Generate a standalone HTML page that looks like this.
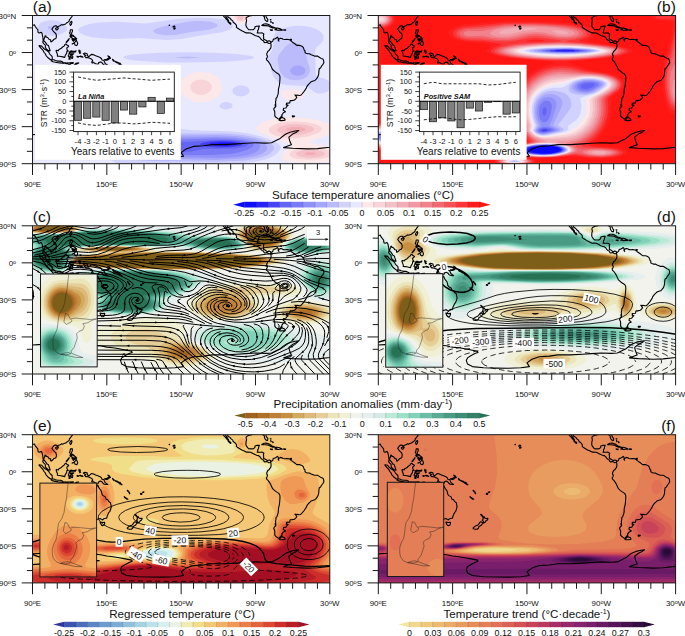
<!DOCTYPE html>
<html><head><meta charset="utf-8"><style>
html,body{margin:0;padding:0;background:#fff;width:685px;height:636px;overflow:hidden;position:relative}
text{font-family:"Liberation Sans",sans-serif}
</style></head><body>
<svg width="685" height="636" viewBox="0 0 685 636" style="position:absolute;left:0;top:0" font-family='"Liberation Sans", sans-serif'>
<rect width="685" height="636" fill="#fff"/>
<clipPath id="clipa"><rect x="32.50" y="15.50" width="297.30" height="148.20"/></clipPath>
<g clip-path="url(#clipa)">
<rect x="32.50" y="15.50" width="297.30" height="148.20" fill="#e8e8ff"/>
<path d="M143.4 167.4L160.1 167.2L186.1 164.6L231.9 164L254.2 162L265.4 159.6L272.8 156.6L276.5 153.8L278.9 151.3L280.5 148.9L280.8 146.4L278.6 143.9L271.4 140.2L259.2 135.9L248 133.2L229.5 131.2L192.3 130.3L182.5 129.1L166.3 126.2L153.9 125.3L135.3 126.1L126.6 127.4L118 129.6L110.5 132.3L105.6 134.9L101.7 137.8L98.6 141.5L97.2 145.2L97.2 147.6L97.9 150.1L101.7 155.1L106.8 158.6L114.3 162L122.9 164.6L134.1 166.6L143.4 167.4ZM223.8 109.4L227 109.5L230.7 108.3L232.2 106.9L232.5 105.7L232.1 104.4L230.7 103L227 102L224.5 102.1L221.5 103.2L220 104.4L219.5 105.7L219.7 106.9L220.8 108.1L223.8 109.4ZM236.7 95.8L240.6 96.5L245.6 95.5L248.8 93.3L249.4 92.1L249.4 89.6L247.4 87.1L244.3 85.7L239.4 85.3L235.7 86.4L233.2 88.4L232.3 90.8L233.2 93.4L236.7 95.8ZM317.1 93.3L322.4 93.6L326.9 92.1L329.9 89.6L331.2 85.9L330.7 83.4L328.6 80.8L324.8 78.8L317.4 76.9L315.8 74.8L315 51.3L316.4 47.6L321.7 42.7L323.3 40.2L323.7 36.5L322.6 34L320.3 31.6L316.2 29.1L310 27L303.8 26L296.4 25.8L290.2 26.5L284 28.1L279.1 30.3L275.9 32.8L274.2 35.3L273.5 37.7L273.4 43.9L272.5 48.8L271.5 51.3L267.2 57.5L269.7 63.7L271.5 72.3L273.7 77.2L277.8 82L281.5 84L286.4 85L305.5 85.9L308.7 87.5L313.7 91.8L317.1 93.3ZM165.7 62.4L188.6 62.6L225.7 61.7L245.6 60L251.9 58.7L254.2 57.5L252.5 56.3L248 55.4L233.2 53.7L213.4 52.7L187.3 52.2L161.3 52.7L141.5 53.7L129.1 55.1L124.5 56.3L123 57.5L125.4 59L134.1 60.5L165.7 62.4ZM151.7 39L167.5 40.1L181.2 39.1L197.3 36.1L222 32.3L230.7 29.2L232.3 27.8L232.8 26.6L231.7 24.1L229.5 21.9L227.2 20.4L224.5 19.6L212.1 18L196 17.7L177.4 19.1L145.2 23.4L116.7 21.8L99.4 22.4L90.7 23.7L84.7 25.4L79.7 27.8L78.5 29.1L78.1 30.3L79.8 32.8L84.5 35.2L90.7 36.9L98.2 38.1L114.3 38.9L139 37.9L151.7 39ZM46 35.3L52.3 36L59.8 34.7L65.8 31.6L66.9 30.3L67.2 27.8L64.3 24.1L58.5 21.1L51.1 20L44.9 20.9L41.2 22.6L39.4 24.1L37.8 27.8L38.4 30.3L39.9 32.2L42.4 33.9L46 35.3Z" fill="#d2d2ff" fill-rule="evenodd"/><path d="M154.3 161.2L218.3 161.8L244.3 160.4L258 158.2L266.6 155.5L269.7 153.8L272.5 151.3L273.9 148.9L274 147.6L272.8 145.2L271.5 143.9L264.5 140.2L254.2 137L243.1 134.9L225.7 133.6L181.2 133.4L153.9 131.8L140.3 132.4L127.9 134.9L122.9 136.7L118.7 139L115.8 141.5L114.1 143.9L113.7 147.6L114.8 150.1L118.7 153.8L123.3 156.3L130.4 158.7L137.8 160.2L154.3 161.2ZM290.1 79.7L297.6 80.2L303.8 78.8L307.6 76L309.2 73.5L309.9 71.1L309.6 67.4L307.5 61.2L306.1 55L303.8 49.2L300.1 44.5L297.6 43.2L295.1 42.6L290.2 43.3L285.4 46.4L278.8 55L277.4 58.7L279.1 68.6L281 73.5L284.4 77.2L290.1 79.7ZM173.4 57.5L187.3 58.4L200.7 57.5L187.3 56.5L173.4 57.5ZM164.3 35.3L175 35.1L191.1 32.1L208.4 29.7L215.2 27.8L217.1 26.6L217.7 25.4L217 24.1L214.9 22.9L210.5 21.7L202.2 20.9L193.5 21.1L184.9 22.2L162.7 26.6L156.4 28.5L153.5 30.3L153.3 31.6L154.6 32.8L157.6 34L164.3 35.3ZM48.3 29.1L49.8 29.8L52.3 29.9L54.5 29.1L55.1 27.8L53.6 26.3L49.8 26L48.4 26.6L47.7 27.8L48.3 29.1Z" fill="#bbbbfc" fill-rule="evenodd"/><path d="M174.3 158.8L215.8 159.9L241.8 158.6L254.2 156.5L261.7 154L265.7 151.3L266.6 150.1L267.3 147.6L266.3 145.2L263.4 142.7L258 140.3L253 138.8L238.1 136.3L219.6 135.3L156.4 135.7L145.2 136.3L137.8 137.5L131.6 139.5L126.6 142.5L124.9 145.2L124.8 147.6L125.4 148.9L127.7 151.3L131.6 153.5L136.6 155.2L150.2 157.5L174.3 158.8ZM293 74.8L297.6 75.9L302.5 74.7L305.1 72.3L305.4 69.8L304.9 68.6L302.5 66.4L300.1 65.6L296.4 65.6L293.9 66.3L290.8 68.6L290 71.1L291.3 73.5L293 74.8Z" fill="#a5a5fa" fill-rule="evenodd"/><path d="M190.7 157.5L220.8 157.9L241.7 156.3L248.2 155.1L255.3 152.6L258.6 150.1L260.2 146.4L259.1 143.9L257.5 142.7L248 139.6L233.2 137.6L214.6 137L168.8 137.9L151.4 139L140.2 141.5L135.9 143.9L134.6 146.4L135.5 148.9L137.8 150.7L142 152.6L147.7 154.1L163.8 156.1L190.7 157.5Z" fill="#9191fa" fill-rule="evenodd"/><path d="M180.2 155.1L212.1 155.1L231.5 153.8L238.4 152.6L246.8 149.9L251.8 147.4L253.7 145.2L253.3 143.9L251.7 142.7L243.1 140.3L230.7 138.9L215.8 138.6L173.7 139.8L161.3 140.6L149.8 142.7L146.5 144.2L144.4 146.4L144.5 147.6L145.5 148.9L147.3 150.1L153.9 152.3L163.8 153.9L180.2 155.1Z" fill="#7a7af6" fill-rule="evenodd"/><path d="M164.9 151.3L173.7 152.2L182.4 152.3L191.1 151.5L203.4 149.1L235.7 148.4L245.6 146.4L247.7 145.2L247.8 143.9L244.3 142.1L238.1 140.8L228.2 139.9L217.1 139.9L189.8 141.8L166.9 142.7L159.7 143.9L156.4 145.2L155 146.4L155 147.6L156.4 148.9L159.3 150.1L164.9 151.3Z" fill="#6464f5" fill-rule="evenodd"/><path d="M206.4 146.4L218.3 147.4L230.7 147.2L239.4 146L241.8 145.2L242.6 143.9L240.6 142.7L235.7 141.6L223.3 140.8L209.6 141.5L202.8 142.7L200 143.9L200.8 145.2L206.4 146.4Z" fill="#4641f2" fill-rule="evenodd"/><path d="M210.8 145.2L218.3 146.1L227 146.2L235.6 145.2L237.2 143.9L234.5 142.7L231.9 142.3L219.6 141.9L211.7 142.7L208.9 143.9L210.8 145.2Z" fill="#2823f5" fill-rule="evenodd"/><path d="M217.3 143.9L223.3 144.9L230 143.9L223.3 143.1L217.3 143.9Z" fill="#0f0fff" fill-rule="evenodd"/><path d="M296.3 162.5L306.3 162.9L316.2 162.6L326.1 161.7L334.8 159.7L334.8 147.9L326.1 145.8L314 143.9L310.3 142.7L310.7 141.5L313.3 140.2L326.1 135.9L331 133.2L333.4 130.4L333.7 129.1L332.7 126.6L329.8 124.3L327.1 122.9L317.4 120L306.3 118.2L290.2 117.1L280.2 117.5L271.6 118.9L264.1 121.4L257.8 125.4L256 127.9L255.9 129.1L258.1 131.6L266 135.3L290.1 143.9L291 145.2L290.3 146.4L285.1 151.3L282.4 155.1L281.8 157.5L282 158.8L283.2 160L285.2 160.9L296.3 162.5ZM196 102L202.2 102.4L208.4 101.4L214.6 98.7L218.5 95.8L221.3 90.8L222 85.9L220.5 81L217.3 77.2L213.4 74.7L208.4 72.8L203.4 72L198.5 72L193.5 72.8L189.8 74.1L186.1 76.2L182.4 79.6L180.7 82.2L179.6 85.9L179.9 89.6L181.4 93.3L183.6 96.1L187.3 98.9L192.3 101.1L196 102ZM292.2 100.7L297.6 100.1L301.4 98.2L303.3 95.8L303.1 93.3L302.3 92.1L298.8 90L292.6 89.1L286.4 89.7L283.1 90.8L281.5 92.1L280.8 94.5L282.7 97.6L286.4 99.7L292.2 100.7ZM237 22.9L239.4 23.8L241.8 24L245.6 22.9L248.2 20.4L251.3 15.5L250.9 14.3L244.3 11.3L240.6 10.8L236.9 11.3L230.2 14.3L230.3 15.5L233.9 20.4L237 22.9ZM145.3 15.5L156.6 15.5L166.3 14.3L137 14.3L145.3 15.5Z" fill="#fce8e8" fill-rule="evenodd"/><path d="M297 158.8L307.5 159.8L319.9 159.2L328.6 157.1L331.8 155.1L332.3 153.8L331.8 152.6L329.8 151.1L322.4 148.7L311.2 147.6L301.3 147.9L293.6 150.1L291.4 151.5L289.5 153.8L289.5 155.1L290.3 156.3L292.6 157.6L297 158.8ZM284.3 137.8L295.1 138.3L308.7 136.2L318.8 132.8L320.6 131.6L321.9 129.1L320.4 126.6L314.9 124L306.3 122.2L296.4 121.4L286.4 121.8L279 123L272.8 125.2L269.2 127.9L268.5 130.4L270.3 132.8L275.3 135.4L284.3 137.8ZM197.7 94.5L201 94.9L204.7 94.4L209.6 91.8L211.3 89.6L211.9 87.1L211.3 84.7L209.6 82.4L205.9 80.2L201 79.4L196 80.2L192.3 82.4L190.2 85.9L190.6 89.6L193.5 92.8L197.7 94.5ZM239.2 21.7L243.1 21.5L245.6 19.5L246.5 16.7L246.2 15.5L245 14.3L241.8 13.2L239.4 13.2L236.9 13.9L235.1 15.5L234.9 16.7L235.8 19.2L236.9 20.5L239.2 21.7Z" fill="#f8d4d8" fill-rule="evenodd"/><path d="M305.1 157.5L312.5 157.7L318.7 157.1L323.6 155.4L325 153.8L324.3 152.6L321.1 151.1L316.2 150.1L310 149.7L303.9 150.1L300.1 150.9L296.7 152.6L296 153.8L296.6 155.1L298.8 156.3L305.1 157.5ZM282.8 134.1L291.4 135.2L302.5 134.5L311.2 132L313.6 130.4L314 129.1L313.4 127.9L311.7 126.6L305 124.7L296.4 124L287.7 124.5L280.2 126.6L277.3 129.1L277.2 130.4L277.9 131.6L282.8 134.1ZM238.3 19.2L240.6 20.1L241.8 20L243.2 19.2L243.9 16.7L243.1 15.5L241.8 15L239.4 15L238.1 15.5L237.4 16.7L238.3 19.2Z" fill="#f4c0c8" fill-rule="evenodd"/><path d="M306.7 155.1L313.7 155.1L316.4 153.8L314.5 152.6L310 152.2L306.3 152.6L304.5 153.8L306.7 155.1ZM288.7 131.6L293.9 132.3L300.1 131.9L304.8 130.4L305.5 129.1L304.2 127.9L300.1 126.8L292.6 126.7L287.9 127.9L286.3 129.1L286.4 130.4L288.7 131.6Z" fill="#f2acb6" fill-rule="evenodd"/>
<path d="M30 25.4L32.5 25.4L34.4 24.8L35.3 26.6L36.8 28.5L37.8 29.7L38.1 32.5L39.3 33L41.2 32.2L42 33.4L42.7 36.5L43.2 40.2L42.8 42.4L43.9 43.9L45.3 45.1L45.4 47.6L46.5 49.1L48 50.2L49.2 50.9L50.2 50.8L49.1 47.6L48.5 45.6L47.1 44.9L45.3 42.1L43.9 40.8L43.9 39.2L44.9 37.1L45 35.9L46 36L46 37L47.7 37.5L49.2 39.5L50.6 39.7L50.8 41.8L51.2 41.9L52.7 40.8L53.6 39.6L55.8 38.6L56.3 37.1L56.4 35.6L55.8 33.5L54.2 32.2L52.9 30.6L51.9 29.2L52.9 27.6L54.2 26.2L55.4 25.9L56.7 26L57.2 27.4L57.9 27.5L58 26.4L59.5 25.9L61 25.1L61.7 24.6L62.6 25L64.1 24.4L65.7 23.9L66.9 22.7L67.9 22.2L69.2 21.1L69.4 19.7L70.3 18.8L71.1 17.6L72 16.5L72.4 15.5L72.1 13M227.2 14.9L228 17L230 18.2L231.1 19.7L232.8 20.9L233.2 22.3L235.2 23.8L236.3 25.1L236.6 26L236.3 27.1L237.3 28L238.9 29L240.6 30.1L241.8 30.8L244.3 31.9L246.2 32.9L248 32.8L250.5 33L253.4 34.5L255 35.4L256.7 36L258.3 36.4L259.7 37.2L260.8 39L262.2 40.2L263.5 40.8L264.1 42.3L264.8 42.7L266.6 42.3L267.6 42.7L268.9 43.5L270.1 43.3L271 42.1L270.7 43.2L271 44.4L271.1 46.4L270.7 48.2L269.6 49.6L269.1 50.6L267.7 51.4L267.4 52.4L266.7 53.8L266.9 55.3L267.5 55.8L267.2 57.5L266.4 58.6L266.7 60L268.2 61.4L269.5 63.2L270.6 65.1L271.6 67.4L272.6 69.5L274.7 71.4L276.5 72.7L278.8 74.2L279.9 76L280 78.5L279.8 81L279.6 83.4L279.3 85.9L278.6 88.4L278.4 90.2L278.3 92.7L278 94.4L277.4 95.9L277 97.3L275.9 98.6L276 100.1L275.5 102L275.7 103.4L275.7 104.9L275.8 106.6L274.3 108L273.7 109.1L274.3 110.5L274.8 111.8L274.8 113.7L274.8 115.9L275.9 117.3L276.9 117.9L278 118.7L279 119.1L279.6 118.4L280.5 117.4L282.2 117.1L281.1 116.5L282.1 115.8L281.7 114.8L282.7 113.8L283.3 112.7L285.5 111.8L284.6 111L283.2 110.1L283.6 108.2L285.9 108L286.9 106.3L288.1 105.4L286.2 104.9L286.8 103.9L286.4 103.2L289.8 102.9L289.9 101.7L290.2 100.6L292 100.6L294.5 100L295.9 98.6L296.8 97.4L296.1 96.3L294.9 94.9L296.2 95.5L297.1 95L299.1 95.5L300.7 95.3L301.9 94L303.8 91.8L305.3 89.6L306.5 87.7L306.8 86.6L308.5 84.3L310 82.9L311.2 81.7L313.2 81L314.9 80.5L316.2 79.1L317.7 77.2L318.2 75.8L318.7 74.2L318.9 71.1L319.3 68.6L320.6 67.9L321.7 65.8L323 64.3L323.9 62.4L323.6 60.6L323 59.1L321.1 58.4L319.3 57.2L317.4 56L314.9 56.1L313.9 55.8L311.2 54.8L309.4 53.8L307.5 53.8L306 53.2L305 52.5L305 50.7L304.2 50.1L303.4 47.6L302.5 46.6L300.7 45.8L299.5 45.4L296.7 45.4L295.1 44L292.6 42.2L291.4 41.4L290.4 40.4L289.5 39.7L286.7 39.3L285.2 39.5L283.1 39.3L281.9 38.5L280.5 38.2L279.1 39L278.4 39.6L278.9 41.1L278.1 40.2L278.4 39L278.1 38L277.4 37.2L276 38.3L274.7 39L273.7 39L273.2 39.5L272.9 40.8L271.8 41.9L271 42.1L270.6 41.4L269.2 40.8L268.1 41.1L267.4 41.4L265.8 40.3L263.5 39L263.7 37.1L263.4 35.3L263.9 34L262.2 32.9L260.8 33L257.7 33L257.2 32.9L257.7 32.3L257.7 30.4L258.4 29.6L258.7 27.8L259.4 26L258.6 26L256.6 26.2L255 26.7L254.9 28.2L253.4 29.6L251.1 29.7L248.7 29.6L247.7 28.5L246.3 26.7L245.9 25L246.1 22.5L246.6 20.7L246.3 19.6L246.1 18L247.3 16.9L249.3 16L251.1 15.7L253.4 14.9M261.9 14.9L262.9 15.6L264.5 16.7L264.4 18.1L265 19.5L265.6 20.6L267 21.4L267.6 21.3L267.9 19.5L266.9 18.2L266.1 16.7L266 14.9M222.8 14.9L223.6 16.1L224.5 17.2L225.6 18.2L226.5 19.6L227.7 20.4L228.1 21.9L229.5 23.4L230.6 24.3L230.9 24.1L230.7 23L229 22.3L228.5 20.4L227.6 19.2L226.2 16.9L225.2 15.5L224.9 14.9M30 134.7L32.5 134.7L38.7 134.3L44.9 134.1L51.1 133.8L57.3 134.3L63.5 135L69.7 134.8L75.9 134.3L82 134.2L88.2 134.1L94.4 134.9L100.6 135.5L106.8 136.8L113 137.5L119.2 138.5L125.4 139.7L131.6 140.9L132.2 142.1L129.1 143.3L125.4 145.2L121.7 147.6L120.5 150.1L121.7 153.8L126.6 156.3L137.8 157.5L150.2 157.8L162.6 157.9L175 157.5L183.6 156.3L181.2 152.6L186.1 148.9L193.5 146.4L203.4 145.8L212.1 144.6L224.5 144.6L236.9 143.9L245.6 143.3L255.5 142.7L265.4 143.1L271.6 142.7L276.5 140.2L280.2 138.4L284 135.3L286.4 133.8L290.2 132.2L295.1 131L298.8 130.6L296.4 132.2L292.6 134.1L288.9 137.1L289.5 140.2L291.4 144.7L286.4 146.4L283.6 147.6L292.6 148.3L307.5 148.9L317.4 148.6L329.8 147.2L332.3 146.4M55.5 28.8L56.3 29.9L57.4 29.8L58.4 28.3L58 27.7L56.8 27.8L55.7 28.3ZM69.8 24.1L70.5 25.4L71.4 24.4L72 22.2L71.6 21.3L70.9 21.7L69.9 23.2ZM70.4 29.7L72.4 29.7L72.4 31.6L71.6 33L71.8 35L72.8 35.3L73.6 35.8L74.7 37L73.8 36.5L72.9 36.2L71.8 35.4L70.4 35.4L70.4 34.3L69.4 32.9L70 32.5L70.2 30.9ZM72.1 43.9L73.4 43.2L74.2 42.7L75.2 41.9L76.4 40.4L77.7 43.3L77.3 44.8L76.4 45.6L74.9 44.9L74.5 43.5L73.1 43.4L72.4 44ZM75 37.1L76.7 38.6L75.9 40.2L75.2 39.2L75.4 38.2ZM72 37.9L73.5 38.7L73 39.7L72.1 39.6ZM73.3 39.1L74.1 39.7L73.5 41.3L72.6 40.3ZM74.5 38.7L74.6 40L73.9 40.7L74 39.6ZM70 35.9L71.5 36.1L71.1 37.5L70.2 36.9ZM66.2 42.2L69.2 38.5L68.7 39.8L66.6 42.4ZM56 50.7L56.8 52.8L57.5 54.6L57.4 56.1L59.4 56.3L61 56.5L62.8 56.9L64.7 57.4L65.3 55.3L66.6 53.4L66.9 51.3L68.3 51.2L67.1 49.8L66.8 47.9L67.9 47.1L68.7 46.1L66.8 45L65.9 43.9L65.1 44.4L64 46.1L62.5 47L61 48.6L58.9 49.6L58.3 50.7L56.8 50.2ZM39.1 45.6L41.8 46.1L43.3 48L45.4 49.8L46.6 50.3L48.7 52.1L49.6 53.8L50.5 54.8L52.1 56.3L52.3 58.1L52.1 59.7L50.6 59.8L47.7 57.5L46.1 55.6L45.1 53.5L44 52.3L43 50.3L41.4 48.6L39.9 47L39.1 46ZM51.3 60.9L52.3 59.8L53.9 59.8L55.4 60.5L57.9 61.1L60.5 61.1L62.8 62.1L62.7 63.3L60.4 62.9L57.9 62.7L55.4 62.2L52.9 61.7L51.6 61.1ZM62.8 62.6L64.3 62.9L63.7 63.4ZM64.7 62.9L65.6 62.7L65.3 63.5ZM65.9 63L68.4 62.7L68.2 63.4L65.9 63.7ZM69.4 62.9L73.3 62.6L73.1 63.4L70.3 63.4ZM74 65.3L76.1 63.2L78.7 62.9L75.9 64.4ZM68.4 64.4L70.7 64.9L69.9 65.3ZM68.2 56L68.9 54.4L69.4 52.4L69.8 51.6L70.9 50.9L72.8 51.3L74.6 51.4L76.1 50.7L75.4 51.9L73.6 52.1L71 52.1L69.8 52.7L70.3 54.4L71.5 53.8L73.8 53.7L72.5 54.8L71.3 54.9L72.8 56.5L72.5 58.5L71.5 58.2L70.8 55.8L70 56.1L70.2 59.3L69 59.3L69.2 57.9L69 56.9L68.2 56ZM79 50.1L79.6 51.3L80.4 50.9L79.6 52.1L80.7 52.9L79.8 53.5L79.1 51.9L78.8 50.7ZM79.6 56.5L83 57.2L82.3 56.6L80.2 56.1ZM77.1 56.4L78.6 56.6L78.2 57.2L77.2 57ZM83.3 53.8L84.8 53L87.1 53.7L87.6 55.8L88.9 56.7L91.3 54.4L93 54.6L95.7 55.8L97.8 56.6L100.1 57.5L101.6 58.7L101.9 60L103.7 60.3L104.2 61.2L105.2 63.5L106.6 64.4L107.8 65.3L106.5 65.3L104.3 65L103.2 64.3L101.9 62.6L100.3 61.9L98.5 62.7L98.6 63.7L97.7 64L95.7 63.8L93.4 62.6L92 62.9L91.6 61.9L92.8 61.1L91.8 59.2L89.2 58.1L87.1 57.4L85.9 57.6L84.5 56L85.9 55.5L84.4 54.5ZM104.7 59.5L106.9 59.2L108.7 57.9L109.7 57.9L108.9 59.3L106.9 60.2L105 60.1ZM107.8 55.9L109.3 56.6L110.5 58.4L109.9 58.2L108.8 56.9ZM112.5 59.2L114.1 60.7L113.5 61.1L112.8 60ZM114.9 61.2L118 62.4L119 63.2L117.4 62.9L115.2 61.8ZM119.8 63L121.1 64.7L120.6 64.8L120 63.7ZM118.8 64L120.2 64.3L119.6 64.7ZM121.1 65.1L122.1 65.6L121.2 65.6ZM127.3 71.1L128.1 71.4L127.9 71.9L127.4 71.7ZM128.1 72.3L129.5 73.1L129.1 73.5ZM129.4 74.2L129.9 74.3L129.6 74.7ZM124.2 77.4L126 78.7L127.9 80.1L127.1 80.1L124.4 78ZM140.6 74.2L142.1 74.5L141.6 75.2L140.5 74.9ZM142.3 73.1L144 72.6L143.4 73.3ZM61.6 79.7L62 82.8L61.5 83.4L62.5 85L63.5 89L64.3 91.6L64.2 93.9L63.5 94.9L65.5 95.8L67.2 95.9L69 95L70.9 94.3L74.1 94.4L75.9 92.9L78.5 92.4L80.8 91.7L83.5 91.5L85.8 92.2L87.4 92.9L88.5 95.3L89.4 95.5L89.5 94.3L91.3 92.8L91.8 94L91.7 95.8L92.6 95.4L92.1 96.5L93.9 96.9L94.2 98.6L95.2 99.5L96.4 99.9L97.8 100.1L99.4 99.6L100.5 99.4L101.4 100.2L102.4 100.8L103.9 99.5L105.6 99.1L106.8 98.9L107.1 97L108.1 94.9L108.9 93.3L109.9 92.1L110.7 90L111.3 87.4L110.7 84.7L110.5 83.5L108.7 82.2L107.8 80.5L106.2 80L105.3 77.7L103.1 76.4L102.1 75.3L101.7 73.4L101 71.1L100 70.1L98.8 68.4L97.9 66.1L97.5 65.8L96.9 67.2L96.4 68.6L96.3 71.1L95.4 74L94.2 74L93.2 73.3L91.7 72.6L90.5 72.1L89.2 71.1L88.9 70.7L89.5 69.5L90.5 67.7L89.5 67.2L87.6 67.4L85.8 66.8L85.3 66.6L84.3 66.5L83 67.9L82 68.6L81.4 71L80.2 70.8L78.8 69.8L77.2 70L75.9 71.3L74.1 72.9L72.8 74.2L72.4 75.2L70.9 76.8L68.4 77.4L66.1 78.1L65.6 78L63.7 78.9L62.4 80ZM100.1 102.8L102.5 103.3L104.7 103.1L104.6 104.4L104.1 105.9L102.9 106.4L101.7 106.3L100.9 104.9L100.3 103.6ZM134.9 95L136.1 95.8L136.9 96.8L137.5 98L138.4 97.6L138.9 98.7L140.3 99.4L142.1 99.1L141.9 100.2L141.4 101L140.3 101.3L140 102.2L138.9 103.4L138 103.9L137.4 103.6L137.9 102.8L137.3 101.8L136.3 101.1L137.2 100.3L137.3 98.6L136.9 97.6L135.8 96.5L134.9 95.2ZM134.9 102.6L136.6 103.2L136.9 104L135.9 105.5L135.1 106.4L133.2 107.3L132.6 109.1L131.4 110L129.6 110.1L127.5 109.6L127.3 108.7L128.6 107.6L129.7 106.9L132.2 105.7L133.3 104.4L134.1 103.2ZM173.7 26.2L175 26.4L174.2 25.9ZM173.8 28.2L175 27.7L175.2 28.5L174.1 29.2ZM173 26.6L173.7 26.7L173.2 27.1ZM169.1 25.3L169.6 25.1L169.4 25.5ZM282.2 117.6L284.6 118.6L285.2 120L284 120.4L281.7 120.6L280 120.6L279 120.1L280.2 119.2L281.1 118ZM292.4 115.9L294.6 116L294.1 116.8L292.5 117ZM275.2 104.2L275.7 104.3L275.8 106L275.2 105.9ZM261.8 25.5L262.2 25L264.1 24L266 23.9L267.9 24.3L269.7 25.1L271.6 26.6L275 27.7L274.7 28L272.8 28L270.3 27.1L269.7 26.7L268.5 25.9L265.4 25.6L263.8 25.6ZM274.8 28L277.2 28L279.6 28.6L282.1 29.7L282.4 30.1L279.6 30.1L277.8 30.3L275.9 29.9L274.9 29.8L275.7 29.3L276.8 29ZM270.3 29.8L272.4 29.8L272.3 30.4L270.6 30.2ZM283.7 29.7L285.7 29.8L285.6 30.3L283.8 30.3ZM290.4 39.3L291.5 39.2L291.4 40.2L290.4 40.1ZM270.3 19.5L271.1 19.7L270.6 19.9ZM270.7 21.4L271.3 22.2L271 22.5ZM272.6 22.5L273.3 23.2L272.8 23.4Z" fill="none" stroke="#000" stroke-width="1.1" stroke-linejoin="round"/>
</g>
<rect x="35.00" y="64.80" width="145.80" height="95.00" fill="#fff"/>
<g fill="#808080" stroke="#111" stroke-width="0.7"><rect x="74.40" y="101.30" width="7.2" height="19.00"/><rect x="83.60" y="101.30" width="7.2" height="16.94"/><rect x="92.80" y="101.30" width="7.2" height="15.77"/><rect x="102.00" y="101.30" width="7.2" height="19.00"/><rect x="111.20" y="101.30" width="7.2" height="21.61"/><rect x="120.40" y="101.30" width="7.2" height="8.76"/><rect x="129.60" y="101.30" width="7.2" height="12.85"/><rect x="138.80" y="101.30" width="7.2" height="5.65"/><rect x="148.00" y="97.31" width="7.2" height="3.99"/><rect x="157.20" y="101.30" width="7.2" height="12.07"/><rect x="166.40" y="98.11" width="7.2" height="3.19"/></g>
<polyline points="78.00,76.97 87.20,78.72 96.40,80.28 105.60,79.50 114.80,78.72 124.00,77.94 133.20,78.72 142.40,79.50 151.60,80.28 160.80,79.69 170.00,79.11" fill="none" stroke="#111" stroke-width="0.9" stroke-dasharray="3,2"/>
<polyline points="78.00,122.92 87.20,124.67 96.40,125.45 105.60,124.28 114.80,122.92 124.00,123.11 133.20,123.89 142.40,123.31 151.60,122.33 160.80,122.72 170.00,123.31" fill="none" stroke="#111" stroke-width="0.9" stroke-dasharray="3,2"/>
<rect x="73.60" y="72.10" width="100.70" height="59.50" fill="none" stroke="#111" stroke-width="0.9"/>
<line x1="73.60" y1="101.30" x2="174.30" y2="101.30" stroke="#111" stroke-width="1.1"/>
<g stroke="#111" stroke-width="0.8"><line x1="69.40" y1="130.51" x2="73.60" y2="130.51"/><line x1="71.30" y1="125.64" x2="73.60" y2="125.64"/><line x1="69.40" y1="120.77" x2="73.60" y2="120.77"/><line x1="71.30" y1="115.91" x2="73.60" y2="115.91"/><line x1="69.40" y1="111.04" x2="73.60" y2="111.04"/><line x1="71.30" y1="106.17" x2="73.60" y2="106.17"/><line x1="69.40" y1="101.30" x2="73.60" y2="101.30"/><line x1="71.30" y1="96.44" x2="73.60" y2="96.44"/><line x1="69.40" y1="91.57" x2="73.60" y2="91.57"/><line x1="71.30" y1="86.70" x2="73.60" y2="86.70"/><line x1="69.40" y1="81.83" x2="73.60" y2="81.83"/><line x1="71.30" y1="76.97" x2="73.60" y2="76.97"/><line x1="69.40" y1="72.10" x2="73.60" y2="72.10"/><line x1="78.00" y1="131.60" x2="78.00" y2="135.20"/><line x1="87.20" y1="131.60" x2="87.20" y2="135.20"/><line x1="96.40" y1="131.60" x2="96.40" y2="135.20"/><line x1="105.60" y1="131.60" x2="105.60" y2="135.20"/><line x1="114.80" y1="131.60" x2="114.80" y2="135.20"/><line x1="124.00" y1="131.60" x2="124.00" y2="135.20"/><line x1="133.20" y1="131.60" x2="133.20" y2="135.20"/><line x1="142.40" y1="131.60" x2="142.40" y2="135.20"/><line x1="151.60" y1="131.60" x2="151.60" y2="135.20"/><line x1="160.80" y1="131.60" x2="160.80" y2="135.20"/><line x1="170.00" y1="131.60" x2="170.00" y2="135.20"/></g>
<g font-size="7.3" fill="#111"><text x="66.20" y="133.11" text-anchor="end">-150</text><text x="66.20" y="123.37" text-anchor="end">-100</text><text x="66.20" y="113.64" text-anchor="end">-50</text><text x="66.20" y="103.90" text-anchor="end">0</text><text x="66.20" y="94.17" text-anchor="end">50</text><text x="66.20" y="84.43" text-anchor="end">100</text><text x="66.20" y="74.70" text-anchor="end">150</text></g>
<g font-size="7.6" fill="#111"><text x="78.00" y="144.20" text-anchor="middle">-4</text><text x="87.20" y="144.20" text-anchor="middle">-3</text><text x="96.40" y="144.20" text-anchor="middle">-2</text><text x="105.60" y="144.20" text-anchor="middle">-1</text><text x="114.80" y="144.20" text-anchor="middle">0</text><text x="124.00" y="144.20" text-anchor="middle">1</text><text x="133.20" y="144.20" text-anchor="middle">2</text><text x="142.40" y="144.20" text-anchor="middle">3</text><text x="151.60" y="144.20" text-anchor="middle">4</text><text x="160.80" y="144.20" text-anchor="middle">5</text><text x="170.00" y="144.20" text-anchor="middle">6</text></g>
<text x="122.80" y="154.70" font-size="10" fill="#111" text-anchor="middle">Years relative to events</text>
<text transform="translate(47.30,103.00) rotate(-90)" font-size="8.6" fill="#111" text-anchor="middle">STR (m<tspan font-size="6" dy="-3.2">3</tspan><tspan dy="3.2">·s</tspan><tspan font-size="6" dy="-3.2">-1</tspan><tspan dy="3.2">)</tspan></text>
<text x="78.00" y="99.20" font-size="7.3" font-weight="bold" font-style="italic" fill="#111">La Niña</text>
<clipPath id="clipb"><rect x="378.30" y="15.50" width="297.30" height="148.20"/></clipPath>
<g clip-path="url(#clipb)">
<rect x="378.30" y="15.50" width="297.30" height="148.20" fill="#ff1612"/>
<path d="M499.1 163.7L509.6 164.8L525.7 164.4L533.1 163.1L534.9 162.5L536.4 161.2L534.4 159.5L531.6 158.8L533.1 158.4L550.5 158.1L569.1 156.5L592.6 158.5L608.7 158.3L619.9 156.7L624.8 155.1L626.6 153.8L627.2 152.6L626.6 151.3L621.4 148.9L613.7 147.3L596.3 145.3L593.8 143.9L594.2 142.7L603.1 132.8L607.4 125.4L609.7 119.2L610.9 113.1L611 98.2L613.3 95.8L619.9 91.2L622.6 88.4L624 84.7L622.9 81L618.7 77.2L612.4 74.4L606.2 72.8L589.6 69.8L577.7 65.5L566.7 62.4L617.4 56.8L628.8 53.8L631.2 52.5L632.2 51.3L631.7 50.1L627.3 48.1L618.6 46L587.5 41.4L587.4 40.2L592.8 37.7L595.8 35.3L596.5 32.8L594.9 30.3L591.4 28.1L586.4 26.2L571.5 23.3L557.9 22.1L536.9 21.2L503.4 21.3L463.8 24.3L456.3 26L450.5 29.1L448.7 31.6L448.5 32.8L449.3 35.3L451.7 37.7L456.3 40.2L463.8 42.1L484.8 43.6L491.3 45.1L490.8 46.4L486.5 50.1L486.4 51.3L487.5 52.5L492.3 54.7L499.7 56.5L509.6 58.1L556 62.4L541.8 66.8L533.1 71.2L524.2 78.5L517.7 87.1L514.7 93.3L512.6 100.7L512 108.1L512.5 114.3L517 130.4L526.1 141.5L524.5 142.7L517 144.6L510.8 146.9L508.3 148.9L507.9 150.1L508.3 151.3L509.7 152.6L513.3 154.4L520.8 156.3L522 157.1L526.7 157.5L503.4 158.1L496 159.4L493.1 161.2L494.4 162.5L499.1 163.7ZM376.7 150.1L380.8 151.2L383.3 150.8L385.7 149.6L388.9 146.4L391.5 140.2L391.7 134.1L389.7 127.9L385.7 123.4L382 121.9L379.5 121.9L377.1 122.7L373.3 125.7L373.3 147.4L376.7 150.1ZM672.5 114.3L674.4 114.8L676.8 114.3L680.6 111.2L680.6 14.4L679.3 13.4L676.8 12.6L658.3 13L653.3 14.3L651.4 15.5L650.8 16.7L651.4 18L653.3 19.2L658.3 20.5L670.6 21.4L672.9 22.9L673.4 24.1L670.6 39L664.2 61.2L662.9 69.8L662.4 78.5L663 90.8L665 102L668.2 109.9L670.6 113.1L672.5 114.3ZM374 27.8L378.3 28.9L383.3 28.9L387 28.1L390.7 26.5L393.5 24.1L395 21.7L395.4 18L394.3 15.5L391.9 12.9L387.5 10.6L373.3 10.8L373.3 27.6L374 27.8Z" fill="#ff1e1e" fill-rule="evenodd"/><path d="M502.4 163.7L510.8 164.5L522 164.3L530.7 163L532.5 162.5L534 161.2L531.9 159.7L525.7 158.4L515.8 157.9L507.1 158.2L500.9 159L496.8 160L495.3 161.2L496.8 162.5L502.4 163.7ZM536.1 157.5L554.2 157.3L574 155.3L590.1 157.4L603.8 157.7L614.9 156.5L619.9 155.2L622.5 153.8L623.2 152.6L622.5 151.3L617.4 149.2L609.9 147.9L591.7 146.4L588.2 145.2L588.2 143.9L589.3 142.7L595.1 137.8L599.6 132.8L604.3 125.4L606.7 119.2L608 113.1L608.3 106.9L607.8 99.5L609.2 97L618.1 90.8L621.4 87.1L622 83.4L619.7 79.7L614.9 76.5L607.5 74L588 71.1L572.8 66.9L562.9 65.7L553 66.4L543.1 69.1L535.6 72.8L528 78.5L521.7 85.9L517.7 93.3L515.5 100.7L514.8 109.4L516 118L519.7 130.4L529.3 141.5L527.3 142.7L513.3 146.6L509.9 148.9L509.4 150.1L509.9 151.3L512.1 153L519.5 155.6L527 157L536.1 157.5ZM377.2 148.9L379.5 149.7L382 149.7L385.7 148L388.3 145.2L390.4 140.2L390.6 134.1L389 129.1L385.7 125L382 123.4L379.5 123.4L377.1 124.3L373.3 127.7L373.3 145.3L377.2 148.9ZM675 110.6L678.1 109.9L680.6 107.5L680.6 28.8L679.3 25.9L678.1 24.4L676.8 25.2L674.4 31.3L670.6 48.4L666.7 61.2L665.2 68.6L664.5 77.2L665 89.6L667.2 100.7L670.6 107.8L673.1 110L675 110.6ZM540.7 60L554.2 60.8L566.6 60.8L600 58.3L619.9 55.1L626.1 53L628 51.3L627.5 50.1L625.1 48.8L617.4 46.8L579.1 41.4L579.7 40.2L585.2 38.5L589.2 36.5L591.3 34L590.7 31.6L587.4 29.1L582.7 27.3L567.8 24.4L535.6 22.5L504.7 22.8L463.8 26.4L456.3 28.7L453.2 31.6L452.9 34L454.5 36.5L457.6 38.4L461.3 39.8L467.5 40.8L484.8 41.6L501.4 43.9L500.2 45.1L493.5 48.1L491 50.1L490.8 51.3L491.9 52.5L496 54.4L503.4 56.2L513.3 57.7L540.7 60ZM525.7 41.5L525.1 41.4L528.7 40.2L534.4 39.5L545.1 40.2L543.1 41.4L525.7 41.5ZM374.4 26.6L378.3 27.6L382 27.7L388.2 26.2L391.3 24.1L393.1 21.7L393.6 19.2L393 16.7L389.6 13L384.5 11L378.3 10.8L373.3 12.3L373.3 26.2L374.4 26.6ZM674.9 20.4L676.8 21.6L678.1 21.3L679.1 18L678.8 16.7L677.6 15.5L675.6 14.9L662 14.1L657 15.1L655.2 16.7L656.1 18L659.5 19.1L670.6 19.2L674.9 20.4Z" fill="#fa3437" fill-rule="evenodd"/><path d="M505.3 163.7L513.3 164.2L522 163.9L529.4 162.8L532.2 161.2L530.6 160L527 159.1L514.6 158.2L502.2 159.2L498.7 160L497.1 161.2L499.7 162.8L505.3 163.7ZM526.1 156.3L535.6 157.3L550.5 157.2L575.3 154.2L590.1 156.6L602.5 157L612.4 156L619 153.8L619.8 152.6L619 151.3L613.7 149.4L605 148.2L585.2 147.3L581.7 146.4L581.7 145.2L593.8 135.8L597.6 131.6L601 126.6L603.8 120.5L605.4 114.3L605.9 108.1L605.4 99.5L607 97L616.1 90.8L618.8 88.4L620.4 84.7L619.1 81L614.1 77.2L606.2 74.6L597.6 73.1L582.7 71.5L570.3 68.6L562.9 67.9L554.2 68.4L546.8 70.1L539.3 73.2L531.9 78.1L525.4 84.7L520.7 92.1L518.1 99.5L517.1 108.1L518 116.8L520.9 125.4L521.8 130.4L532.1 141.5L529.7 142.7L515.1 146.4L512.1 148L510.6 150.1L512.1 152.2L515.3 153.8L526.1 156.3ZM377.2 147.6L380.8 148.7L384.5 147.6L388 143.9L389.7 139L389.7 134.1L388 129.1L385.7 126.3L382 124.5L379.5 124.5L377.1 125.5L374.6 127.6L373.3 129.5L373.3 143.5L374.6 145.4L377.2 147.6ZM673.7 106.9L676.8 107.6L679.3 106.1L680.6 104.5L680.6 38.4L679.3 33.2L678.1 31.7L676.8 32.3L675.5 35.3L672.1 51.3L667.7 66.1L666.4 76L666.5 85.9L667.9 95.8L670.6 103.2L673.7 106.9ZM552.5 60L575.3 59.7L602.5 57.3L617.4 54.7L623.3 52.5L624.6 51.3L624 50.1L621.4 48.8L609.9 46.3L565.3 41.4L568.9 40.2L575.3 39.4L582.7 37.4L586.2 35.3L587 34L587 32.8L584.7 30.3L580.2 28.3L572.8 26.5L564.1 25.3L534.4 23.5L505.9 24L482.4 26.7L465 27.9L458.8 29.9L456.9 31.6L456.3 32.8L456.9 35.3L460.1 37.5L463.8 38.7L468.7 39.4L481.1 39.7L497.2 41.3L505.9 41.5L514.6 40.8L530.7 37.7L536.9 37.4L559.7 40.2L561.6 41.4L520.8 43.5L509.6 44.7L498.5 47.8L494.8 50.1L494.5 51.3L495.7 52.5L498.5 53.9L510.8 56.7L527 58.4L552.5 60ZM378.8 26.6L384.5 26.4L389.4 24.1L392 20.4L392 18L390.6 15.5L387.2 13L383.3 11.9L378.3 11.9L373.3 13.5L373.3 24.9L378.8 26.6ZM661.9 16.7L665.2 16.7L661.9 16.7Z" fill="#f65054" fill-rule="evenodd"/><path d="M508.6 163.7L515.8 164L523.2 163.5L528.8 162.5L530.7 161.2L528.9 160L525.7 159.3L514.6 158.5L503.4 159.3L500.3 160L498.5 161.2L500.9 162.6L508.6 163.7ZM528.4 156.3L538.1 157.1L551.7 156.9L561.6 155.8L577.7 153L588.9 155.6L601.3 156.3L609.9 155.6L615.9 153.8L616.8 152.6L615.9 151.3L612.4 150.1L598.8 148.6L581.5 149.1L577.7 147.8L576.1 146.4L575.7 145.2L588.9 137.3L593.8 132.8L597.7 127.9L601 121.7L603.2 114.3L603.8 108.1L603.2 99.5L605 97L614.4 90.8L617.1 88.4L618.9 84.7L617.5 81L614.9 78.8L612.1 77.2L602.5 74.5L579.1 72.3L567.8 70.2L561.6 69.8L553 70.6L545.5 72.7L538.1 76.2L531.9 80.7L526 87.1L522.4 93.3L519.9 100.7L519.1 109.4L520.1 116.8L522.9 125.4L523.5 130.4L528.2 135.7L534.7 141.5L531.9 142.7L517 146.2L513.7 147.6L512.2 148.9L511.7 150.1L513.3 152.3L516.5 153.8L523.2 155.6L528.4 156.3ZM380.1 147.6L383.3 147.2L386.1 145.2L388.3 141.5L389.2 136.5L388.7 132.8L387 129L384.5 126.5L380.8 125.3L376.8 126.6L374.6 129L373.3 131.3L373.3 141.8L375.8 145.6L378.3 147.2L380.1 147.6ZM674.2 104.4L675.6 105.1L678.1 104.6L680.6 101.4L680.6 83.4L679.5 77.2L679.1 69.8L679.3 47.6L678.1 40.6L676.8 41.1L675.6 45.3L673.6 55L669.4 68.2L668.1 77.2L668.2 85.9L669.4 94.5L671.4 100.7L674.2 104.4ZM538.3 58.7L564.1 59.5L590.1 58L612.3 55L618.6 53.2L621.5 51.3L620.9 50.1L618.1 48.8L605 46.2L579 43.4L561.6 42.6L535.6 43.5L515.8 45L502.9 47.6L498.5 49.8L497.9 51.3L499.1 52.5L501.8 53.8L509.6 55.7L522 57.4L538.3 58.7ZM489.8 39L499.7 40L508.4 39.9L515.8 38.9L529.4 35.9L535.6 35.4L541.8 35.9L557.9 38.5L569.1 38.7L575.3 37.9L580 36.5L582.1 35.3L583 34L583 32.8L580.4 30.3L577.4 29.1L566.6 26.7L548 25L525.7 24.3L505.9 25.1L482.4 28.5L467.5 29.1L462.5 30.4L460.6 31.6L459.7 32.8L459.7 34L460.4 35.3L462.5 36.6L466.3 37.6L482.4 38.1L489.8 39ZM377 25.4L382 25.8L387.5 24.1L389.4 22.5L390.6 20.4L390.6 18L390.1 16.7L387.5 14.3L383.3 12.7L378.3 12.7L374.1 14.3L373.3 14.8L373.3 23.7L377 25.4Z" fill="#f26870" fill-rule="evenodd"/><path d="M501.8 162.5L508.4 163.5L518.3 163.6L525.7 162.8L529.4 161.2L527.4 160L523.2 159.2L510.8 158.9L503.4 159.6L499.8 161.2L501.8 162.5ZM530.7 156.3L544.3 156.9L557.9 156L567.8 154.3L576.7 151.3L577.1 150.1L571.7 145.2L571.5 143.9L579 141L585.2 137.6L591.1 132.8L595.3 127.9L598.8 121.7L601.1 114.3L601.7 108.1L601.2 99.5L603 97L612.6 90.8L615.5 88.4L617.4 84.7L616.9 82.2L616 81L613.7 79.1L610 77.2L601.3 75L560.4 71.7L553 72.5L545.5 74.7L539.3 77.6L533.1 82L527.4 88.4L523.9 94.5L521.5 102L521 110.6L522.2 118L524.7 125.4L525.1 130.4L530.6 136.5L537.4 141.5L534 142.7L518.3 146.1L514.8 147.6L513.2 148.9L512.7 150.1L513.2 151.3L514.6 152.4L517.7 153.8L524.5 155.5L530.7 156.3ZM590.6 155.1L598.8 155.7L606.2 155.3L612.4 153.9L613.8 152.6L612.7 151.3L609.9 150.5L601.3 149.4L590.1 149.6L582.9 151.3L583 152.6L585.3 153.8L590.6 155.1ZM378.5 146.4L382 146.8L384.5 145.6L387 142.7L388.4 139L388.4 134.1L387 130.4L384.5 127.4L382 126.3L379.5 126.3L377.1 127.4L374.6 130.2L373.3 133.5L373.3 139.6L373.9 141.5L375.8 144.5L378.5 146.4ZM674.6 102L676.8 102.7L678.1 102.2L679.3 100.7L680.6 97.3L680.6 89.5L677.6 77.2L675.6 64.2L674.4 64.4L671.9 69.3L670.6 74.1L670 81L670.2 88.4L671.1 94.5L672.8 99.5L674.6 102ZM547.1 58.7L567.8 58.9L592.6 57.3L609.9 54.7L616.1 52.9L618.6 51.3L618 50.1L615 48.8L602.5 46.4L581.5 44.2L561.6 43.2L531.9 44.4L515.8 45.8L504.7 48.3L501.3 50.1L501 51.3L502.4 52.5L505.3 53.8L515.8 56L529.4 57.6L547.1 58.7ZM492.7 37.7L500.9 38.6L508.4 38.4L514.6 37.4L527 34.4L535.6 33.7L543.1 34.3L557.9 37.3L567.8 37.6L576.5 35.9L579.1 34L579.1 32.8L578.1 31.6L575.3 30.1L565.4 27.7L546.8 26L527 25.3L503.4 26.5L482.4 30.9L468.7 30.9L465.7 31.6L463.9 32.8L463.7 34L465 35.2L467.5 36L471.2 36.3L482.4 35.8L492.7 37.7ZM376 24.1L378.3 24.8L382 25L387 23.4L389.4 20.4L389.4 18L388.8 16.7L385.7 14.4L382 13.4L378.3 13.6L374.6 15.1L373.3 16.1L373.3 22.3L376 24.1Z" fill="#f1828c" fill-rule="evenodd"/><path d="M503.3 162.5L509.6 163.3L518.3 163.4L525.7 162.5L528.1 161.2L525.9 160L522 159.3L510.8 159.1L503.4 160L501 161.2L503.3 162.5ZM533.3 156.3L545.5 156.7L557.9 155.8L568 153.8L574.1 151.3L574.8 150.1L574.3 148.9L570.3 145.8L566.7 143.9L566.6 142.7L575.3 140.4L581.5 137.6L587.6 133.3L592.8 127.9L596.6 121.7L598.8 115.4L599.6 109.4L599.1 99.5L601.1 97L611 90.8L614.9 87.3L616 84.7L615.4 82.2L614.5 81L608.7 77.5L598.8 75.2L590.1 74.4L574 74.4L559.2 73.6L551.7 74.7L545.5 76.6L539.3 79.7L533.1 84.4L528.2 90.3L524.7 97L522.9 104.4L523 113.1L524.2 119.2L526.3 125.4L526.4 130.4L527.1 131.6L532.1 136.5L540.6 141.5L519.5 146.1L515.7 147.6L514.1 148.9L513.6 150.1L514.1 151.3L515.8 152.6L519.5 154L525.7 155.4L533.3 156.3ZM589.3 153.8L596.3 154.9L602.5 154.9L609.2 153.8L610.7 152.6L609.2 151.3L605 150.5L595.1 150.1L587.9 151.3L587.1 152.6L589.3 153.8ZM377.7 145.2L380.8 146.1L383.3 145.6L386.3 142.7L387.8 139L388 135.3L387 131.6L384.5 128.3L382 127.1L379.5 127.1L377.1 128.3L375.2 130.4L373.8 134.1L373.6 137.8L374.1 140.2L375.8 143.5L377.7 145.2ZM675.2 99.5L676.8 100.1L678.1 99.4L679.3 96.9L679.7 93.3L679.3 89.8L678.1 85.7L675.6 80.6L674.4 79.3L673.1 80.5L672.7 82.2L672.2 89.6L673.1 95.8L675.2 99.5ZM534.7 57.5L559.2 58.5L582.7 57.6L605 54.9L612.4 53.1L615.9 51.3L615.3 50.1L612.1 48.8L601.3 46.8L580.2 44.6L561.6 43.8L538.1 44.6L519.5 46.1L507.1 48.7L504.5 50.1L504.1 51.3L507.1 53.2L514 55L534.7 57.5ZM496.9 36.5L502.2 37L508.4 36.7L524.5 33L535.6 31.9L544.3 32.5L559.2 36L566.6 36.3L572.6 35.3L574.6 34L574.7 32.8L573.5 31.6L569.1 29.9L555.3 27.8L535.6 26.5L517 26.5L504.7 27.7L497.6 29.1L493.8 30.3L489.9 32.8L490.2 34L492.2 35.3L496.9 36.5ZM379 24.1L383.3 24L387 22.2L388.4 19.2L387.5 16.7L384.5 14.8L380.8 14.1L377.1 14.8L374.6 16.3L373.4 18L373.4 20.4L375.5 22.9L379 24.1Z" fill="#f198a2" fill-rule="evenodd"/><path d="M504.7 162.5L510.8 163.2L518.3 163.2L524.5 162.5L527 161.2L524.5 160L522 159.6L510.8 159.3L504.7 160L502.2 161.2L504.7 162.5ZM536.5 156.3L546.8 156.4L557.9 155.5L566.6 153.8L572.6 151.3L573.3 150.1L572.9 148.9L570.3 146.8L565.4 144.5L558.3 142.7L556.6 141.5L567.8 140.4L575.3 138.4L582.7 134.6L588.9 129.5L593.7 122.9L596.6 115.5L597.6 109.4L597 99.5L599.2 97L609.3 90.8L613.5 87.1L614.6 84.7L614.5 83.4L613 81L609.9 78.9L606.2 77.4L596.3 75.5L586.4 75L571.5 75.6L559.2 75.5L551.7 76.6L545.5 78.6L539.3 81.8L534.1 85.9L530.7 89.7L527.6 94.5L525.7 99.5L524.6 104.4L524.6 113.1L525.8 119.2L527.8 125.4L527.7 130.4L530.6 134.1L534.4 137L546.7 141.5L522 145.7L516.6 147.6L515 148.9L514.4 150.1L515 151.3L516.7 152.6L520.8 154.1L528.2 155.6L536.5 156.3ZM594.6 153.8L603.8 153.9L607 152.6L604.5 151.3L598.8 150.9L593.3 151.3L591.3 152.6L594.6 153.8ZM379.3 145.2L382 145.3L384.5 143.9L386.3 141.5L387.4 137.8L387.2 134.1L385.7 130.6L383.3 128.3L380.8 127.6L378.3 128.3L376 130.4L374.1 135.3L374.3 139L375.2 141.5L377.1 143.9L379.3 145.2ZM675.5 95.8L676.8 96.4L678 93.3L676.8 89L675.6 88.3L674.8 89.6L674.5 92.1L675.5 95.8ZM542.3 57.5L564.1 58L585.2 56.8L603.8 54.4L611.2 52.6L613.2 51.3L612.6 50.1L609.1 48.8L598.8 47L577.7 45L560.4 44.4L539.3 45L522 46.4L510 48.8L507.6 50.1L507.2 51.3L510.8 53.3L518.3 55L542.3 57.5ZM500.2 34L503.4 34.5L508.4 34.2L523.2 31L539.6 29.1L531.1 27.8L525.7 27.7L518.2 27.8L509.6 28.8L502.3 30.3L499.7 31.6L498.8 32.8L500.2 34ZM559.4 34L566.6 34.2L568.5 32.8L566.7 31.6L560.6 30.3L550.9 30.3L555.3 32.8L559.4 34ZM377.5 22.9L380.8 23.5L384.5 22.7L387 20.4L387 18L385.7 16.5L383.3 15.2L379.5 15L377.1 15.7L375.5 16.7L374.3 19.2L375.5 21.7L377.5 22.9Z" fill="#f2acb6" fill-rule="evenodd"/><path d="M506.1 162.5L518.3 163L523.1 162.5L525.9 161.2L523.1 160L514.6 159.3L506.1 160L503.3 161.2L506.1 162.5ZM526.5 155.1L540.6 156.2L555.4 155.6L567.8 153.1L571.3 151.3L572.1 150.1L571.7 148.9L570.3 147.6L564.1 144.7L556.7 143.1L548 142.4L536.9 143.2L527 144.8L520.6 146.4L515.8 148.9L515.3 150.1L515.9 151.3L517.6 152.6L526.5 155.1ZM378.1 143.9L380.8 144.8L383.3 144.1L385.7 141.5L386.7 139L386.9 135.3L386.3 132.8L384.5 130L382 128.5L379.5 128.5L378.1 129.1L375.8 131.6L374.9 134.1L374.7 137.8L375.2 140.2L376.7 142.7L378.1 143.9ZM542.7 139L551.7 139.6L567.8 138.3L576.5 135.7L583.9 131.2L590.1 124.6L593.8 117.3L595.4 109.4L594.8 99.5L597.2 97L605.7 92.1L610.8 88.4L613.1 84.7L612.5 82.2L608.7 79.2L602.5 77.1L593.8 75.9L583.9 75.7L553 78.3L544.3 81.1L536.9 85.8L531 92.1L527.8 98.2L526.1 105.7L526.1 113.1L527.3 119.2L529.3 125.4L528.9 130.4L529.5 131.6L535.1 136.5L542.7 139ZM554.8 57.5L570.3 57.3L588.9 55.9L603.4 53.8L608.3 52.5L610.6 51.3L609.9 50.1L606.2 48.9L596.3 47.3L576.5 45.4L560.4 44.9L540.6 45.5L523.2 47L513.6 48.8L510.8 50.1L510.5 51.3L514.6 53.3L523.1 55L535.6 56.4L554.8 57.5ZM377.1 21.7L379.5 22.6L383.3 22.2L385.7 20.4L385.7 18L384.4 16.7L382 15.9L378.3 16.2L375.9 18L375.6 19.2L375.9 20.4L377.1 21.7Z" fill="#f4c0c8" fill-rule="evenodd"/><path d="M507.6 162.5L518.3 162.8L521.5 162.5L524.8 161.2L521.5 160L514.6 159.5L507.6 160L504.4 161.2L507.6 162.5ZM527.9 155.1L541.8 156.1L555.4 155.4L566.6 153.1L570.2 151.3L571 150.1L570.7 148.9L569.4 147.6L565.4 145.7L555.4 143.4L548 142.9L539.3 143.2L528.2 144.8L521.6 146.4L516.6 148.9L516.1 150.1L516.7 151.3L518.5 152.6L527.9 155.1ZM379.6 143.9L382 143.9L384 142.7L385.7 140.3L386.4 137.8L386.2 134.1L385.1 131.6L383.3 129.7L380.8 129L378.3 129.7L377.1 130.8L375.8 132.8L375.2 135.3L375.8 140.3L377.5 142.7L379.6 143.9ZM540.8 137.8L549.2 138.3L566.6 136.4L575.3 134L581.5 130.4L587.6 124L591.5 116.8L593 109.4L592.4 99.5L594.9 97L604 92.1L609.2 88.4L611.7 84.7L611 82.2L607.5 79.5L600 77.3L591.4 76.3L582.7 76.4L551.7 80.6L544.3 83.2L538.1 87L533.1 92.1L529.5 98.2L527.8 104.4L527.5 111.8L528.4 118L530.7 125.4L530 130.4L530.6 131.6L535.6 136L540.8 137.8ZM541.8 56.3L560.4 56.9L577.7 56.3L598.8 53.9L605.2 52.5L607.9 51.3L607.3 50.1L605 49.4L595.1 47.6L576.5 46L560.4 45.5L540.6 46.1L524.5 47.5L517 49L514.2 50.1L513.8 51.3L516 52.5L520.9 53.8L541.8 56.3ZM380.4 21.7L382 21.6L384 20.4L384.5 19.2L384 18L380.8 16.7L377.6 18L377 19.2L377.5 20.4L380.4 21.7Z" fill="#f8d4d8" fill-rule="evenodd"/><path d="M509.3 162.5L518.3 162.6L523.7 161.2L519.8 160L514.6 159.7L509.3 160L505.5 161.2L509.3 162.5ZM529.4 155.1L541.8 155.9L555.4 155.2L566.6 152.7L569.2 151.3L570 150.1L569.7 148.9L568.4 147.6L562.9 145.3L553 143.5L545.5 143.2L536.9 143.8L524.5 145.9L519.3 147.6L517.5 148.9L516.9 150.1L517.5 151.3L519.5 152.6L529.4 155.1ZM378.4 142.7L380.8 143.5L383.1 142.7L384.5 141.4L385.6 139L385.9 135.3L385.2 132.8L383.3 130.4L382 129.8L379.5 129.8L378.3 130.4L377.1 131.7L375.9 134.1L375.9 139L377.1 141.4L378.4 142.7ZM538.6 136.5L541.8 137.2L546.8 137.3L565.4 134.7L572.8 132.7L579 129.1L585.2 122.9L588.9 116L590.2 109.4L589.4 99.5L592.3 97L600.1 93.3L607.5 88.4L609.7 85.9L610.2 84.7L609.5 82.2L606.1 79.7L600 77.9L591.4 76.9L582.7 77.1L575.3 78.2L564.1 81.1L550.5 83.2L544.3 85.4L539.3 88.4L535.2 92.1L531.8 97L529.6 103.2L528.9 109.4L529.5 116.8L532.1 125.4L531 130.4L534 134.1L538.6 136.5ZM536.6 55L555.4 56.2L571.5 55.9L593.8 53.9L602 52.5L605.2 51.3L604.6 50.1L603.8 49.8L593.8 48L577.7 46.6L560.4 46.1L543.1 46.6L528.2 47.8L519.5 49.5L517.8 50.1L517.4 51.3L520.2 52.5L524.5 53.5L536.6 55ZM379.3 19.2L380.8 20.1L382.2 19.2L380.8 18.4L379.3 19.2Z" fill="#fce8e8" fill-rule="evenodd"/><path d="M511.7 162.5L517.4 162.5L522.5 161.2L518.3 160.1L514.6 159.9L510.8 160.1L506.6 161.2L511.7 162.5ZM531 155.1L543.1 155.7L554.6 155.1L565.4 152.8L568.3 151.3L569.1 150.1L568.8 148.9L567.4 147.6L562.9 145.7L555.4 144.2L545.5 143.5L535.6 144.1L525.7 145.9L520.2 147.6L518.3 148.9L517.7 150.1L518.3 151.3L520.8 152.8L531 155.1ZM380.1 142.7L382 142.6L383.7 141.5L385.1 139L385.5 136.5L384.5 132.6L383.3 131.2L380.8 130.2L378.3 131.2L377.1 132.6L376.1 136.5L377.1 140.4L378.3 141.9L380.1 142.7ZM542.9 136.5L548 136.1L566.2 132.8L570.1 131.6L574 129.1L581.5 122.1L585.2 116L586.7 109.4L586.6 105.7L585.7 100.7L585.7 99.5L586.5 98.2L598.1 93.3L605 88.9L608.1 85.9L608.6 83.4L607.9 82.2L603.9 79.7L597.6 78.1L588.9 77.5L581.5 77.9L573.3 79.7L562.9 83.8L553 85.1L548 86.3L543.1 88.3L538.1 91.7L535.4 94.5L533.1 97.9L530.7 105.7L530.3 110.6L530.7 115.5L533.5 125.4L532.1 130.4L533.6 132.8L536.9 135.2L542.9 136.5ZM549.4 55L564.1 55.3L580.2 54.6L595.1 53.1L602.4 51.3L601.8 50.1L592.6 48.4L576.5 47.1L561.6 46.7L545.5 47.1L530.7 48.2L521.6 50.1L521.2 51.3L524.9 52.5L530.7 53.5L549.4 55Z" fill="#e8e8ff" fill-rule="evenodd"/><path d="M507.8 161.2L514.6 162.3L521.3 161.2L514.6 160.2L507.8 161.2ZM532.8 155.1L544.3 155.5L555.4 154.7L565 152.6L567.4 151.3L568.2 150.1L567.9 148.9L566.5 147.6L561.6 145.7L554.2 144.3L545.5 143.7L535.6 144.4L525.7 146.1L521 147.6L519.1 148.9L518.5 150.1L519.2 151.3L522 152.9L532.8 155.1ZM378.8 141.5L380.8 142.2L382 141.9L383.3 141.1L384.6 139L385 136.5L384.6 134.1L383.3 132L382 131.2L379.5 131.2L378.3 132L377 134.1L376.7 137.8L377.6 140.2L378.8 141.5ZM539.1 135.3L543.1 135.8L546.8 135.5L562.9 132.2L567.5 130.4L568.3 129.1L568.1 126.6L568.8 125.4L575.8 120.5L578 118L580.2 114.2L581.5 108.1L581.3 104.4L580 99.5L580.3 98.2L582.5 97L593.8 94.1L600 91L606.4 85.9L606.9 83.4L606.2 82.2L602.5 80.1L596.3 78.6L588.9 78.1L581.5 78.6L573.1 81L564.1 86.8L561.6 87.5L553 87.8L548 88.7L543.1 90.6L539.3 93L535.7 97L533.6 100.7L532.2 105.7L531.8 110.6L532.6 118L535 125.4L533.1 130.4L534.7 132.8L539.1 135.3ZM543 53.8L557.9 54.4L574 54.2L590.1 53.1L599.6 51.3L599 50.1L590.1 48.6L562.9 47.3L534.4 48.5L525.7 50.1L525.3 51.3L531.9 52.8L543 53.8Z" fill="#d2d2ff" fill-rule="evenodd"/><path d="M509.2 161.2L514.6 161.9L520 161.2L514.6 160.5L509.2 161.2ZM535 155.1L546.8 155.3L556.7 154.3L564 152.6L566.5 151.3L567.4 150.1L567.1 148.9L565.6 147.6L561.6 146L554.2 144.6L545.5 144L535.6 144.6L525.7 146.4L522 147.6L520 148.9L519.4 150.1L520.1 151.3L523.2 152.9L535 155.1ZM380.7 141.5L383.3 140.2L384.5 136.5L383.3 132.8L380.8 131.6L378.3 132.8L377.1 136.5L378.3 140.2L380.7 141.5ZM537.7 134.1L541.8 135.1L545.5 134.9L559.2 132.1L563.3 130.4L563.5 129.1L558.5 125.4L558.6 124.2L569.1 110.6L571 106.9L571.5 104.4L570.5 99.5L569 97L566.6 94.5L562.9 92.6L557.9 91.3L553 90.8L549.2 91L545.5 91.9L541.8 93.7L536.9 98.2L534.1 104.4L533.3 111.8L534 118L536.6 125.4L536.4 126.6L534.1 130.4L535.6 132.7L537.7 134.1ZM576.8 94.5L585.2 95L593.8 93.1L598.2 90.8L603.4 87.1L605.2 84.7L605.2 83.4L604.3 82.2L602.3 81L593.8 79.1L583.9 79.1L575.9 81L573.3 82.2L570.3 84.7L568.9 87.1L568.8 89.6L570.2 92.1L571.5 93L576.8 94.5ZM536.4 52.5L551.7 53.6L571.5 53.7L586.4 53L596.6 51.3L596.1 50.1L590.1 49.1L570.3 47.8L545.5 48.2L529.9 50.1L529.6 51.3L536.4 52.5Z" fill="#bbbbfc" fill-rule="evenodd"/><path d="M510.8 161.2L518.3 161.2L510.8 161.2ZM538.1 155.1L548 155L557.9 153.9L563 152.6L565.6 151.3L566.5 150.1L566.2 148.9L564.7 147.6L560.4 146L553 144.7L544.3 144.2L535.6 144.8L526.6 146.4L522.9 147.6L520.9 148.9L520.2 150.1L521 151.3L525.7 153.3L538.1 155.1ZM379.3 140.2L380.8 140.7L382 140.4L383.3 139L383.8 135.3L382 132.7L379.5 132.7L378.2 134.1L377.8 137.8L379.3 140.2ZM539.7 134.1L543.1 134.4L546.8 133.9L557.4 131.6L559.9 130.4L559.7 129.1L554.9 126.6L553.5 125.4L553.5 124.2L561.1 108.1L562.3 104.4L562.4 102L561.6 99.5L559.5 97L556.7 95.3L551.7 93.9L545.5 94.5L540.6 97.2L536.9 102L535.3 106.9L534.9 113.1L535.9 119.2L538.5 125.4L535.2 130.4L536.9 132.7L539.7 134.1ZM580.1 93.3L586.4 93.7L593.3 92.1L601.4 87.1L603.4 84.7L603.3 83.4L602.2 82.2L599.7 81L592.6 79.7L583.9 79.9L576.5 81.9L572.8 84.7L572.1 85.9L572 88.4L572.8 89.7L575.3 91.7L580.1 93.3ZM543.3 52.5L556.7 53.2L572.8 53.2L585.2 52.5L593.5 51.3L593.1 50.1L588.9 49.4L570.3 48.2L549.2 48.5L534.1 50.1L533.9 51.3L543.3 52.5Z" fill="#a5a5fa" fill-rule="evenodd"/><path d="M529 153.8L540.6 154.9L551.7 154.5L562 152.6L564.7 151.3L565.7 150.1L565.4 148.9L563.8 147.6L560.7 146.4L554.2 145.1L546.8 144.5L533.1 145.4L527.7 146.4L521.8 148.9L521.2 150.1L521.9 151.3L524.3 152.6L529 153.8ZM379.1 139L380.8 139.9L382 139.4L383.1 137.8L383.1 135.3L382 133.6L380.8 133.2L379.5 133.6L378.4 135.3L378.4 137.8L379.1 139ZM538.5 132.8L541.8 133.7L545.5 133.5L554.4 131.6L556.9 130.4L556.6 129.1L549.2 125.4L552.7 118L556.5 105.7L556.5 103.2L555.6 100.7L554.2 99L551.7 97.6L548 97L543.2 98.2L540.2 100.7L537.9 104.4L536.7 109.4L536.8 115.5L538.1 120.1L541.2 125.4L540.4 126.6L537 129.1L536.3 130.4L536.8 131.6L538.5 132.8ZM581.2 92.1L587.6 92.4L592.6 91L600 86.3L601.3 84.7L601.1 83.4L599.7 82.2L597.6 81.4L591.4 80.5L583.9 80.8L578.8 82.2L575.2 84.7L574.4 87.1L574.8 88.4L576.5 90.1L581.2 92.1ZM551.2 52.5L572.8 52.8L590.3 51.3L589.9 50.1L587.6 49.7L570.3 48.6L550.5 48.9L538.2 50.1L538.1 51.3L551.2 52.5Z" fill="#9191fa" fill-rule="evenodd"/><path d="M530.5 153.8L541.8 154.7L553 154.1L560.9 152.6L563.7 151.3L564.8 150.1L564.5 148.9L562.9 147.6L559.6 146.4L553.2 145.2L546.8 144.7L533.1 145.6L525.7 147.4L522.8 148.9L522.2 150.1L523 151.3L525.4 152.6L530.5 153.8ZM379.3 137.8L380.8 138.9L382 138.1L382.5 136.5L382 134.9L380.8 134.2L379.5 134.9L379.3 137.8ZM540.6 132.8L546.8 132.6L551.6 131.6L554.3 130.4L553.7 129.1L549.2 127.5L545.5 126.8L543.1 127L539.3 128.5L537.6 130.4L538.1 131.6L540.6 132.8ZM542.4 121.7L544.3 122.4L546.8 121.5L548.6 119.2L550.5 114.2L551.8 108.1L551.7 104.6L550.5 102.2L548 100.8L545.5 100.8L543.1 101.8L540.6 104.4L539.3 107.3L538.7 111.8L539 115.5L540.2 119.2L542.4 121.7ZM582.6 90.8L587.6 90.9L591.9 89.6L597.9 85.9L598.7 84.7L598.3 83.4L596 82.2L590.1 81.5L583.9 82L579.6 83.4L577.9 84.7L577.1 87.1L579.2 89.6L582.6 90.8ZM542.2 51.3L551.7 52.2L565.4 52.5L577.7 52.2L587 51.3L586.6 50.1L583.9 49.7L565.4 48.9L545.5 49.7L542.3 50.1L542.2 51.3Z" fill="#7a7af6" fill-rule="evenodd"/><path d="M532.4 153.8L543.1 154.5L553.9 153.8L559.8 152.6L562.7 151.3L563.9 150.1L563.6 148.9L561.9 147.6L558.5 146.4L551.2 145.2L544.3 144.9L537.9 145.2L530.2 146.4L526.1 147.6L523.9 148.9L523.2 150.1L524.1 151.3L526.7 152.6L532.4 153.8ZM539.8 131.6L541.8 132.2L545.5 132.2L548.7 131.6L551.6 130.4L550.8 129.1L549.2 128.6L544.3 128.1L540.2 129.1L539.1 130.4L539.8 131.6ZM543.4 115.5L544.3 115.8L545.5 114.8L546.6 111.8L546.7 109.4L545.5 107.2L544.3 107.2L543.3 108.1L542.3 110.6L542.2 113.1L543.4 115.5ZM582.1 88.4L585.2 89.1L588.9 88.6L592.6 86.9L595.1 84.7L593.8 83.4L591.4 83L584.7 83.4L581.8 84.7L580.7 85.9L580.8 87.1L582.1 88.4ZM546.2 51.3L565.4 52.2L583.4 51.3L583.1 50.1L565.4 49.2L546.8 50L546.3 50.1L546.2 51.3Z" fill="#6464f5" fill-rule="evenodd"/><path d="M534.7 153.8L543.1 154.2L551.8 153.8L558.5 152.6L561.7 151.3L562.9 150.1L562.6 148.9L560.9 147.6L557.2 146.4L544.3 145.1L531.6 146.4L527.4 147.6L525.1 148.9L524.5 150.1L525.4 151.3L528.2 152.6L534.7 153.8ZM541.1 130.4L543.1 131.4L544.3 131.5L548.6 130.4L545.5 129L543.1 129.3L541.1 130.4ZM550.4 51.3L565.4 51.9L579.5 51.3L579.3 50.1L565.4 49.5L550.4 50.1L550.4 51.3Z" fill="#4641f2" fill-rule="evenodd"/><path d="M538 153.8L548 153.9L554.2 153.1L560.4 151.4L561.9 150.1L561.6 148.9L559.8 147.6L555.8 146.4L544.3 145.3L533.2 146.4L528.8 147.6L526.5 148.9L525.9 150.1L526.9 151.3L530 152.6L538 153.8ZM555.4 51.3L574.7 51.3L574.5 50.1L565.4 49.8L555.4 50.1L555.4 51.3Z" fill="#2823f5" fill-rule="evenodd"/><path d="M532.3 152.6L541.8 153.6L549.2 153.4L555.4 152.6L559.2 151.3L560.7 150.1L560.5 148.9L558.6 147.6L554.2 146.4L546.8 145.7L539.3 145.9L535.1 146.4L530.4 147.6L528.1 148.9L527.6 150.1L528.8 151.3L532.3 152.6Z" fill="#0f0fff" fill-rule="evenodd"/><path d="M535.5 152.6L544.3 153.1L553 152.6L557.6 151.3L559.4 150.1L559.2 148.9L557.2 147.6L552.2 146.4L544.3 145.9L537.3 146.4L532.4 147.6L530.2 148.9L529.9 150.1L531.3 151.3L535.5 152.6Z" fill="#0a0aff" fill-rule="evenodd"/>
<path d="M375.8 25.4L378.3 25.4L380.2 24.8L381.1 26.6L382.6 28.5L383.6 29.7L383.9 32.5L385.1 33L387 32.2L387.8 33.4L388.5 36.5L389 40.2L388.6 42.4L389.7 43.9L391.1 45.1L391.2 47.6L392.3 49.1L393.8 50.2L395 50.9L396 50.8L394.9 47.6L394.3 45.6L392.9 44.9L391.1 42.1L389.7 40.8L389.7 39.2L390.7 37.1L390.8 35.9L391.8 36L391.8 37L393.5 37.5L395 39.5L396.4 39.7L396.6 41.8L397 41.9L398.5 40.8L399.4 39.6L401.6 38.6L402.1 37.1L402.2 35.6L401.6 33.5L400 32.2L398.7 30.6L397.7 29.2L398.7 27.6L400 26.2L401.2 25.9L402.5 26L403 27.4L403.7 27.5L403.8 26.4L405.3 25.9L406.8 25.1L407.5 24.6L408.4 25L409.9 24.4L411.5 23.9L412.7 22.7L413.7 22.2L415 21.1L415.2 19.7L416.1 18.8L416.9 17.6L417.8 16.5L418.2 15.5L417.9 13M573 14.9L573.8 17L575.8 18.2L576.9 19.7L578.6 20.9L579 22.3L581 23.8L582.1 25.1L582.4 26L582.1 27.1L583.1 28L584.7 29L586.4 30.1L587.6 30.8L590.1 31.9L592 32.9L593.8 32.8L596.3 33L599.2 34.5L600.8 35.4L602.5 36L604.1 36.4L605.5 37.2L606.6 39L608 40.2L609.3 40.8L609.9 42.3L610.6 42.7L612.4 42.3L613.4 42.7L614.7 43.5L615.9 43.3L616.8 42.1L616.5 43.2L616.8 44.4L616.9 46.4L616.5 48.2L615.4 49.6L614.9 50.6L613.5 51.4L613.2 52.4L612.5 53.8L612.7 55.3L613.3 55.8L613 57.5L612.2 58.6L612.5 60L614 61.4L615.3 63.2L616.4 65.1L617.4 67.4L618.4 69.5L620.5 71.4L622.3 72.7L624.6 74.2L625.7 76L625.8 78.5L625.6 81L625.4 83.4L625.1 85.9L624.4 88.4L624.2 90.2L624.1 92.7L623.8 94.4L623.2 95.9L622.8 97.3L621.7 98.6L621.8 100.1L621.3 102L621.5 103.4L621.5 104.9L621.6 106.6L620.1 108L619.5 109.1L620.1 110.5L620.6 111.8L620.6 113.7L620.6 115.9L621.7 117.3L622.7 117.9L623.8 118.7L624.8 119.1L625.4 118.4L626.3 117.4L628 117.1L626.9 116.5L627.9 115.8L627.5 114.8L628.5 113.8L629.1 112.7L631.3 111.8L630.4 111L629 110.1L629.4 108.2L631.7 108L632.7 106.3L633.9 105.4L632 104.9L632.6 103.9L632.2 103.2L635.6 102.9L635.7 101.7L636 100.6L637.8 100.6L640.3 100L641.7 98.6L642.6 97.4L641.9 96.3L640.7 94.9L642 95.5L642.9 95L644.9 95.5L646.5 95.3L647.7 94L649.6 91.8L651.1 89.6L652.3 87.7L652.6 86.6L654.3 84.3L655.8 82.9L657 81.7L659 81L660.7 80.5L662 79.1L663.5 77.2L664 75.8L664.5 74.2L664.7 71.1L665.1 68.6L666.4 67.9L667.5 65.8L668.8 64.3L669.7 62.4L669.4 60.6L668.8 59.1L666.9 58.4L665.1 57.2L663.2 56L660.7 56.1L659.7 55.8L657 54.8L655.2 53.8L653.3 53.8L651.8 53.2L650.8 52.5L650.8 50.7L650 50.1L649.2 47.6L648.3 46.6L646.5 45.8L645.3 45.4L642.5 45.4L640.9 44L638.4 42.2L637.2 41.4L636.2 40.4L635.3 39.7L632.5 39.3L631 39.5L628.9 39.3L627.7 38.5L626.3 38.2L624.9 39L624.2 39.6L624.7 41.1L623.9 40.2L624.2 39L623.9 38L623.2 37.2L621.8 38.3L620.5 39L619.5 39L619 39.5L618.7 40.8L617.6 41.9L616.8 42.1L616.4 41.4L615 40.8L613.9 41.1L613.2 41.4L611.6 40.3L609.3 39L609.5 37.1L609.2 35.3L609.7 34L608 32.9L606.6 33L603.5 33L603 32.9L603.5 32.3L603.5 30.4L604.2 29.6L604.5 27.8L605.2 26L604.4 26L602.4 26.2L600.8 26.7L600.7 28.2L599.2 29.6L596.9 29.7L594.5 29.6L593.5 28.5L592.1 26.7L591.7 25L591.9 22.5L592.4 20.7L592.1 19.6L591.9 18L593.1 16.9L595.1 16L596.9 15.7L599.2 14.9M607.7 14.9L608.7 15.6L610.3 16.7L610.2 18.1L610.8 19.5L611.4 20.6L612.8 21.4L613.4 21.3L613.7 19.5L612.7 18.2L611.9 16.7L611.8 14.9M568.6 14.9L569.4 16.1L570.3 17.2L571.4 18.2L572.3 19.6L573.5 20.4L573.9 21.9L575.3 23.4L576.4 24.3L576.7 24.1L576.5 23L574.8 22.3L574.3 20.4L573.4 19.2L572 16.9L571 15.5L570.7 14.9M375.8 134.7L378.3 134.7L384.5 134.3L390.7 134.1L396.9 133.8L403.1 134.3L409.3 135L415.5 134.8L421.7 134.3L427.9 134.2L434 134.1L440.2 134.9L446.4 135.5L452.6 136.8L458.8 137.5L465 138.5L471.2 139.7L477.4 140.9L478 142.1L474.9 143.3L471.2 145.2L467.5 147.6L466.3 150.1L467.5 153.8L472.4 156.3L483.6 157.5L496 157.8L508.4 157.9L520.8 157.5L529.4 156.3L527 152.6L531.9 148.9L539.3 146.4L549.2 145.8L557.9 144.6L570.3 144.6L582.7 143.9L591.4 143.3L601.3 142.7L611.2 143.1L617.4 142.7L622.3 140.2L626.1 138.4L629.8 135.3L632.2 133.8L636 132.2L640.9 131L644.6 130.6L642.2 132.2L638.4 134.1L634.7 137.1L635.3 140.2L637.2 144.7L632.2 146.4L629.4 147.6L638.4 148.3L653.3 148.9L663.2 148.6L675.6 147.2L678.1 146.4M401.3 28.8L402.1 29.9L403.2 29.8L404.2 28.3L403.8 27.7L402.6 27.8L401.5 28.3ZM415.6 24.1L416.3 25.4L417.2 24.4L417.8 22.2L417.4 21.3L416.7 21.7L415.7 23.2ZM416.2 29.7L418.2 29.7L418.2 31.6L417.4 33L417.6 35L418.6 35.3L419.4 35.8L420.5 37L419.6 36.5L418.7 36.2L417.6 35.4L416.2 35.4L416.2 34.3L415.2 32.9L415.8 32.5L416 30.9ZM417.9 43.9L419.2 43.2L420 42.7L421 41.9L422.2 40.4L423.5 43.3L423.1 44.8L422.2 45.6L420.7 44.9L420.3 43.5L418.9 43.4L418.2 44ZM420.8 37.1L422.5 38.6L421.7 40.2L421 39.2L421.2 38.2ZM417.8 37.9L419.3 38.7L418.8 39.7L417.9 39.6ZM419.1 39.1L419.9 39.7L419.3 41.3L418.4 40.3ZM420.3 38.7L420.4 40L419.7 40.7L419.8 39.6ZM415.8 35.9L417.3 36.1L416.9 37.5L416 36.9ZM412 42.2L415 38.5L414.5 39.8L412.4 42.4ZM401.8 50.7L402.6 52.8L403.3 54.6L403.2 56.1L405.2 56.3L406.8 56.5L408.6 56.9L410.5 57.4L411.1 55.3L412.4 53.4L412.7 51.3L414.1 51.2L412.9 49.8L412.6 47.9L413.7 47.1L414.5 46.1L412.6 45L411.7 43.9L410.9 44.4L409.8 46.1L408.3 47L406.8 48.6L404.7 49.6L404.1 50.7L402.6 50.2ZM384.9 45.6L387.6 46.1L389.1 48L391.2 49.8L392.4 50.3L394.5 52.1L395.4 53.8L396.3 54.8L397.9 56.3L398.1 58.1L397.9 59.7L396.4 59.8L393.5 57.5L391.9 55.6L390.9 53.5L389.8 52.3L388.8 50.3L387.2 48.6L385.7 47L384.9 46ZM397.1 60.9L398.1 59.8L399.7 59.8L401.2 60.5L403.7 61.1L406.3 61.1L408.6 62.1L408.5 63.3L406.2 62.9L403.7 62.7L401.2 62.2L398.7 61.7L397.4 61.1ZM408.6 62.6L410.1 62.9L409.5 63.4ZM410.5 62.9L411.4 62.7L411.1 63.5ZM411.7 63L414.2 62.7L414 63.4L411.7 63.7ZM415.2 62.9L419.1 62.6L418.9 63.4L416.1 63.4ZM419.8 65.3L421.9 63.2L424.5 62.9L421.7 64.4ZM414.2 64.4L416.5 64.9L415.7 65.3ZM414 56L414.7 54.4L415.2 52.4L415.6 51.6L416.7 50.9L418.6 51.3L420.4 51.4L421.9 50.7L421.2 51.9L419.4 52.1L416.8 52.1L415.6 52.7L416.1 54.4L417.3 53.8L419.6 53.7L418.3 54.8L417.1 54.9L418.6 56.5L418.3 58.5L417.3 58.2L416.6 55.8L415.8 56.1L416 59.3L414.8 59.3L415 57.9L414.8 56.9L414 56ZM424.8 50.1L425.4 51.3L426.2 50.9L425.4 52.1L426.5 52.9L425.6 53.5L424.9 51.9L424.6 50.7ZM425.4 56.5L428.8 57.2L428.1 56.6L426 56.1ZM422.9 56.4L424.4 56.6L424 57.2L423 57ZM429.1 53.8L430.6 53L432.9 53.7L433.4 55.8L434.7 56.7L437.1 54.4L438.8 54.6L441.5 55.8L443.6 56.6L445.9 57.5L447.4 58.7L447.7 60L449.5 60.3L450 61.2L451 63.5L452.4 64.4L453.6 65.3L452.3 65.3L450.1 65L449 64.3L447.7 62.6L446.1 61.9L444.3 62.7L444.4 63.7L443.5 64L441.5 63.8L439.2 62.6L437.8 62.9L437.4 61.9L438.6 61.1L437.6 59.2L435 58.1L432.9 57.4L431.7 57.6L430.3 56L431.7 55.5L430.2 54.5ZM450.5 59.5L452.7 59.2L454.5 57.9L455.5 57.9L454.7 59.3L452.7 60.2L450.8 60.1ZM453.6 55.9L455.1 56.6L456.3 58.4L455.7 58.2L454.6 56.9ZM458.3 59.2L459.9 60.7L459.3 61.1L458.6 60ZM460.7 61.2L463.8 62.4L464.8 63.2L463.2 62.9L461 61.8ZM465.6 63L466.9 64.7L466.4 64.8L465.8 63.7ZM464.6 64L466 64.3L465.4 64.7ZM466.9 65.1L467.9 65.6L467 65.6ZM473.1 71.1L473.9 71.4L473.7 71.9L473.2 71.7ZM473.9 72.3L475.3 73.1L474.9 73.5ZM475.2 74.2L475.7 74.3L475.4 74.7ZM470 77.4L471.8 78.7L473.7 80.1L472.9 80.1L470.2 78ZM486.4 74.2L487.9 74.5L487.4 75.2L486.3 74.9ZM488.1 73.1L489.8 72.6L489.2 73.3ZM407.4 79.7L407.8 82.8L407.3 83.4L408.3 85L409.3 89L410.1 91.6L410 93.9L409.3 94.9L411.3 95.8L413 95.9L414.8 95L416.7 94.3L419.9 94.4L421.7 92.9L424.3 92.4L426.6 91.7L429.3 91.5L431.6 92.2L433.2 92.9L434.3 95.3L435.2 95.5L435.3 94.3L437.1 92.8L437.6 94L437.5 95.8L438.4 95.4L437.9 96.5L439.7 96.9L440 98.6L441 99.5L442.2 99.9L443.6 100.1L445.2 99.6L446.3 99.4L447.2 100.2L448.2 100.8L449.7 99.5L451.4 99.1L452.6 98.9L452.9 97L453.9 94.9L454.7 93.3L455.7 92.1L456.5 90L457.1 87.4L456.5 84.7L456.3 83.5L454.5 82.2L453.6 80.5L452 80L451.1 77.7L448.9 76.4L447.9 75.3L447.5 73.4L446.8 71.1L445.8 70.1L444.6 68.4L443.7 66.1L443.3 65.8L442.7 67.2L442.2 68.6L442.1 71.1L441.2 74L440 74L439 73.3L437.5 72.6L436.3 72.1L435 71.1L434.7 70.7L435.3 69.5L436.3 67.7L435.3 67.2L433.4 67.4L431.6 66.8L431.1 66.6L430.1 66.5L428.8 67.9L427.9 68.6L427.2 71L426 70.8L424.6 69.8L423 70L421.7 71.3L419.9 72.9L418.6 74.2L418.2 75.2L416.7 76.8L414.2 77.4L411.9 78.1L411.4 78L409.5 78.9L408.2 80ZM445.9 102.8L448.3 103.3L450.5 103.1L450.4 104.4L449.9 105.9L448.7 106.4L447.5 106.3L446.7 104.9L446.1 103.6ZM480.7 95L481.9 95.8L482.7 96.8L483.3 98L484.2 97.6L484.7 98.7L486.1 99.4L487.9 99.1L487.7 100.2L487.2 101L486.1 101.3L485.8 102.2L484.7 103.4L483.8 103.9L483.2 103.6L483.7 102.8L483.1 101.8L482.1 101.1L483 100.3L483.1 98.6L482.7 97.6L481.6 96.5L480.7 95.2ZM480.7 102.6L482.4 103.2L482.7 104L481.7 105.5L480.9 106.4L479 107.3L478.4 109.1L477.2 110L475.4 110.1L473.3 109.6L473.1 108.7L474.4 107.6L475.5 106.9L478 105.7L479.1 104.4L479.9 103.2ZM519.5 26.2L520.8 26.4L520 25.9ZM519.6 28.2L520.8 27.7L521 28.5L519.9 29.2ZM518.8 26.6L519.5 26.7L519 27.1ZM514.9 25.3L515.4 25.1L515.2 25.5ZM628 117.6L630.4 118.6L631 120L629.8 120.4L627.5 120.6L625.8 120.6L624.8 120.1L626.1 119.2L626.9 118ZM638.2 115.9L640.4 116L639.9 116.8L638.3 117ZM621 104.2L621.5 104.3L621.6 106L621 105.9ZM607.6 25.5L608 25L609.9 24L611.8 23.9L613.7 24.3L615.5 25.1L617.4 26.6L620.8 27.7L620.5 28L618.6 28L616.1 27.1L615.5 26.7L614.3 25.9L611.2 25.6L609.6 25.6ZM620.6 28L623 28L625.4 28.6L627.9 29.7L628.2 30.1L625.4 30.1L623.6 30.3L621.7 29.9L620.7 29.8L621.5 29.3L622.6 29ZM616.1 29.8L618.2 29.8L618.1 30.4L616.4 30.2ZM629.5 29.7L631.5 29.8L631.4 30.3L629.6 30.3ZM636.2 39.3L637.3 39.2L637.2 40.2L636.2 40.1ZM616.1 19.5L616.9 19.7L616.4 19.9ZM616.5 21.4L617.1 22.2L616.8 22.5ZM618.4 22.5L619.1 23.2L618.6 23.4Z" fill="none" stroke="#000" stroke-width="1.1" stroke-linejoin="round"/>
</g>
<rect x="380.80" y="64.80" width="145.80" height="95.00" fill="#fff"/>
<g fill="#808080" stroke="#111" stroke-width="0.7"><rect x="420.20" y="101.30" width="7.2" height="8.37"/><rect x="429.40" y="101.30" width="7.2" height="20.44"/><rect x="438.60" y="101.30" width="7.2" height="16.55"/><rect x="447.80" y="101.30" width="7.2" height="19.66"/><rect x="457.00" y="101.30" width="7.2" height="26.48"/><rect x="466.20" y="101.30" width="7.2" height="6.81"/><rect x="475.40" y="101.30" width="7.2" height="9.73"/><rect x="484.60" y="101.30" width="7.2" height="0.97"/><rect x="493.80" y="101.30" width="7.2" height="0.39"/><rect x="503.00" y="101.30" width="7.2" height="12.85"/><rect x="512.20" y="101.30" width="7.2" height="11.68"/></g>
<polyline points="423.80,83.78 433.00,82.22 442.20,83.78 451.40,83.78 460.60,83.78 469.80,83.78 479.00,83.78 488.20,84.95 497.40,84.56 506.60,83.39 515.80,82.22" fill="none" stroke="#111" stroke-width="0.9" stroke-dasharray="3,2"/>
<polyline points="423.80,119.80 433.00,118.83 442.20,117.47 451.40,118.83 460.60,119.80 469.80,119.41 479.00,118.44 488.20,117.47 497.40,116.69 506.60,116.88 515.80,116.69" fill="none" stroke="#111" stroke-width="0.9" stroke-dasharray="3,2"/>
<rect x="419.40" y="72.10" width="100.70" height="59.50" fill="none" stroke="#111" stroke-width="0.9"/>
<line x1="419.40" y1="101.30" x2="520.10" y2="101.30" stroke="#111" stroke-width="1.1"/>
<g stroke="#111" stroke-width="0.8"><line x1="415.20" y1="130.51" x2="419.40" y2="130.51"/><line x1="417.10" y1="125.64" x2="419.40" y2="125.64"/><line x1="415.20" y1="120.77" x2="419.40" y2="120.77"/><line x1="417.10" y1="115.91" x2="419.40" y2="115.91"/><line x1="415.20" y1="111.04" x2="419.40" y2="111.04"/><line x1="417.10" y1="106.17" x2="419.40" y2="106.17"/><line x1="415.20" y1="101.30" x2="419.40" y2="101.30"/><line x1="417.10" y1="96.44" x2="419.40" y2="96.44"/><line x1="415.20" y1="91.57" x2="419.40" y2="91.57"/><line x1="417.10" y1="86.70" x2="419.40" y2="86.70"/><line x1="415.20" y1="81.83" x2="419.40" y2="81.83"/><line x1="417.10" y1="76.97" x2="419.40" y2="76.97"/><line x1="415.20" y1="72.10" x2="419.40" y2="72.10"/><line x1="423.80" y1="131.60" x2="423.80" y2="135.20"/><line x1="433.00" y1="131.60" x2="433.00" y2="135.20"/><line x1="442.20" y1="131.60" x2="442.20" y2="135.20"/><line x1="451.40" y1="131.60" x2="451.40" y2="135.20"/><line x1="460.60" y1="131.60" x2="460.60" y2="135.20"/><line x1="469.80" y1="131.60" x2="469.80" y2="135.20"/><line x1="479.00" y1="131.60" x2="479.00" y2="135.20"/><line x1="488.20" y1="131.60" x2="488.20" y2="135.20"/><line x1="497.40" y1="131.60" x2="497.40" y2="135.20"/><line x1="506.60" y1="131.60" x2="506.60" y2="135.20"/><line x1="515.80" y1="131.60" x2="515.80" y2="135.20"/></g>
<g font-size="7.3" fill="#111"><text x="412.00" y="133.11" text-anchor="end">-150</text><text x="412.00" y="123.37" text-anchor="end">-100</text><text x="412.00" y="113.64" text-anchor="end">-50</text><text x="412.00" y="103.90" text-anchor="end">0</text><text x="412.00" y="94.17" text-anchor="end">50</text><text x="412.00" y="84.43" text-anchor="end">100</text><text x="412.00" y="74.70" text-anchor="end">150</text></g>
<g font-size="7.6" fill="#111"><text x="423.80" y="144.20" text-anchor="middle">-4</text><text x="433.00" y="144.20" text-anchor="middle">-3</text><text x="442.20" y="144.20" text-anchor="middle">-2</text><text x="451.40" y="144.20" text-anchor="middle">-1</text><text x="460.60" y="144.20" text-anchor="middle">0</text><text x="469.80" y="144.20" text-anchor="middle">1</text><text x="479.00" y="144.20" text-anchor="middle">2</text><text x="488.20" y="144.20" text-anchor="middle">3</text><text x="497.40" y="144.20" text-anchor="middle">4</text><text x="506.60" y="144.20" text-anchor="middle">5</text><text x="515.80" y="144.20" text-anchor="middle">6</text></g>
<text x="468.60" y="154.70" font-size="10" fill="#111" text-anchor="middle">Years relative to events</text>
<text transform="translate(393.10,103.00) rotate(-90)" font-size="8.6" fill="#111" text-anchor="middle">STR (m<tspan font-size="6" dy="-3.2">3</tspan><tspan dy="3.2">·s</tspan><tspan font-size="6" dy="-3.2">-1</tspan><tspan dy="3.2">)</tspan></text>
<text x="423.80" y="99.20" font-size="7.3" font-weight="bold" font-style="italic" fill="#111">Positive SAM</text>
<clipPath id="clipc"><rect x="32.50" y="225.80" width="297.30" height="148.20"/></clipPath>
<g clip-path="url(#clipc)">
<rect x="32.50" y="225.80" width="297.30" height="148.20" fill="#e6eeee"/>
<path d="M27.5 378.9L334.8 378.9L334.8 354.9L324.8 357.6L312.5 359.9L288.9 362.4L259.2 362.7L244.3 361.3L231.9 358.6L218.3 353.4L194.1 340.7L190.6 338.2L189.3 335.7L190 333.2L193.5 330L199.7 326.6L207.2 324.1L213.4 323.2L235.7 322L256.7 320.2L264.1 321.3L316.9 333.2L325.9 335.7L334.8 339.1L334.8 301.4L319.9 300.8L312.5 299.5L307.5 297.8L305.8 296.2L305.5 291.3L303.7 288.8L301.3 286.7L291.4 280.5L271.3 270.3L274.1 269.9L275.6 269L279 268.7L288.9 265.9L293.9 263.8L297.1 261.6L297.7 260.4L297.3 259.1L295.1 257.4L285.2 255L282.7 253.9L280.6 250.5L281.3 246.8L283.3 244.3L286.3 241.9L293.9 237.7L306.3 233.6L315.7 232L317.4 230.7L317.9 228.3L316.9 222.1L316.2 220.9L194 220.9L197.3 221.1L197.6 222.1L199.7 222.2L200.9 223.3L203.4 223.7L203.9 224.6L205.9 224.8L206.7 225.8L208.4 226L209.3 227L210.9 227.4L217.4 232L220.1 233.2L233.2 236.5L242.3 240.6L246 244.3L245.6 246.8L241.8 249.7L236.9 251.5L225.7 251.7L207.2 251.2L191.1 250.4L169.9 248L122.9 245.9L93.2 246.5L75.9 247.9L73.4 248.8L72.6 249.3L73.7 250.5L78.6 253L78.6 254.2L74.6 256.3L70.8 259.1L69.5 261.6L69.6 262.9L72.1 266L77.1 268.5L124.7 269L172.7 270.3L207.8 271.5L222 272.7L220.3 275.2L215.7 278.9L197.2 288.8L186.1 297.1L175.6 302.4L173.8 306.1L170 308.9L163.8 311.4L157.6 313L148.9 314.5L135.3 315.7L111.8 315.4L100.6 314L90.7 311.6L85.9 309.8L81.8 307.3L78.3 302.3L54.8 298.3L44.9 294.5L34.3 287.6L30.2 283.8L27.5 280.2L27.5 378.9ZM30.6 233.2L51.1 233.9L70.9 232.2L78 230.7L85 228.3L88 225.8L88.2 224.6L88 223.3L85.8 220.9L27.5 220.9L27.5 232.9L30.6 233.2Z" fill="#f3f3ee" fill-rule="evenodd"/><path d="M178.9 367.8L191.1 367.7L202.2 365.7L208.4 363.6L212.1 361.6L215.2 359.2L216.2 356.7L214.6 354.2L207.7 349.3L185.7 338.2L184.5 336.9L183.5 334.5L185.3 328.3L184.9 326.2L182.4 324L177.4 321.6L167.5 318.5L156.4 316.8L138 317.2L121.9 318.4L113 320.7L104.3 324.6L99.3 328.3L95.7 333.2L95 338.2L97.1 343.1L102.4 348.1L110.5 352.3L122.9 355.9L144 359.7L165 365.9L178.9 367.8ZM296.8 324.6L306.3 325.1L314.9 324.5L323.6 322.9L329.8 320.7L334.8 317.8L334.8 307.2L329.8 304.8L323.6 303.3L305 300.2L295.1 299.3L288.9 300.4L281.5 303.1L276 306.1L272.5 309.8L271.9 312.2L272.6 314.7L274.5 317.2L276.5 318.7L285.2 322.4L296.8 324.6ZM209 319.7L218.3 320.6L229.5 320.5L239.4 319.4L246.8 317.8L255.5 314.2L258.4 312.2L260.9 309.8L261.9 306.1L259.7 299.9L260.4 298.4L266.6 297.3L293.9 297L300.1 294.5L301.9 292.5L302.1 291.3L300.1 288.3L295.1 285.5L290.2 284.1L282.7 283.3L256.7 282.8L227 283L217.1 283.7L208.4 285.6L201 288.8L197.5 291.3L189.5 301.1L188 303.6L187.4 306.1L188.2 309.8L192.3 314L199.7 317.5L209 319.7ZM186.1 270.3L223.3 269.8L260.4 267.2L280.2 264.3L285.1 262.9L287.1 261.6L287.1 260.4L284 258.7L277.8 257.1L262.9 254.8L251.8 253.7L222 252.3L165 250.7L162.5 250.5L163.5 249.3L157.9 248L136.6 246.5L114.3 246L91.3 246.8L78.3 248L75.9 248.8L74.6 249.3L75.7 250.5L78.3 251.5L89.9 253L79.6 254.8L75.9 256.2L71.5 259.1L70.2 261.6L71.1 264.1L73.4 265.8L77.1 267L80.8 267.5L98.2 268.4L186.1 270.3ZM254.3 251.7L266.6 252.3L274.1 251.3L276.5 250.5L277.8 249.7L283.8 243.1L294.8 235.7L294.5 233.2L292.7 230.7L290.2 228.5L284 225.2L275.3 222.6L266.6 221.6L258 221.7L249.3 222.9L241.8 225.2L234.4 229.5L232.1 232L231.2 234.4L232.8 235.7L241.8 239.8L246.2 243.1L247.2 245.6L246.2 249.3L246.8 249.9L249.3 250.9L254.3 251.7ZM34.4 233.2L47.4 233.8L62.2 233L76.8 230.7L80.5 229.5L82.2 228.3L81.6 227L77.1 225.4L69.7 224L62.2 223.5L41.2 223.7L27.5 226.1L27.5 232.2L34.4 233.2Z" fill="#f0f0d6" fill-rule="evenodd"/><path d="M181.2 365.4L193.5 364.7L203.4 362.1L207.2 360.3L210.1 357.9L211.1 355.5L210.6 354.2L206.8 350.5L201 347L179.7 338.2L176.7 335.7L173.6 330.8L170.4 328.3L164.7 325.8L157.6 324L150.2 323L142.7 322.8L135.3 323.2L127.9 324.5L122.9 326L117.6 328.3L114.1 330.8L111.3 334.5L110.9 338.2L111.9 340.7L115.5 344.3L120.1 346.8L127.3 349.3L145.2 353.5L158.9 360.3L165 362.6L173.7 364.7L181.2 365.4ZM295.1 322.1L301.3 322.8L308.7 322.8L316.2 321.9L322.4 320.5L327.2 318.4L330.6 316L332.1 313.5L332 311L330.2 308.5L328.6 307.4L323.6 305.3L313.7 303.1L303.8 302L297.6 302.1L290.2 303.3L284 305.5L279.4 308.5L278.4 309.8L277.7 312.2L278.4 314.7L280.2 316.7L286.4 320L295.1 322.1ZM212.3 318.4L220.8 319.2L229.5 319.1L238.1 318.1L245.6 316.2L253 312.8L255.3 311L257.1 308.5L257.5 304.8L254.1 298.7L253.8 297.4L255.1 296.2L260.4 295.3L291.1 293.7L295.7 292.5L297.2 291.3L297.3 290L296.2 288.8L293.9 287.6L288.9 286.4L269.1 285.1L227 285.2L217.1 285.9L209.2 287.6L205.9 288.8L202.4 291.3L199.9 295L192.7 302.4L191.5 304.8L191.4 307.3L193.5 311L197.3 313.8L203.4 316.5L212.3 318.4ZM141.6 269L193.5 270L238.1 268.4L255.5 267L272.8 264.7L279.9 262.9L282 261.6L282 260.4L279.9 259.1L274.1 257.5L254.2 254.8L212.1 252.4L160.1 251.4L153.5 250.5L156.4 249.3L152.5 248L135.3 246.6L114.3 246.1L94.2 246.8L81.5 248L77.1 249.3L78.7 250.5L82 251.2L101.5 253L83.3 254.8L78.3 255.8L73.4 258.2L71.3 260.4L70.9 261.6L71.1 262.9L73.4 265L75.9 266L82 267L103.1 268.2L141.6 269ZM256.9 250.5L267.9 250.6L272.8 250L276.5 248.6L282.8 243.1L291.3 236.9L292 235.7L291.2 233.2L287.7 229.5L281.5 226.1L272.8 223.8L264.1 223L254.2 223.6L246.8 225.3L239.9 228.3L235.4 232L234.2 234.4L234.9 235.7L245.8 241.9L248 244.3L248.7 248L249.3 248.7L251.8 249.7L256.9 250.5ZM37.6 233.2L51.1 233.5L65.9 232.4L75.5 230.7L79.1 229.5L80.3 228.3L78.3 226.7L73.4 225.3L57.3 223.7L41.2 224.3L33.7 225.3L27.5 227.1L27.5 231.4L37.6 233.2Z" fill="#ece5ba" fill-rule="evenodd"/><path d="M174.7 362.9L186.1 363.6L197.3 362L202.2 360.2L205.8 357.9L207.2 356.2L207.4 354.2L204.3 350.5L197.3 346.5L188.6 343.3L169.2 338.2L158.9 332L153.9 330.2L146.5 329.1L137.8 329.5L130.4 331.6L126.4 334.5L125.7 335.7L125.7 338.2L127.6 340.7L129.4 341.9L134.1 343.8L147.7 347.4L150.2 348.9L157.1 355.5L160.6 357.9L167.5 361.1L174.7 362.9ZM298 320.9L308.7 321.2L319.9 319.2L326.3 316L328.1 313.5L328 311L325.9 308.5L319.9 305.8L312.5 304.2L303.8 303.4L296.4 303.9L290.2 305.3L285.4 307.3L282.5 309.8L281.9 311L281.9 313.5L284 316.2L290.2 319.2L298 320.9ZM212.8 317.2L220.8 318L229.5 317.9L236.9 317L244.3 315L248.1 313.5L251.8 311.1L254.4 307.3L254 303.6L249.1 297.4L248.6 296.2L249.3 294.9L255.5 293.5L281.5 291.9L285.8 291.3L287.8 290L285.5 288.8L275.8 287.6L253 286.7L224.5 287.4L217.1 288.2L212.1 289.5L208.8 291.3L197.3 300.8L195 303.6L194.4 306.1L195.7 309.8L199.7 313L205.9 315.6L212.8 317.2ZM148.4 269L192.3 269.8L234.4 268.2L251.8 266.9L269.1 264.6L276.1 262.9L278.3 261.6L278.3 260.4L276.1 259.1L269.1 257.4L249.3 254.8L203.4 252.4L144 251.7L151.6 249.3L148.5 248L136.6 246.9L114.3 246.3L94.4 247L84.4 248L80.2 249.3L83.1 250.5L85.8 250.9L110.5 253L79.6 256L74.6 257.9L73 259.1L71.7 261.6L72.1 263.1L74.6 265L78.3 266L85.8 266.8L108.1 268.1L148.4 269ZM255.7 249.3L266.6 249.7L271.6 249.1L275.3 247.9L288.5 238.2L289.6 236.9L289.6 234.4L286.7 230.7L281.5 227.5L274.1 225.2L266.6 224.2L259.2 224.2L250.5 225.5L244.3 227.5L239.1 230.7L236.9 233.2L236.3 234.4L236.7 235.7L246.7 241.9L249 244.3L251.2 248L255.7 249.3ZM41.2 233.2L54.1 233.2L67.7 232L74.3 230.7L77.8 229.5L78.7 228.3L77.1 227L70.9 225.4L53.6 224L37.5 225.2L31.3 226.5L27.5 228.2L27.5 230.5L28.8 231.2L33.7 232.5L41.2 233.2Z" fill="#e6ce98" fill-rule="evenodd"/><path d="M176.7 361.6L186.1 362.2L194.8 361L202.1 357.9L203.5 356.7L204.5 354.2L203.2 351.8L197.9 348.1L191.1 345.3L183.6 343.5L176.2 342.5L168.8 342.5L163.8 343.4L160 345.6L158.7 348.1L158.7 350.5L159.7 353L161.7 355.5L167.7 359.2L176.7 361.6ZM298.9 319.7L308.7 319.9L317.4 318.4L321.1 316.9L324 314.7L324.8 313.5L324.7 311L322.2 308.5L317.4 306.5L311.2 305.2L305 304.6L298.8 304.9L293.9 305.8L289.5 307.3L286 309.8L285.2 311L285.2 313.5L287.4 316L292.6 318.4L298.9 319.7ZM212.9 316L222 316.9L231.9 316.5L240.6 314.8L246.8 312.2L251 308.5L251.5 307.3L251.5 304.8L250.2 302.4L243.6 296.2L242.2 293.7L243 292.5L244.3 291.8L253.2 290L234.4 289.5L222 290.4L213.4 293.1L203.4 298.6L200 301.1L198 303.6L197.2 306.1L197.9 308.5L200.1 311L203.4 313.1L212.9 316ZM155 269L196 269.4L241.8 267.3L258 265.8L268.4 264.1L274.1 262.3L275.2 261.6L275.2 260.4L273 259.1L269.1 258.1L259.2 256.4L228.2 253.7L192.3 252.5L128.6 251.7L139 251.2L147.8 249.3L145.2 248L136.6 247.2L114.3 246.4L94.4 247.3L87 248L83.4 249.3L90.7 250.9L113 252.1L119 253L106.8 253.6L80.8 256.2L75.5 257.9L73.4 259.6L72.4 261.6L73.4 263.5L75.9 264.9L89.5 266.8L111.8 267.9L155 269ZM254.4 248L264.1 248.9L269.1 248.5L274.1 247.5L277.8 245.4L287.2 238.2L288 236.9L287.7 234.4L284.7 230.7L280.2 228.2L274.1 226.1L266.6 225L259.2 225L251.8 226.1L245.6 228.2L241.2 230.7L238.8 233.2L238.1 234.4L238.3 235.7L247.6 241.9L251.8 246.7L254.4 248ZM33 232L46.1 233.1L61 232.5L73 230.7L76.5 229.5L77.3 228.3L73.4 226.4L65.9 225.1L54.8 224.4L43.6 224.8L33.7 226.4L29 228.3L28.3 229.5L29.3 230.7L33 232Z" fill="#ddba7a" fill-rule="evenodd"/><path d="M177.5 360.4L186.1 360.9L194.8 359.5L200.4 356.7L201.4 355.5L201.6 353L199.5 350.5L194.8 347.8L188.6 345.7L182.4 344.6L176.2 344.3L171.2 344.7L167.5 345.9L164.3 348.1L163.5 349.3L163.2 351.8L165.5 355.5L170 358.3L177.5 360.4ZM298.8 318.4L307.5 318.8L314.9 317.6L319.9 315.5L321.7 313.5L322 312.2L320.6 309.8L318.7 308.5L313.7 306.8L307.5 305.9L301.3 305.8L296.4 306.6L292.6 307.7L289.2 309.8L287.9 312.2L289.2 314.7L293.6 317.2L298.8 318.4ZM213.6 314.7L220.8 315.6L227 315.6L234.4 314.8L239.4 313.6L243.1 312.2L246.7 309.8L248.4 307.3L248.4 304.8L247 302.4L244.2 299.9L239.4 296.8L234.4 294.4L227 293.2L217.1 294.6L210.9 296.9L205.2 299.9L202.1 302.4L200.5 304.8L200.5 307.3L201 308.5L203.6 311L208.4 313.3L213.6 314.7ZM162.4 269L196 269.1L241.8 267L265.5 264.1L270.3 262.8L272.5 261.6L272.5 260.4L270.2 259.1L266.6 258.2L256.7 256.5L227 254L187.3 252.6L142.7 252.5L113 253.6L83.3 256.2L76.5 257.9L74.6 259.1L73.2 261.6L74.6 263.7L77.1 264.7L93.2 266.7L116.7 267.9L162.4 269ZM91.9 250.5L106.8 251.4L125.4 251.4L135.3 250.9L144.4 249.3L142.3 248L136.6 247.4L115.5 246.5L95.7 247.4L89.5 248L86.4 249.3L91.9 250.5ZM260 248L269.1 247.7L275.3 246L281.5 241.9L285.9 238.2L286.5 236.9L286.1 234.4L282.8 230.7L278.1 228.3L271.6 226.4L264.1 225.7L256.7 226.1L249.3 227.7L244.3 229.9L240.5 233.2L239.7 235.7L240.7 236.9L248.6 241.9L253 246.3L255.5 247.4L260 248ZM34.8 232L47.4 232.9L63.5 232L71.6 230.7L75.2 229.5L75.9 228.3L72.1 226.5L64.7 225.3L54.8 224.7L43.6 225.1L35 226.5L30.4 228.3L29.7 229.5L30.8 230.7L34.8 232Z" fill="#d2aa5f" fill-rule="evenodd"/><path d="M178 359.2L186.1 359.7L193.5 358.4L197.2 356.7L198.5 355.5L199.2 354.2L199.1 353L197.1 350.5L193.5 348.6L188.6 346.9L183.6 346L178.7 345.7L173.7 346.2L170 347.5L167.6 349.3L166.7 351.8L167.7 354.2L168.9 355.5L173.4 357.9L178 359.2ZM298.8 317.2L306.3 317.7L312.5 316.9L317.7 314.7L319.1 312.2L317.4 309.8L315 308.5L307.5 307L298.8 307.3L295.1 308.3L292.3 309.8L291.2 311L290.8 312.2L291.2 313.5L294.5 316L298.8 317.2ZM216 313.5L227 314.1L232.6 313.5L237.6 312.2L240.6 311L243.8 308.5L244.5 307.3L244.6 304.8L242.9 302.4L239.5 299.9L231.9 296.7L224.5 295.9L216 297.4L207.8 301.1L205.1 303.6L204.1 306.1L205 308.5L208.2 311L216 313.5ZM173.2 269L209.6 268.5L241.8 266.7L262.8 264.1L267.9 262.7L270 261.6L270 260.4L267.6 259.1L259.2 257.3L234.4 254.7L199.7 253.2L153.9 252.7L119.2 253.6L87 256.1L77.6 257.9L75.5 259.1L74.1 261.6L74.6 262.9L78.3 264.6L96.9 266.7L121.7 267.9L173.2 269ZM96.1 250.5L108.1 251.1L122.9 251.2L132.8 250.6L141.4 249.3L139.6 248L136.6 247.7L115.5 246.7L95.7 247.6L91.9 248L89.2 249.3L96.1 250.5ZM256.7 246.8L265.4 247.4L274.1 245.7L277.8 243.8L283.5 239.4L285.1 236.9L284.6 234.4L282.6 232L277.8 229.1L271.6 227.2L265.4 226.5L259.2 226.5L253 227.5L247.1 229.5L243.2 232L241.3 234.4L241.1 235.7L241.9 236.9L249.5 241.9L253.8 245.6L256.7 246.8ZM36.9 232L47.4 232.6L61.4 232L70 230.7L73.9 229.5L74.5 228.3L72.3 227L65.9 225.7L49.8 225.1L36.2 226.6L31.8 228.3L31.1 229.5L32.3 230.7L36.9 232Z" fill="#c88e42" fill-rule="evenodd"/><path d="M178.6 357.9L184.9 358.5L191.1 357.6L195.5 355.5L196.4 354.2L196.5 353L194.8 350.8L192.2 349.3L184.9 347.3L177.4 347.2L174 348.1L171.6 349.3L170 351.8L170.9 354.2L174.5 356.7L178.6 357.9ZM299.3 316L305 316.6L310.8 316L314.1 314.7L315.6 313.5L316.1 312.2L315.5 311L313.9 309.8L310.2 308.5L305 308L299.4 308.5L295.9 309.8L294.3 311L293.9 312.2L294.3 313.5L295.9 314.7L299.3 316ZM220.5 311L228 311L233.3 309.8L236.9 307.3L237 304.8L234.6 302.4L232.3 301.1L225.7 299.7L221.4 299.9L217.1 301.1L212.8 303.6L211.5 306.1L211.8 307.3L213 308.5L215.3 309.8L220.5 311ZM125.4 267.8L179.9 268.9L219.6 267.9L239.4 266.6L256.7 264.7L265.2 262.9L267.5 261.6L267.5 260.4L265.2 259.1L258 257.5L233.2 254.9L198.5 253.3L156.4 253L122.9 253.7L89.5 256.2L79 257.9L76.4 259.1L75.2 260.4L75 261.6L75.7 262.9L78.2 264.1L85.8 265.4L101.9 266.8L125.4 267.8ZM100.7 250.5L122.9 250.8L138.5 249.3L136.6 248L115.5 246.9L95.7 247.9L94.2 248L91.9 249.3L100.7 250.5ZM255.7 245.6L259.2 246.5L264.1 246.7L272.8 245.4L276.5 243.7L281 240.6L283.3 238.2L283.6 235.7L281.5 232.5L277.8 230L272.8 228.3L266.6 227.2L260.4 227.1L254.2 228L249.2 229.5L244.9 232L242.8 234.4L242.5 235.7L243.1 236.9L255.7 245.6ZM39.3 232L48.6 232.3L59.8 231.8L68.4 230.7L72.4 229.5L73.1 228.3L70.6 227L63.8 225.8L49.8 225.4L43.3 225.8L36.3 227L33.3 228.3L32.5 229.5L33.9 230.7L39.3 232Z" fill="#be8038" fill-rule="evenodd"/><path d="M179.8 356.7L183.6 357.1L188.6 356.7L192 355.5L193.3 354.2L193.6 353L191.3 350.5L184.9 348.6L178.7 348.7L174.2 350.5L173.4 351.8L173.5 353L174.3 354.2L176.2 355.5L179.8 356.7ZM300.8 314.7L305 315.2L308.7 314.8L311.9 313.5L312.5 312.2L311.7 311L308.8 309.8L305 309.4L301.3 309.7L298.1 311L297.4 312.2L298.1 313.5L300.8 314.7ZM131.5 267.8L182.4 268.7L223.3 267.5L244.3 265.9L257.7 264.1L262.8 262.9L265.2 261.6L265.2 260.4L262.8 259.1L256.7 257.7L231.9 255.1L198.5 253.5L157.6 253.2L124.2 253.9L92 256.2L80.6 257.9L77.5 259.1L76.2 260.4L76 261.6L76.9 262.9L80.2 264.1L89.5 265.5L105.6 266.8L131.5 267.8ZM106.6 250.5L122.9 250.5L135.7 249.3L134.3 248L115.5 247.1L96.6 248L94.5 249.3L106.6 250.5ZM258.5 245.6L262.9 246L267.9 245.8L275.3 243.5L279.7 240.6L281.9 238.2L282.3 236.9L281.6 234.4L279.2 232L275.3 229.9L270.3 228.5L264.1 227.8L258 228.1L253 229.1L248.6 230.7L245.2 233.2L243.9 235.7L244.4 236.9L254.2 243.7L258.5 245.6ZM43.1 232L52.5 232L65.9 230.7L70.8 229.5L71.5 228.3L68.8 227L62.2 226L49.8 225.7L38.2 227L34.8 228.3L34 229.5L35.6 230.7L43.1 232Z" fill="#b0702a" fill-rule="evenodd"/><path d="M178.7 354.2L182.4 355.3L184.9 355.5L188.6 354.5L189.9 353L189.1 351.8L186.4 350.5L181.2 350.3L177.7 351.8L177.5 353L178.7 354.2ZM137.9 267.8L184.9 268.5L225.7 267.1L244.3 265.6L255.1 264.1L260.4 262.9L262.9 261.6L262.9 260.4L260.4 259.1L254.2 257.8L229.5 255.1L197.3 253.7L157.6 253.4L126.6 254.1L93.2 256.4L80.8 258.4L77.3 260.4L77.1 261.6L78.3 262.9L82 264L92 265.4L108.1 266.7L137.9 267.8ZM97.3 249.3L114.3 250.4L132.9 249.3L131.7 248L115.5 247.3L99.1 248L97.3 249.3ZM257.3 244.3L264.1 245.3L269.1 244.8L272.8 243.8L276.7 241.9L279.7 239.4L280.5 238.2L280.6 235.7L279 233.2L275.2 230.7L270.3 229.2L265.4 228.5L259.2 228.6L254.2 229.5L250.5 230.8L246.8 233.2L245.3 235.7L245.7 236.9L257.3 244.3ZM37.6 230.7L47.4 231.6L61 230.9L68.9 229.5L69.8 228.3L66.6 227L61 226.3L47.4 226.2L40.3 227L36.6 228.3L35.7 229.5L37.6 230.7Z" fill="#a06220" fill-rule="evenodd"/><path d="M144.7 267.8L188.6 268.2L228.2 266.7L252.5 264.1L257.9 262.9L260.5 261.6L260.5 260.4L257.9 259.1L252.6 257.9L229.5 255.4L197.3 253.9L158.9 253.6L127.9 254.3L95.7 256.5L85 257.9L80.8 259L78.6 260.4L78.5 261.6L80.1 262.9L85 264.1L95.7 265.5L111.8 266.7L144.7 267.8ZM100.2 249.3L114.3 250.1L129.8 249.3L128.9 248L115.5 247.5L101.7 248L100.2 249.3ZM260.5 244.3L267.9 244.3L274.1 242.4L278.2 239.4L279 238.2L279.1 235.7L277.3 233.2L274.1 231.3L269.1 229.8L264.1 229.2L258.3 229.5L253.1 230.7L250.3 232L247.4 234.4L246.8 235.7L247.1 236.9L248.3 238.2L256.7 243.2L260.5 244.3ZM40.6 230.7L47.4 231.1L56.4 230.7L66.2 229.5L67.5 228.3L63.8 227L58.5 226.6L44.9 226.9L38.7 228.3L37.8 229.5L40.6 230.7Z" fill="#7e5f1a" fill-rule="evenodd"/><path d="M233.1 354.2L244.3 354.6L258 354L270.3 352.5L279 350.9L287.7 348.4L293.9 345.6L298.1 341.9L298.6 340.7L298.6 338.2L297 335.7L293.6 333.2L282.7 329.2L264.1 325.6L248 324.3L228.2 324.8L213.4 326.5L207.2 327.9L201 330.1L197.4 332L194.8 334.5L194.5 336.9L196.5 339.4L212.1 348.2L222 352.4L233.1 354.2ZM118.8 314.7L130.4 315L144 314.2L152.7 312.8L161.3 310.3L164.6 308.5L167.2 306.1L167.5 303.6L166.7 301.1L167.3 299.9L178.7 296.8L184.9 294.4L202 283.8L204.1 281.4L204.1 280.1L202.1 277.7L198.5 275.6L192.3 273.3L184.7 271.5L165.2 270.3L106.8 269.2L92 269.8L79.6 272.2L68.4 276.2L64 278.9L61.7 281.4L61 283.8L61.7 286.3L64 288.8L67.2 290.8L75.9 294.4L92.1 298.7L92.7 299.9L90.4 304.8L91.5 307.3L94.4 309.5L99.4 311.6L104.3 312.9L118.8 314.7ZM320 298.7L324.8 298.6L329.4 297.4L332.3 295.2L334.8 291.5L334.8 264.1L331 261.7L327.3 260.2L319.9 259.1L314.9 259.6L311.2 260.6L307.5 262.4L303.8 265.1L299.5 270.3L297.9 274L297.2 277.7L298.4 281.4L307.4 290L311.2 295.9L313.9 297.4L320 298.7ZM42 272.7L48.6 273.7L57.3 273.4L63.5 272.1L70.2 269L71.5 267.8L71.3 266.6L68.8 262.9L69.2 260.4L76.2 254.2L75.8 253L71 249.3L72.6 248L74.6 247.7L93.2 246.3L113 245.7L162.6 247.1L178.7 246.9L201 250.1L222 250.8L234.4 250.1L240.6 248.8L244.2 246.8L245 245.6L245 244.3L243.1 241.9L239.2 239.4L234.4 237.5L228.2 236L219.6 235.2L199.7 235L175 231.3L144 229L119.2 228.3L90.7 228.4L85.8 229L73.4 232L61 233.5L46.1 234.2L27.5 233.6L27.5 246.3L28.9 246.8L29.3 248L27.5 250.3L27.5 265.5L33.7 270L42 272.7ZM297.4 254.2L305 254.9L314.9 254.9L323.6 253.7L328.6 252.4L334.8 249.8L334.8 241.4L328.6 238.9L322.4 237.5L311.2 236.4L302.5 236.6L296.4 237.7L290.2 240.2L285.6 243.1L282.4 246.8L282.4 249.3L285.2 251.5L291.4 253.4L297.4 254.2Z" fill="#d6ebe6" fill-rule="evenodd"/><path d="M229.4 351.8L239.4 352.5L250.5 352.3L262.9 351.2L272.8 349.5L281.5 347.1L287.2 344.4L290 341.9L290.7 340.7L290.7 338.2L288.9 335.7L286.4 334.1L276.5 330.3L262.9 327.7L246.8 326.4L230.7 326.6L215.8 328.4L204.7 331.6L201.8 333.2L199.6 335.7L199.5 336.9L201 339.4L208.8 344.4L219.6 349.5L229.4 351.8ZM113.3 313.5L124.2 314.4L137.8 314.1L148.9 312.7L157.6 310.4L161.7 308.5L164.3 306.1L164.5 303.6L163.1 299.9L164.3 298.7L177.4 295.4L186.1 291.8L197.1 285.1L199.4 282.6L199.3 280.1L196.6 277.7L192.3 275.5L184.9 273.1L177.2 271.5L158.5 270.3L113 269.5L97.4 270.3L83.3 273.1L72.1 277.2L69.4 278.9L67 281.4L66.2 283.8L67 286.3L71.4 290L78.3 293.1L95.1 297.4L96.8 298.7L93.6 303.6L93.4 304.8L94.6 307.3L96.1 308.5L103.1 311.5L113.3 313.5ZM315.7 295L319.9 296L324.8 295.5L328.6 293.6L334.8 287.8L334.8 268.7L331 265.6L327.3 263.7L319.9 262.4L312.5 263.7L308.7 265.6L306 267.8L303.8 270.3L301.7 274L300.8 278.9L302.2 282.6L312.5 292.7L315.7 295ZM42 271.5L48.6 272.5L57.3 272.1L63.5 270.6L69.2 267.8L69.7 266.6L68 262.9L68.4 260.4L74.6 254.2L74 253L69.6 249.3L70.6 248L73.4 247.5L109.3 245.6L158.9 246.5L178.7 246L183.6 246.3L204.7 249.7L222 250.2L231.9 249.6L239.4 248.4L242.8 246.8L243.9 245.6L244 244.3L242.2 241.9L238.2 239.4L233.2 237.6L228.2 236.5L219.6 235.9L194.8 235.9L175 232.5L144 229.9L116.7 229.1L92 229.2L85.8 229.7L73.4 232.2L61 233.7L27.5 234.4L27.5 244.6L30.9 245.6L32.5 246.8L32.1 248L27.5 253.2L27.5 262.6L30 265.7L33.7 268.4L42 271.5ZM294.6 253L301.3 253.8L310 254L317.4 253.6L323.6 252.6L329.8 250.7L333.5 248.6L334.8 247.3L334.8 243.8L332.5 241.9L328.6 240L318.7 237.9L306.3 237.2L296.4 238.4L288.3 241.9L285.2 244.3L283.6 246.8L284 248.9L285.8 250.5L290.2 252.1L294.6 253Z" fill="#b9ead6" fill-rule="evenodd"/><path d="M242.6 350.5L259.2 349.5L273 346.8L281.3 343.1L283.4 340.7L283.4 338.2L281.5 335.9L279.3 334.5L272.8 332L261.1 329.5L246.6 328.3L233.2 328.4L220.8 329.8L211.7 332L208.4 333.5L205.8 335.7L205.7 338.2L208.1 340.7L221 346.8L228.7 349.3L242.6 350.5ZM227 344.4L223.9 343.1L223.9 341.9L225.7 340.7L231.9 340.1L234.1 340.7L235.3 341.9L234.6 343.1L231.9 344.2L227 344.4ZM119 313.5L129.1 313.9L140.3 313.3L150.2 311.8L156.8 309.8L160.1 308L162.1 306.1L162.3 303.6L160.3 299.9L160.6 298.7L163.4 297.4L176.2 294.5L183.6 291.5L194.3 285.1L196.2 282.6L196.3 281.4L194.5 278.9L188.6 275.8L181.2 273.4L172.5 271.7L151.6 270.3L122.9 269.8L105.2 270.3L92 272.3L83.3 274.5L77.9 276.4L73.3 278.9L70.7 281.4L69.9 283.8L70.8 286.3L75.4 290L83.3 293.2L99.3 297.4L99.8 298.7L96.6 302.4L95.6 304.8L96.9 307.3L98.5 308.5L106.8 311.7L119 313.5ZM316.4 292.5L321.1 293.4L324.8 292.7L329.8 289.8L334.8 285L334.8 272.7L331 268.5L326.1 265.7L322.4 264.8L318.7 264.7L312.5 266.2L306.8 270.3L303.8 275.2L303.3 280.1L305.2 283.8L311.2 289.3L316.4 292.5ZM47.4 271.5L52.3 271.7L58.5 271L63.5 269.6L67.3 267.8L68.4 266.6L67.3 262.9L67.7 260.4L72.8 255.4L73.3 254.2L72.6 253L68.3 249.3L68.8 248L72.1 247.2L108.1 245.5L157.6 246.2L179.9 245.2L201 248.7L220.8 249.7L236.9 248.3L241.4 246.8L242.7 245.6L242.9 244.3L241.2 241.9L237.1 239.4L228.2 237L217.1 236.4L193.5 236.8L168.8 232.6L136.6 230.2L113 229.6L89.5 229.9L63.5 233.7L33.7 234.8L27.5 235.5L27.5 243.3L33.7 245.3L34.8 246.8L28.5 254.2L27.6 257.9L28.5 261.6L31.3 265.3L36.2 268.6L42.4 270.7L47.4 271.5ZM299.6 253L311.2 253.4L322.4 252.1L330.4 249.3L332.3 247.9L333.5 245.6L332.1 243.1L326.1 240.1L318.7 238.5L307.5 237.8L300.1 238.3L293.9 239.7L288.9 242.2L285.2 245.6L284.9 248L287.7 250.4L292.6 251.9L299.6 253Z" fill="#9ce0c8" fill-rule="evenodd"/><path d="M241.1 346.8L244.3 347.6L250.5 347.7L264.1 345.8L271.5 343.1L273.2 341.9L274.6 339.4L273.2 336.9L267.9 334.2L259.2 332L248 330.8L235.9 330.8L225.7 331.9L220.2 333.2L217.4 334.5L216 335.7L216.2 336.9L218.3 337.4L230.7 336.8L235.7 337.4L239.4 338.5L241.8 340.1L242.8 341.9L241 345.6L241.1 346.8ZM113 312.2L124.2 313.3L135.3 313.2L146.5 311.9L154.6 309.8L157.6 308.3L160.2 306.1L160.4 303.6L158 299.9L157.8 298.7L158.9 297.8L173.7 294.1L182.4 290.8L191.8 285.1L193.4 282.6L193.4 281.4L191.3 278.9L186.6 276.4L179.9 274.2L171.2 272.3L151.4 270.6L126.6 270.1L109.3 270.6L93.2 273L80.8 276.7L76.6 278.9L73.9 281.4L73 283.8L73.2 285.1L75 287.6L78.3 289.8L85.8 292.7L100 296.2L102.3 297.4L102.3 298.7L97.8 303.6L97.9 306.1L100.6 308.5L103.2 309.8L113 312.2ZM319.1 291.3L324.8 290.7L329.8 287.9L333.5 283.8L334.7 280.1L333.8 275.2L331 271L326.1 267.7L321.1 266.5L316.2 266.9L311.2 269L307.3 272.7L305.3 277.7L305.6 281.4L308.1 285.1L313.7 289.3L319.1 291.3ZM43.8 270.3L49.8 271L56 270.7L61 269.6L65.9 267.5L67 266.6L67.2 265.5L66.4 262.9L66.9 260.4L71.9 255.4L72.2 254.2L71.4 253L67 249.3L67.2 248L72 246.8L110.5 245.2L158.9 245.7L179.9 244.4L202.2 248.4L220.8 249.3L230.7 248.8L236.9 247.8L240.6 246.3L241.5 245.6L241.9 244.3L240.2 241.9L238.1 240.4L233.2 238.4L228.2 237.4L215.8 236.8L191.1 237.5L176.2 234.4L165 232.8L148.9 231.4L129.1 230.4L88.2 230.4L65.9 233.7L35 235.3L27.5 236.9L27.5 241.9L35 244.5L36.5 245.6L36.7 246.8L31.4 251.7L29.7 254.2L28.8 257.9L29.7 261.6L31.4 264.1L35 266.9L38.7 268.8L43.8 270.3ZM294.8 251.7L306.3 252.8L318.7 252.1L323.6 251.1L328.4 249.3L330.3 248L331.8 245.6L330.3 243.1L328.3 241.9L321.1 239.6L310 238.3L298.8 239L293.9 240.3L290.5 241.9L287.3 244.3L285.9 246.8L286.2 248L287.7 249.4L294.8 251.7Z" fill="#82d2b9" fill-rule="evenodd"/><path d="M116.8 312.2L126.6 312.9L137.8 312.5L147.7 311.1L153.9 309.2L157.3 307.3L158.8 304.8L158.7 303.6L155.5 298.7L156.3 297.4L171.6 293.7L179.9 290.7L185.9 287.6L189.3 285.1L190.8 282.6L190.7 281.4L188.4 278.9L183.4 276.4L169.1 272.7L156.4 271.3L129.1 270.4L111.8 271L95.7 273.4L83.3 277L79.5 278.9L76.7 281.4L76 282.6L76 285.1L77.9 287.6L79.6 288.8L88.2 292.4L103.5 296.2L105 297.4L104.5 298.7L99.5 303.6L99.6 306.1L100.7 307.3L106.8 310.3L116.8 312.2ZM315.6 288.8L319.9 289.8L323.6 289.5L328.6 287.1L331.7 283.8L333 280.1L332.4 276.4L330.3 272.7L327.3 270.2L322.4 268.3L317.4 268.3L312.5 270.2L308.6 274L307.4 276.4L306.9 278.9L307.8 282.6L311.2 286.3L315.6 288.8ZM48.5 270.3L58.5 269.6L63.5 268L65.7 266.6L66.2 265.3L65.5 261.6L66.1 260.4L71 255.4L71.1 254.2L70.3 253L65.8 249.3L65.7 248L69.7 246.7L109.3 245.1L156.4 245.4L179.9 243.6L202.9 248L220.8 248.9L229.5 248.4L235.7 247.5L239.4 246.2L240.7 244.3L239.1 241.9L236.9 240.4L233.2 238.9L227 237.7L213.4 237.2L188.6 238.2L175 235L163.8 233.3L146.5 231.7L127.9 230.9L105.6 230.5L87 230.9L64.7 234L36.1 235.7L31.3 236.9L29 238.2L28.2 239.4L29 240.6L37.4 244.3L38.6 245.6L38.5 246.8L32.7 251.7L30.8 254.2L29.9 257.9L30.8 261.6L33.7 265.1L37.5 267.4L42.4 269.3L48.5 270.3ZM298.3 251.7L310 252.3L319.9 251.3L326.5 249.3L328.6 248L330.1 245.6L328.6 243.1L322.9 240.6L316.2 239.3L307.5 238.8L300.1 239.3L294.6 240.6L289.8 243.1L287.5 245.6L287.2 246.8L287.6 248L289.2 249.3L292.6 250.6L298.3 251.7Z" fill="#6abea6" fill-rule="evenodd"/><path d="M122.1 312.2L131.6 312.4L140.3 311.8L147.7 310.5L153.4 308.5L155.5 307.3L157.1 304.8L156.2 302.4L153.3 298.7L153.5 297.4L156.1 296.2L171.2 292.9L178.8 290L187 285.1L188.4 282.6L188.1 281.4L185.6 278.9L182.4 277.3L176.4 275.2L168.8 273.4L154 271.5L131.6 270.8L114.3 271.4L98.2 273.7L85.8 277.2L82.3 278.9L79.3 281.4L78.6 282.6L78.6 285.1L80.6 287.6L82.4 288.8L90.7 292.2L106.6 296.2L107.4 297.4L106.6 298.7L101.2 303.6L101.4 306.1L102.5 307.3L105.6 309L110.5 310.6L122.1 312.2ZM315.7 287.6L319.9 288.5L323.6 288.1L327.3 286.4L330 283.8L331.1 281.4L331.1 277.7L329.8 274.7L327.3 272L323.6 270.1L318.7 269.6L313.7 271.2L310.5 274L308.7 277.7L308.9 281.4L311.6 285.1L315.7 287.6ZM44.1 269L49.8 269.7L54.8 269.6L61 268.2L64.4 266.6L65.1 265.3L64.6 261.6L65.1 260.4L69.1 256.7L70 255.4L70.1 254.2L69.2 253L64.5 249.3L64.1 248L68.4 246.4L106.8 244.9L156.4 245L179.9 242.6L182.4 242.7L201 247.3L209.6 248.3L219.6 248.5L228.2 248.1L234.4 247.3L238.1 246L239.5 244.3L239 243.1L236.1 240.6L233.2 239.4L227 238.1L210.9 237.7L186.1 239.1L183.6 238.8L174.4 235.7L167.5 234.4L152.7 232.7L134.1 231.5L111.8 230.9L89.5 231.2L64.7 234.2L40.9 235.7L35 236.9L32.5 238.2L31.7 239.4L32.5 240.6L38.7 243.7L40.6 245.6L40.3 246.8L32.7 253L31.3 255.4L31 259.1L32.7 262.9L35.3 265.3L39.9 267.8L44.1 269ZM303.6 251.7L312.5 251.7L320.6 250.5L326.8 248L328.1 246.8L328.5 245.6L328 244.3L326.8 243.1L322.4 241.2L314.9 239.7L307.5 239.3L301.3 239.7L296.4 240.7L291.1 243.1L288.8 245.6L288.6 246.8L289.2 248L291 249.3L296.4 250.8L303.6 251.7Z" fill="#5aab96" fill-rule="evenodd"/><path d="M115.6 311L125.4 311.9L135.3 311.7L144 310.7L151.4 308.5L153.9 307.1L155.4 304.8L154.4 302.4L151.2 298.7L151 297.4L151.4 297L153.9 295.8L169.3 292.5L177.4 289.4L184.6 285.1L185.9 282.6L185.6 281.4L183.6 279.4L180.5 277.7L167.5 274L151.4 271.9L132.8 271.3L116.7 271.9L100.6 274L88.2 277.4L85 278.9L81.9 281.4L81.1 282.6L81.1 285.1L83.2 287.6L85.1 288.8L92 291.6L106.6 295L109.5 296.2L109.7 297.4L108.6 298.7L103 303.6L102.7 304.8L103.1 306.1L106.8 308.7L115.6 311ZM315.7 286.3L318.7 287.2L322.4 287.1L326.1 285.6L328.2 283.8L329.5 281.4L329.7 278.9L329 276.4L327.2 274L323.6 271.7L319.9 271L316.2 271.7L312.5 274L310.3 277.7L310.4 281.4L312 283.8L315.7 286.3ZM48 269L57.3 268.6L61 267.5L63.5 266L64 265.3L63.6 261.6L64.2 260.4L69.1 255.4L69.1 254.2L68.2 253L63.1 249.3L62.5 248L64.2 246.8L65.9 246.4L72.1 245.7L104.3 244.8L156.4 244.7L170.5 243.1L179.8 240.6L179.5 239.4L175.2 236.9L163.6 234.4L146.5 232.7L122.9 231.5L87 231.7L61 234.8L46 235.7L38.5 236.9L35.9 238.2L35 239.4L35.8 240.6L41.9 244.3L42.5 245.6L42.1 246.8L35 251.7L32.9 254.2L32 256.7L32.4 260.4L33.8 262.9L37.5 265.8L42.4 268L48 269ZM297.8 250.5L307.5 251.3L317.4 250.5L324.9 248L326.2 246.8L326.7 245.6L326.2 244.3L324.8 243.1L317.2 240.6L307.5 239.9L299 240.6L292.6 243.1L291.1 244.3L290.2 246.4L291 248L292.6 249L297.8 250.5ZM212.8 248L223.3 248.1L231.9 247.2L236.9 245.7L238.1 244.3L236.6 241.9L233.2 240L228.2 238.7L222 238.1L209.6 238.1L196 239.1L186.3 240.6L185.4 241.9L190.8 244.3L196 245.8L203.4 247.2L212.8 248Z" fill="#4a9b84" fill-rule="evenodd"/><path d="M119.9 311L127.9 311.4L136.6 311.1L145.2 309.8L149.2 308.5L151.6 307.3L153.5 304.8L152.6 302.4L149.1 298.7L148.6 297.4L149.3 296.2L165.9 292.5L175 289.3L182.1 285.1L183.4 282.6L183.1 281.4L181.2 279.5L177.6 277.7L166.3 274.5L152.7 272.6L134.1 271.8L116.7 272.5L101.9 274.5L90.5 277.7L87 279.4L84.4 281.4L83.6 282.6L83.6 285.1L85.8 287.5L87.9 288.8L95.7 291.7L110.3 295L112.3 296.2L112 297.4L104.8 303.6L104.5 304.8L105 306.1L109.3 308.8L119.9 311ZM315.9 285.1L318.7 286L321.1 286L323.6 285.5L326.2 283.8L327.3 282.5L328.1 280.1L327.8 277.7L326.3 275.2L323.6 273.3L319.9 272.5L316.2 273.3L313.7 275L312 277.7L311.8 280.1L312.8 282.6L315.9 285.1ZM44.2 267.8L49.8 268.6L54.8 268.4L59.8 267.2L62.2 265.8L62.7 265.3L62.5 261.6L63 260.4L68.1 255.4L68 254.2L67 253L61.6 249.3L60.8 248L62 246.8L64.7 246L70.9 245.4L101.9 244.7L155.5 244.3L166.3 243.1L171.7 241.9L174.7 240.6L175.4 239.4L174.4 238.2L171.6 236.9L159.3 234.4L141.5 232.8L118 231.8L87 232.1L42.2 236.9L39.3 238.2L38.4 239.4L39.1 240.6L44.1 244.3L44.6 245.6L44.2 246.8L37.5 250.8L35 252.9L33.4 255.4L32.9 257.9L34 261.6L36.2 264.1L39.9 266.3L44.2 267.8ZM303.2 250.5L312.3 250.5L318.7 249.4L322.5 248L324.1 246.8L324.5 245.6L324 244.3L322.4 243.1L319.2 241.9L312.5 240.7L307.5 240.5L302.5 240.8L297.4 241.9L294.6 243.1L292.1 245.6L292.1 246.8L293.9 248.4L296.4 249.4L303.2 250.5ZM204.1 246.8L215.8 247.6L225.7 247.4L233.2 246.3L235.4 245.6L236.4 244.3L235.7 242.5L233.1 240.6L229.4 239.4L222 238.6L210.9 238.5L198.5 239.4L191.2 240.6L189.3 241.9L190.4 243.1L193.4 244.3L204.1 246.8Z" fill="#3e8e76" fill-rule="evenodd"/><path d="M116 309.8L124.2 310.7L132.8 310.7L141.7 309.8L147.7 308L150.9 306.1L151.5 304.8L150.5 302.4L146 297.4L146.1 296.2L148.8 295L165 291.7L173.4 288.8L179.6 285.1L180.9 282.6L180.5 281.4L177.4 278.9L174.6 277.7L165 275.1L150.2 273L134.1 272.4L118 273L103.1 275.1L93.5 277.7L90.6 278.9L87 281.4L86.2 282.6L86.2 285.1L88.2 287.3L90.7 288.8L97.5 291.3L114.3 295.2L115.2 296.2L114.4 297.4L107.9 302.4L106.6 304.8L107.1 306.1L108.6 307.3L116 309.8ZM316.4 283.8L318.7 284.6L321.1 284.7L324.8 283L326.3 280.1L326.1 278.2L325.1 276.4L323.6 275.1L321.1 274.2L318.7 274.2L316 275.2L313.9 277.7L313.5 280.1L314.7 282.6L316.4 283.8ZM47.8 267.8L56 267.5L59.6 266.6L61.3 265.3L61.2 261.6L61.8 260.4L67.1 255.4L66.9 254.2L65.9 253L58.6 248L59.3 246.8L62.2 245.8L70.9 245L151.4 244.1L162.2 243.1L167.5 241.9L170.9 240.6L171.8 239.4L170.8 238.2L167.9 236.9L154.7 234.4L139 233L116.7 232.2L85.8 232.6L45.9 236.9L42.8 238.2L41.8 239.4L42.3 240.6L46.5 244.3L47.1 245.6L46.7 246.8L37.5 251.8L35 254.5L33.9 257.9L35 261.3L37.6 264.1L42.3 266.6L47.8 267.8ZM300.7 249.3L307.5 249.7L314.7 249.3L319.1 248L321.1 246.8L321.6 245.6L321 244.3L319 243.1L314.3 241.9L307.5 241.5L301.6 241.9L297.6 243.1L294.8 245.6L294.9 246.8L296.4 248L300.7 249.3ZM209 246.8L227.1 246.8L232.9 245.6L234.4 244.3L234.2 243.1L233.1 241.9L230.9 240.6L225.9 239.4L222 239.1L203.5 239.4L195.1 240.6L192.5 241.9L193.3 243.1L196.2 244.3L209 246.8Z" fill="#348168" fill-rule="evenodd"/><path d="M121.4 309.8L136.1 309.8L143 308.5L146.4 307.3L148.2 306.1L149 304.8L148.8 303.6L143.3 297.4L142.7 296L144.1 295L161.3 291.7L170.3 288.8L176.8 285.1L178.2 282.6L177.7 281.4L175 279.2L171.4 277.7L161.5 275.2L148.9 273.6L134.1 273L119.2 273.6L106.6 275.2L96.7 277.7L93.2 279.1L89.8 281.4L88.9 282.6L89 285.1L91.5 287.6L93.8 288.8L101.2 291.3L118.1 295L118.5 296.2L110.4 302.4L109.1 304.8L109.7 306.1L111.8 307.4L114.7 308.5L121.4 309.8ZM317.7 282.6L319.9 283.1L322.4 282.6L323.7 281.4L324.2 280.1L323.5 277.7L321.1 276.2L318.7 276.2L317.4 276.7L316.2 277.9L315.7 280.1L316.2 281.4L317.7 282.6ZM44.8 266.6L53.6 267.2L57.1 266.6L59.6 265.3L60 264.1L59.6 261.6L60.2 260.4L65.1 256.7L66 255.4L65.7 254.2L64.5 253L55.3 248L54.8 246.8L59 245.6L68.4 244.6L150.2 243.7L157.5 243.1L163.9 241.9L167.1 240.6L168.1 239.4L167.1 238.2L164 236.9L152.7 234.8L134.1 233.2L118 232.6L84.5 233.1L49.9 236.9L46.5 238.2L45.3 239.4L45.7 240.6L50.8 245.6L51.2 246.8L42.4 250L39 251.7L36.3 254.2L35.2 256.7L35.7 260.4L37.5 262.9L41.2 265.3L44.8 266.6ZM306.4 246.8L310.3 246.8L312.1 245.6L310 244.9L307.5 245L305.7 245.6L306.4 246.8ZM205.6 245.6L215.8 246.4L224.5 246.1L229 245.6L231.3 244.3L231.3 243.1L230.2 241.9L227.5 240.6L218.3 239.6L203.4 240.2L199.5 240.6L196 241.9L196.6 243.1L205.6 245.6Z" fill="#267254" fill-rule="evenodd"/>
<path d="M30 235.7L32.5 235.7L34.4 235.1L35.3 236.9L36.8 238.8L37.8 240L38.1 242.8L39.3 243.3L41.2 242.5L42 243.7L42.7 246.8L43.2 250.5L42.8 252.7L43.9 254.2L45.3 255.4L45.4 257.9L46.5 259.4L48 260.5L49.2 261.2L50.2 261.1L49.1 257.9L48.5 255.9L47.1 255.2L45.3 252.4L43.9 251.1L43.9 249.5L44.9 247.4L45 246.2L46 246.3L46 247.3L47.7 247.8L49.2 249.8L50.6 250L50.8 252.1L51.2 252.2L52.7 251.1L53.6 249.9L55.8 248.9L56.3 247.4L56.4 245.9L55.8 243.8L54.2 242.5L52.9 240.9L51.9 239.5L52.9 237.9L54.2 236.5L55.4 236.2L56.7 236.3L57.2 237.7L57.9 237.8L58 236.7L59.5 236.2L61 235.4L61.7 234.9L62.6 235.3L64.1 234.7L65.7 234.2L66.9 233L67.9 232.5L69.2 231.4L69.4 230L70.3 229.1L71.1 227.9L72 226.8L72.4 225.8L72.1 223.3M227.2 225.2L228 227.3L230 228.5L231.1 230L232.8 231.2L233.2 232.6L235.2 234.1L236.3 235.4L236.6 236.3L236.3 237.4L237.3 238.3L238.9 239.3L240.6 240.4L241.8 241.1L244.3 242.2L246.2 243.2L248 243.1L250.5 243.3L253.4 244.8L255 245.7L256.7 246.3L258.3 246.7L259.7 247.5L260.8 249.3L262.2 250.5L263.5 251.1L264.1 252.6L264.8 253L266.6 252.6L267.6 253L268.9 253.8L270.1 253.6L271 252.4L270.7 253.5L271 254.7L271.1 256.7L270.7 258.5L269.6 259.9L269.1 260.9L267.7 261.7L267.4 262.7L266.7 264.1L266.9 265.6L267.5 266.1L267.2 267.8L266.4 268.9L266.7 270.3L268.2 271.7L269.5 273.5L270.6 275.4L271.6 277.7L272.6 279.8L274.7 281.7L276.5 283L278.8 284.5L279.9 286.3L280 288.8L279.8 291.3L279.6 293.7L279.3 296.2L278.6 298.7L278.4 300.5L278.3 303L278 304.7L277.4 306.2L277 307.6L275.9 308.9L276 310.4L275.5 312.2L275.7 313.7L275.7 315.2L275.8 316.9L274.3 318.3L273.7 319.4L274.3 320.8L274.8 322.1L274.8 324L274.8 326.2L275.9 327.6L276.9 328.2L278 329L279 329.4L279.6 328.7L280.5 327.7L282.2 327.4L281.1 326.8L282.1 326.1L281.7 325.1L282.7 324.1L283.3 323L285.5 322.1L284.6 321.3L283.2 320.4L283.6 318.5L285.9 318.3L286.9 316.6L288.1 315.7L286.2 315.2L286.8 314.2L286.4 313.5L289.8 313.2L289.9 312L290.2 310.9L292 310.9L294.5 310.3L295.9 308.9L296.8 307.7L296.1 306.6L294.9 305.2L296.2 305.8L297.1 305.3L299.1 305.8L300.7 305.6L301.9 304.3L303.8 302.1L305.3 299.9L306.5 298L306.8 296.9L308.5 294.6L310 293.2L311.2 292L313.2 291.3L314.9 290.8L316.2 289.4L317.7 287.6L318.2 286.1L318.7 284.5L318.9 281.4L319.3 278.9L320.6 278.2L321.7 276.1L323 274.6L323.9 272.7L323.6 270.9L323 269.4L321.1 268.7L319.3 267.5L317.4 266.3L314.9 266.4L313.9 266.1L311.2 265.1L309.4 264.1L307.5 264.1L306 263.5L305 262.9L305 261L304.2 260.4L303.4 257.9L302.5 256.9L300.7 256.1L299.5 255.7L296.7 255.7L295.1 254.3L292.6 252.5L291.4 251.7L290.4 250.7L289.5 250L286.7 249.6L285.2 249.8L283.1 249.6L281.9 248.8L280.5 248.5L279.1 249.3L278.4 249.9L278.9 251.4L278.1 250.5L278.4 249.3L278.1 248.3L277.4 247.5L276 248.6L274.7 249.3L273.7 249.3L273.2 249.8L272.9 251.1L271.8 252.2L271 252.4L270.6 251.7L269.2 251.1L268.1 251.4L267.4 251.7L265.8 250.6L263.5 249.3L263.7 247.4L263.4 245.6L263.9 244.3L262.2 243.2L260.8 243.3L257.7 243.3L257.2 243.2L257.7 242.6L257.7 240.7L258.4 239.9L258.7 238.2L259.4 236.3L258.6 236.3L256.6 236.5L255 237L254.9 238.5L253.4 239.9L251.1 240L248.7 239.9L247.7 238.8L246.3 237L245.9 235.3L246.1 232.8L246.6 231L246.3 229.9L246.1 228.3L247.3 227.2L249.3 226.3L251.1 226L253.4 225.2M261.9 225.2L262.9 225.9L264.5 227L264.4 228.4L265 229.8L265.6 230.9L267 231.7L267.6 231.6L267.9 229.8L266.9 228.5L266.1 227L266 225.2M222.8 225.2L223.6 226.4L224.5 227.5L225.6 228.5L226.5 229.9L227.7 230.7L228.1 232.2L229.5 233.7L230.6 234.6L230.9 234.4L230.7 233.3L229 232.6L228.5 230.7L227.6 229.5L226.2 227.2L225.2 225.8L224.9 225.2M30 345L32.5 345L38.7 344.6L44.9 344.4L51.1 344.1L57.3 344.6L63.5 345.3L69.7 345.1L75.9 344.6L82 344.5L88.2 344.4L94.4 345.2L100.6 345.8L106.8 347.1L113 347.8L119.2 348.8L125.4 350L131.6 351.2L132.2 352.4L129.1 353.6L125.4 355.5L121.7 357.9L120.5 360.4L121.7 364.1L126.6 366.6L137.8 367.8L150.2 368.1L162.6 368.2L175 367.8L183.6 366.6L181.2 362.9L186.1 359.2L193.5 356.7L203.4 356.1L212.1 354.9L224.5 354.9L236.9 354.2L245.6 353.6L255.5 353L265.4 353.4L271.6 353L276.5 350.5L280.2 348.7L284 345.6L286.4 344.1L290.2 342.5L295.1 341.3L298.8 340.9L296.4 342.5L292.6 344.4L288.9 347.4L289.5 350.5L291.4 355L286.4 356.7L283.6 357.9L292.6 358.6L307.5 359.2L317.4 358.9L329.8 357.5L332.3 356.7M55.5 239.1L56.3 240.2L57.4 240.1L58.4 238.6L58 238L56.8 238.2L55.7 238.6ZM69.8 234.4L70.5 235.7L71.4 234.7L72 232.5L71.6 231.6L70.9 232L69.9 233.5ZM70.4 240L72.4 240L72.4 241.9L71.6 243.3L71.8 245.3L72.8 245.6L73.6 246.1L74.7 247.3L73.8 246.8L72.9 246.5L71.8 245.7L70.4 245.7L70.4 244.6L69.4 243.2L70 242.8L70.2 241.2ZM72.1 254.2L73.4 253.5L74.2 253L75.2 252.2L76.4 250.7L77.7 253.6L77.3 255.1L76.4 255.9L74.9 255.2L74.5 253.8L73.1 253.7L72.4 254.3ZM75 247.4L76.7 248.9L75.9 250.5L75.2 249.5L75.4 248.5ZM72 248.2L73.5 249L73 250L72.1 249.9ZM73.3 249.4L74.1 250L73.5 251.6L72.6 250.6ZM74.5 249L74.6 250.3L73.9 251L74 249.9ZM70 246.2L71.5 246.4L71.1 247.8L70.2 247.2ZM66.2 252.5L69.2 248.8L68.7 250.1L66.6 252.7ZM56 261L56.8 263.1L57.5 264.9L57.4 266.4L59.4 266.6L61 266.8L62.8 267.2L64.7 267.7L65.3 265.6L66.6 263.7L66.9 261.6L68.3 261.5L67.1 260.1L66.8 258.2L67.9 257.4L68.7 256.4L66.8 255.3L65.9 254.2L65.1 254.7L64 256.4L62.5 257.3L61 258.9L58.9 259.9L58.3 261L56.8 260.5ZM39.1 255.9L41.8 256.4L43.3 258.3L45.4 260.1L46.6 260.6L48.7 262.4L49.6 264.1L50.5 265.1L52.1 266.6L52.3 268.4L52.1 270L50.6 270.1L47.7 267.8L46.1 265.9L45.1 263.8L44 262.6L43 260.6L41.4 258.9L39.9 257.3L39.1 256.3ZM51.3 271.2L52.3 270.1L53.9 270.1L55.4 270.8L57.9 271.4L60.5 271.4L62.8 272.4L62.7 273.6L60.4 273.2L57.9 273L55.4 272.5L52.9 272L51.6 271.4ZM62.8 272.9L64.3 273.2L63.7 273.7ZM64.7 273.2L65.6 273L65.3 273.8ZM65.9 273.3L68.4 273L68.2 273.7L65.9 274ZM69.4 273.2L73.3 272.9L73.1 273.7L70.3 273.7ZM74 275.6L76.1 273.5L78.7 273.2L75.9 274.7ZM68.4 274.7L70.7 275.2L69.9 275.6ZM68.2 266.3L68.9 264.7L69.4 262.7L69.8 261.9L70.9 261.2L72.8 261.6L74.6 261.7L76.1 261L75.4 262.2L73.6 262.4L71 262.4L69.8 263L70.3 264.7L71.5 264.1L73.8 264L72.5 265.1L71.3 265.2L72.8 266.8L72.5 268.8L71.5 268.5L70.8 266.1L70 266.4L70.2 269.6L69 269.6L69.2 268.2L69 267.2L68.2 266.3ZM79 260.4L79.6 261.6L80.4 261.2L79.6 262.4L80.7 263.2L79.8 263.8L79.1 262.2L78.8 261ZM79.6 266.8L83 267.5L82.3 266.9L80.2 266.4ZM77.1 266.7L78.6 266.9L78.2 267.5L77.2 267.3ZM83.3 264.1L84.8 263.3L87.1 264L87.6 266.1L88.9 267L91.3 264.7L93 264.9L95.7 266.1L97.8 266.9L100.1 267.8L101.6 269L101.9 270.3L103.7 270.6L104.2 271.5L105.2 273.8L106.6 274.7L107.8 275.6L106.5 275.6L104.3 275.3L103.2 274.6L101.9 272.9L100.3 272.2L98.5 273L98.6 274L97.7 274.3L95.7 274.1L93.4 272.9L92 273.2L91.6 272.2L92.8 271.4L91.8 269.5L89.2 268.4L87.1 267.7L85.9 267.9L84.5 266.3L85.9 265.8L84.4 264.8ZM104.7 269.8L106.9 269.5L108.7 268.2L109.7 268.2L108.9 269.6L106.9 270.5L105 270.4ZM107.8 266.2L109.3 266.9L110.5 268.7L109.9 268.5L108.8 267.2ZM112.5 269.5L114.1 271L113.5 271.4L112.8 270.3ZM114.9 271.5L118 272.7L119 273.5L117.4 273.2L115.2 272.1ZM119.8 273.3L121.1 275L120.6 275.1L120 274ZM118.8 274.3L120.2 274.6L119.6 275ZM121.1 275.4L122.1 275.9L121.2 275.9ZM127.3 281.4L128.1 281.7L127.9 282.2L127.4 282ZM128.1 282.6L129.5 283.4L129.1 283.8ZM129.4 284.5L129.9 284.6L129.6 285ZM124.2 287.7L126 289L127.9 290.4L127.1 290.4L124.4 288.3ZM140.6 284.5L142.1 284.8L141.6 285.5L140.5 285.2ZM142.3 283.4L144 282.9L143.4 283.6ZM61.6 290L62 293.1L61.5 293.7L62.5 295.3L63.5 299.3L64.3 301.9L64.2 304.2L63.5 305.2L65.5 306.1L67.2 306.2L69 305.3L70.9 304.6L74.1 304.7L75.9 303.2L78.5 302.7L80.8 302L83.5 301.8L85.8 302.5L87.4 303.2L88.5 305.6L89.4 305.8L89.5 304.6L91.3 303.1L91.8 304.3L91.7 306.1L92.6 305.7L92.1 306.8L93.9 307.2L94.2 308.9L95.2 309.8L96.4 310.2L97.8 310.4L99.4 309.9L100.5 309.7L101.4 310.5L102.4 311.1L103.9 309.8L105.6 309.4L106.8 309.2L107.1 307.3L108.1 305.2L108.9 303.6L109.9 302.4L110.7 300.3L111.3 297.7L110.7 295L110.5 293.8L108.7 292.5L107.8 290.8L106.2 290.3L105.3 288L103.1 286.7L102.1 285.6L101.7 283.7L101 281.4L100 280.4L98.8 278.7L97.9 276.4L97.5 276.1L96.9 277.5L96.4 278.9L96.3 281.4L95.4 284.3L94.2 284.3L93.2 283.6L91.7 282.9L90.5 282.4L89.2 281.4L88.9 281L89.5 279.8L90.5 278L89.5 277.5L87.6 277.7L85.8 277.1L85.3 276.9L84.3 276.8L83 278.2L82 278.9L81.4 281.3L80.2 281.1L78.8 280.1L77.2 280.3L75.9 281.6L74.1 283.2L72.8 284.5L72.4 285.5L70.9 287.1L68.4 287.7L66.1 288.4L65.6 288.3L63.7 289.2L62.4 290.3ZM100.1 313.1L102.5 313.6L104.7 313.4L104.6 314.7L104.1 316.2L102.9 316.7L101.7 316.6L100.9 315.2L100.3 313.9ZM134.9 305.3L136.1 306.1L136.9 307.1L137.5 308.3L138.4 307.9L138.9 309L140.3 309.7L142.1 309.4L141.9 310.5L141.4 311.3L140.3 311.6L140 312.5L138.9 313.7L138 314.2L137.4 313.9L137.9 313.1L137.3 312.1L136.3 311.4L137.2 310.6L137.3 308.9L136.9 307.9L135.8 306.8L134.9 305.5ZM134.9 312.9L136.6 313.5L136.9 314.3L135.9 315.8L135.1 316.7L133.2 317.6L132.6 319.4L131.4 320.3L129.6 320.4L127.5 319.9L127.3 319L128.6 317.9L129.7 317.2L132.2 316L133.3 314.7L134.1 313.5ZM173.7 236.5L175 236.7L174.2 236.2ZM173.8 238.5L175 238L175.2 238.8L174.1 239.5ZM173 236.9L173.7 237L173.2 237.4ZM169.1 235.6L169.6 235.4L169.4 235.8ZM282.2 327.9L284.6 328.9L285.2 330.3L284 330.7L281.7 330.9L280 330.9L279 330.4L280.2 329.5L281.1 328.3ZM292.4 326.2L294.6 326.3L294.1 327.1L292.5 327.3ZM275.2 314.5L275.7 314.6L275.8 316.3L275.2 316.2ZM261.8 235.8L262.2 235.3L264.1 234.3L266 234.2L267.9 234.6L269.7 235.4L271.6 236.9L275 238L274.7 238.3L272.8 238.3L270.3 237.4L269.7 237L268.5 236.2L265.4 235.9L263.8 235.9ZM274.8 238.3L277.2 238.3L279.6 238.9L282.1 240L282.4 240.4L279.6 240.4L277.8 240.6L275.9 240.2L274.9 240.1L275.7 239.6L276.8 239.3ZM270.3 240.1L272.4 240.1L272.3 240.7L270.6 240.5ZM283.7 240L285.7 240.1L285.6 240.6L283.8 240.6ZM290.4 249.6L291.5 249.5L291.4 250.5L290.4 250.4ZM270.3 229.8L271.1 230L270.6 230.2ZM270.7 231.7L271.3 232.5L271 232.8ZM272.6 232.8L273.3 233.5L272.8 233.7Z" fill="none" stroke="#000" stroke-width="1.1" stroke-linejoin="round"/>
<path d="M227.6 305.7L226.9 305.7 227.2 306.3 227.9 306.4 227.7 305.7 227 305.6 227.3 306.3 228 306.3 227.6 305.7 226.9 305.7 227.2 306.3 227.9 306.4 227.7 305.7 227 305.6 227.3 306.3 228 306.3 227.6 305.7 226.9 305.7 227.2 306.3 227.9 306.4 227.9 305.7 227.2 305.5 226.5 305.6 226.4 306.3 228.3 306.9 229.5 306.3 229.7 305.6 228.1 304.3 225.4 304.1 223.5 305 222.8 306.2 222.9 306.9 224.2 308.5 226 309.5 228.8 310 231.6 309.9 234.2 309 235.9 307.7 236.9 305.9 236.9 304.5 236.5 303.2 235.3 301.5 231.2 298.8 225.8 297.4 220.2 297.2 215.4 298.1 211 300.2 208.1 303.2 207.2 306.6 207.6 308.6 208.4 310.5 212.2 314.7 218.1 318.4 224.7 320.7 233.7 322.1 244.2 322.4 254.6 321.9 275.5 319.6 283.2 319.4 290.2 319.9 296.3 321.3 301.2 324 303.9 327.1 305.1 329.7 305.5 331.7 305.4 337.3 304.4 342.1 302.2 345.7 299.1 348.4 292.8 351.5 268.7 360.9 261.9 362.8 255 363.9 246.6 364.3 238.3 363.6 230.1 361.9 222.8 359.3 215.3 355.4 209.8 351.2 206.3 346.9 205.2 344.3 204.8 342.2 204.9 340.1 205.7 337.5 207.1 335.1 209 333 211.3 331.4 213.9 330.3 220.1 329.1 229.2 329.5 233.3 330.4 236.6 331.6 239.6 333.3 241.8 335 243.4 337.3 244 339.3 243.6 341.4 241.8 343.5 239.3 344.7 236.6 345.2 233.1 345.1 230.4 344.3 228.6 343.3 227.4 341.6 227.4 340.9 228.1 339.7 230.7 338.7 233.4 339.2 234.5 340.1 234.6 340.8 234.2 341.3 232.8 341.6 231.5 341.1 231.6 340.4 232.3 340.3 232.9 340.6 232.4 341 231.9 340.5 232.6 340.5 232.5 341.2 231.9 341 232.2 340.3 232.9 340.6 232.4 341.1 231.9 340.6 232.6 340.6 232.5 341.3 231.9 341 232.2 340.3 232.8 340.5 232.5 341.2 231.9 340.9 232.5 340.5 232.9 341.1 232.2 341 232.2 340.3M297.7 319.7L301.7 321.2 305.2 323.4 307.8 325.8 310 329.3 311.8 335.3 312.5 343 311.8 347.1 308.4 354.8 308.4 357.6 309.3 359.4 310.6 361.1 323.4 373.9M254.2 324L257.5 324.9 259.9 326.3 261.6 328.6 262.5 331.2 263 335.4 262.5 339.5 261.2 342.7 259 345.5 254.5 348.7 248.6 350.9 242.4 351.9 235.4 351.7 228.6 350.2 223.6 347.7 221.5 345.9 220.2 344.2 219.5 342.2 219.5 340.8 220.7 338.3 222.9 336.6 226.3 335.6 230.4 335.4 234.5 336.5 237.3 338.5 238 339.7 237.9 341.1 237 342.1 235.7 342.7M223.9 373.8L218 371.6 212.3 368.9 207.5 366.1 203 362.8 191.9 353.1 187.5 348.6 184.8 345.3 180.5 338.2 178.8 336 176.5 334.3 173.4 332.8 166.5 331.4 156 330.7 97.2 330.4M217.3 299.4L214.7 300.5 212.5 302.1 211.2 303.7 210.5 305.7 210.5 307.8 211.3 309.8 212.9 312.1 214.9 314 220.3 317.1 227 319.2 234.7 320 242.3 319.5 247.8 318.4 253.1 316.6 275.7 305.4 292.9 299.5 295.6 297.4 299.3 293.1 300.6 290.7 300.9 287.9 299.2 284.1 296 280.4 292.1 277.5 287.5 275.8 281.9 275.3 272.2 276.3 266.6 276.4 251.9 275.4 242.2 274.2 229.9 271.4 208.2 263.7 202 262.4 194.4 261.3 180.4 260.1 169.9 259.6 146.9 260 121.7 258.9 95.8 259.6 73.4 258.8 55.2 259.8 32.9 258.8M231.7 306.5L231.9 305.9 231.6 304.6 230.1 303.1 227.5 302.1 224.7 301.9 222 302.4 220.1 303.3 218.6 304.8 218.2 306.8 218.5 308.2 219.7 309.9 223.8 312.5 229.2 313.9 235.5 313.6 240.8 311.9 244.8 309.1 246.1 307.5 246.9 305.5 247 302.1 245.2 298.3 240.7 293.9 234.8 290.2 227.7 287.3 215 283.3 206.1 281.3 199.1 280.9 190.1 281.8 183.2 278.4 177.9 276.7 171.7 275.5 155.7 273.8 148.1 272.5 139.3 270.1 119.5 263.2 112.6 261.8 105 261.1M329.8 285.9L318.9 283.3 310.9 280.7 305.8 278.3 293.7 271.3 289.1 269.6 283.7 268.2 266.4 265.8 241.2 263.9 218.4 260.6 196 259.9M280.8 226.1L279.8 229.4 277.1 232.6 273 235.3 268.4 236.9 263.5 237.3 258.7 236.5 255 234.5 253.6 232.9 253.1 231.7 253.2 230.3 254 229.1 255.2 228.4 257.2 227.8 261.3 228.2 263.1 229.2 263.9 230.4 263.5 231.7 261.6 232.4 259.7 231.7 259.4 231 260 230.6 261.3 231 260.8 231.4 260.3 231 261 231 260.4 231.4 260.3 230.7 261 230.8 261 231.5 260.4 231.3 260.6 230.7 261.3 231 260.6 231.3 260.4 230.7 261.1 230.9 260.9 231.5 260.2 231.2 260.9 230.9 261 231.6 260.3 231.3 260.6 230.7M231.9 311.7L235.9 310.8 239.5 308.6 241.2 305.6 241 302.8 239.2 299.8 236 297.2 231.7 294.9 226.3 293.3 221.5 292.4 216.6 292.1 212.4 292.5 209 293.3 204.5 295.3 199.8 298.3 197.3 300.7 196.1 303.2 196.3 306.7 198.6 311 203 315.5 208.7 319.6 213 321.8 217.7 323.4 233.4 326.5 238.2 327.8 242 329.6 245.3 332.1 247.1 334.3 248.3 336.8 248.7 339.5 248.2 341.6 247.1 343.3 244.9 345.1 242.3 346.2 239.6 346.9M97.4 311.4L108.6 310.5 111.9 309.6 114.4 308.2 116.4 305.4 118.1 299.4 119.7 296.3 123.1 292.8 132.3 286.4 133.2 284.6 132.7 283.3 128.4 279.8 120.3 275.6 109.9 271.4 99.9 268.3 88.2 266.2 76.3 265.4 69.3 265.9 61.3 268.4 59.2 268.6 57.3 267.8 53.4 264.9 50.3 263.1 47.1 261.9 42.3 260.8M246.9 309.6L249 306.8 249.8 304.1 249.6 301.3 248.2 298.1 245.5 294.9 241.9 291.7 237.7 289.1 233.2 287.1 215.9 281.5 184.3 272.2 175.4 270.6 150.4 267.8 127.2 262.2 117.6 260.6M277.2 302.8L280.6 300.3 283.8 296.6 291.7 292.1 294.6 289.1 295.2 287.1 294.8 284.4 293.3 282.1 290.6 279.9 287.3 278.6 283.2 278.3 271.5 280.8 265.2 281.1 249.9 280.1 238.8 278.7 231.2 277.1 224.5 275.2 205.8 267.4 198.5 264.9 189.6 263 177.8 261.5M106.9 285.4L104.2 284.9 102.4 285.8 102 286.4 102.7 287.6 105.5 288 107.3 287.2 107.7 286.6 107.1 285.4 104.4 284.8 103.1 285.1 102 286 102.1 287.3 103.3 288 104.7 288.2 107.3 287.4 107.9 286.1 107.6 285.5 106.4 284.8 105 284.6 102.3 285.3 101.6 286.4 101.7 287.1 103.4 288.2 105.5 288.3 106.9 287.9 108.2 286.4 108 285.7 107 284.8 105.6 284.5 103.5 284.6M188.9 347.1L186.8 343.5 184.2 336.3 182.9 333.8 179.8 330.9 175.4 328.9 170 327.5 163 326.7 132.2 325.8 122.5 324.8 123 324.4 127.2 323.7 140.4 322.6 175.4 322.5 183.1 323 199.8 325 224.2 327M227.5 300.4L221.9 300.2 217.3 301.7 215.6 302.9 214.4 304.6 214 306 214.1 308 215.8 311 219.7 314.1 224.9 316.2 231 317.3 235.9 317.3 240.8 316.6 245.5 315.2 249.3 313.4 252.8 311.1 255.8 308.1 257.6 305.2 258.3 302.5 258.3 300.4 257.5 297.7 253.8 291.8 250.1 288.6 245 286.4 220 279.5 195.1 270.2 185.7 267.5 174 265.6 148.9 263.6 130.2 260.8M132.3 288.6L137.1 287.5 141.2 288.1 143.7 289.3 145.9 291 147.8 293.1 148.8 294.9 149.5 298.3 148.5 302.4 146 305.8 143.2 307.8 141.2 308.3 138.4 308.1 135.8 307 133.2 304.8 131.7 301.6 131.7 300.2 132.3 299 133.9 297.6 136.6 297.3 138.5 298.2 139.2 299.3 139 300.7 137.8 301.4 136.4 301.2 135.9 300.7 135.9 300 136.4 299.5 137.1 299.6 137.4 300.2 136.8 300.4 136.6 299.7 137.3 300 136.7 300.4 136.6 299.7 137.3 300 136.7 300.4 136.6 299.8 137.2 300 136.7 300.4 136.6 299.8 137.2 300 136.7 300.4 136.6 299.8 137.2 300 136.7 300.5 136.5 299.8 137.2 300M244.8 305.9L245.1 303.1 244.2 300.4 242.1 297.6 238.3 294.5 234.1 292.1 228.9 289.9 214.2 285.5 209.3 284.9 205.9 285.4 203.4 286.7 197.8 291.9 194.2 294.1 188.3 296.3 182.1 297.3 177.2 296.8 172.1 294.6 169.5 292.3 166.6 287.5 163.7 285.5 160.3 284.7 156.8 284.6 154.1 285 152.3 286.1 152.2 287.4 154.8 292.4 155.7 295.8 155.6 299.3 153.9 307.4 154.2 308.8 155 309.9 157.5 311.1 160.9 311.9 177 313.3 184.5 314.7 190.5 316.8 204.4 323.4M217.9 373.9L210.3 370.4 203.2 365.9 175.8 341.9 172.4 339.5 168.5 337.9 161.7 336.5 152.6 335.9 97.3 335.7M320.8 246.9L314.8 248.8 301.5 255 296.8 256.4 291.9 257.2 285 257.7 266.8 257.8 245.8 259 216.4 258.7M304.4 234.4L291.4 239.6 282.5 241.7 272.1 242.8 229.5 245.8 224.7 246.5 218 248.6 204.7 254.9 197.3 256.9 189.6 257.6 169.3 257.4 155.4 258.3M291.3 302.2L298.2 301.5 303.8 301.8 329.2 306.7M255.9 319.7L268 316.4 274.2 315.1 281.9 314.3 291 314.2 298.6 314.9 305.5 316.4 312 318.9 317.5 322 320.2 324.1 322.6 326.7 324.2 329.8 324.7 332.6 324.4 337.4 323.6 342.3 322.2 346.2 318.8 353.1 318.4 355.2 318.6 357.3 320.4 360.2 329.8 369.7M200.5 226.2L197.7 228.1 192.4 230 168.4 235 164.9 235 155.1 234.2 148.8 234.2 132.8 235.3 123.8 236.6 115.1 239.4 100.2 247.1 93.5 249 89.3 249.3 84.4 248.8 79.7 247.7 73.1 245.3 70.3 245 68.3 245.7 57.8 251.1 50.6 253.9 42.4 255.8 32.7 256.9M251.6 314.2L256.9 310.9 261 307 263.2 303.4 263.7 301.4 263.6 299.3 261.4 293.4 259.9 291 258.5 289.5 254.1 287.3 246.7 285.2M273.1 321.8L280 322.3 284.8 323.3 287.3 324.5 288.1 325.6 288.1 326.3 287 328.1 281.8 333.8 277 341.5 273.4 345.7 267.2 350.3 258.9 354.1 252.2 355.8 244.5 356.6 236.8 356.3 230 355 223.4 352.5 218.1 349.2 214.9 345.5 214.1 343.6 213.8 341.5 214.8 338.2 217.8 335.3 222.2 333.4 227.1 332.8 232.6 333.6 237.7 335.9 239.3 337.3 240.3 339.1 240.4 340.5 239.9 341.7M233.1 225.9L217.7 230.5 208.5 233.8 200.8 237.1 189 243.3 183.1 245.4 176.2 246.5 155.3 248.4 140.9 251.6 110 257.6M306.6 328L308.1 331.9 308.7 336.8 308.7 341.7 307.9 345.1 305.5 349.3 296.2 357.8 295.4 358.9 295 360.2 295.7 362.2 297.7 365.1 305.9 373.7M183.7 373.8L177.7 367.8 172.3 360.5 170 359.1 165.9 357.9 159 357 149.9 356.6 97.4 356.4M288.3 322.5L291.5 323.7 293.6 325.5 293.9 327.6 293.1 329.5 286.5 335.7 278.1 345.1 274.9 347.8 270.8 350.5M113.1 225.8L110.4 228 105.9 230 100.5 231.6 95.7 232.4 89.4 232 74.4 228.8 69.5 228.6 65.3 229.2 57.4 232 43.2 239.5 38.5 241 33.1 242.1M102.4 309.3L109.3 308 111.1 307 112.7 305.6 113.7 303.8 115.6 298.5 117 296.1 119.4 293.5 124.6 288.9 126.3 286.6 126.6 285.3 126.4 283.9 124.8 281.7 119.5 278.2 111.8 275 101 272.1 89.2 270 80.2 269.2 73.9 269.5 69.9 270.6 64.4 273.7M136.2 226L131.1 228.2 115.6 232.7 101.1 237.7 96.3 238.7 92.8 238.8 90 238.2 80.5 234 75.1 232.3 70.2 231.9 65.4 232.5 61.4 233.9 58.4 235.6 50.6 242.6 46.5 245.2 40.6 247.6 32.5 249.8M187.3 226L181.3 227.6 166 229.1 123 235 114.3 237.7 99.7 244.6 93 246.2 88.8 246.1 85.4 245.3 82.3 243.7 77.7 239.4 75.4 237.8 72.1 236.7 68.6 236.7 65.9 237.5 64.2 238.6 58.5 245.6 53.4 249.3 45 252.8 34.7 255.1M298.4 299.8L307.2 297.3 312.5 295.4 315.2 293.2 316.2 290.7 315.7 289.4 313.6 287.5 305.3 282.3 296.2 275.9 292.5 273.8 287.9 272.2 283.1 271.3 241.9 267.5 218 262.2M207.1 226.3L205 228 200.6 230.2 183.9 235.5 176.3 240.4 171.7 242 167.5 242.4 162.6 242 151.2 238.5 146.4 237.7 138.7 237.6 129.6 238.3 123.4 239.4 118.1 241.1 102.7 249.3 96.1 251.7 88.5 252.5 75.2 251.6 69.6 251.8 64.8 252.7 51.9 256.1 43.6 257.3M285 284.3L283.1 284.9 282.4 286.1 282.7 286.7 284.7 287.3 286.6 286.6 287.2 285.4 287 284.7 285.8 284 284.4 283.9 282 285.1 281.5 286.4 281.7 287 282.8 287.8 284.2 288 286.9 287.2 288 285.6 287.6 284.3 286.5 283.5 284.4 283.2 282.4 283.8 280.7 285.1 280 286.3 280.2 287.7 282 288.7 284.1 288.9 286.2 288.6 288 287.6 288.9 286.6 289.2 285.2 288.7 283.9 287 282.7M182.6 295.5L179.2 294.5 176.4 292.5 174.7 290.3 172 284.6 170.6 283.1 168.8 282.1 164 280.8 148.7 279 140.5 277.2 132.6 274.5 115.3 267 108.6 264.8 98.3 262.9 82.3 261.4 73.9 261.1 60.6 261.8 55.7 261.5M329.4 267.8L302.1 261.7 289.6 260.3 274.2 259.3M207.8 374L202.3 370.8 197.8 367.5 194.1 364.3 188.8 358.8 183.7 355 175.8 350.6 168.5 348 160.9 346.6 151.2 346 97.3 345.8M261 323.2L265.8 324.3 267.6 325.4 268.4 326.6 268.9 328.6 269 332.1 268.5 336.3 267.6 339.6 265.3 344 261.9 347.4 256.5 350.6 250.5 352.6M97.7 321L118.7 320.4 138.1 317.9 145.1 317.5 177.9 318.8 185.5 320 192.9 322.2M259.5 242L236.6 239.6 230.3 239.4 224.7 239.9 219.9 241 216 242.5 201.6 251.1 197.8 252.8 193.7 254 186.8 255 168.6 255.3 156.8 256.5M329.3 258.5L318.8 258.4 297.1 259.4M304.3 243.7L294.7 249.4 290.8 251 286 252.2 266.6 254.2 248.5 256.6 234.5 257.2M170.7 296.1L168.9 297 167.8 299.5 167.9 301.6 169.2 303.2 171.7 304.5 179.8 306.8 184.9 308.9 190.4 312 203.3 320.4 207.7 322.6 211.7 324M59.3 225.9L52.4 229.4 46 232.1 39.9 233.9 33.1 235.1M294.1 356.8L290.6 359.1 289.2 360.6 283.3 370.2 282.5 373.5M53.5 273.9L48.2 267.3 45.6 265.1 40.5 262.8 33 261M200 282.6L197.7 284.2 195 288.3 192.9 290.1 189 291.6 185.5 291.5 183.6 290.7 181.9 289.4 180.8 287.7 179.1 282.4 177.7 280.8 175.3 279.4 169.2 277.8 152.5 275.9 143.6 274.1 136.2 271.8 116.7 264.2M97.2 315.8L112.6 315.2 117.4 314.4 120.7 313.3 123.1 311.8 124.3 310.1 124.7 308.1 124.9 300.4 125.9 297.8 127.8 295.7 130.8 294 134.9 293.2 139 294 141.8 296 142.9 297.8 143.1 299.2 142.8 300.6 141.7 302.3 139.9 303.4 137.9 303.7 135.9 303 134.8 302.1M304.1 237.8L293.5 243.1 286.2 245.4 265.3 247.5 246.1 251.7 226 253.8 209.5 257.3 202.6 258.4M45.6 226L43.9 227.2 40.7 228.7 32.6 230.9M304.5 226.7L301.6 228.7 297.8 230.5 278.7 237.5 271.3 239.4 264.3 239.9 256.7 239 253.4 237.8 250.4 236 247.2 233.3 244.7 230 244.1 228 245 226.1M163.7 373.8L159.1 367.6 155.9 361.4 153.9 360.6 141.4 359.8 97.3 359.7M302.4 355.3L301.2 357.8 301.3 359.2 301.9 360.4 314.5 373.6M246.3 234.8L241.1 231.3 236.5 229.7 230.2 229.5 222 230.9M215.7 225.9L213.5 227.7 209.8 229.6 192.2 236.6 181.2 242.6 175.8 244.2 167.5 245.2 147.2 245.2 131.9 247 123.1 249.2 107.5 255.3 98.6 257.2 90.9 257.6 74.8 257.1 67.8 257.4M314.8 296.3L320.4 295.5 323.7 294.3 325.6 292.3 325.9 291 325.7 290.3 322.3 287.9 310 282.7 304.5 279.8M253.5 239.9L249.5 238.6 241.7 235.4 237.7 234.3 231.4 233.8 224.4 234.3 218.2 235.5 213 237.3 208 239.8 196.6 246.7 189.3 249.3 183.1 250.1 165.6 250.9 143.6 255.2 122 257.3M329.6 348.8L326.7 350.8 324.8 352.7 323.7 354.5 323.2 356.6 323.5 357.9 324.5 359.8 329.3 364.8M306.9 322.2L310.1 324.8 312.7 328.1 314.6 331.8 315.7 336.6 316.3 340.8 316.2 344.3 315.7 347 313.2 354.3 313.6 357.7 315.5 360.6 328.9 374M157.9 373.9L153.9 368.2 151.1 362.6M97.4 304L101.5 303 103.9 301.5 107.8 296.6 116.4 289.5 117.6 287.7 118 285.7 117.7 284.4 116.5 282.7 114.2 281 111.7 279.9 104.8 278.4 97.8 278.4M329.5 278.9L321.9 277.4 315.2 275.5 309.3 273.3 294.7 266.4 289.4 264.7 284 263.4 268.7 261.6 245.6 261.3 233.7 260.5M227.3 295.3L219.6 294.4 215.5 294.7 212 295.5 208.8 296.7 205.7 298.4 203.5 300.1 201.8 302.3 201.1 304.3 201 306.4 201.5 308.4 202.7 310.9 207 315.5 212.7 319.5M284.5 364.1L279.8 367.1 273.3 369.5 264.3 371.2 254.6 371.9 245.5 371.6 236.4 370.4 227.6 368.2 219.7 365.3 212.9 361.7 204.4 355.5 199.4 350.7 196.3 346.1 195.4 343.4 194.9 340.7 195 337.9 195.8 334.4 196.7 331.8 198.3 329.5 199.9 328.1 201.8 327.3M329.4 272.3L319.9 270 304 264.6 297.2 262.7M46 273.6L40.4 268.4 32.9 264.7M180.2 299.1L177.7 300.4 178 301.7 185.3 307M41.2 273.7L37.2 270.9 32.9 268.5M97.3 292.6L102.1 293.2 107.5 292.1 112.4 289.3 113.7 287.7 114.1 286.4 113.9 285 112.6 283.3 108.9 281.5 103.4 280.8 97.9 281.7M32.6 299.7L33.4 297.9 33.3 291.6 32.7 289.6M295.3 323L297.6 324.6 298.8 326.3 299.6 328.9 299.4 331 298.7 333 296.7 335.9 290.7 341.8 281.6 348.3 271.1 353.8 261.3 357.5 251.7 359.4 241.9 359.7 231.5 358.2 226.2 356.6 221.6 354.7 218 352.6 214.6 350.1 212.2 347.6 210.8 345.2 210.1 342.5 210.3 339.7 211.5 337.2 213.9 334.6 216.9 332.8 220.2 331.7M252.2 235.2L250.3 233.2 249.3 231.3 249.3 229.3 250 228.1 252.4 226.6 255.1 226 258.6 225.9 261.3 226.5M297.1 226.2L293.8 228.7 280.6 235.1M128.4 372.5L126.1 367.3 124.4 362M154.2 226L150.4 227.7 145 229.1 126.4 232.4 118.9 234.1 112.2 236.3 99.9 241.4 94.5 242.6 91 242.5 87.7 241.5 80.1 236.5 75.6 234.6 70.8 233.8 66.6 234.2 63.3 235.3 60.9 236.8 58.8 238.6 53.8 244.5 49.8 247.3 42.8 250.4 32.6 253.1M97.6 318.5L110.9 318.3 119.2 317.6 126.1 316.2 130.6 314.3 132.1 312.9 132.6 310.9 129.8 304.5 129.2 301.1 129.8 299 131.6 297M266.1 312.5L272.6 310 278.7 308.5 285.7 307.6 293.4 307.4 305.9 308.6 329.2 313.5M40.4 291.1L39.4 289.2 38 287.7 32.6 284.4M329.6 337.2L324.7 345.7M101.4 225.9L97.6 227.8 92.1 228.6 87.2 228.3 74.8 226.3 71.3 226.2 67.1 226.7 59.8 228.9 43.8 235.9 39 237.3 32.9 238.5M167.4 292.6L165.1 291 164.6 291.5 163.5 301.2 163.8 303.3 164.5 304.5 166.2 305.8 168.1 306.5 180.5 309M171.7 373.7L166.7 367.8 162.7 361.2 160.9 360.2 156.8 359.4M244.1 324.5L249.5 325.8 252 327.1 253.6 328.5 255.2 330.7 256.4 333.3 257 336 257.1 338.8 255.7 342.7 252.4 346.3 247.4 348.7 241.9 349.9M245.6 374L238.6 373.1 231.8 371.7 225.1 369.8 219.2 367.5 210 362.5 199.6 354.2 194 348 192.3 344.9 191.3 341.6 190.9 337.4 191.2 329.7 191.9 327.7 193.4 326.4M280 283.6L277.7 285.2 275.8 287.2 275.2 288.5 275.6 289.7 279.6 290.9 285.2 290.8 289.1 289.3 290.7 287.9 291.3 286.7 291.4 285.3 290.6 283.4 289.1 282 286.5 280.9 284.4 280.8 281.7 281.2 274 284.5 270.6 285.5 266.4 285.7 259.5 284.9 240.1 282.1 227.1 279.2 217.1 276 197.7 268 187.6 265.2 173.7 263.2 149.3 262.1M120.7 326.1L97.6 325.6M318.8 297.7L329.6 300.8M273.8 313.2L280.7 312.3 288.4 311.9 296.1 312.2 303.1 313.1 309.9 314.7 317.2 317.2 324.2 320.3 329.7 323.5M290.5 362.5L290.6 365.3 291.3 367.2 293.4 370.1 296.7 373.7M329.2 252.6L319.5 253.5 302.5 257.6M301.8 327.5L302.5 330.9 301.6 335.7 299.5 340.1 296.7 343.2 293.3 345.7 287.8 348.7 276.3 354 267.9 357.4M329.4 263.7L315.5 261.6 306.4 260.8M147.4 373.7L143.9 367.7 141.4 361.9M192.1 283.5L190.1 286.4 188.9 287 187.5 286.9 186.5 286 185.6 282.6 184.4 280.9M222.5 290.8L214.9 289.8 209.3 290.4 202.4 293.7 194.2 299.1 192.2 301.9 191.9 303.3 192.1 305.3 194.1 309 197.9 313.1M259.2 311.4L263.7 308.1 267.2 304.6 268.9 301.5 269.1 298.8 267.3 292 266.3 290.2 262.7 288.1 256 286.2M278 324.2L279.1 325.2 279 327.2 273.5 340.1 270.4 344.7 265.6 348.8M291.9 355.7L273.5 364.1 266.8 366 259.9 367.2 251.5 367.8 242.4 367.4 234.1 366.1 226 363.9 218.3 360.5 210 355.4 204.3 350.2 201.4 345.5 200.6 342.8 200.6 340 201.2 337.3 202.7 334.1 204.4 331.9 206.6 330.2 209.1 329 212.5 328.1M80.3 246.2L77.9 244.7 73.1 240.7 71.1 240 69.7 240 67.2 241.1 63 245.8 59.1 248.7M88.5 268.3L79.4 267.5 72.5 267.8 67.8 269.3 61.7 272.6 58.2 273.1 56.9 272.7 55.2 271.6 50.8 266.1 47.3 263.7M159.2 243.5L144.6 241.4 137.6 241.3 130 241.9 125.1 242.8 120.5 244.3 105.5 251.9 97.6 254.5 89.2 255.4 70.3 255 51.6 257.8M272.5 226.2L273 228.9 272.1 231.5 269.6 233.9 266.3 235.2 262.2 235.5 258.2 234.3 256.5 233 255.8 231.8 256 230.4 257 229.5M200.9 373.8L192.5 367.5 185.3 359.9 182.6 357.6 176.5 354.3 169.1 352 161.5 350.8 151.8 350.3 97.9 350.1M329.2 249L323.6 249.2 318.8 250.2 304.4 255.6M166 289.6L164 287.7 162.1 286.9 159.3 286.9 158.2 287.7 158.1 289.1 159.4 293 159.8 295.8 159.1 304.8 159.5 306.2 160.3 307.3 164.1 309 180 311.3 184.1 312.3 188.7 314.1M303.7 296.5L305.5 294.4 306.8 291.9 307.1 289.9 306.3 287.9 303.2 284.2 297.5 279 293.4 276.2 289.6 274.5 283.5 273.3 267.4 273.1 243 270.7 232.7 268.6 215.3 263.3 207.1 261.7M191.3 373.7L184.5 367.7 177.8 359.6 173.5 357.3 168.1 355.8 161.2 354.8 151.4 354.3 97.5 354.2M120.8 290L123.2 286.6 123.4 285.2 122.7 283.3 121.3 281.7 119.1 280 112.1 276.9 101.9 274.5 87.3 272.8 78.2 272.6 72 273.8M249.5 311.1L252.1 308.6 253.9 305.7 254.5 302.9 254 299.5 252.1 295.8 248.5 291.5 245.2 288.9 240.8 286.8M189.3 343.9L188.3 340.6 186.8 333.1 183.2 326.3 183.3 325.6 183.9 325.3M97.6 298.6L107.8 293.8M308.4 247.1L301.9 251.2 296.8 253.6 292.2 255.1 286.6 256M322.3 321.6L326.8 325 328.6 328 328.8 331.4 326.9 337.4M157 283L146.5 282.6 141.1 281.6 135.2 279.4 112.1 269.2 105.5 267 98.7 265.3 89.7 263.9 79.2 263.1 71.5 263 61.1 263.9 56.2 263.2M130.1 316.8L134.8 315.2 141.9 312.2 149.3 314 154.9 314.8 180.7 316.6 186.2 317.8 191.5 319.6M119.1 225.8L117 227.6 113.2 229.4 101.3 233.4 94.3 234.4 87.4 233.3M217 287.8L211.4 287.2 207.3 287.9 188.4 299.9 187.3 301.7 187.3 303 187.7 304.4 189.7 307.2 193.1 310.8M268.5 305.8L271 303.3 272.5 301 273 299 272.8 293.4 273.5 292.2 274.8 291.6M183.7 351.9L176.8 347.1 171.3 344.1 166 342.2 160.5 341.1 145.2 340.3 97.6 340.2M287.7 226.3L285.9 228.5 282.7 231.2 275.6 235.7M138.4 373.9L135.1 367.7 132.9 361.8 132.2 361.8M266.9 225.8L268.6 228 269 230 268.2 232 266 233.6M260.7 245.2L243.5 248.3 225.4 250.3 220 251.7 208.1 256M97.7 307.2L103.9 306.3 107.7 304.7 109.6 302.6 111.7 298.2 113.3 295.9 118.8 290.6" fill="none" stroke="#000" stroke-width="1.0" stroke-linejoin="round" stroke-linecap="round"/><path d="M228.8 304.6L227.9 307.3L230.2 307ZM223.7 297.2L226.1 298.6L226.4 296.3ZM222 319.9L220 317.9L219.2 320.1ZM263.7 320.8L261 320L261.3 322.3ZM303.6 326.5L302.8 323.8L301 325.3ZM283 355.3L285.8 355.5L285 353.3ZM242.4 364.1L245 365.4L245.1 363.1ZM206 346.3L206.3 349.1L208.3 347.8ZM235.3 331L233.1 329.2L232.4 331.4ZM234 339.6L231.9 337.6L231.2 339.9ZM311.8 347.1L313.5 344.8L311.2 344.3ZM260.4 343.9L262.7 342.3L260.7 341.1ZM220.3 338.9L218.4 341L220.6 341.7ZM203 362.8L204.3 365.3L205.7 363.4ZM168.6 331.7L170.9 333.4L171.4 331.1ZM121 330.4L123.6 331.6L123.6 329.3ZM217.2 315.5L215.7 313.1L214.4 315ZM258.9 314.1L256 314.1L257 316.2ZM298 294.8L295.4 295.9L297.1 297.5ZM270.8 276.4L273.5 277.3L273.3 275ZM227.9 270.8L230.1 272.7L230.8 270.5ZM185.3 260.5L187.8 261.9L188 259.5ZM142 259.8L144.5 261.1L144.6 258.8ZM97.9 259.6L100.5 260.7L100.5 258.4ZM54.5 259.8L57.2 261L57.1 258.6ZM218.9 308.8L219.4 306L217.1 306.6ZM244.3 297.2L244.9 300L246.8 298.6ZM206.1 281.3L208.5 282.9L208.9 280.6ZM165.4 274.8L167.9 276.2L168.1 273.9ZM124.8 264.8L126.9 266.8L127.7 264.6ZM307.7 279.3L309.6 281.4L310.5 279.2ZM264.3 265.6L266.8 267L267 264.7ZM218.4 260.6L220.8 262L221.1 259.7ZM253.1 231L252.9 233.8L255.1 233ZM233.6 295.8L235.3 298.1L236.4 296ZM198.2 310.4L197.9 307.6L195.9 308.8ZM242.6 329.9L240.8 327.7L239.7 329.7ZM117.4 302.1L115.5 304.3L117.8 304.9ZM112.5 272.4L114.5 274.4L115.4 272.2ZM64.6 267.3L67.5 267.6L66.7 265.4ZM238.9 289.7L240.5 292.1L241.8 290.2ZM191.1 274L193.2 275.9L193.9 273.7ZM141.5 265.9L143.7 267.6L144.3 265.4ZM295.3 286.4L293.5 288.7L295.8 289.2ZM249.2 280L251.7 281.4L251.9 279.1ZM201.8 266L203.9 267.9L204.7 265.7ZM106.1 288L103.5 286.8L103.5 289.2ZM176.1 329.1L178 331.2L178.9 329.1ZM131.5 325.7L134.1 327L134.2 324.7ZM157.9 322.5L155.3 321.3L155.3 323.6ZM202.6 325.3L200.1 323.9L199.9 326.2ZM215.8 311L215.4 308.2L213.5 309.5ZM254.8 309.2L252.1 310.1L253.7 311.8ZM232.8 283.1L235.1 284.9L235.6 282.6ZM193.2 269.5L195.2 271.5L196 269.2ZM150.9 263.9L153.4 265.3L153.6 263ZM149.3 296.3L149.3 293.4L147.2 294.3ZM139.2 299.3L138.2 296.7L136.6 298.4ZM229.6 290.1L231.5 292.2L232.4 290ZM187 296.6L189.8 297.1L189.2 294.8ZM154.8 292.4L154.6 289.6L152.5 290.7ZM183.2 314.4L180.9 312.7L180.4 315ZM198.8 362.4L200 365L201.6 363.2ZM163.7 336.8L166.1 338.4L166.5 336.1ZM119 335.7L121.6 336.9L121.6 334.5ZM296.1 256.5L298.9 257.1L298.3 254.8ZM243 259L245.6 260.2L245.6 257.8ZM279.8 242L282.5 242.9L282.2 240.5ZM229.5 245.8L232.2 246.8L232 244.5ZM180.5 257.5L183.1 258.8L183.2 256.4ZM310.7 303L308.4 301.3L307.9 303.6ZM285.4 314.2L282.7 313.1L282.8 315.4ZM322.5 345.6L324.4 343.5L322.2 342.7ZM179.3 232.6L182.1 233.2L181.7 230.9ZM136.3 235L138.9 236L138.8 233.7ZM94.9 248.7L97.7 249.2L97.1 247ZM53.9 252.7L56.7 252.8L55.9 250.7ZM263 297.3L262.5 300.1L264.8 299.5ZM283.2 332.2L285.8 331.1L284.1 329.5ZM243.8 356.7L246.5 357.7L246.4 355.4ZM221.6 333.6L218.7 333.4L219.6 335.6ZM212.4 232.3L215.3 232.5L214.5 230.3ZM172.7 246.9L175.4 247.8L175.2 245.5ZM130.6 253.4L133.4 254.1L132.9 251.8ZM301.5 353.2L304.2 352.3L302.7 350.6ZM166.6 358L168.8 359.9L169.4 357.6ZM120.5 356.4L123.1 357.6L123.1 355.3ZM285.5 336.7L288.2 335.7L286.5 334.1ZM92.9 232.4L95.5 233.5L95.5 231.2ZM52.5 234.6L55.3 234.3L54.2 232.3ZM120.4 292.6L117.7 293.5L119.3 295.2ZM89.2 270L91.6 271.5L92 269.2ZM109.6 234.7L112.5 234.9L111.7 232.7ZM56.2 237.3L59 236.6L57.5 234.8ZM166.7 229L169.4 229.9L169.1 227.6ZM125.7 234.5L128.5 235.2L128.1 232.9ZM87.4 245.9L89.8 247.4L90.1 245.1ZM54 248.9L56.8 248.5L55.5 246.6ZM316.2 290.7L314.1 292.7L316.3 293.5ZM279.6 271L282.1 272.4L282.3 270ZM238.5 266.9L240.9 268.5L241.3 266.2ZM187.2 234.3L190 234.7L189.4 232.4ZM147.1 237.8L149.5 239.3L149.8 237ZM105.8 247.7L108.6 247.5L107.5 245.4ZM64.1 252.9L66.9 253.4L66.4 251.1ZM287.9 284.9L285.8 286.8L288 287.7ZM166.1 281.2L168.2 283.1L168.9 280.9ZM122.3 270L124.2 272.1L125.2 270ZM78.1 261.2L80.6 262.5L80.7 260.2ZM302.1 261.7L304.5 263.3L304.8 261ZM184.3 355.4L185.8 357.8L187.1 355.9ZM126.7 345.8L129.3 346.9L129.3 344.6ZM267.4 340.3L269.3 338.2L267 337.5ZM122.1 320.1L119.4 319.1L119.7 321.5ZM169.6 318.4L167 317.1L166.9 319.5ZM232.4 239.4L234.9 240.7L235 238.3ZM182.6 255.2L185.3 256.3L185.2 253.9ZM313.2 258.6L315.8 259.7L315.7 257.3ZM270 253.9L272.7 254.8L272.5 252.5ZM187.4 310.2L185.7 308L184.6 310.1ZM46 232.1L48.8 232.3L48 230.1ZM287 364.2L289.3 362.6L287.3 361.4ZM45 264.7L46.4 267.2L47.8 265.3ZM180.8 287.7L181.4 290.5L183.3 289.1ZM138.9 272.7L141 274.6L141.7 272.3ZM124.6 301.8L123.4 304.3L125.8 304.4ZM279.2 246.3L281.9 247.2L281.7 244.9ZM228.1 253.6L230.8 254.4L230.5 252.1ZM38.8 229.4L41.6 229.6L40.8 227.4ZM272 239.3L274.8 239.9L274.3 237.6ZM133.7 359.7L136.3 360.9L136.3 358.6ZM306.6 365.6L305.7 362.9L304 364.6ZM234.4 229.4L236.9 230.9L237.2 228.6ZM192.2 236.6L195.1 236.7L194.2 234.5ZM143 245.5L145.7 246.4L145.5 244.1ZM93 257.6L95.7 258.6L95.5 256.3ZM321.7 287.6L323.4 289.8L324.5 287.8ZM231.4 233.8L234 235L234 232.7ZM189.3 249.3L192.1 249.7L191.5 247.5ZM144.3 255.1L147.1 255.8L146.7 253.5ZM323.2 356.6L325.1 354.4L322.8 353.8ZM314.5 350.3L316.5 348.3L314.4 347.4ZM153.9 368.2L154.4 371L156.3 369.7ZM117.2 288.4L114.6 289.5L116.4 291.1ZM305.5 271.5L307.3 273.6L308.4 271.5ZM258.2 261.3L260.8 262.5L260.8 260.2ZM203 300.6L205.8 299.8L204.2 298ZM256 371.8L258.6 372.9L258.5 370.6ZM200.8 352.2L201.9 354.9L203.5 353.2ZM313.2 267.8L315.3 269.8L316.1 267.6ZM39.8 268.1L41.2 270.5L42.6 268.6ZM180.1 303.5L178.9 300.9L177.4 302.7ZM36.6 270.5L38.2 272.9L39.4 270.9ZM114.1 286.4L111.9 288.2L114 289.2ZM33.4 294.4L32.2 297L34.6 297ZM291.8 340.8L294.5 340L292.9 338.2ZM252.4 359.3L255.1 360.1L254.8 357.8ZM212.2 347.6L213.1 350.3L214.8 348.7ZM251.7 226.9L249 227.6L250.5 229.4ZM288.8 231.1L291.6 231.1L290.6 229ZM125.9 366.7L125.8 369.5L127.9 368.7ZM132.6 231.3L135.3 232.1L135 229.8ZM90.3 242.4L92.8 243.8L93 241.5ZM52.7 245.4L55.4 244.5L53.9 242.7ZM124.1 316.7L121.3 316.1L121.7 318.4ZM297.5 307.6L295 306.3L294.9 308.6ZM36.9 286.9L38.1 289.5L39.6 287.7ZM326.8 342L329.1 340.3L327 339.2ZM65.8 227L68.5 227.7L68.1 225.4ZM165 305L164.7 302.2L162.7 303.3ZM164.8 364.8L165.3 367.7L167.2 366.4ZM257.1 338.8L258.2 336.2L255.9 336.2ZM225.1 369.8L227.2 371.7L227.9 369.4ZM192.6 345.6L192.9 348.4L194.9 347.2ZM289.1 289.3L286.3 289.3L287.2 291.5ZM255.3 284.4L257.7 285.9L258 283.6ZM213.2 274.4L215.2 276.5L216.1 274.3ZM170.9 263L173.5 264.4L173.6 262.1ZM108.8 325.8L111.4 327L111.4 324.6ZM324.8 299.6L322.7 297.7L322 299.9ZM303.1 313.1L300.7 311.6L300.3 313.9ZM292.5 369L292.1 366.2L290.1 367.4ZM315.4 254.4L318.2 255L317.6 252.7ZM290.3 347.4L293.1 347.2L292 345.1ZM317.6 261.9L320 263.4L320.3 261.1ZM143.9 367.7L144.1 370.5L146.1 369.4ZM186.9 286.5L189.4 287.9L189.6 285.6ZM199.4 295.5L202.2 295.2L201 293.2ZM268.7 296.7L268 299.5L270.3 299.1ZM274.6 337.5L276.6 335.5L274.4 334.6ZM272.8 364.3L275.7 364.5L274.9 362.3ZM232.1 365.6L234.3 367.4L234.9 365.1ZM200.6 342.1L199.9 344.9L202.2 344.4ZM69 240.2L71.6 241.3L71.6 239ZM65.9 270.2L68.8 270.1L67.7 268ZM131.3 241.8L134 242.7L133.8 240.4ZM78.7 255L81.3 256.3L81.4 254ZM265 235.5L267.8 236L267.2 233.7ZM179.6 355.8L181.3 358.2L182.5 356.1ZM125.2 350.1L127.8 351.2L127.8 348.9ZM316.1 251L318.9 251.3L318.3 249.1ZM160.9 307.7L160.2 304.9L158.4 306.3ZM291.6 275.3L293.3 277.5L294.4 275.5ZM234.8 269.1L237 270.8L237.6 268.5ZM172.2 356.9L174.2 358.9L175 356.7ZM122 354.2L124.6 355.3L124.6 353ZM101.9 274.5L104.2 276.1L104.6 273.8ZM252.5 296.4L252.7 299.2L254.7 298.1ZM187 333.7L186.3 336.5L188.6 336.1ZM103.3 295.9L100.5 295.9L101.4 298ZM297.5 253.3L300.3 253.3L299.3 251.2ZM328.8 328.6L328.8 325.8L326.7 326.8ZM131.3 277.7L133.2 279.8L134.2 277.7ZM82 263.2L84.5 264.6L84.7 262.3ZM160.5 315.3L157.9 313.9L157.8 316.3ZM104 232.7L106.8 233.1L106.1 230.8ZM196.2 295.1L199 294.8L197.8 292.8ZM273 298.3L271.4 300.6L273.7 301ZM164 341.7L166.2 343.4L166.8 341.2ZM119.3 340.2L121.9 341.4L121.9 339ZM281.6 232.1L284.4 231.4L282.9 229.5ZM134.8 367.1L134.9 369.9L137 369ZM269 230L269.4 227.2L267.2 227.8ZM233.7 249.3L236.4 250.2L236.2 247.9ZM110.3 301.4L107.9 303L109.9 304.2Z" fill="#000"/><rect x="307.00" y="226.70" width="22.5" height="19" fill="#fff"/><text x="318.20" y="234.70" font-size="7.5" font-family="Liberation Serif, serif" text-anchor="middle" fill="#111">3</text><line x1="308.50" y1="239.30" x2="328.00" y2="239.30" stroke="#111" stroke-width="0.8"/><path d="M328.50 239.30L325.50 237.90L325.50 240.70Z" fill="#111"/>
</g>
<clipPath id="icc"><rect x="40.50" y="274.00" width="56.70" height="92.90"/></clipPath>
<g clip-path="url(#icc)">
<rect x="40.50" y="274.00" width="56.70" height="92.90" fill="#f3f3ee"/>
<path d="M70.7 272.8L73.4 272L87.1 272L88 272.5L91.8 275.7L94.5 279.5L96.6 284L98.2 289.2L98.5 290.9L98.4 308L96.4 314.8L91.9 323.8L91.1 326L90.9 328.2L91.8 335L91.3 338.8L89.6 341.8L87.2 343L85 342.6L82.9 340.2L81.6 337.2L79.9 330.5L78.4 328.2L76.8 327L72.2 325.4L57.2 323.2L48 320.8L42.3 317.8L40 315.5L38.5 313.3L38.5 289.6L42.2 283.4L47.5 278.5L53.5 275.4L58.8 274.2L70.7 272.8Z" fill="#f0f0d6" fill-rule="evenodd"/><path d="M76.6 278.8L82 278.4L84.2 278.9L86.5 280.1L88.4 281.8L90.2 284L92.8 289.2L94.2 296L94.1 303.5L92.4 310.2L89.5 315.5L86.5 318.7L82.8 320.7L79.8 321.4L67.8 322.4L61.8 322.2L56.5 321.4L52 319.9L48 317.8L45.5 315.5L43.4 312.5L41.8 308.8L41 304.2L41 299.8L41.7 296L43.1 292.2L45.3 288.5L49.8 284L52.8 282.1L55.8 280.9L60.2 280L70.8 279.7L76.6 278.8Z" fill="#ece5ba" fill-rule="evenodd"/><path d="M58.5 283.2L62.5 282.8L72.2 283.5L81.2 283.4L84.2 284.4L87.2 286.9L89.2 290L90.2 293L90.9 296.8L91 301.2L90.4 305L89.1 308.8L87.3 311.8L85.2 314L82 316L78.2 317.5L70 319.9L64 320.7L59.5 320.5L55 319.3L51.2 317.5L47.9 314.8L45.4 311L43.8 305.8L43.6 300.5L44.8 295.2L47.1 290.8L50.5 287L54.2 284.6L58.5 283.2Z" fill="#e6ce98" fill-rule="evenodd"/><path d="M58 285.5L61.8 285L66.2 285.3L80.5 287.5L82.8 288.3L84.2 289.4L85.8 291.1L87.1 293.8L87.9 296.8L88.1 299.8L87.7 302.8L86.9 305.8L84.2 309.9L81.2 312.5L75.6 315.5L70 318L65.5 319.1L61 319.3L57.2 318.6L53.5 317.1L50.3 314.8L47.5 311L45.8 306.5L45.4 302L46 297.5L48 293L50.5 289.8L54.2 286.9L58 285.5Z" fill="#ddba7a" fill-rule="evenodd"/><path d="M58.8 287L62.5 286.7L66.2 287.1L79 291L82.3 293L83.5 294.5L84.5 296.8L84.8 299.8L84.5 302.8L83.2 305.8L81.6 308L78.3 311L73.8 314.2L70 316.3L66.2 317.6L63.2 318L60.2 317.9L57.2 317.3L54.2 316L51.6 314L49.8 311.9L48.3 309.5L47.3 306.5L46.9 303.5L47.1 299.8L47.9 296.8L49.3 293.8L51.2 291.3L53.5 289.3L55.8 288L58.8 287Z" fill="#d2aa5f" fill-rule="evenodd"/><path d="M58.6 288.5L61.8 288.1L64.8 288.3L71.5 290.5L78.2 294.5L80.1 296.8L81 299L81.1 301.2L80.6 303.5L79.5 305.8L77.2 308.8L71.5 313.8L68.5 315.4L65.5 316.4L60.2 316.8L57.2 316.1L55 315L51.2 311.8L49.8 309.5L48.6 306.5L48.1 303.5L48.3 300.5L50 295.2L51.5 293L53.5 291L55.8 289.6L58.6 288.5Z" fill="#c88e42" fill-rule="evenodd"/><path d="M57.9 290L60.2 289.5L63.2 289.4L66.2 290L69.2 291.1L74.3 294.5L76.3 296.8L77.4 299L77.8 301.2L77.5 303.5L75.3 308L71 312.5L66.2 315L63.2 315.7L61 315.7L56.5 314.6L52.7 311.8L51 309.5L50 307.2L49.3 302L49.7 299L50.5 296.8L53.5 292.7L55.8 291L57.9 290Z" fill="#be8038" fill-rule="evenodd"/><path d="M59.6 290.8L61.8 290.5L64.8 290.8L69.2 292.6L73.2 296L74.7 298.2L75.4 300.5L75.4 302.8L74.9 305L72.3 309.5L68.5 312.8L64 314.5L59.5 314.5L57.2 313.8L55.1 312.5L52.3 309.5L50.5 305L50.5 300.5L52.2 296L55 292.8L57.2 291.5L59.6 290.8Z" fill="#b0702a" fill-rule="evenodd"/><path d="M58.3 292.2L62.5 291.6L67 292.8L70.6 295.2L73.2 299L73.7 302.8L73.3 305L72.3 307.2L69.2 310.9L65.5 313L61 313.7L57.2 312.7L54.1 310.2L51.9 306.5L51.3 302L52.2 298.2L54.7 294.5L58.3 292.2Z" fill="#a06220" fill-rule="evenodd"/><path d="M59.4 293L63.2 292.8L67 294L70.2 296.8L72.1 300.5L72.1 304.2L70.4 308L67.8 310.7L64 312.4L60.2 312.6L56.5 311.1L54.1 308.8L52.5 305L52.4 301.2L53.6 297.5L56.3 294.5L59.4 293Z" fill="#7e5f1a" fill-rule="evenodd"/><path d="M42.7 323.8L49.8 323.8L61 325.6L68.1 327.5L72.3 329.8L74.6 332L76.3 335L78 340.2L80.5 350L81.9 352.2L85.8 353.9L98.5 356L98.5 368L94.5 368.8L38.5 368.8L38.5 324.9L42.7 323.8Z" fill="#e6eeee" fill-rule="evenodd"/><path d="M45.5 326.8L50.5 326.1L57.2 326.6L63.6 328.2L68.5 330.7L72 334.2L74.3 338.8L75.5 344.8L75.5 352.2L76.7 354.5L80.5 356.5L92.2 359.8L94.4 361.2L94.7 362L94.4 362.8L92.2 364.2L86.5 365.9L64.6 368.8L49.8 368.7L43.8 367.4L38.5 365.2L38.5 330.9L41.5 328.5L45.5 326.8Z" fill="#d6ebe6" fill-rule="evenodd"/><path d="M49.1 328.2L54.2 328L59.5 328.8L64 330.5L68.1 333.5L70.9 337.2L72.5 341.8L72.8 346.2L72.1 353L72.7 355.2L75.2 357.4L82.3 360.5L83.3 361.2L83.6 362L83.1 362.8L79.6 364.2L73 365.6L64 366.9L57.2 367.2L52 366.9L47.5 366.1L43.8 364.7L40.6 362.8L39.1 360.5L38.5 357.5L38.5 335.5L40.7 332.8L43 330.8L46 329.1L49.1 328.2Z" fill="#b9ead6" fill-rule="evenodd"/><path d="M50.9 329.8L55.8 329.7L61 331L64.8 333.1L68 336.5L69.9 340.2L70.6 344L70.5 347.8L69.3 353.8L69.4 355.2L70.7 357.5L74.6 361.2L74.5 362L73.6 362.8L70 364.1L65.5 365L60.2 365.6L55 365.6L51.2 365.1L47.5 364L44.9 362.8L43 360.9L38.5 349.3L38.5 340.6L40.3 336.5L43 333.4L46.8 330.9L50.9 329.8Z" fill="#9ce0c8" fill-rule="evenodd"/><path d="M51.3 331.2L56.5 331.3L61 332.8L65.1 335.8L67.6 339.5L68.6 342.5L68.8 346.2L66.7 355.2L67 357.1L68.5 360.5L67.7 362L66.3 362.8L62.5 363.7L57.2 364.1L52.8 363.7L49 362.6L46.9 361.2L45.5 359.8L41.1 351.5L39.9 347.8L39.6 344.8L39.9 341.8L41 338.8L43 335.8L45.2 333.7L48.2 332.1L51.3 331.2Z" fill="#82d2b9" fill-rule="evenodd"/><path d="M51 332.8L55.8 332.6L60.2 334L64 336.9L66.5 341L67.1 344L66.9 347.8L64.2 355.2L63.8 359.8L63.2 360.6L61.8 361.6L58.8 362.2L55.8 362.3L52.8 361.8L50 360.5L48.2 359L45.2 355.1L41.8 349.2L41.2 347L41.1 344L41.6 341L42.6 338.8L44.3 336.5L46 334.9L48.2 333.6L51 332.8Z" fill="#6abea6" fill-rule="evenodd"/><path d="M50.4 334.2L55 333.9L59.5 335.2L61.5 336.5L63.2 338.3L64.5 340.2L65.3 342.5L65.5 346.2L64.2 350.8L59.5 358.2L57.2 359.5L53.5 359.2L49.8 357L45.2 352.5L43.6 350L42.8 347.8L42.4 343.2L43.7 339.5L46.8 336L50.4 334.2Z" fill="#5aab96" fill-rule="evenodd"/><path d="M49.8 335.8L54.2 335.1L58 336L61.1 338L62.5 339.7L63.5 341.8L64 344L64 346.2L62.8 350L59.5 354.1L56.5 355.9L55 356.2L52.8 355.9L49 354.1L46 351.3L44.1 347.8L43.6 344L44.5 340.6L46.8 337.6L49.8 335.8Z" fill="#4a9b84" fill-rule="evenodd"/><path d="M51.7 336.5L55.3 336.5L58.8 337.9L61.1 340.2L62.4 343.2L62.3 347L61 350L58.8 352.4L55.8 353.8L52.8 353.9L49 352.3L46.1 349.2L44.9 346.2L44.9 343.2L46.1 340.2L48.2 338L51.7 336.5Z" fill="#3e8e76" fill-rule="evenodd"/><path d="M50.9 338L53.5 337.6L56.5 338.2L59.3 340.2L60.6 342.5L61 345.5L60.5 347.8L58.8 350.3L56.5 351.8L53.5 352.3L50.5 351.5L48.2 349.9L46.4 347L46 344L46.6 341.8L48.3 339.5L50.9 338Z" fill="#348168" fill-rule="evenodd"/><path d="M50.7 339.5L52.8 339L55 339.2L57.2 340.4L58.8 342.2L59.4 344L59.3 346.2L58.2 348.5L56.5 349.9L54.2 350.7L52 350.5L49.8 349.4L48.2 347.8L47.4 345.5L47.5 343.2L48.6 341L50.7 339.5Z" fill="#267254" fill-rule="evenodd"/>
<path d="M68.7 273L68.7 274.8L67.9 281.1L67.1 289L65.5 296.9L64.7 303.2L62.4 309.5L59.2 314.2L58.4 318.9L57.7 325.2L56.9 329.9L54.5 334.6L52.9 339.4L52.9 344.1L53.7 348.8L56.9 352.7L60.8 354.3L68.7 355.9L76.5 357.5L82.8 357.5L78.1 355.9L71.8 353.5L71 351.2L74.2 347.2L75.8 342.5L77.3 337.8L76.5 333.9L78.9 331.5L82.8 329.9L84.4 326L82.8 323.6L87.6 322.8L91.5 320.5L96.2 318.9L98.5 318.9M96.2 318.9L90.5 319.6L84.4 318.9L75 318.1L71 318.9M65.5 313.4L67.9 314.2L70.2 318.9L72 320.5L71 322.1L66.3 324.4L63.9 322.1L64.7 317.3ZM60.8 354.3L64.5 353L68.5 352.5L71 353.5L66.5 354.8Z" fill="none" stroke="#222" stroke-width="0.45"/>
</g>
<rect x="40.50" y="274.00" width="56.70" height="92.90" fill="none" stroke="#1a1a1a" stroke-width="1"/>
<clipPath id="clipd"><rect x="378.30" y="225.80" width="297.30" height="148.20"/></clipPath>
<g clip-path="url(#clipd)">
<rect x="378.30" y="225.80" width="297.30" height="148.20" fill="#f3f3ee"/>
<path d="M539.3 370.3L557.9 370L572.8 367.7L579 365.8L582.7 364.1L585.8 361.6L586.7 359.2L585.1 356.7L583.3 355.5L575.3 352.7L560.4 350.4L544.3 349.5L529.4 349.9L517 351.6L508.8 354.2L506.7 355.5L504.5 357.9L504.4 360.4L505.9 362.3L508.4 364.1L513.3 366.2L523.2 368.7L539.3 370.3ZM495 320.9L505.9 321.8L519.5 322L553 320.2L570 318.4L591.4 315.3L613.7 310.4L615 311L621.1 318.7L623.6 320.1L627.3 320.6L629.8 319.8L631.7 318.4L633.9 316L636.8 311L637 308.5L635.8 297.4L634.5 292.5L632.8 288.8L629.8 285.1L627.3 283.9L623.6 284.3L621.1 285.9L617.4 289.6L614.9 290.7L603.8 288.1L595.1 287L585.2 286.8L575.3 287.9L564.1 290.9L559.2 293.4L553 297.6L548 299.4L543.1 300L520.8 300.5L508.4 301.3L499.7 302.5L493.5 304.3L488.5 306.7L484.3 309.8L482.2 312.2L481.6 314.7L482.4 316.5L484.9 318.4L489.8 320L495 320.9ZM655.5 319.7L662 320.3L669.4 320.1L675.6 319.1L680.6 317.4L680.6 304.8L674.4 303.1L666.9 302L657 301.7L647.1 304L643 306.1L640.2 308.5L639.4 311L642 314.7L647.1 317.6L655.5 319.7ZM501.4 270.3L580.2 270L612.4 269.2L623.6 268.3L639.7 265.8L648.9 262.9L650.2 261.6L650.3 260.4L648.9 259.1L646.1 257.9L638.4 255.9L623.6 253.7L611.2 252.5L577.7 251.1L518 250.5L510.8 249.9L500.9 248.2L496 248.8L489.7 250.5L439 255.4L436.1 254.2L436.5 250.5L435.5 249.3L427.9 244.5L425.1 241.9L424.4 239.4L424.8 238.2L426.6 236L431.7 232L432.2 230.7L431.5 229.5L429.1 227.3L424.1 224.3L419.2 222.5L414.2 221.4L408 221.1L403.1 221.6L398.1 222.9L393.2 225.2L389.5 228.3L388.1 230.7L387.9 234.4L396.9 255.4L401.8 264L405.6 266.7L409.3 267.5L413 267.4L425.4 264.8L430.3 264.6L481.1 269.7L501.4 270.3ZM587.5 233.2L591.4 234.2L595.1 233.6L601.3 230.7L602.6 229.5L602.3 228.3L600 226.5L597.6 225.4L591.4 224.4L585.2 225.4L582.7 226.5L580.7 228.3L581 229.5L582.6 230.7L587.5 233.2Z" fill="#f0f0d6" fill-rule="evenodd"/><path d="M530.1 366.6L545.5 367.7L561.6 366.5L567.8 365.2L572.8 363.4L575.5 361.6L576.8 359.2L576.3 357.9L574 356L567.8 353.7L557.9 352L546.8 351.2L535.6 351.5L525.7 352.8L518.3 355.1L514.6 357.9L514.5 360.4L517.3 362.9L523.2 365.2L530.1 366.6ZM506.2 318.4L517 319.4L529.4 319.6L543.1 319L556.7 317.7L579 313.2L598.8 310L606.2 307.7L613.7 303.9L614.9 303.8L616.1 305L619.2 312.2L621.4 316L624.8 318.3L627.3 318.3L630.7 316L632.9 312.2L634 307.3L633.9 299.9L631.8 292.5L629.8 289.6L627.3 288L624.8 287.9L622.3 289.3L617.4 295.3L614.9 296.9L607.5 293L600 290.9L590.1 290L580.2 290.5L574 291.8L567.8 294.1L564.1 296.6L559.2 301.9L555.4 303.5L549.2 304.1L524.5 304.1L510.8 305.1L499.3 307.3L495.9 308.5L492.4 311L491.8 312.2L492.1 313.5L494.7 315.6L499.5 317.2L506.2 318.4ZM653.5 317.2L658.3 318.1L664.5 318.4L669.4 318L674.4 316.9L678.1 315.2L680.3 313.5L680.6 309.1L678.8 307.3L676.5 306.1L668.2 304L659.5 303.7L652.1 305.1L647.1 307.6L645.4 309.8L645.1 311L646.2 313.5L647.6 314.7L653.5 317.2ZM479.8 269L492.3 269.8L519.5 270.1L600 269.2L614.9 268.2L632.2 265.7L641.6 262.9L643.1 261.6L643.1 260.4L641.6 259.1L638.6 257.9L631 256.1L614.9 253.8L598.8 252.5L565.4 251.3L504.7 250.7L496 251L456.3 254.8L440.2 257.6L435.1 259.1L433.4 260.4L434.1 261.6L436.6 262.9L444 264.7L479.8 269ZM405.3 261.6L409.3 262.3L413 262.2L421.7 260.2L425.4 257.9L429.8 251.7L430.1 249.3L429.3 248L423.6 243.1L422 240.6L422 238.2L425 233.2L424.9 232L423.9 230.7L420.4 228.7L413 226.5L404.3 226.8L400.6 227.7L396.9 229.4L394.4 231.3L393 233.2L392.4 236.9L393.9 245.6L395.3 249.3L400.6 258.3L403.1 260.5L405.3 261.6ZM587.4 232L591.4 233.1L593.8 232.8L597.9 230.7L598.2 229.5L596.7 228.3L593.8 227.4L588.9 227.4L586.2 228.3L585 229.5L585.5 230.7L587.4 232Z" fill="#ece5ba" fill-rule="evenodd"/><path d="M535.3 365.4L548 365.9L559.2 364.9L566.6 362.8L569.1 361.3L570.4 359.2L569.9 357.9L568.5 356.7L562.9 354.6L555.4 353.3L546.8 352.7L538.1 352.9L530.7 353.9L524.9 355.5L521.1 357.9L520.6 359.2L521 360.4L523.2 362.2L528.5 364.1L535.3 365.4ZM521.1 317.2L536.9 317.3L550.7 316L559.9 313.5L563.4 311L563.5 309.8L559.6 308.5L548 307.3L536.9 306.6L525.7 306.7L510.4 308.5L506.4 309.8L504.3 311L503.6 312.2L504.3 313.5L508.4 315.2L521.1 317.2ZM624.2 316L627.3 316.3L629.8 314.4L631.6 311L632.7 306.1L632.5 299.9L631.2 295L628.5 291.3L626.1 290.3L623.6 291L620.9 293.7L619 297.4L618.1 301.1L618.8 306.1L620.3 311L622.3 314.4L624.2 316ZM654.6 316L662 317.1L669.4 316.6L675.6 314.3L677.7 312.2L678 311L677.7 309.8L675.6 307.8L670.6 305.8L664.5 304.9L657 305.4L650.8 307.7L648.7 309.8L648.4 311L649.7 313.5L654.6 316ZM569.6 308.5L582.7 309.3L596.3 308L601.3 306.6L605.5 304.8L608.5 302.4L609.4 299.9L608.3 297.4L606.9 296.2L603.8 294.5L598.8 293L588.9 292L579 293L572.8 295L570.3 296.4L567.9 298.7L566.6 302.4L566.7 306.1L567.8 307.9L569.6 308.5ZM484.3 269L500.9 269.8L536.9 269.9L577.7 269.6L600 268.8L617.4 267.2L629.8 265.1L637.1 262.9L638.6 261.6L638.6 260.4L637.1 259.1L633.9 257.9L627.3 256.3L602.5 253.3L562.9 251.5L512.1 251.3L488.5 252.3L462.5 254.7L446.4 257.5L441.4 259.1L439.8 260.4L440 261.6L442.1 262.9L447.7 264.4L484.3 269ZM404.1 257.9L406.8 258.8L410.5 259L416.7 257.9L421.7 255.3L424.2 253L425.9 250.5L425.8 248L419.5 240.6L419.1 238.2L420.2 234.4L420 233.2L417.9 231.5L411.7 229.7L405.6 229.9L400.6 231.4L396.7 234.4L395.7 238.2L395.4 244.3L395.8 246.8L399.4 253.7L401.8 256.5L404.1 257.9ZM589.1 230.7L591.4 231.5L594.1 230.7L593 229.5L591.4 229.3L590 229.5L589.1 230.7Z" fill="#e6ce98" fill-rule="evenodd"/><path d="M538.5 364.1L548 364.4L556.7 363.5L562.7 361.6L564.4 360.4L564.9 359.2L564.3 357.9L562.5 356.7L558.9 355.5L553 354.5L545.5 354L538.1 354.4L531.9 355.5L528.4 356.7L526.6 357.9L526.1 359.2L526.6 360.4L529.4 362.1L538.5 364.1ZM661.4 316L666.9 315.8L671.9 314.5L674.9 312.2L675.3 311L674.9 309.8L673.7 308.5L670.6 307.1L663.2 306L655.8 307L652.6 308.5L651.5 309.8L651.1 311L651.5 312.2L652.7 313.5L657 315.3L661.4 316ZM528 314.7L539.3 314.3L543.6 313.5L545.7 312.2L544.6 311L541.8 310.3L531.9 309.5L523.2 310.1L519.4 311L518.1 312.2L519.8 313.5L528 314.7ZM623.5 313.5L626.1 314.6L628.5 313.5L630.3 311L631.6 306.1L631.6 301.1L630.4 296.2L628.5 293.4L626.1 292.2L623.6 293.1L621.9 295L620.6 297.4L619.7 301.1L620.7 308.5L623.5 313.5ZM577.9 306.1L586.4 307L596.3 305.8L602.2 303.6L603.8 302.4L605 299.9L604.6 298.7L602.5 296.7L596.3 294.4L587.6 293.7L580.2 294.7L574 297.3L572 299.9L572.1 302.4L573 303.6L574.6 304.8L577.9 306.1ZM489.3 269L508.4 269.6L543.1 269.8L596.3 268.7L613.7 267.1L626.1 265.1L633.5 262.9L635.1 261.6L635.1 260.4L631 258.2L625 256.7L602.5 253.7L575.3 252.2L536.9 251.6L502.2 252L476.2 253.8L454.3 256.7L447.7 258.3L443.8 260.4L444 261.6L446 262.9L451.4 264.3L472.4 267.4L489.3 269ZM404.7 255.4L409.3 256.4L415.5 255.4L420.4 252.5L422.7 249.3L422.1 246.8L416.7 240.6L415.5 234.5L413.7 233.2L409.3 232.4L404.3 233.1L401.6 234.4L399.4 237.3L397.6 243.1L397.6 246.8L400.6 252.4L404.7 255.4Z" fill="#ddba7a" fill-rule="evenodd"/><path d="M542.2 362.9L548.9 362.9L554.2 362.1L558.8 360.4L559.5 359.2L558.7 357.9L555.9 356.7L545.5 355.5L535 356.7L532.3 357.9L531.5 359.2L532.3 360.4L534.8 361.6L542.2 362.9ZM659.8 314.7L664.5 315L668.2 314.4L670.8 313.5L672.3 312.2L672.8 311L672.3 309.8L670.7 308.5L664.5 307.1L658.3 307.6L655.6 308.5L654.1 309.8L653.6 311L654.1 312.2L655.8 313.5L659.8 314.7ZM624.4 312.2L626.1 312.9L628.5 311.5L630.1 308.5L630.8 304.8L630.7 301.1L629.7 297.4L628.5 295.4L626.1 294L624.8 294.2L622.6 296.2L620.9 301.1L621.5 307.3L622.4 309.8L624.4 312.2ZM584.5 304.8L590.7 304.8L596.3 303.7L599 302.4L600.2 301.1L600.6 299.9L600.1 298.7L597.6 297L590.1 295.5L582.2 296.2L579 297.4L577.3 298.7L576.6 299.9L576.6 301.1L577.4 302.4L580.2 303.9L584.5 304.8ZM494.8 269L550.5 269.6L595.1 268.4L611.2 266.9L623.6 264.9L630.5 262.9L632.1 261.6L632.1 260.4L628.5 258.4L621.6 256.7L600 253.9L572.8 252.4L538.1 251.8L504.7 252.2L479.9 253.8L457.7 256.7L450.1 258.6L447.1 260.4L447.3 261.6L449.4 262.9L456.3 264.6L477.4 267.6L494.8 269ZM405 253L409.3 253.9L413 253.4L416.9 251.7L419.3 249.3L419.5 248L418.3 245.6L409.3 236.7L406.8 236.6L404.3 238L401.8 240.6L399.8 244.3L399.7 246.8L400.7 249.3L402.9 251.7L405 253Z" fill="#d2aa5f" fill-rule="evenodd"/><path d="M540.1 360.4L548 360.9L551 360.4L552.6 359.2L550.5 357.9L543.1 357.5L540.2 357.9L538.5 359.2L540.1 360.4ZM659.6 313.5L663.2 313.9L666.9 313.5L669.5 312.2L670.2 311L669.5 309.8L666.8 308.5L663.2 308.1L659.5 308.5L656.9 309.8L656.2 311L656.9 312.2L659.6 313.5ZM625.5 311L627.3 310.7L628.5 309.4L629.7 306.1L629.9 303.6L629.5 299.9L628.5 297.6L627.3 296.2L626.1 295.7L624.8 296L623.3 297.4L622.2 299.9L621.8 302.4L622.2 306.1L623 308.5L623.8 309.8L625.5 311ZM584.9 302.4L591.7 302.4L594.6 301.1L595.2 299.9L594.2 298.7L591.4 297.8L585.2 298L583.3 298.7L582.1 299.9L582.4 301.1L584.9 302.4ZM501.2 269L555.4 269.4L593.8 268.2L608.7 266.8L621.1 264.8L627.7 262.9L629.4 261.6L629.4 260.4L627.7 259.1L621.1 257.2L601.3 254.4L572.8 252.7L538.1 252.1L505.9 252.5L477.4 254.5L458.8 257.1L451.6 259.1L450 260.4L450.2 261.6L452.4 262.9L463.6 265.3L483.6 267.9L501.2 269ZM405.8 250.5L409.3 251.3L413 250.6L415.2 249.3L415.9 248L415.7 246.8L413.5 244.3L410.5 242.7L408 242.1L405.6 242.5L403.1 244.3L402.5 246.8L403.9 249.3L405.8 250.5Z" fill="#c88e42" fill-rule="evenodd"/><path d="M661.3 312.2L665.1 312.2L666.7 311L665.1 309.8L661.3 309.8L659.7 311L661.3 312.2ZM624.5 308.5L626.1 309.3L627.3 308.8L628.9 304.8L628.4 299.9L627.3 298.1L626.1 297.5L624.8 297.8L623.6 299.4L622.9 302.4L623.2 306.1L624.5 308.5ZM508.9 269L559.2 269.1L592.6 267.9L607.5 266.5L619.9 264.4L625 262.9L626.8 261.6L626.8 260.4L625 259.1L618.6 257.3L598.8 254.6L570.3 252.8L538.1 252.3L507.1 252.8L479.9 254.6L461.3 257.2L454.4 259.1L452.7 260.4L453 261.6L455.3 262.9L468.7 265.7L487.3 268L508.9 269Z" fill="#be8038" fill-rule="evenodd"/><path d="M624.7 306.1L626.1 307.1L627.3 306.1L627.6 304.8L627.4 301.1L626.1 299.7L624.8 300.3L624.1 302.4L624.7 306.1ZM519.8 269L562.9 268.9L593.8 267.5L608.7 265.9L618.7 264.1L622.5 262.9L624.3 261.6L624.3 260.4L622.5 259.1L616.1 257.4L597.6 254.8L570.3 253.1L538.1 252.5L507.1 253.1L481.1 254.8L462.5 257.5L457 259.1L455.3 260.4L455.6 261.6L457.9 262.9L463.8 264.3L477.2 266.6L494.7 268.2L519.8 269Z" fill="#b0702a" fill-rule="evenodd"/><path d="M492.8 267.8L536.9 268.9L585.2 267.8L600.5 266.6L614.9 264.3L620 262.9L621.9 261.6L621.9 260.4L620 259.1L614.9 257.7L596.3 255L570.3 253.4L539.3 252.8L508.4 253.3L483.6 254.9L465 257.5L459.6 259.1L457.9 260.4L458.2 261.6L460.1 262.6L465 264.1L479.9 266.6L492.8 267.8Z" fill="#a06220" fill-rule="evenodd"/><path d="M497.1 267.8L538.1 268.7L581.5 267.8L597.2 266.6L611.2 264.5L617.5 262.9L619.4 261.6L619.4 260.4L617.5 259.1L613.5 257.9L595.1 255.2L570.3 253.6L539.3 253L508.4 253.6L483.6 255.2L465.9 257.9L462.1 259.1L460.4 260.4L461.3 261.9L467.6 264.1L482.8 266.6L497.1 267.8Z" fill="#7e5f1a" fill-rule="evenodd"/><path d="M586.1 350.5L598.8 351.1L613.7 350.7L634.7 348.9L650.8 346.6L663.2 343.9L671.9 341L676.9 338.2L678.9 335.7L679.2 334.5L678.2 332L675.1 329.5L670.6 327.5L665 325.8L638.4 321L634.7 321.3L628.5 322.8L624.8 322.7L614.9 319.2L608.7 318.8L577.7 320.2L508.4 326L498.5 327.5L491.4 329.5L487.4 332L486.2 334.5L486.4 335.7L488.5 338.2L492.7 340.7L499.7 343.2L508.4 345.1L519.5 346.4L554.2 348L586.1 350.5ZM455 318.4L461.3 318.9L467.5 317.1L472.4 313.8L486.8 302.4L490.4 298.7L491.9 296.2L493 292.5L493.1 285.1L494.7 284.6L499.7 284.1L556.7 284.8L603.8 283.2L616.1 282.3L637.2 279.8L643.4 278.2L645.9 276.4L644.8 275.2L638.4 273.3L629.8 271.9L614.9 270.5L489.8 270.5L478.6 270L457.8 267.8L444 268.1L440.2 269.7L434.2 276.4L432 287.6L432.6 296.2L435.3 303.6L440.2 310.2L447.7 315.7L455 318.4ZM667.7 298.7L674.4 299.6L680.6 298.4L680.6 259.2L675.6 257.3L669.4 257.6L666.9 258.6L663.2 261.4L658.7 266.6L654.9 276.4L656.3 285.1L658.7 291.3L662.7 296.2L667.7 298.7ZM380.6 285.1L383.3 285.7L387 285.5L390.7 284.1L393.2 282.3L395.6 279.7L397.7 276.4L398.9 272.7L399.2 269L398.4 264.1L396.5 257.9L388.9 241.9L387 239.4L384.5 237.6L382 236.6L379.5 236.4L375.8 237.5L373.3 239.3L373.3 279.9L377.1 283.3L380.6 285.1ZM558.8 250.5L618.6 250.7L655.8 248.8L680.6 246.3L680.6 234.9L655.8 232.5L614.9 230.3L605 231.1L595.1 234.7L591.4 235.4L588.9 234.8L577.7 230.3L569.1 229.3L536.9 229.1L481.1 229.8L452.6 231.1L441.5 232.4L431.6 235.3L428.9 236.9L427 239.4L427.1 240.6L428.8 243.1L434 246.1L442.7 248.6L452.6 249.9L476.2 250.2L494.7 247.4L500.9 247L520.8 250L558.8 250.5Z" fill="#e6eeee" fill-rule="evenodd"/><path d="M569 346.8L597.6 347.3L613.7 346.3L627.3 344.9L639.7 342.7L648.3 340.4L654.5 337.3L656 335.7L656.3 334.5L655 332L650.8 329.5L638.4 326L626.1 325.1L612.4 322.6L592.6 322L562.9 323.1L529.4 326.5L515.6 329.5L510.7 332L509.2 334.5L510.4 336.9L513.3 338.8L518.3 340.8L525.7 342.6L541.8 344.9L569 346.8ZM458.4 312.2L463.8 312.2L468.7 310.8L474.9 307.6L480 303.6L483.3 299.9L485.6 295L486.1 291.3L486.1 283.8L488.5 283.1L494.7 282.8L545.5 283.8L585.2 283.1L617.4 280.8L631 278.3L633.1 277.7L634.5 276.4L633.3 275.2L626.1 273.3L616.1 271.9L602.5 270.9L574 270.5L486.1 271L477.4 270.6L462.5 269L452.6 269.3L449.7 270.3L446.4 272.2L441.8 276.4L439.2 286.3L439.2 293.7L441.1 299.9L445.5 306.1L451.4 310.2L458.4 312.2ZM669.1 295L671.9 295.7L675.6 295.5L680.6 293L680.6 264.8L675.6 262.3L670.6 262.3L665.7 264.8L662.2 269L659.8 275.2L659.7 281.4L661.5 287.6L664.5 291.8L669.1 295ZM380.2 278.9L383.3 279.8L385.7 279.8L388.2 279.2L390.7 277.7L394.7 272.7L396.4 266.6L395.5 259.1L391.9 250.1L387 242.8L384.5 241.1L382 240.6L379.5 241L377.1 242.6L373.3 247.7L373.3 271.5L376.8 276.4L380.2 278.9ZM520.1 249.3L534.4 249.9L579 250L606.2 249.6L631 248.5L657 246.4L672.1 244.3L680.6 241.9L680.6 239.3L674.4 237.4L664.5 235.7L632.2 232.9L614.9 232L606.2 232.2L602.5 232.8L593.8 236.3L591.4 236.6L588.9 236L581.5 232.5L576.5 231.2L545.5 230.6L483.6 231.3L456.3 232.6L437.8 235L432.5 236.9L429.9 239.4L430.4 241.9L434 244.4L440.2 246.4L447.7 247.5L462.5 248.6L474.9 248.8L494.7 246.5L502.2 246.2L508.7 246.8L520.1 249.3Z" fill="#d6ebe6" fill-rule="evenodd"/><path d="M559.7 344.4L588.9 345.3L616.1 343.6L628.5 341.7L637.1 339.4L642.3 336.9L643.9 334.5L642.3 332L640.2 330.8L632.3 328.3L612.4 325L587.6 323.9L562.9 324.8L540.6 327.1L531.9 328.8L525.7 330.8L523.4 332L522 333.2L521.6 334.5L523.2 336.9L525.2 338.2L532.5 340.7L544.3 342.8L559.7 344.4ZM456.9 308.5L462.5 309.1L467.5 308.2L472.4 306L477.3 302.4L480.2 298.7L481.8 295L482.5 290L481.8 283.8L483.6 282.5L492.3 282L546.8 283.4L586.4 282.4L616.1 280L626.2 277.7L627.8 276.4L626.5 275.2L618.6 273.3L607.5 271.9L593.8 271.1L535.6 270.8L482.4 271.5L463.8 270.3L457.6 270.6L450.1 273.2L446 276.4L443.2 285.1L442.6 290L443.6 296.2L446.4 301.6L451.4 306.2L456.9 308.5ZM669.9 292.5L673.1 293.1L675.6 292.8L678.1 291.7L680.6 289.7L680.6 268.1L678.1 266.1L674.4 264.8L669.4 265.5L666 267.8L663.4 271.5L661.8 276.4L661.9 281.4L663.4 286.3L666 290L669.9 292.5ZM382 276.4L384.5 276.8L387 276.4L390.7 274.1L393.9 269L394.8 264.1L394 257.9L391 250.5L387 245.3L383.3 243.5L379.5 244.3L377.1 246.4L375.1 249.3L373.3 254.1L373.3 264.9L374.2 267.8L377.1 272.9L379.5 275.2L382 276.4ZM529.1 249.3L576.5 249.4L626.1 247.6L645.9 246L659.4 244.3L666.9 242.6L668.9 241.9L670 240.6L668.9 239.4L666.9 238.7L659.4 236.9L632.2 234L613.7 233L606.2 233.1L601.3 234.1L593.8 237.5L591.4 237.9L588.9 237.3L581.5 233.3L576.5 232.1L545.5 231.4L483.6 232.2L458.8 233.5L446.4 234.8L439 236.3L434.4 238.2L433.2 239.4L432.9 240.6L435.2 243.1L439 244.6L445.2 245.9L453.9 246.8L474.9 247.7L494.7 245.8L502.4 245.6L509.6 246.2L522 248.7L529.1 249.3Z" fill="#b9ead6" fill-rule="evenodd"/><path d="M566.8 343.1L590.1 343.5L612.4 341.9L621.1 340.6L628.5 338.6L632.3 336.9L633.8 335.7L634.2 334.5L633.7 333.2L632.2 332L629.4 330.8L617.4 327.8L602.5 326.1L585.2 325.5L564.1 326.2L546.1 328.3L535.9 330.8L533.1 332.1L531.7 333.2L531.2 334.5L531.6 335.7L533.1 336.9L540.6 339.7L551.7 341.7L566.8 343.1ZM457.9 306.1L462.5 306.6L467.5 305.7L471.2 304L475 301.1L477.8 297.4L479.2 293.7L479.6 288.8L478.7 283.8L479.3 282.6L482.4 281.6L491 281.3L540.6 282.9L577.7 282.3L609.9 280L618.6 278.4L621.2 277.7L622.7 276.4L621.3 275.2L612.4 273.2L600 271.9L586.4 271.2L522 271.1L481.1 272.2L463.8 271.7L458.8 272.2L453 274L449.4 276.4L446.2 285.1L445.4 290L446.2 295L448.9 300.3L452.6 303.8L457.9 306.1ZM669.1 290L671.9 291L675.6 290.7L678.1 289.4L680.6 286.8L680.6 271L678.1 268.4L675.6 267.1L671.9 266.8L668.2 268.4L665.4 271.5L663.8 275.2L663.4 280.1L664.2 283.8L666.2 287.6L669.1 290ZM381.8 274L385.7 274.4L389.4 272.5L392.6 267.8L393.5 262.9L392.6 256.7L390.5 251.7L387 247.3L383.3 245.7L379.6 246.8L377.2 249.3L375.3 253L374.3 257.9L374.6 262.9L376 267.8L378.4 271.5L381.8 274ZM523.3 248L535.6 248.8L561.6 248.9L614.9 247.3L634.7 245.9L648.6 244.3L655.8 242.9L659.1 241.9L660.3 240.6L659.1 239.4L655.8 238.3L648.6 236.9L632.2 235.1L611.2 233.8L602.5 234.7L595.1 238.5L591.4 239.3L587.6 238.2L582 234.4L576.5 232.9L545.5 232.2L488.5 232.9L465 233.9L451.4 235.3L442.3 236.9L438.7 238.2L437.1 239.4L436.7 240.6L437.5 241.9L439 242.7L442.7 244L457.6 246.1L474.9 246.8L494.7 245.2L503.4 245L510.8 245.6L523.3 248Z" fill="#9ce0c8" fill-rule="evenodd"/><path d="M572.6 341.9L591.4 342L608.7 340.6L620.4 338.2L623.6 336.9L625.2 335.7L625.7 334.5L625 333.2L623.2 332L613.7 329.2L600 327.5L583.9 326.9L566.6 327.5L551.7 329.3L542.1 332L540.2 333.2L539.6 334.5L540.2 335.7L541.9 336.9L549.9 339.4L560.4 341L572.6 341.9ZM457.6 303.6L461.3 304.3L466.3 303.8L470 302.3L473.1 299.9L475.8 296.2L477 292.5L477.2 288.8L476.1 282.6L479.9 281L488.5 280.6L535.6 282.4L572.8 282L605 279.9L614.9 278.2L616.7 277.7L618.2 276.4L616.1 275L606.2 273.1L579 271.4L513.3 271.4L460.1 273.3L455.1 274.7L452.4 276.4L448.7 285.1L447.9 288.8L448.3 293.7L450.1 297.8L453.1 301.1L457.6 303.6ZM670.4 288.8L673.1 289.4L675.8 288.8L678.1 287.3L680.6 283.7L680.5 274L678.1 270.5L674.4 268.6L670.6 268.9L668.2 270.5L666.4 272.7L664.9 276.4L664.8 280.1L665.7 283.8L668.2 287.3L670.4 288.8ZM381.1 271.5L384.5 272.5L388.2 271.2L391 267.8L392.3 262.9L391.6 256.7L389.4 251.9L387 249L383.3 247.5L380.8 248.2L378.2 250.5L376.4 254.2L375.7 257.9L375.9 262.9L377.1 266.6L378.5 269L381.1 271.5ZM531.3 248L570.3 248.1L612.4 246.6L638.2 244.3L645.9 243L649.7 241.9L651.1 240.6L649.7 239.4L645.9 238.2L638.2 236.9L609.9 234.6L602.5 235.6L595.1 240L591.4 240.7L587.6 239.8L582.3 235.7L576.5 233.7L569.1 233.1L545.5 232.9L488.5 233.6L468.7 234.4L448.5 236.9L444 238.2L441.8 239.4L441.4 240.6L442.5 241.9L446.4 243.3L462.9 245.6L476.2 246L496 244.5L504.7 244.5L531.3 248Z" fill="#82d2b9" fill-rule="evenodd"/><path d="M580.2 340.7L593.8 340.3L606.2 339L614.7 336.9L616.9 335.7L617.6 334.5L616.9 333.2L614.7 332L607.5 330.1L596.3 328.8L582.7 328.3L569.1 328.9L557.9 330.2L550.8 332L548.5 333.2L547.8 334.5L548.5 335.7L550.7 336.9L556.7 338.6L566.6 340L580.2 340.7ZM457.3 301.1L461.3 302.2L465 301.9L468.7 300.5L471.2 298.7L473.9 295L474.9 291.3L474.7 287.6L473.1 282.6L474.3 281.4L478.6 280.3L487.3 279.9L531.9 282L567.8 281.8L600 279.8L611.2 277.9L613.8 276.4L611.2 275L600 273.1L572.4 271.5L518.3 271.6L462.5 274.1L457.7 275.2L455.5 276.4L454.5 277.7L453.9 280.1L451.2 285.1L450.4 287.6L450.2 291.3L451.4 295.4L453.9 298.8L457.3 301.1ZM671.7 287.6L674.4 287.6L677 286.3L679 283.8L680.1 280.1L679.9 276.4L679 274L676.8 271.4L674.4 270.2L671.9 270.2L669.3 271.5L667.3 274L666.1 277.7L666.3 281.4L667.3 283.8L669.4 286.4L671.7 287.6ZM382.4 270.3L385.7 270.5L388.2 269.1L390.6 265.3L391.3 261.6L390.6 256.7L388.9 253L385.7 249.8L383.3 249.2L380.8 250.1L379.1 251.7L377.4 255.4L376.9 259.1L377.2 262.9L378.3 266L380.5 269L382.4 270.3ZM526.5 246.8L539.3 247.5L561.6 247.5L579 247.1L592.6 245.9L609.9 245.8L627.1 244.3L635.4 243.1L640 241.9L641.5 240.6L640 239.4L633.5 237.9L619.9 236.2L608.7 235.6L602.5 236.9L596.3 241.2L591.4 242.4L586.4 240.9L580.2 235.7L576.4 234.4L567.8 233.8L545.5 233.6L488.5 234.2L471.2 234.9L454.9 236.9L450 238.2L447.6 239.4L447.1 240.6L448.8 241.9L453 243.1L466.3 244.8L477.4 245.1L504.7 243.8L513.3 244.5L526.5 246.8Z" fill="#6abea6" fill-rule="evenodd"/><path d="M566.7 338.2L580.2 339.1L595.1 338.6L605 336.9L608.1 335.7L609 334.5L608.1 333.2L606.2 332.5L600 331L582.7 329.9L565.4 331L559.2 332.5L557.4 333.2L556.4 334.5L557.3 335.7L560.4 336.9L566.7 338.2ZM461 299.9L463.8 299.9L466.3 299.3L470.5 296.2L471.9 293.7L472.7 290L471.9 286.3L470 282.6L470.4 281.4L476.2 279.6L486.1 279.2L528.2 281.5L562.9 281.5L596.3 279.6L607.5 277.7L609.3 276.4L607.5 275.2L601.9 274L591 272.7L561.6 271.7L512.1 272.2L481.1 274.4L463.8 275L459 276.4L457.7 277.7L457.3 280.1L453.7 285.1L452.5 288.8L452.7 292.5L454.6 296.2L457.6 298.8L461 299.9ZM670.2 285.1L673.1 286.1L675.6 285.4L677.3 283.8L678.5 281.4L678.8 277.7L678.1 275.2L676.8 273.4L674.4 271.9L670.6 272.4L668.9 274L667.7 276.4L667.3 278.9L667.7 281.4L670.2 285.1ZM381.5 267.8L384.5 268.9L387 268.1L389.2 265.3L390 262.9L390.1 259.1L389 255.4L387 252.4L384.5 251L382 251.2L380.8 252.1L379.2 254.2L378.3 256.7L378.5 262.9L379.5 265.5L381.5 267.8ZM541 246.8L576.5 246.3L583.8 245.6L586.8 244.3L586.1 243.1L580.2 237.5L577.7 235.9L574 235.1L566.6 234.6L533.1 234.4L476.2 235.3L461.3 236.9L456.2 238.2L453.8 239.4L453.7 240.6L456 241.9L460.1 242.8L470 244L478.6 244.2L497.2 243.2L507.1 243.2L514.6 243.8L529.4 246.1L541 246.8ZM599.4 244.3L605 244.7L613.8 244.3L623.6 243.1L628.8 241.9L630.5 240.6L628.8 239.4L623.6 238.2L613.2 236.9L607.5 237L603.8 238.1L602 239.4L598.3 243.1L599.4 244.3Z" fill="#5aab96" fill-rule="evenodd"/><path d="M575.8 336.9L589.6 336.9L596.6 335.7L598.2 334.5L596.6 333.2L592.6 332.4L582.7 331.8L572.8 332.5L568.9 333.2L567.2 334.5L568.8 335.7L575.8 336.9ZM460.9 297.4L463.8 297.5L467 296.2L469.2 293.7L470.1 291.3L470 288.2L468.7 285.5L466.3 283.1L463.8 281.8L461.3 282.1L457.6 284.2L455.8 286.3L455 288.8L455.1 291.8L456.3 294.5L458.1 296.2L460.9 297.4ZM671.3 283.8L674.4 284.1L675.6 283.4L677 281.4L677.5 278.9L677 276.4L675.6 274.4L674.4 273.7L671.3 274L669.2 276.4L668.8 278.9L669.2 281.4L671.3 283.8ZM464.2 280.1L476.2 278.2L482.4 277.9L519.5 280.8L540.6 281.3L561.6 281.1L583.9 280.1L595.1 279L602.6 277.7L604.5 276.4L602.6 275.2L596.5 274L581.5 272.6L554.2 272L518.3 272.3L505.9 272.9L479.9 275.6L466.3 276L464 276.4L462 277.7L462.5 279.5L464.2 280.1ZM382.6 266.6L384.5 267.1L387 266L388.3 264.1L388.9 261.6L388.2 256.4L386.8 254.2L384.5 252.7L382.4 253L380.9 254.2L379.4 257.9L379.8 262.9L380.8 264.8L382.6 266.6ZM537.3 245.6L571.5 245.3L580 244.3L581.1 243.1L577.7 238.2L575.7 236.9L565.3 235.7L482.4 235.8L468.3 236.9L462.5 238.2L460.3 239.4L460.7 240.6L464.2 241.9L472.4 243L509.6 242.3L537.3 245.6ZM605.9 241.9L608.7 242.3L612.4 242L615.5 240.6L612.8 239.4L608.7 239.3L606 240.6L605.9 241.9Z" fill="#4a9b84" fill-rule="evenodd"/><path d="M459.9 293.7L461.3 294.3L463.8 294.3L466.3 292.5L466.9 291.3L466.9 288.8L465 286.2L463.8 285.7L461.3 285.7L458.7 287.6L458.2 288.8L458.2 291.3L459.9 293.7ZM671.5 281.4L673.1 282.1L674.4 281.7L675.5 280.1L675.5 277.7L674.4 276.1L673.1 275.7L671.9 276.1L670.7 277.7L670.7 280.1L671.5 281.4ZM515.9 280.1L545.5 280.8L575 280.1L590 278.9L596.9 277.7L599.1 276.4L597 275.2L582.7 273.3L571.5 272.6L548 272.3L512.1 273.1L500.8 274L492.8 275.2L489.5 276.4L492.4 277.7L500.6 278.9L515.9 280.1ZM382.5 264.1L384.5 264.9L385.7 264.5L387.5 261.6L387.6 259.1L387 257L385.7 255.3L384.5 254.7L383.3 254.7L382 255.6L380.9 257.9L381 261.6L382.5 264.1ZM477.4 241.9L486.1 241.8L528.6 239.4L497.5 236.9L487.3 236.7L474.9 237.4L469.9 238.2L467.5 239.4L469 240.6L477.4 241.9Z" fill="#3e8e76" fill-rule="evenodd"/><path d="M531.4 280.1L557.9 280.2L574 279.4L589.8 277.7L592.3 276.4L589.9 275.2L581.7 274L546.8 272.7L509.4 274L500.9 275.2L498.2 276.4L500.8 277.7L509.4 278.9L531.4 280.1ZM384.2 261.6L385.4 260.4L385.4 259.1L384.5 257.8L383.3 258.4L383 259.1L383.3 261L384.2 261.6ZM481.5 239.4L486.3 239.4L481.5 239.4Z" fill="#348168" fill-rule="evenodd"/><path d="M524.9 278.9L545.5 279.3L566 278.9L578.4 277.7L581.6 276.4L578.5 275.2L566 274L545.5 273.7L525.2 274L512.6 275.2L509.3 276.4L512.5 277.7L524.9 278.9Z" fill="#267254" fill-rule="evenodd"/>
<path d="M375.8 235.7L378.3 235.7L380.2 235.1L381.1 236.9L382.6 238.8L383.6 240L383.9 242.8L385.1 243.3L387 242.5L387.8 243.7L388.5 246.8L389 250.5L388.6 252.7L389.7 254.2L391.1 255.4L391.2 257.9L392.3 259.4L393.8 260.5L395 261.2L396 261.1L394.9 257.9L394.3 255.9L392.9 255.2L391.1 252.4L389.7 251.1L389.7 249.5L390.7 247.4L390.8 246.2L391.8 246.3L391.8 247.3L393.5 247.8L395 249.8L396.4 250L396.6 252.1L397 252.2L398.5 251.1L399.4 249.9L401.6 248.9L402.1 247.4L402.2 245.9L401.6 243.8L400 242.5L398.7 240.9L397.7 239.5L398.7 237.9L400 236.5L401.2 236.2L402.5 236.3L403 237.7L403.7 237.8L403.8 236.7L405.3 236.2L406.8 235.4L407.5 234.9L408.4 235.3L409.9 234.7L411.5 234.2L412.7 233L413.7 232.5L415 231.4L415.2 230L416.1 229.1L416.9 227.9L417.8 226.8L418.2 225.8L417.9 223.3M573 225.2L573.8 227.3L575.8 228.5L576.9 230L578.6 231.2L579 232.6L581 234.1L582.1 235.4L582.4 236.3L582.1 237.4L583.1 238.3L584.7 239.3L586.4 240.4L587.6 241.1L590.1 242.2L592 243.2L593.8 243.1L596.3 243.3L599.2 244.8L600.8 245.7L602.5 246.3L604.1 246.7L605.5 247.5L606.6 249.3L608 250.5L609.3 251.1L609.9 252.6L610.6 253L612.4 252.6L613.4 253L614.7 253.8L615.9 253.6L616.8 252.4L616.5 253.5L616.8 254.7L616.9 256.7L616.5 258.5L615.4 259.9L614.9 260.9L613.5 261.7L613.2 262.7L612.5 264.1L612.7 265.6L613.3 266.1L613 267.8L612.2 268.9L612.5 270.3L614 271.7L615.3 273.5L616.4 275.4L617.4 277.7L618.4 279.8L620.5 281.7L622.3 283L624.6 284.5L625.7 286.3L625.8 288.8L625.6 291.3L625.4 293.7L625.1 296.2L624.4 298.7L624.2 300.5L624.1 303L623.8 304.7L623.2 306.2L622.8 307.6L621.7 308.9L621.8 310.4L621.3 312.2L621.5 313.7L621.5 315.2L621.6 316.9L620.1 318.3L619.5 319.4L620.1 320.8L620.6 322.1L620.6 324L620.6 326.2L621.7 327.6L622.7 328.2L623.8 329L624.8 329.4L625.4 328.7L626.3 327.7L628 327.4L626.9 326.8L627.9 326.1L627.5 325.1L628.5 324.1L629.1 323L631.3 322.1L630.4 321.3L629 320.4L629.4 318.5L631.7 318.3L632.7 316.6L633.9 315.7L632 315.2L632.6 314.2L632.2 313.5L635.6 313.2L635.7 312L636 310.9L637.8 310.9L640.3 310.3L641.7 308.9L642.6 307.7L641.9 306.6L640.7 305.2L642 305.8L642.9 305.3L644.9 305.8L646.5 305.6L647.7 304.3L649.6 302.1L651.1 299.9L652.3 298L652.6 296.9L654.3 294.6L655.8 293.2L657 292L659 291.3L660.7 290.8L662 289.4L663.5 287.6L664 286.1L664.5 284.5L664.7 281.4L665.1 278.9L666.4 278.2L667.5 276.1L668.8 274.6L669.7 272.7L669.4 270.9L668.8 269.4L666.9 268.7L665.1 267.5L663.2 266.3L660.7 266.4L659.7 266.1L657 265.1L655.2 264.1L653.3 264.1L651.8 263.5L650.8 262.9L650.8 261L650 260.4L649.2 257.9L648.3 256.9L646.5 256.1L645.3 255.7L642.5 255.7L640.9 254.3L638.4 252.5L637.2 251.7L636.2 250.7L635.3 250L632.5 249.6L631 249.8L628.9 249.6L627.7 248.8L626.3 248.5L624.9 249.3L624.2 249.9L624.7 251.4L623.9 250.5L624.2 249.3L623.9 248.3L623.2 247.5L621.8 248.6L620.5 249.3L619.5 249.3L619 249.8L618.7 251.1L617.6 252.2L616.8 252.4L616.4 251.7L615 251.1L613.9 251.4L613.2 251.7L611.6 250.6L609.3 249.3L609.5 247.4L609.2 245.6L609.7 244.3L608 243.2L606.6 243.3L603.5 243.3L603 243.2L603.5 242.6L603.5 240.7L604.2 239.9L604.5 238.2L605.2 236.3L604.4 236.3L602.4 236.5L600.8 237L600.7 238.5L599.2 239.9L596.9 240L594.5 239.9L593.5 238.8L592.1 237L591.7 235.3L591.9 232.8L592.4 231L592.1 229.9L591.9 228.3L593.1 227.2L595.1 226.3L596.9 226L599.2 225.2M607.7 225.2L608.7 225.9L610.3 227L610.2 228.4L610.8 229.8L611.4 230.9L612.8 231.7L613.4 231.6L613.7 229.8L612.7 228.5L611.9 227L611.8 225.2M568.6 225.2L569.4 226.4L570.3 227.5L571.4 228.5L572.3 229.9L573.5 230.7L573.9 232.2L575.3 233.7L576.4 234.6L576.7 234.4L576.5 233.3L574.8 232.6L574.3 230.7L573.4 229.5L572 227.2L571 225.8L570.7 225.2M375.8 345L378.3 345L384.5 344.6L390.7 344.4L396.9 344.1L403.1 344.6L409.3 345.3L415.5 345.1L421.7 344.6L427.9 344.5L434 344.4L440.2 345.2L446.4 345.8L452.6 347.1L458.8 347.8L465 348.8L471.2 350L477.4 351.2L478 352.4L474.9 353.6L471.2 355.5L467.5 357.9L466.3 360.4L467.5 364.1L472.4 366.6L483.6 367.8L496 368.1L508.4 368.2L520.8 367.8L529.4 366.6L527 362.9L531.9 359.2L539.3 356.7L549.2 356.1L557.9 354.9L570.3 354.9L582.7 354.2L591.4 353.6L601.3 353L611.2 353.4L617.4 353L622.3 350.5L626.1 348.7L629.8 345.6L632.2 344.1L636 342.5L640.9 341.3L644.6 340.9L642.2 342.5L638.4 344.4L634.7 347.4L635.3 350.5L637.2 355L632.2 356.7L629.4 357.9L638.4 358.6L653.3 359.2L663.2 358.9L675.6 357.5L678.1 356.7M401.3 239.1L402.1 240.2L403.2 240.1L404.2 238.6L403.8 238L402.6 238.2L401.5 238.6ZM415.6 234.4L416.3 235.7L417.2 234.7L417.8 232.5L417.4 231.6L416.7 232L415.7 233.5ZM416.2 240L418.2 240L418.2 241.9L417.4 243.3L417.6 245.3L418.6 245.6L419.4 246.1L420.5 247.3L419.6 246.8L418.7 246.5L417.6 245.7L416.2 245.7L416.2 244.6L415.2 243.2L415.8 242.8L416 241.2ZM417.9 254.2L419.2 253.5L420 253L421 252.2L422.2 250.7L423.5 253.6L423.1 255.1L422.2 255.9L420.7 255.2L420.3 253.8L418.9 253.7L418.2 254.3ZM420.8 247.4L422.5 248.9L421.7 250.5L421 249.5L421.2 248.5ZM417.8 248.2L419.3 249L418.8 250L417.9 249.9ZM419.1 249.4L419.9 250L419.3 251.6L418.4 250.6ZM420.3 249L420.4 250.3L419.7 251L419.8 249.9ZM415.8 246.2L417.3 246.4L416.9 247.8L416 247.2ZM412 252.5L415 248.8L414.5 250.1L412.4 252.7ZM401.8 261L402.6 263.1L403.3 264.9L403.2 266.4L405.2 266.6L406.8 266.8L408.6 267.2L410.5 267.7L411.1 265.6L412.4 263.7L412.7 261.6L414.1 261.5L412.9 260.1L412.6 258.2L413.7 257.4L414.5 256.4L412.6 255.3L411.7 254.2L410.9 254.7L409.8 256.4L408.3 257.3L406.8 258.9L404.7 259.9L404.1 261L402.6 260.5ZM384.9 255.9L387.6 256.4L389.1 258.3L391.2 260.1L392.4 260.6L394.5 262.4L395.4 264.1L396.3 265.1L397.9 266.6L398.1 268.4L397.9 270L396.4 270.1L393.5 267.8L391.9 265.9L390.9 263.8L389.8 262.6L388.8 260.6L387.2 258.9L385.7 257.3L384.9 256.3ZM397.1 271.2L398.1 270.1L399.7 270.1L401.2 270.8L403.7 271.4L406.3 271.4L408.6 272.4L408.5 273.6L406.2 273.2L403.7 273L401.2 272.5L398.7 272L397.4 271.4ZM408.6 272.9L410.1 273.2L409.5 273.7ZM410.5 273.2L411.4 273L411.1 273.8ZM411.7 273.3L414.2 273L414 273.7L411.7 274ZM415.2 273.2L419.1 272.9L418.9 273.7L416.1 273.7ZM419.8 275.6L421.9 273.5L424.5 273.2L421.7 274.7ZM414.2 274.7L416.5 275.2L415.7 275.6ZM414 266.3L414.7 264.7L415.2 262.7L415.6 261.9L416.7 261.2L418.6 261.6L420.4 261.7L421.9 261L421.2 262.2L419.4 262.4L416.8 262.4L415.6 263L416.1 264.7L417.3 264.1L419.6 264L418.3 265.1L417.1 265.2L418.6 266.8L418.3 268.8L417.3 268.5L416.6 266.1L415.8 266.4L416 269.6L414.8 269.6L415 268.2L414.8 267.2L414 266.3ZM424.8 260.4L425.4 261.6L426.2 261.2L425.4 262.4L426.5 263.2L425.6 263.8L424.9 262.2L424.6 261ZM425.4 266.8L428.8 267.5L428.1 266.9L426 266.4ZM422.9 266.7L424.4 266.9L424 267.5L423 267.3ZM429.1 264.1L430.6 263.3L432.9 264L433.4 266.1L434.7 267L437.1 264.7L438.8 264.9L441.5 266.1L443.6 266.9L445.9 267.8L447.4 269L447.7 270.3L449.5 270.6L450 271.5L451 273.8L452.4 274.7L453.6 275.6L452.3 275.6L450.1 275.3L449 274.6L447.7 272.9L446.1 272.2L444.3 273L444.4 274L443.5 274.3L441.5 274.1L439.2 272.9L437.8 273.2L437.4 272.2L438.6 271.4L437.6 269.5L435 268.4L432.9 267.7L431.7 267.9L430.3 266.3L431.7 265.8L430.2 264.8ZM450.5 269.8L452.7 269.5L454.5 268.2L455.5 268.2L454.7 269.6L452.7 270.5L450.8 270.4ZM453.6 266.2L455.1 266.9L456.3 268.7L455.7 268.5L454.6 267.2ZM458.3 269.5L459.9 271L459.3 271.4L458.6 270.3ZM460.7 271.5L463.8 272.7L464.8 273.5L463.2 273.2L461 272.1ZM465.6 273.3L466.9 275L466.4 275.1L465.8 274ZM464.6 274.3L466 274.6L465.4 275ZM466.9 275.4L467.9 275.9L467 275.9ZM473.1 281.4L473.9 281.7L473.7 282.2L473.2 282ZM473.9 282.6L475.3 283.4L474.9 283.8ZM475.2 284.5L475.7 284.6L475.4 285ZM470 287.7L471.8 289L473.7 290.4L472.9 290.4L470.2 288.3ZM486.4 284.5L487.9 284.8L487.4 285.5L486.3 285.2ZM488.1 283.4L489.8 282.9L489.2 283.6ZM407.4 290L407.8 293.1L407.3 293.7L408.3 295.3L409.3 299.3L410.1 301.9L410 304.2L409.3 305.2L411.3 306.1L413 306.2L414.8 305.3L416.7 304.6L419.9 304.7L421.7 303.2L424.3 302.7L426.6 302L429.3 301.8L431.6 302.5L433.2 303.2L434.3 305.6L435.2 305.8L435.3 304.6L437.1 303.1L437.6 304.3L437.5 306.1L438.4 305.7L437.9 306.8L439.7 307.2L440 308.9L441 309.8L442.2 310.2L443.6 310.4L445.2 309.9L446.3 309.7L447.2 310.5L448.2 311.1L449.7 309.8L451.4 309.4L452.6 309.2L452.9 307.3L453.9 305.2L454.7 303.6L455.7 302.4L456.5 300.3L457.1 297.7L456.5 295L456.3 293.8L454.5 292.5L453.6 290.8L452 290.3L451.1 288L448.9 286.7L447.9 285.6L447.5 283.7L446.8 281.4L445.8 280.4L444.6 278.7L443.7 276.4L443.3 276.1L442.7 277.5L442.2 278.9L442.1 281.4L441.2 284.3L440 284.3L439 283.6L437.5 282.9L436.3 282.4L435 281.4L434.7 281L435.3 279.8L436.3 278L435.3 277.5L433.4 277.7L431.6 277.1L431.1 276.9L430.1 276.8L428.8 278.2L427.9 278.9L427.2 281.3L426 281.1L424.6 280.1L423 280.3L421.7 281.6L419.9 283.2L418.6 284.5L418.2 285.5L416.7 287.1L414.2 287.7L411.9 288.4L411.4 288.3L409.5 289.2L408.2 290.3ZM445.9 313.1L448.3 313.6L450.5 313.4L450.4 314.7L449.9 316.2L448.7 316.7L447.5 316.6L446.7 315.2L446.1 313.9ZM480.7 305.3L481.9 306.1L482.7 307.1L483.3 308.3L484.2 307.9L484.7 309L486.1 309.7L487.9 309.4L487.7 310.5L487.2 311.3L486.1 311.6L485.8 312.5L484.7 313.7L483.8 314.2L483.2 313.9L483.7 313.1L483.1 312.1L482.1 311.4L483 310.6L483.1 308.9L482.7 307.9L481.6 306.8L480.7 305.5ZM480.7 312.9L482.4 313.5L482.7 314.3L481.7 315.8L480.9 316.7L479 317.6L478.4 319.4L477.2 320.3L475.4 320.4L473.3 319.9L473.1 319L474.4 317.9L475.5 317.2L478 316L479.1 314.7L479.9 313.5ZM519.5 236.5L520.8 236.7L520 236.2ZM519.6 238.5L520.8 238L521 238.8L519.9 239.5ZM518.8 236.9L519.5 237L519 237.4ZM514.9 235.6L515.4 235.4L515.2 235.8ZM628 327.9L630.4 328.9L631 330.3L629.8 330.7L627.5 330.9L625.8 330.9L624.8 330.4L626.1 329.5L626.9 328.3ZM638.2 326.2L640.4 326.3L639.9 327.1L638.3 327.3ZM621 314.5L621.5 314.6L621.6 316.3L621 316.2ZM607.6 235.8L608 235.3L609.9 234.3L611.8 234.2L613.7 234.6L615.5 235.4L617.4 236.9L620.8 238L620.5 238.3L618.6 238.3L616.1 237.4L615.5 237L614.3 236.2L611.2 235.9L609.6 235.9ZM620.6 238.3L623 238.3L625.4 238.9L627.9 240L628.2 240.4L625.4 240.4L623.6 240.6L621.7 240.2L620.7 240.1L621.5 239.6L622.6 239.3ZM616.1 240.1L618.2 240.1L618.1 240.7L616.4 240.5ZM629.5 240L631.5 240.1L631.4 240.6L629.6 240.6ZM636.2 249.6L637.3 249.5L637.2 250.5L636.2 250.4ZM616.1 229.8L616.9 230L616.4 230.2ZM616.5 231.7L617.1 232.5L616.8 232.8ZM618.4 232.8L619.1 233.5L618.6 233.7Z" fill="none" stroke="#000" stroke-width="1.1" stroke-linejoin="round"/>
<path d="M511.1 325.8L539.3 326L567.8 325.3L590.1 323.8L606.2 321.8L612.4 320.5L618.6 318.6L622.1 317.2L626.2 314.7L628.9 312.2L631.4 308.5L632.3 306.1L632.5 303.6L631.2 301.1L629.8 299.9L624.8 297.2L614.9 294.3L602.5 292.1L587.6 290.5L571.5 289.6L554.2 289.4L538.1 289.8L514.6 291.9L504.7 293.4L496 295.3L479 301.1L455.1 307.9L448.8 311L446.6 313.5L446.5 314.7L447 316L450.3 318.4L455.1 320.3L462.6 322.1L471.2 323.5L482.4 324.6L511.1 325.8M658.5 320.9L663.2 321.3L666.9 321L670.6 320.1L674.4 318.3L677 316L678.3 313.5L678.3 311L677.3 308.5L674.8 306.1L671.9 304.4L668.2 303.2L664.5 302.6L659.5 302.6L655.8 303.1L652.1 304.2L648.6 306.1L647.1 307.4L645.8 309.8L645.8 312.2L647 314.7L649.4 317.2L652.1 318.8L655.8 320.3L658.5 320.9M504.1 323.4L523.2 324.1L544.3 324.1L564.1 323.2L580.2 321.7L591.7 319.7L599.7 317.2L602.2 316L605.2 313.5L605.8 312.2L605.9 309.8L604.2 306.1L601.3 303.1L597.6 300.9L591.4 298.9L583.9 297.4L572.9 296.2L561.6 295.7L550.5 295.7L538.1 296.4L527 297.7L499.7 302.9L487.3 305.7L476.6 308.5L470.3 311L468.5 312.2L467.5 313.5L467.3 314.7L468 316L469.7 317.2L476.4 319.7L488.5 321.9L504.1 323.4M661.6 317.2L664.5 317.2L666.9 316.7L668.8 316L670.5 314.7L671.3 313.5L671.6 312.2L671.4 311L670.6 309.8L669.1 308.5L666.9 307.6L663.2 307L659.5 307.4L655.8 309.2L654.4 311L654.2 312.2L654.6 313.5L655.5 314.7L657.2 316L661.6 317.2M515.5 322.1L529.4 322.5L544.3 322.4L557.9 321.7L570.3 320.5L579 319L585.8 317.2L590.6 314.7L591.6 313.5L591.9 312.2L591.6 311L590.7 309.8L588.9 308.3L583.9 305.6L579 303.9L572.8 302.5L566.6 301.6L551.7 300.9L531.9 302.1L504.7 305.8L494.7 307.7L487 309.8L482.4 311.8L480.3 313.5L480.1 314.7L481.1 316L483.2 317.2L488.5 318.9L500.3 320.9L515.5 322.1M524.7 320.9L546.8 320.7L565.4 319L572.8 317.5L577.6 316L579.6 314.7L580.6 313.5L580.5 312.2L579.6 311L576.5 309.2L567.8 306.7L556.7 305.2L543.1 304.9L527 305.7L508.4 307.9L496 310.7L492.3 312.2L490.9 313.5L490.7 314.7L491.9 316L494.7 317.2L499.4 318.4L510.8 320L524.7 320.9M513.5 318.4L531.9 319.5L550.5 318.8L557.9 318L564.1 316.7L566.8 316L569.3 314.7L570.2 313.5L569.7 312.2L567.8 311L561.6 309.2L551.7 307.8L540.6 307.5L527 308L514.6 309.4L506.3 311L502.8 312.2L501 313.5L500.8 314.7L502.4 316L506.2 317.2L513.5 318.4M521.7 317.2L534.4 317.7L546.8 317.2L554.6 316L558 314.7L558.9 313.5L557.6 312.2L553.6 311L546.8 310.1L538.1 309.8L529.4 310.1L520.2 311L514.6 312.2L512 313.5L511.9 314.7L514.6 316L521.7 317.2M532.4 313.5L534.4 314.2L535.6 314.2L538.3 313.5L532.4 313.5" fill="none" stroke="#000" stroke-width="0.85"/><path d="M527 372.8L525.9 372.7L524.8 372.6M521.3 372.3L520.2 372.2L518.8 372.1L517.4 372L516.3 371.9M512.7 371.6L511.7 371.5L510.6 371.4L509.2 371.1L507.8 370.9L507.5 370.9M504.3 370.4L503.3 370.2L501.9 370L500.5 369.7L499.1 369.5M495.6 368.9L494.6 368.6L493.2 368.3L491.8 367.9L490.8 367.6L490.4 367.4M487.1 366.1L486.1 365.7L485.1 365.4L483.8 364.5L482.9 363.8L482.1 362.9L481.8 361.6L481.9 361.2M482.1 360.4L482.9 359.5L483.9 358.8L485.2 358.1L486.5 357.4L487.1 357.1M490.5 355.9L491.5 355.6L492.9 355.2L494.2 354.8L495.6 354.4M498.8 353.8L499.9 353.6L501.3 353.3L502.7 353L503.8 352.9L504.2 352.8M507.7 352.3L508.8 352.2L510.2 352L511.7 351.8L512.7 351.7M516.2 351.4L517.3 351.3L518.7 351.2L520.1 351.1L521.5 350.9M524.7 350.7L525.7 350.6L526.8 350.5L528.2 350.5L529.6 350.5L530 350.5M533.5 350.4L534.6 350.3L536 350.3L537.4 350.3L538.5 350.2M542 350.1L543.1 350.1L544.5 350.1L545.5 350L546.9 350.1L547.3 350.1M550.5 350.2L551.5 350.2L553 350.2L554.4 350.3L555.8 350.3M559.3 350.4L560.4 350.4L561.8 350.5L563.2 350.5L564.3 350.5M567.8 350.8L568.9 350.9L570.3 351L571.7 351.1L573.1 351.2M576.2 351.5L577.3 351.6L578.7 351.7L579.7 351.8L581.2 352L581.5 352.1M585.1 352.6L586.2 352.7L587.6 352.9L588.7 353.1L590.1 353.3M593.7 354L594.8 354.2L595.8 354.5L597.2 354.9L598.5 355.3L598.9 355.4M602.3 356.4L603.3 356.7L604.3 357.2L605.6 357.9L606.9 358.7L607.5 359M609.3 361.6L609.3 361.6L609.2 362.1L609.1 362.5L609 362.9M607.5 364.3L606.6 364.8L605.3 365.5L604 366.2L603 366.7L602.3 366.9M598.9 367.9L597.8 368.2L596.5 368.6L595.1 369L594.1 369.2L593.7 369.2M590.2 369.8L589.2 370L587.8 370.2L586.4 370.4L585 370.7M581.5 371.3L580.7 371.3L579.3 371.5L577.9 371.6L576.5 371.7M573 372L571.9 372.1L570.5 372.3L569.1 372.4L567.7 372.5M564.4 372.7L563.4 372.8L561.9 372.8L560.5 372.9L559 373M555.8 373.1L555.1 373.1L553.6 373.1L552.2 373.2L550.8 373.2L550.4 373.2M547.2 373.2L546.1 373.2L544.7 373.2L543.2 373.2L541.8 373.2L541.8 373.2M538.6 373.1L537.6 373.1L536.2 373.1L534.7 373L533.3 373M530.1 372.9L529.1 372.9L527.7 372.8L527 372.8M527 377.7L525.9 377.7L524.8 377.6M521.3 377.4L520.3 377.3L518.9 377.3L517.5 377.2L516.1 377.1M512.9 376.9L511.9 376.8L510.5 376.8L509.1 376.7L508 376.6L507.7 376.6M504.2 376.2L503.1 376.1L501.7 375.9L500.3 375.8L498.9 375.7M495.8 375.3L494.7 375.2L493.7 375.1L492.3 374.9L490.9 374.7L490.5 374.6M487.1 374.1L486 374L485 373.8L483.6 373.5L482.2 373.2L481.9 373.2M478.4 372.5L477.3 372.3L476 372L474.6 371.7L473.5 371.5L473.2 371.4M469.7 370.4L468.6 370.1L467.2 369.7L465.8 369.3L464.8 368.9L464.5 368.8M461.3 367.3L460.3 366.9L459.4 366.4L458.2 365.5L457.1 364.6L456.4 363.8L455.9 362.7M456 360.1L456.7 359.3L457.6 358.2L458.5 357.5L459.7 356.7L460.6 356.3L461.3 356M464.5 354.5L465.1 354.2L466.5 353.8L467.9 353.4L469.3 353L469.7 352.9M473.2 351.9L473.9 351.7L475.3 351.4L476.7 351.2L478 350.9L478.4 350.8M481.9 350.1L482.9 349.9L484.3 349.6L485.7 349.4L486.7 349.2L487.1 349.2M490.3 348.8L491.4 348.6L492.8 348.4L494.2 348.2L495.6 348.1M498.8 347.7L499.9 347.5L500.9 347.4L502.4 347.3L503.8 347.1L504.1 347.1M507.7 346.8L508.7 346.7L510.1 346.6L511.6 346.5L513 346.4M516.2 346.1L517.2 346.1L518.6 346L520 345.9L521.4 345.9M524.9 345.7L526 345.7L527.4 345.6L528.8 345.5L530.2 345.5M533.3 345.4L534.4 345.4L535.8 345.4L537.2 345.3L538.6 345.3M541.8 345.3L542.9 345.3L544.3 345.3L545.7 345.3L547.1 345.3M550.6 345.3L551.7 345.3L553.1 345.3L554.5 345.4L555.9 345.4M559 345.5L560.1 345.5L561.5 345.5L562.9 345.5L564.3 345.6M567.8 345.8L568.9 345.8L570.3 345.9L571.7 346L573.1 346.1M576.2 346.3L577.3 346.4L578.7 346.4L580.1 346.5L581.5 346.6M585 346.9L586.1 347L587.5 347.1L588.9 347.3L590.3 347.4M593.5 347.8L594.6 347.9L596 348L597 348.2L598.4 348.4L598.8 348.4M602.2 349L603.3 349.2L604.7 349.4L606 349.6L607.4 349.8M610.9 350.4L611.9 350.5L612.9 350.8L614.3 351.1L615.7 351.4L616 351.5M619.4 352.3L620.4 352.6L621.8 352.9L622.8 353.3L624.2 353.7L624.5 353.9M628 355.1L629 355.5L629.9 356L631.1 356.7L632.3 357.4L633.3 357.9M634.7 359.5L635.1 360.6L635.6 361.6L635.4 362M633.3 365.4L632.6 365.7L631.4 366.4L630.1 367.1L628.8 367.8L627.8 368.2M624.7 369.2L623.7 369.6L622.3 370L621 370.4L619.6 370.9L619.3 371M616.1 371.8L615.1 372L613.7 372.3L612.3 372.6L610.9 372.8M607.4 373.5L606.4 373.7L605 374L603.9 374.1L602.5 374.3L602.2 374.3M598.7 374.8L597.6 374.9L596.2 375.1L594.8 375.2L593.4 375.4M590.3 375.8L589.2 375.9L587.8 376.1L586.4 376.3L585 376.4M581.5 376.7L580.4 376.7L579 376.8L577.6 376.9L576.5 377M573 377.2L571.9 377.3L570.5 377.4L569.1 377.5L567.7 377.6M564.5 377.7L563.4 377.7L562 377.7L560.6 377.8L559.2 377.8M556 377.9L554.9 377.9L553.5 377.9L552.1 378L550.7 378M547.1 378.1L546.4 378.1L545 378.1L543.6 378L542.2 378L541.8 378M538.6 377.9L537.6 377.9L536.2 377.9L534.7 377.9L533.3 377.9M530.1 377.8L529.1 377.8L527.7 377.8L527 377.7M500.5 378.9L500.2 378.9L499.8 378.9L499.5 378.8L499.1 378.8M495.6 378.4L494.5 378.3L493.1 378.2L491.7 378L490.2 377.9M487.1 377.5L486 377.4L484.6 377.2L483.3 377L481.9 376.8M478.4 376.3L477.4 376.1L476 375.9L474.9 375.8L473.5 375.5L473.2 375.4M469.7 374.8L468.6 374.6L467.2 374.3L465.8 374.1L464.8 373.8L464.5 373.7M461.3 372.9L460.3 372.7L458.9 372.3L457.5 372L456.2 371.6L455.8 371.5M452.7 370.4L451.7 370L450.3 369.6L448.9 369.1L448 368.5L447.3 368.2M444.1 366.3L443.3 365.6L442.2 364.6L441.4 363.7L441 362.5L441 361.1L441 360.4M442.7 358L443 357.7L443.4 357.5L443.7 357.2L444 357M447.3 355.1L448.3 354.6L449.3 354.1L450.7 353.7L452 353.2L452.7 353M456.1 351.9L457.2 351.5L458.5 351.1L459.9 350.6L460.9 350.4L461.3 350.3M464.4 349.6L465.5 349.4L466.9 349.1L468.2 348.8L469.6 348.5L470 348.4M473.1 347.9L474.2 347.7L475.6 347.5L477 347.3L478.4 347.1M481.8 346.6L482.9 346.4L484.3 346.2L485.7 346L487.1 345.8M490.2 345.4L491.3 345.3L492.7 345.2L494.1 345.1L495.5 344.9M499 344.6L500.1 344.5L501.5 344.3L502.9 344.2L504.3 344.1M507.5 343.9L508.5 343.8L509.9 343.7L511.3 343.6L512.7 343.6M516.2 343.4L517.3 343.3L518.7 343.2L520.1 343.1L521.5 343.1M524.6 342.9L525.7 342.9L527.1 342.9L528.5 342.9L530 342.8M533.5 342.8L534.6 342.7L536 342.7L537.4 342.7L538.5 342.7M542 342.6L543.1 342.6L544.5 342.5L545.5 342.5L546.9 342.6L547.3 342.6M550.4 342.6L551.5 342.6L552.9 342.7L554.3 342.7L555.7 342.7M559.2 342.8L560.3 342.8L561.7 342.8L563.1 342.8L564.5 342.9M567.7 343L568.7 343L570.1 343.1L571.5 343.2L573 343.3M576.5 343.5L577.6 343.5L579 343.6L580.4 343.7L581.5 343.8M585 344L586.1 344L587.1 344.1L588.5 344.2L589.9 344.4L590.3 344.4M593.4 344.7L594.5 344.8L595.9 345L597.3 345.1L598.7 345.2M602.2 345.6L602.9 345.6L604.3 345.9L605.7 346.1L607.1 346.3L607.5 346.3M610.6 346.8L611.7 346.9L613.1 347.1L614.5 347.3L615.9 347.6L616.2 347.6M619.3 348.1L620 348.2L621.4 348.5L622.8 348.8L624.2 349.1L624.6 349.2M628 349.9L629.1 350.2L630.5 350.5L631.5 350.8L632.9 351.2L633.2 351.3M636.6 352.4L637.7 352.8L639 353.2L640.4 353.7L641.8 354.1M645.1 355.8L646.1 356.4L647.1 357L648.3 358L649 358.9L649.6 359.8M650.1 362.9L649.6 363.7L648.9 364.6L647.8 365.6L646.7 366.6L645.7 367.1L645.1 367.5M641.8 369.2L640.7 369.6L639.4 370L638 370.5L636.6 371M633.2 372.1L632.1 372.3L630.8 372.7L629.4 373L628 373.4M624.5 374.2L623.5 374.4L622.1 374.7L620.7 374.9L619.3 375.2M616.1 375.8L615.4 375.9L614.1 376.1L612.7 376.3L611.3 376.5L610.9 376.5M607.5 377L606.4 377.2L605 377.4L603.6 377.6L602.6 377.7L602.2 377.7M598.7 378.1L597.6 378.2L596.2 378.4L594.8 378.5L593.7 378.6M478.1 378.9L477.1 378.8L475.7 378.5L474.3 378.3L473.3 378.1M469.8 377.5L468.8 377.4L467.4 377.1L466 376.9L464.6 376.6M461.1 376.1L460.1 375.9L458.7 375.6L457.3 375.4L456.3 375.2L455.9 375.1M452.5 374.3L451.4 374L450 373.6L448.7 373.3L447.3 372.9M443.9 371.8L442.8 371.5L441.5 371L440.1 370.5L439.1 370.1L438.8 370M435.4 368.3L434.4 367.8L433.5 367.2L432.3 366.3L431.2 365.4M430 363.5L429.6 362.9L429.6 361.5L429.6 360.4L430.4 359.2L430.8 358.6M431.2 357.9L432 357.2L432.9 356.5L434.1 355.9L435.4 355.2M438.8 353.3L439.5 353L440.8 352.6L442.2 352.1L443.6 351.7L443.9 351.6M447.3 350.5L448.3 350.2L449.7 349.7L451.1 349.3L452.1 349.1L452.8 348.9M455.9 348.3L456.9 348.1L458.3 347.8L459.7 347.5L461.1 347.2M464.5 346.5L465.6 346.3L466.6 346.1L468 345.9L469.4 345.7L469.7 345.7M473.2 345.2L474.2 345L475.6 344.8L477 344.6L478.4 344.4M481.9 344L482.9 343.8L483.9 343.7L485.4 343.5L486.8 343.4L487.1 343.4M490.3 343.1L491.4 343L492.8 342.8L494.2 342.7L495.6 342.6M498.8 342.3L499.9 342.2L501.3 342.1L502.7 341.9L503.8 341.9L504.1 341.8M507.6 341.7L508.7 341.6L510.1 341.5L511.5 341.5L512.9 341.4M516.1 341.2L517.1 341.2L518.5 341.1L519.9 341L521.3 340.9M524.8 340.8L525.9 340.8L527.3 340.7L528.7 340.7L530.1 340.7M533.2 340.6L534.3 340.6L535.7 340.6L537.1 340.6L538.5 340.5M542 340.5L543.1 340.5L544.5 340.4L545.5 340.4L546.9 340.5L547.3 340.5M550.4 340.5L551.5 340.5L552.9 340.6L554.3 340.6L555.7 340.6M559.2 340.7L560.3 340.7L561.7 340.7L563.1 340.7L564.5 340.7M567.6 340.8L568.7 340.9L570.1 341L571.5 341L572.9 341.1M576.4 341.3L577.5 341.3L578.9 341.4L580.3 341.5L581.7 341.6M584.8 341.7L585.9 341.8L587.3 341.9L588.3 341.9L589.7 342.1L590.1 342.1M593.6 342.4L594.7 342.5L596.1 342.6L597.5 342.8L599 342.9M602.2 343.2L603.2 343.3L604.6 343.4L606.1 343.6L607.5 343.7L607.5 343.7M610.9 344.2L612 344.3L613.4 344.5L614.8 344.7L616.1 344.9M619.3 345.4L620.3 345.5L621.7 345.7L623.1 345.9L624.5 346.1M627.9 346.8L629 347L630.3 347.3L631.7 347.6L633.1 347.9M636.5 348.6L637.6 348.8L639 349.1L640 349.3L641.4 349.7L641.7 349.8M645.1 350.9L646.1 351.3L647.5 351.7L648.9 352.1L650.2 352.6L650.6 352.7M653.8 354.2L654.7 354.7L656 355.4L657.2 356L658.5 356.7L659 357.2M660.5 358.9L661.1 359.8L661.5 360.8L661.5 362.2L661.3 363.2L661.1 363.5M659 366L658.1 366.7L656.9 367.6L656 368.1L654.8 368.8L653.8 369.2M650.6 370.6L649.6 371L648.2 371.5L646.9 371.9L645.5 372.4L645.2 372.5M641.7 373.5L640.7 373.7L639.3 374.1L637.9 374.4L636.5 374.8M633.4 375.5L632.3 375.6L631 375.9L629.6 376.1L628.2 376.4L627.8 376.4M624.7 376.9L623.7 377.1L622.3 377.4L620.9 377.6L619.5 377.8M616 378.4L615 378.6L613.6 378.8L612.9 378.9M461.2 378.7L460.1 378.5L458.7 378.2L457.3 378L455.9 377.7M452.5 377L451.4 376.8L450 376.5L448.6 376.2L447.2 375.9M444.1 375.3L443.4 375.1L442 374.7L440.6 374.3L439.3 374L438.9 373.9M435.5 372.9L434.8 372.6L433.4 372.1L432.1 371.6L430.7 371.1L430 370.8M426.7 369.2L425.7 368.7L424.4 368L423.6 367.4L422.5 366.5L421.7 365.8M421.1 365.4L420.6 364.4L419.8 363.2L419.7 362.2L419.7 361.1M421.4 357.8L422.2 357L423 356.3L424.3 355.5L425.6 354.7L426.5 354.1L426.8 354M430.2 352.6L431.1 352.2L432.5 351.6L433.8 351.1L435.1 350.5L435.5 350.4M438.9 349.5L439.9 349.2L441.3 348.9L442.7 348.5L444.1 348.1M447.5 347.2L448.6 346.9L449.6 346.7L451 346.5L452.4 346.2L452.8 346.1M455.9 345.5L457 345.3L458.4 345.1L459.8 344.8L461.2 344.6M464.7 344L465.7 343.9L467.1 343.7L468.5 343.5L469.9 343.3M473 342.9L474.1 342.8L475.5 342.6L476.9 342.4L478.3 342.2M481.8 341.8L482.8 341.7L484.3 341.6L485.7 341.5L487.1 341.3M490.3 341L491.4 341L492.8 340.8L494.2 340.7L495.6 340.6M498.8 340.3L499.9 340.2L500.9 340.1L502.4 340L503.8 340L504.1 339.9M507.7 339.8L508.7 339.7L510.1 339.6L511.6 339.6L513 339.5M516.2 339.3L517.2 339.3L518.6 339.2L520 339.1L521.5 339.1M524.6 339L525.7 338.9L527.1 338.9L528.5 338.9L530 338.9M533.5 338.8L534.6 338.8L536 338.8L537.4 338.8L538.5 338.7M542 338.7L543.1 338.7L544.5 338.6L545.5 338.6L546.9 338.6L547.3 338.7M550.5 338.7L551.5 338.7L553 338.7L554.4 338.8L555.8 338.8M559.3 338.8L560.4 338.9L561.8 338.9L563.2 338.9L564.3 338.9M567.8 339L568.5 339L570 339.1L571.4 339.2L572.8 339.2L573.1 339.3M576.3 339.4L577.4 339.5L578.8 339.5L580.2 339.6L581.6 339.7M584.8 339.8L585.9 339.9L587.3 340L588.7 340L590.1 340.1L590.1 340.1M593.7 340.4L594.7 340.5L596.2 340.6L597.6 340.8L599 340.9M602.2 341.2L603.2 341.3L604.7 341.4L606.1 341.5L607.5 341.6M610.7 341.9L611.7 342.1L613.1 342.3L614.5 342.4L615.9 342.6M619.4 343.1L620.5 343.2L621.9 343.4L623.3 343.6L624.6 343.8M628.1 344.3L628.8 344.4L630.2 344.6L631.6 344.9L633 345.1L633.4 345.2M636.5 345.8L637.6 346L639 346.3L640.4 346.5L641.8 346.8M645.3 347.7L646.3 348L647.7 348.3L649 348.7L650.4 349.1M653.9 350L654.9 350.3L655.9 350.5L657.3 351.1L658.6 351.6L658.9 351.8M662.2 353.1L663.2 353.6L664.6 354.1L665.5 354.7L666.8 355.5L667.7 356.1M671.4 360.4L671.4 361.1L671.4 362.5L671 363.5L670.3 364.7L669.9 365.4M667.8 367.2L667 367.8L666 368.4L664.7 369.1L663.4 369.8L662.4 370.3M659 371.6L658 372L656.6 372.5L655.6 372.9L654.2 373.3L653.9 373.4M650.4 374.3L649.4 374.6L648 375L647 375.3L645.6 375.6L645.2 375.7M641.8 376.4L640.7 376.6L639.3 376.8L637.9 377.1L636.5 377.4M633.4 378L632.3 378.2L630.9 378.5L629.5 378.8L628.8 378.9M448.8 378.9L448.5 378.9L448.1 378.8L447.8 378.7L447.4 378.6M444 377.8L442.9 377.6L441.5 377.3L440.2 377L438.8 376.7M435.3 375.9L434.2 375.6L432.9 375.3L431.8 375L430.5 374.6L430.1 374.5M426.7 373.4L425.7 373.1L424.7 372.8L423.4 372.2L422.1 371.7L421.4 371.4M418.2 369.9L417.3 369.4L416.1 368.7L414.8 368L414 367.3L412.9 366.3M410.4 362.5L410.4 361.5L410.4 360.4L410.9 359.2M413 356.7L413.6 356.3L414.7 355.5L415.9 354.7L416.8 354.1L418.1 353.5M421.4 352L422.4 351.6L423.7 351L424.7 350.5L426.1 350.1L426.7 349.9M430.1 348.9L431.1 348.6L432.5 348.2L433.9 347.8L435.2 347.4L435.6 347.3M438.6 346.6L439.7 346.3L441.1 346.1L442.4 345.8L443.8 345.5L444.2 345.5M447.3 344.8L448.3 344.6L449.7 344.4L451.1 344.1L452.5 343.8M455.9 343.1L456.6 343L458 342.8L459.4 342.7L460.8 342.5L461.2 342.4M464.7 342L465.7 341.8L467.1 341.6L468.5 341.5L469.9 341.3M473 340.8L474.1 340.7L475.5 340.5L476.5 340.4L477.9 340.3L478.3 340.2M481.8 339.9L482.9 339.8L484.3 339.7L485.7 339.6L487.1 339.5M490.3 339.2L491.4 339.1L492.8 339L494.2 338.8L495.6 338.7M498.8 338.5L499.9 338.4L501.3 338.3L502.7 338.3L504.1 338.2M507.7 338L508.7 338L510.1 337.9L511.6 337.8L513 337.8M516.2 337.6L517.2 337.6L518.6 337.5L520 337.4L521.5 337.4M524.6 337.3L525.7 337.2L527.1 337.2L528.5 337.2L530 337.2M533.5 337.1L534.6 337.1L536 337.1L537.4 337.1L538.5 337.1M542 337L543.1 337L544.5 337L545.9 337L547.3 337M550.5 337L551.5 337L553 337L554.4 337.1L555.8 337.1M559.3 337.2L560.4 337.2L561.8 337.2L563.2 337.2L564.3 337.3M567.8 337.3L568.9 337.4L570.3 337.4L571.7 337.4L572.8 337.4L573.1 337.5M576.3 337.6L577.4 337.7L578.8 337.8L580.2 337.9L581.6 337.9M584.8 338.1L585.9 338.2L587.3 338.3L588.7 338.3L590.1 338.4M593.7 338.6L594.7 338.7L596.1 338.8L597.6 338.8L598.6 338.9L599 339M602.1 339.3L603.1 339.4L604.5 339.5L605.9 339.6L607.3 339.8M610.8 340.1L611.8 340.2L613.2 340.4L614.6 340.5L616 340.6M619.5 341L620.2 341L621.6 341.3L623 341.5L624.4 341.7L624.7 341.7M627.9 342.2L628.9 342.3L630.3 342.5L631.7 342.7L633.1 342.9M636.5 343.4L637.6 343.6L639 343.8L640 344L641.4 344.3L641.8 344.4M645.2 345.1L646.3 345.3L647.7 345.6L649 345.9L650.4 346.2M653.9 347L654.9 347.2L656.3 347.5L657.4 347.8L658.7 348.2L659 348.3M662.4 349.4L663.4 349.8L664.8 350.2L666.2 350.7L667.5 351.1M670.8 352.4L671.8 352.9L673 353.6L674.3 354.3L675.6 355L676.2 355.3M679.3 357.9L679.5 358.3L679.6 358.6L679.8 358.9L680 359.2M680.6 363.1L680 364.1L679.3 365.4M676.2 368L675.2 368.5L674 369.2L672.7 369.8L671.4 370.5L670.8 370.9M667.5 372.2L666.5 372.5L665.2 373L663.9 373.4L662.5 373.9L662.2 374M658.9 375.1L658.2 375.3L656.8 375.6L655.4 375.9L654 376.3L653.7 376.3M650.6 377L649.5 377.3L648.1 377.6L646.7 377.9L645.4 378.2L645 378.3M435.5 378.7L434.5 378.4L433.1 378L431.8 377.7L430.4 377.3L430.1 377.2M427 376.4L426 376.2L424.6 375.8L423.3 375.5L421.9 375.1L421.6 375M418.1 374L417.1 373.6L415.7 373.1L414.4 372.6L413 372.1L413 372.1M409.7 370.5L408.7 370L407.7 369.4L406.6 368.6L405.5 367.8L404.3 367M401.8 364.1L401.7 363.8L401.6 363.4L401.6 363.1L401.5 362.7M401.7 359.5L401.8 359.2M404.3 356.3L405.2 355.6L406.4 354.7L407.3 354.1L408.6 353.5L409.5 353M413 351.3L414 350.8L415 350.4L416.3 350L417.7 349.6L418.3 349.3M421.7 348.2L422.7 347.9L424.1 347.5L425.4 347L426.5 346.8L426.8 346.7M430.3 345.9L431.4 345.7L432.8 345.3L434.1 345L435.5 344.7M438.7 344L439.7 343.8L441.1 343.4L442.2 343.3L443.6 343L443.9 343M447.4 342.4L448.5 342.2L449.9 342L451.3 341.8L452.7 341.6M455.9 341.1L456.9 340.9L458.3 340.7L459.7 340.4L460.8 340.3L461.1 340.3M464.7 339.9L465.7 339.8L467.1 339.6L468.6 339.4L470 339.3M473.2 338.9L474.2 338.8L475.6 338.6L477 338.5L478.5 338.3M481.6 338L482.7 337.9L484.1 337.8L485.5 337.7L487 337.6M490.5 337.4L491.6 337.3L493 337.2L494.4 337.1L495.5 337M499 336.7L500.1 336.7L501.5 336.6L502.5 336.5L503.9 336.4L504.3 336.4M507.4 336.3L508.5 336.2L509.9 336.2L511.3 336.1L512.7 336.1M516.2 335.9L517.3 335.9L518.7 335.8L520.1 335.8L521.5 335.7M524.7 335.6L525.7 335.5L526.8 335.5L528.2 335.5L529.6 335.5L530 335.5M533.5 335.5L534.6 335.5L536 335.5L537.4 335.4L538.5 335.4M542 335.4L543.1 335.4L544.5 335.4L545.9 335.4L547.3 335.3M550.5 335.3L551.2 335.3L552.6 335.4L554 335.4L555.4 335.4L555.8 335.4M559.3 335.5L560.3 335.5L561.7 335.5L563.1 335.6L564.5 335.6M567.7 335.7L568.8 335.7L570.2 335.7L571.6 335.8L573 335.8M576.5 335.9L577.5 336L578.9 336.1L580.3 336.1L581.8 336.2M584.9 336.4L586 336.4L587.4 336.5L588.8 336.6L590.2 336.7M593.7 336.8L594.7 336.9L596.2 337L597.6 337L598.6 337.1L599 337.2M602.1 337.4L603.2 337.5L604.6 337.7L606 337.8L607.4 337.9M610.9 338.2L611.9 338.3L613.4 338.4L614.8 338.6L616.2 338.7M619.3 339L620.4 339.1L621.7 339.3L623.1 339.5L624.5 339.7M628 340.1L629 340.2L630.4 340.4L631.8 340.6L633.2 340.8M636.7 341.2L637.7 341.4L638.8 341.5L640.2 341.8L641.6 342L641.9 342.1M645 342.7L646.1 342.9L647.5 343.1L648.8 343.4L650.2 343.6L650.6 343.7M653.7 344.2L654.7 344.4L655.8 344.6L657.2 345L658.5 345.3L658.9 345.4M662.3 346.3L663.4 346.6L664.8 346.9L666.1 347.3L667.5 347.6M670.9 348.7L671.9 349.1L673.2 349.6L674.6 350.1L675.9 350.6L676.2 350.7M679.6 352L679.9 352.1L680.2 352.2L680.6 352.3M680.6 371L680.2 371.1L679.9 371.2L679.6 371.3M676.2 372.6L675.2 373L673.9 373.5L672.6 374L671.3 374.5L670.9 374.6M667.5 375.7L666.5 375.9L665.2 376.3L663.8 376.6L662.4 377M659 377.8L658 378.1L656.6 378.4L655.2 378.8L654.5 378.9M424.3 378.9L423.3 378.7L421.9 378.3L421.5 378.2M418.1 377.3L417 377L415.6 376.7L414.6 376.4L413.2 375.9L412.9 375.8M409.5 374.7L408.5 374.3L407.4 374L406.1 373.5L404.8 372.9L404.5 372.8M401 371.2L400 370.6L398.8 369.9L397.5 369.2L396.7 368.6L395.8 367.9M393.3 365.4L392.6 364.4L392.2 363.4L391.9 362L391.9 360.8L391.9 360.4M395.9 355.3L396.8 354.7L398 353.8L399.3 353L400.2 352.6L400.9 352.3M404.5 350.6L405.5 350.2L406.8 349.6L407.8 349.2L409.1 348.8L409.5 348.7M412.9 347.6L413.9 347.3L415.3 346.9L416.6 346.4L418 346L418.3 345.9M421.4 345.1L422.4 344.9L423.8 344.6L425.2 344.3L426.5 344L426.9 343.9M430.3 343.1L431.3 342.9L432.7 342.6L434 342.3L435.1 342.1L435.4 342.1M438.6 341.6L439.7 341.4L441.1 341.2L442.5 340.9L443.9 340.7M447.4 340.1L448.4 339.9L449.8 339.7L451.2 339.5L452.6 339.3L452.6 339.3M456.1 338.8L457.2 338.7L458.6 338.6L460 338.4L461.4 338.2M464.5 337.8L465.6 337.7L467 337.6L468.4 337.4L469.8 337.2M473.3 336.9L474.4 336.8L475.8 336.7L477.2 336.6L478.3 336.5M481.8 336.2L482.9 336.1L484.3 336L485.7 335.9L487.1 335.7M490.3 335.5L491.4 335.4L492.8 335.3L493.9 335.2L495.3 335.1L495.6 335.1M498.8 335L499.9 334.9L501.3 334.8L502.7 334.8L504.1 334.7M507.7 334.5L508.7 334.5L510.1 334.4L511.6 334.3L513 334.3M516.2 334.1L517.2 334.1L518.6 334.1L520 334.1L521.5 334M524.6 334L525.7 333.9L527.1 333.9L528.5 333.9L530 333.9M533.5 333.8L534.6 333.8L536 333.7L537.4 333.7L538.5 333.7M542 333.7L543.1 333.7L544.5 333.7L545.9 333.7L547.3 333.7M550.5 333.7L551.5 333.7L553 333.7L554.4 333.8L555.8 333.8M559.3 333.8L560.4 333.8L561.8 333.8L563.2 333.8L564.3 333.8M567.8 333.9L568.9 334L570.3 334L571.7 334.1L573.1 334.1M576.2 334.2L577.3 334.3L578.7 334.3L580.1 334.4L581.5 334.4M585 334.6L586.1 334.6L587.5 334.7L588.9 334.7L589.9 334.8L590.3 334.8M593.5 335L594.6 335.1L596 335.2L597.4 335.3L598.8 335.4M602.3 335.6L603.4 335.7L604.8 335.8L606.2 335.9L607.3 336M610.8 336.2L611.5 336.3L612.9 336.4L614.3 336.6L615.7 336.7L616.1 336.8M619.3 337.1L620.3 337.2L621.7 337.3L623.1 337.5L624.5 337.6M628 338L629.1 338.1L630.5 338.3L631.9 338.4L632.9 338.5L633.3 338.6M636.5 339.1L637.5 339.2L638.9 339.4L640.3 339.6L641.7 339.8M645.2 340.3L646.3 340.5L647.7 340.7L649.1 340.9L650.5 341.1M653.6 341.7L654.7 341.9L656.1 342.2L657.5 342.5L658.9 342.8M662.4 343.5L663.4 343.7L664.8 344L666.2 344.3L667.3 344.5L667.6 344.6M671 345.6L672 345.8L673.4 346.2L674.8 346.6L676.1 347M679.5 347.9L679.9 348L680.2 348.1L680.6 348.2M680.6 375.1L680.2 375.2L679.9 375.3L679.5 375.4M676.2 376.3L675.2 376.6L673.8 377L672.5 377.3L671.1 377.7M667.7 378.7L667.4 378.8L667.1 378.8L666.7 378.9M409.6 378.4L408.6 378.1L407.2 377.8L405.9 377.4L404.5 377M401.1 375.9L400 375.5L398.7 375L397.3 374.5L395.9 374L395.9 374M392.5 372.5L391.5 372L390.5 371.5L389.3 370.8L388 370L387.1 369.4M383.9 366.8L383.6 366.6L383.6 366.6L383.4 366.3M381.6 363.3L381.5 362.5L381.5 361.1L381.7 360.1L382.3 358.7L382.5 358.3M382.6 357.9L382.9 357.7L383.1 357.4L383.4 357.2L383.7 356.9L383.9 356.6M387.2 353.9L388.1 353.3L389.3 352.5L390.5 351.8L391.5 351.3L392.5 350.8M395.9 349.3L396.6 349.1L397.9 348.6L399.3 348.1L400.6 347.6L401 347.5M404.3 346.3L405 346.2L406.4 345.8L407.8 345.4L409.2 345L409.5 344.9M413 343.9L413.7 343.8L415.1 343.5L416.5 343.2L417.9 342.8L418.2 342.8M421.7 342L422.7 341.8L424.1 341.4L425.2 341.3L426.6 341L426.9 341M430 340.5L431.1 340.3L432.5 340.1L433.8 339.9L435.2 339.6L435.6 339.6M438.7 339.1L439.7 338.9L441.1 338.7L442.5 338.5L443.9 338.2M447.4 337.7L448.4 337.5L449.8 337.3L450.9 337.1L452.3 337L452.6 337M456.1 336.6L457.2 336.5L458.6 336.3L460 336.2L461.1 336.1M464.6 335.7L465.6 335.6L467 335.5L468.4 335.3L469.8 335.2M473 334.9L474.1 334.7L475.5 334.6L476.9 334.5L478.3 334.3M481.8 334.1L482.9 334L484.3 333.9L485.7 333.9L487.1 333.8M490.2 333.6L491.3 333.5L492.7 333.4L494.1 333.4L495.5 333.3M499 333.1L500.1 333L501.5 332.9L502.9 332.9L504.3 332.8M507.5 332.6L508.5 332.6L509.9 332.5L511.4 332.5L512.8 332.5M516.3 332.4L517.3 332.4L518.8 332.4L520.2 332.3L521.6 332.3M524.7 332.3L525.8 332.2L527.2 332.2L528.6 332.2L530 332.1M533.5 332.1L534.6 332.1L536 332L537.4 332L538.5 332M542 331.9L543.1 331.9L544.1 331.9L545.5 331.9L546.9 331.9L547.3 331.9M550.4 332L551.5 332L552.9 332L554.3 332L555.7 332M559.2 332.1L560.2 332.1L561.6 332.1L563 332.1L564.4 332.2M567.9 332.2L569 332.2L570.4 332.2L571.8 332.2L573.2 332.3M576.3 332.3L577.4 332.3L578.4 332.4L579.8 332.4L581.2 332.5L581.6 332.5M585.1 332.7L586.1 332.8L587.5 332.8L588.9 332.9L590.3 333M593.5 333.1L594.5 333.2L595.9 333.3L597.3 333.3L598.7 333.4M602.2 333.6L603.3 333.6L604.7 333.7L606.1 333.8L607.5 333.9L607.5 333.9M610.6 334.2L611.7 334.3L613.1 334.4L614.5 334.5L615.9 334.7M619.3 335L620.4 335.1L621.8 335.2L623.2 335.4L624.6 335.5M628.1 335.8L629.1 335.9L630.5 336L631.9 336.2L633.3 336.3M636.5 336.7L637.5 336.9L638.9 337.1L640.3 337.3L641.7 337.5M645.2 338L646.2 338.1L647.6 338.3L649 338.5L650.4 338.7M653.9 339.2L655 339.4L656.4 339.6L657.8 339.8L659.1 340M662.3 340.6L663.3 340.9L664.7 341.2L666.1 341.5L667.4 341.8L667.8 341.8M670.9 342.5L671.9 342.7L673.3 343L674.7 343.3L676.1 343.6M679.5 344.4L679.9 344.4L680.2 344.5L680.6 344.6M680.6 378.7L680.1 378.8L679.7 378.9M392.4 377.8L391.4 377.4L390.1 376.9L388.7 376.5L387.4 376L387.1 375.9M383.7 374.7L382.7 374.3L381.7 373.9L380.4 373.3L379.1 372.6L378.5 372.3M375.1 370.4L374.2 369.8L373.3 369.2M373.3 354.1L374.3 353.5L375.2 353M378.6 351L379.5 350.5L380.8 349.8L381.8 349.4L383.1 348.9L383.8 348.6M387.1 347.3L388 347L389.4 346.4L390.7 345.9L391.7 345.6L392.4 345.4M395.8 344.5L396.9 344.2L398.3 343.8L399.6 343.4L401 343M404.5 342.1L405.5 341.9L406.9 341.6L408.3 341.3L409.6 341M413.1 340.2L414.1 340L415.5 339.7L416.9 339.4L417.9 339.2L418.3 339.1M421.4 338.6L422.4 338.4L423.8 338.2L425.2 338L426.6 337.7L427 337.7M430.1 337.2L431.1 337L432.5 336.8L433.9 336.5L435.3 336.3L435.3 336.3M438.8 335.9L439.8 335.7L441.2 335.5L442.6 335.4L444 335.2M447.2 334.8L448.3 334.7L449.7 334.5L451.1 334.3L452.5 334.1M456 333.8L457 333.7L458.5 333.5L459.9 333.4L461.3 333.3M464.5 333L465.5 332.9L467 332.7L468.4 332.6L469.8 332.5M473.3 332.2L474.4 332.1L475.8 332.1L477.2 332L478.6 331.9M481.7 331.7L482.8 331.6L484.2 331.5L485.6 331.5L487 331.4M490.5 331.2L491.6 331.1L492.6 331L494 331L495.5 331M499 330.8L500.1 330.8L501.5 330.8L502.9 330.7L504.3 330.7M507.5 330.6L508.5 330.6L510 330.5L511.4 330.5L512.8 330.4M516.3 330.3L517.4 330.3L518.8 330.3L519.9 330.2L521.3 330.2M524.8 330.2L525.9 330.2L527.3 330.2L528.7 330.2L530.1 330.1M533.2 330.1L534.3 330.1L535.7 330.1L537.1 330.1L538.5 330.1M542 330L543.1 330L544.5 330L545.9 330L547.3 330M550.5 330L551.6 330L553 329.9L554 330L555.4 330L555.8 330M559.3 330L560.3 330L561.8 330L563.2 330L564.6 330.1M567.7 330.1L568.8 330.1L570.2 330.1L571.6 330.1L573 330.1M576.5 330.2L577.6 330.2L579 330.2L580 330.2L581.5 330.3M585 330.4L586.1 330.5L587.5 330.5L588.9 330.6L590.3 330.6M593.5 330.7L594.6 330.8L596 330.8L597.4 330.9L598.8 330.9M602.3 331.1L603.4 331.2L604.8 331.3L606.2 331.4L607.3 331.4M610.8 331.7L611.9 331.8L613.3 331.9L614.7 332L616.1 332.1M619.3 332.3L620.4 332.4L621.8 332.5L623.2 332.6L624.3 332.7L624.6 332.7M628.1 333.1L629.1 333.2L630.5 333.3L631.9 333.5L633.3 333.6M636.5 334L637.5 334.1L638.9 334.2L640.3 334.4L641.7 334.5M645.2 334.9L645.9 335L647.3 335.2L648.7 335.4L650.1 335.6L650.4 335.6M653.9 336.1L655 336.3L656.4 336.5L657.8 336.7L659.2 336.9M662.3 337.3L663.4 337.5L664.5 337.6L665.9 337.9L667.3 338.2L667.6 338.2M671.1 338.9L672.2 339.1L673.6 339.4L675 339.6L676.4 339.9M679.5 340.5L679.9 340.6L680.2 340.6L680.6 340.7" fill="none" stroke="#000" stroke-width="0.85"/><path d="M373.3 343.5L385.7 340L396.9 337.5L424.1 332.9L448.9 330L476.2 328.6L581.5 327.6L609.9 327.8L628.5 328.8L644.6 330.1L664.5 332.5L680.6 334.9M455.1 291.5L450.1 289.7L445.2 286.8L441.7 283.8L438.8 280.1L437.1 276.4L436.9 272.7L437.9 270.3L440.2 268.2L444 266.9L447.7 266.6L451.4 267.1L456.3 268.5L460.1 270.2L464.3 272.7L467.5 275.4L470.6 278.9L472.4 282.6L472.7 285.1L472.1 287.6L470 290L467.5 291.3L463.8 292.2L460.1 292.3L455.1 291.5M446.4 244.4L437.8 243.6L431.6 242.4L427 240.6L425.5 239.4L425 238.2L425.5 236.9L427 235.7L432.8 233.6L440.2 232.4L450.1 231.9L460.1 232.4L467.5 233.6L473.3 235.7L474.8 236.9L475.3 238.2L474.8 239.4L473.3 240.6L470.4 241.9L466.3 243L457.6 244.1L446.4 244.4" fill="none" stroke="#000" stroke-width="1.5"/><g transform="translate(591.37,298.89) rotate(13.7)"><rect x="-8.37" y="-4.88" width="16.74" height="9.77" fill="#fff"/><text x="0" y="3.10" font-size="8.6" text-anchor="middle" fill="#111">100</text></g><g transform="translate(565.35,319.01) rotate(-6.4)"><rect x="-8.37" y="-4.88" width="16.74" height="9.77" fill="#fff"/><text x="0" y="3.10" font-size="8.6" text-anchor="middle" fill="#111">200</text></g><g transform="translate(460.06,340.39) rotate(-7.7)"><rect x="-10.76" y="-4.88" width="21.53" height="9.77" fill="#fff"/><text x="0" y="3.10" font-size="8.6" text-anchor="middle" fill="#111">-200</text></g><g transform="translate(480.72,341.89) rotate(-6.2)"><rect x="-10.76" y="-4.88" width="21.53" height="9.77" fill="#fff"/><text x="0" y="3.10" font-size="8.6" text-anchor="middle" fill="#111">-300</text></g><g transform="translate(523.23,342.95) rotate(-2.0)"><rect x="-10.76" y="-4.88" width="21.53" height="9.77" fill="#fff"/><text x="0" y="3.10" font-size="8.6" text-anchor="middle" fill="#111">-400</text></g><g transform="translate(554.20,363.63) rotate(0.0)"><rect x="-10.76" y="-4.88" width="21.53" height="9.77" fill="#fff"/><text x="0" y="3.10" font-size="8.6" text-anchor="middle" fill="#111">-500</text></g><g transform="translate(425.48,239.39) rotate(36.5)"><rect x="-3.59" y="-4.88" width="7.18" height="9.77" fill="#fff"/><text x="0" y="3.10" font-size="8.6" text-anchor="middle" fill="#111">0</text></g><g transform="translate(443.95,266.85) rotate(-12.3)"><rect x="-3.59" y="-4.88" width="7.18" height="9.77" fill="#fff"/><text x="0" y="3.10" font-size="8.6" text-anchor="middle" fill="#111">0</text></g>
</g>
<clipPath id="icd"><rect x="385.70" y="273.70" width="57.10" height="93.50"/></clipPath>
<g clip-path="url(#icd)">
<rect x="385.70" y="273.70" width="57.10" height="93.50" fill="#f3f3ee"/>
<path d="M403.7 275.4L408.4 275.2L412.9 276.4L417.4 278.9L421.2 282.4L424.5 286.7L426.9 291.2L429 296.4L431.7 304.9L433.4 308.4L435.7 311.4L441.7 317.4L444.4 321.1L444.4 349.9L440.7 354L436.9 356.2L433.9 357.1L430.9 357.3L427.9 356.9L425.7 356.1L422.7 353.5L416.6 343.7L412.9 340L408.6 337.7L388.4 329.4L385.4 327.2L383.7 325L383.7 294.9L384 294.2L387.6 287.4L392.6 281.4L397.9 277.5L403.7 275.4Z" fill="#f0f0d6" fill-rule="evenodd"/><path d="M403.7 282.2L407.7 281.7L411.4 282.5L415.2 284.6L418.8 288.2L421.7 292.7L423.7 297.2L427.2 311.3L428.6 314.4L430.5 316.7L437.7 322.2L440 324.9L441.7 327.9L442.7 330.9L443.2 334.7L443 338.4L442.3 341.4L441 344.4L439.2 347L436.9 349L434.7 350.3L432.4 351L430.2 351.1L427.9 350.7L425.7 349.6L422.7 347L418.2 341.1L415.9 338.9L412.9 337.3L402.4 333.8L396.8 330.9L392.2 327.2L389.8 323.4L387.9 317.4L387.3 311.4L387.8 304.7L389.2 298.7L391.5 293.4L395 288.2L399.4 284.2L403.7 282.2Z" fill="#ece5ba" fill-rule="evenodd"/><path d="M403.4 285.9L406.9 285.2L410.7 285.8L414.4 288L417.4 291.1L420.2 295.7L422.2 300.9L423.2 305.4L424.7 315.9L425.7 319.2L427.4 321.2L434.7 325.3L436.5 327.2L438 329.4L439.3 333.9L439.1 338.4L438.3 340.7L437 342.9L433.9 345.6L430.9 346.4L427.9 346L424.5 343.7L419.7 337.6L417.4 335.7L415.2 335.1L406.9 333.9L401.3 331.7L396.2 327.9L393.1 323.4L391.5 318.9L390.6 312.9L390.7 306.9L391.6 301.7L393.5 296.4L396.1 291.9L399.4 288.3L403.4 285.9Z" fill="#e6ce98" fill-rule="evenodd"/><path d="M404.5 288.2L408.4 287.8L412.2 289.1L415.5 291.9L418.2 295.8L420.3 300.9L421.6 306.9L422.7 327.9L423.4 328.4L427.2 327.9L430.2 328.2L432.4 329.3L433.9 330.9L435.1 333.2L435.4 336.2L434.3 339.2L432.4 341L430.9 341.5L429.4 341.5L427.9 340.9L426.4 339.7L424.2 336.2L421.9 329.8L412.9 332.5L409.2 332.7L406.2 332.2L402.4 330.7L399.4 328.7L397.2 326.4L395.3 323.4L393.6 318.9L392.6 312.9L392.7 307.7L393.6 302.4L395.5 297.2L397.9 293.2L400.9 290.1L404.5 288.2Z" fill="#ddba7a" fill-rule="evenodd"/><path d="M404.2 290.4L406.9 289.8L409.2 290L411.4 290.9L413.9 292.7L415.9 295.1L418 298.7L420.1 306.2L420.5 310.7L420.5 315.9L420 320.4L419 324.2L417.8 326.4L415.7 328.7L413.2 330.2L410.7 330.9L408.4 331L405.4 330.5L402.4 329.1L400.2 327.5L398 324.9L396.7 322.7L395.5 319.7L394.6 315.9L394.1 311.4L394.3 307.7L394.8 303.9L396 300.2L397.3 297.2L399.4 294.1L401.7 291.9L404.2 290.4Z" fill="#d2aa5f" fill-rule="evenodd"/><path d="M405.1 291.9L407.7 291.6L409.9 292L412.2 293.2L414.4 295.4L416.2 297.9L417.5 300.9L419.2 308.4L419.1 316.7L418.3 320.4L417.2 323.4L415.9 325.7L413.7 327.8L411.4 329L409.2 329.5L406.9 329.4L404.7 328.8L402.4 327.6L400.2 325.6L398.6 323.4L397.1 320.4L395.5 313.7L395.6 306.9L397.4 300.2L398.9 297.2L400.9 294.6L403.2 292.8L405.1 291.9Z" fill="#c88e42" fill-rule="evenodd"/><path d="M405.5 293.4L407.7 293.2L409.9 293.7L412.1 294.9L413.7 296.4L416.4 300.9L418.1 307.7L418.1 315.2L417.4 318.9L416.4 321.9L415.1 324.2L412.9 326.4L411.4 327.3L409.2 328L406.9 328L404.7 327.4L402.4 326L400.9 324.6L398.1 319.7L396.6 313.7L396.7 306.9L398.4 300.9L400 297.9L401.7 295.8L403.2 294.5L405.5 293.4Z" fill="#be8038" fill-rule="evenodd"/><path d="M405.5 294.9L407.7 294.6L409.2 294.9L411.4 296L412.9 297.4L414.5 299.4L415.9 302.4L417.3 308.4L417.1 315.2L415.4 321.2L414 323.4L412.2 325.2L410.7 326.1L408.4 326.7L404.7 326L402.4 324.4L400.9 322.7L398.6 318.2L397.6 312.9L397.7 306.9L399.2 301.7L401.7 297.6L403.2 296.2L405.5 294.9Z" fill="#b0702a" fill-rule="evenodd"/><path d="M405.3 296.4L406.9 296L409.2 296.3L412.2 298.2L414.9 302.4L416.4 308.4L416.3 314.4L414.9 319.7L412.2 323.6L410.7 324.7L408.4 325.4L406.2 325.2L404.7 324.6L401.7 321.9L399.7 318.2L398.5 312.9L398.6 307.7L400 302.4L402.4 298.5L405.3 296.4Z" fill="#a06220" fill-rule="evenodd"/><path d="M405.1 297.9L406.9 297.4L408.4 297.5L411.4 299.1L412.9 300.8L414.2 303.2L415.5 308.4L415.5 313.7L414.1 318.9L412.9 321L411.4 322.6L408.4 324L405.4 323.6L402.4 321.2L400.7 318.2L399.5 313.7L399.4 308.4L400.4 303.9L402.4 300.2L405.1 297.9Z" fill="#7e5f1a" fill-rule="evenodd"/><path d="M385.5 334.7L390.4 334L395.7 334.6L402.4 336.7L409.2 339.8L412.4 342.2L415.2 345.9L417.1 350.4L418.9 357.9L420.2 359.4L422.7 360.6L426.4 361.3L444.4 362.9L444.4 369.2L383.7 369.2L383.7 335.4L385.5 334.7Z" fill="#e6eeee" fill-rule="evenodd"/><path d="M392.1 336.2L396.4 336.3L401.7 337.7L406.9 340.2L410.6 342.9L412.9 345.9L414.2 348.9L415 352.7L415.2 359.4L416.7 361.4L420.4 362.9L432.5 365.4L434.1 366.2L434.5 366.9L433.8 367.7L432.4 368.3L428.9 369.2L384.7 369.2L383.7 368.6L383.7 340.2L387.4 337.5L392.1 336.2Z" fill="#d6ebe6" fill-rule="evenodd"/><path d="M394.8 337.7L398.7 338.1L403.2 339.6L406.9 341.7L409.8 344.4L411.7 347.4L412.8 351.2L412.9 354.2L412.2 359.4L412.4 360.9L413.7 362.8L419.7 366.2L419.8 366.9L418.4 367.7L411.8 369.2L390.8 369.2L387.5 367.7L385.9 366.2L383.7 360.6L383.7 344.1L385.8 341.4L388.2 339.6L391.2 338.2L394.8 337.7Z" fill="#b9ead6" fill-rule="evenodd"/><path d="M393.7 339.2L397.9 339.2L402.8 340.7L406.9 343.4L409.6 346.7L410.6 348.9L411.2 351.9L411 354.9L409.7 360.9L409.9 362.6L411.4 365.4L411.3 366.2L410.5 366.9L407.7 368L403.9 368.7L396.4 368.8L393.4 368.2L390.5 366.9L388.7 365.4L387.7 363.9L384.7 357.9L383.8 354.9L383.9 348.2L385.2 345.2L387.5 342.2L390.4 340.2L393.7 339.2Z" fill="#9ce0c8" fill-rule="evenodd"/><path d="M392.9 340.7L397.2 340.3L401.7 341.4L405.5 343.7L408.5 347.4L409.5 350.4L409.6 354.2L407.3 360.9L406.8 364.7L405.4 366.2L403.2 367L399.4 367.4L396.4 367.1L393.4 366.2L390.4 363.9L386.4 357.9L385.5 355.7L384.9 352.7L385.1 349.7L385.7 347.4L386.9 345.2L388.8 342.9L390.4 341.8L392.9 340.7Z" fill="#82d2b9" fill-rule="evenodd"/><path d="M395 341.4L399.4 341.8L403.2 343.4L406 345.9L407.9 349.7L408.2 353.4L407.2 357.2L403.2 363.8L400.9 365.1L398.7 365.4L396.4 365.1L392.7 363.3L388.9 359.4L386.6 354.9L386.3 350.4L386.8 348.2L387.9 345.9L390.9 342.9L395 341.4Z" fill="#6abea6" fill-rule="evenodd"/><path d="M393.4 342.9L397.2 342.5L401.5 343.7L404.7 346.2L406.6 349.7L406.9 353.4L405.6 357.2L402.4 361.1L399.4 362.8L396.4 362.9L392.7 361.2L389.7 358.4L387.8 354.9L387.3 351.2L388.3 347.4L390.4 344.7L393.4 342.9Z" fill="#5aab96" fill-rule="evenodd"/><path d="M394.7 343.7L397.9 343.6L401.7 345L404.2 347.4L405.5 350.4L405.5 354.2L404.1 357.2L401.7 359.6L398.7 361L395.7 360.9L392.5 359.4L389.7 356.5L388.6 353.4L388.5 350.4L389.6 347.4L391.9 344.9L394.7 343.7Z" fill="#4a9b84" fill-rule="evenodd"/><path d="M393.6 345.2L396.4 344.5L399.4 345.1L402.1 346.7L403.7 348.9L404.4 351.2L404.2 354.2L402.4 357.1L400.2 358.9L397.2 359.7L394.2 359L391.9 357.5L390.1 354.9L389.5 351.9L390 348.9L391.5 346.7L393.6 345.2Z" fill="#3e8e76" fill-rule="evenodd"/><path d="M394.7 345.9L397.2 345.7L399.4 346.3L401.7 348L403 350.4L403.2 352.7L402.4 354.9L400.9 356.8L398.7 358.1L396.4 358.3L394.2 357.7L392.5 356.4L391 354.2L390.6 351.2L391.2 348.9L392.7 347L394.7 345.9Z" fill="#348168" fill-rule="evenodd"/><path d="M394.2 347.4L395.7 346.9L397.9 347L400.1 348.2L401.3 349.7L401.8 351.2L401.6 353.4L400.8 354.9L399.4 356.2L397.9 356.9L395.7 356.9L393.4 355.8L392.2 354.2L391.7 352.7L391.8 350.4L392.7 348.7L394.2 347.4Z" fill="#267254" fill-rule="evenodd"/>
<path d="M413.9 272.7L413.9 274.5L413.1 280.8L412.3 288.7L410.7 296.6L409.9 302.9L407.6 309.2L404.4 313.9L403.6 318.6L402.9 324.9L402.1 329.6L399.7 334.3L398.1 339.1L398.1 343.8L398.9 348.5L402.1 352.4L406 354L413.9 355.6L421.7 357.2L428 357.2L423.3 355.6L417 353.2L416.2 350.9L419.4 346.9L421 342.2L422.5 337.5L421.7 333.6L424.1 331.2L428 329.6L429.6 325.7L428 323.3L432.8 322.5L436.7 320.2L441.4 318.6L443.7 318.6M441.4 318.6L435.7 319.3L429.6 318.6L420.2 317.8L416.2 318.6M410.7 313.1L413.1 313.9L415.4 318.6L417.2 320.2L416.2 321.8L411.5 324.1L409.1 321.8L409.9 317ZM406 354L409.7 352.7L413.7 352.2L416.2 353.2L411.7 354.5Z" fill="none" stroke="#222" stroke-width="0.45"/>
</g>
<rect x="385.70" y="273.70" width="57.10" height="93.50" fill="none" stroke="#1a1a1a" stroke-width="1"/>
<clipPath id="clipe"><rect x="32.50" y="434.70" width="297.30" height="148.20"/></clipPath>
<g clip-path="url(#clipe)">
<rect x="32.50" y="434.70" width="297.30" height="148.20" fill="#f4c876"/>
<path d="M158.4 560.7L168.8 560.4L175 559.1L177.4 557.8L179.3 555.7L179.9 553.3L179.6 552L177.4 549.4L172.5 547.3L166.3 546.2L156.4 546.1L146.5 547.7L130.4 553.4L115.5 553.6L109.2 554.5L106.9 555.7L107.2 557L109.3 558L114.3 558.9L121.7 558.9L132.8 557.6L146.5 559.8L158.4 560.7ZM141.4 523.6L147.7 524.2L153.9 523.7L158.3 522.4L159.3 521.1L158.3 519.9L153.9 518.6L147.7 518.1L142.7 518.5L138.2 519.9L137.4 521.1L138.2 522.4L141.4 523.6ZM167.1 479.2L189.8 480.1L215.8 480.2L239.4 479.7L259.2 478.5L269.1 477L278.4 474.2L285.3 470.5L286.3 469.3L286.6 468L285.2 466.2L281.9 464.3L271.6 461.5L261.7 460.2L234.4 458L232.5 456.9L242.3 453.2L244.2 452L244.2 450.8L240.6 450.1L236.9 447.7L235.2 444.6L234.4 439.9L233.2 438.8L228.2 437.5L218.3 436.7L205.9 436.6L192.3 437.7L178.7 440L172.2 442.1L171.1 443.3L171.8 447.1L174.9 450.8L182.2 455.7L179.9 456.4L172.5 456.7L139 455.7L116.7 455.9L99.4 457.1L92.3 458.2L89.9 459.4L92.1 460.6L106.2 463.1L110.6 464.3L112 465.6L112 469.3L112.9 470.5L114.8 471.8L120.5 473.7L140.3 477L167.1 479.2ZM101.3 443.3L118 444.5L136.6 444.3L150.2 443.2L156.2 442.1L158 440.9L156 439.6L148.9 438.3L125.4 437.2L101.9 438.3L94.8 439.6L93 440.9L94.8 442.1L101.3 443.3Z" fill="#f1de88" fill-rule="evenodd"/><path d="M149.3 559.4L161.3 560L170 559.4L173.7 558.4L176.2 557L177.3 555.7L177.9 553.3L176.6 550.8L172.5 548.6L166.3 547.4L157.6 547.1L151.4 547.7L145.2 549.2L137.8 552L134 554.5L134.5 555.7L137.3 557L149.3 559.4ZM114.7 557L121.7 557.2L123.4 557L125.4 555.7L121.7 554.6L117.9 554.5L113.3 555.7L114.7 557ZM186 477.9L224.5 478.1L258 476.2L266.6 474.9L273.1 473L277 470.5L277.8 469.3L277.7 468L275.3 465.9L271.6 464.5L260.4 462.6L223.3 460L202.2 459.4L156.4 459.7L140.3 460.5L135.3 461.9L129 468L128.9 469.3L129.9 470.5L132.3 471.8L142.2 474.2L162.6 476.6L186 477.9ZM197 454.5L208.4 455.5L219.6 455.1L231.5 453.2L234.5 452L235.3 450.8L231.7 442.1L229.5 440.7L224.1 439.6L210.9 439L198.5 439.6L186.1 442.1L181.9 444.6L181.2 445.8L181.9 448.3L184.9 450.7L191.1 453.2L197 454.5Z" fill="#f0ecb4" fill-rule="evenodd"/><path d="M146.3 558.2L158.9 559.4L168.8 558.6L173.6 557L175 555.7L175.7 553.3L174.1 550.8L171.2 549.4L165 548.2L157.6 548L150.2 548.9L144 550.7L138.6 553.3L137.9 554.5L138.8 555.7L141.4 557L146.3 558.2ZM179.6 475.5L208.4 476.2L237.2 475.5L251.7 474.2L259.5 473L263.7 471.8L266 470.5L266.8 469.3L266.2 468L264.2 466.8L259.8 465.6L251.9 464.3L233.2 462.8L202.2 461.8L177.4 461.9L160.1 463L151.4 465.1L148 466.8L146.7 468L146.5 469.3L147.8 470.5L156.3 473L179.6 475.5ZM205.5 448.3L214.6 448.5L216.6 448.3L218.8 447.1L218.3 445.8L214.2 444.6L205 444.6L202 445.8L202.4 447.1L205.5 448.3Z" fill="#eaf2e4" fill-rule="evenodd"/><path d="M153.1 558.2L161.3 558.4L167.5 557.7L170.1 557L172 555.7L172.8 553.3L172.3 552L170.7 550.8L167.5 549.7L157.6 549.1L152.6 549.6L147.4 550.8L142.1 553.3L141.5 554.5L142.7 555.7L145.9 557L153.1 558.2Z" fill="#d6f0f0" fill-rule="evenodd"/><path d="M158.5 557L166 555.7L167.3 554.5L167.5 553.3L166.6 552L163.8 551L157.6 550.7L150.5 552L147.7 553.3L147.2 554.5L149.2 555.7L158.5 557Z" fill="#bee2eb" fill-rule="evenodd"/><path d="M27.5 587.8L334.8 587.8L334.8 530.2L331.2 526.1L327.3 522.8L315.8 516.2L312.9 513.7L312.7 511.3L316.5 502.6L318.4 495.2L319 485.3L317.9 477.9L315.4 475.5L307.5 472.4L300.1 471.3L293.9 472L273.2 479.2L268 481.6L266.8 482.9L266.4 489L267.6 497.7L269.9 503.9L274.4 511.3L274.9 513.7L269.8 523.6L267.8 533.5L266.5 536L264.1 537.8L260.4 538.5L236.9 537.7L218.3 538.2L198.5 540.1L184.9 542.7L178.9 544.6L177.2 545.9L181.5 552L181.6 554.5L180.5 557L178.7 558.8L176.2 560.1L171.2 561.1L156.4 561.2L132.8 559.3L115.5 560.9L27.5 563.7L27.5 587.8ZM33.3 557L37.5 557.1L43.6 556.2L47.4 554.8L51.1 552.3L53.5 549.6L54.5 547.1L53.9 543.4L52.5 540.9L48.6 537.6L42.4 535.2L35 534.6L27.5 536L27.5 555.7L33.3 557ZM82.9 553.3L96.9 554.3L114.3 552.8L129.1 552.3L134.1 551.2L141.4 548.3L146.2 545.9L146.2 544.6L136.6 543L126.6 542.3L110.5 541.8L94.4 542.3L77.1 544.3L70.9 546.1L69.1 547.1L68.3 548.3L69.1 549.6L72.1 551L82.9 553.3ZM100.4 515L103.1 516.2L105.6 515.9L109.3 513.1L112.5 507.6L114.5 498.9L114.1 491.5L112.4 485.3L109.2 480.4L106.8 478.8L104.3 478.3L100.6 479.3L97.5 482.9L95.4 487.8L94.1 494L94 500.2L95.1 506.3L97.2 511.3L100.4 515ZM292.5 463.1L298.8 464.2L305 463.6L309.3 461.9L310.3 460.6L310.3 459.4L307.5 455.7L303.8 452.6L298.8 450.1L295.1 449.2L291.4 449.1L286.4 450.1L281.5 452.6L278 455.7L277.9 456.9L279 458.2L284.7 460.6L292.5 463.1ZM41.8 459.4L44.9 460.3L48.6 460.5L52.3 459.9L56 458.4L60.2 455.7L62.5 453.2L63.4 450.8L63 448.3L61.2 445.8L58.5 443.7L52.3 441L46.1 440.6L42.4 441.3L38.7 442.9L36.5 444.6L34.5 447.1L33.7 449.5L33.8 452L34.8 454.5L36.2 456.1L38.7 458L41.8 459.4ZM239.1 447.1L240.6 447.7L243.1 447.5L245.5 445.8L246.2 444.6L246.5 442.1L245.6 439.7L244.3 438.5L241.8 437.8L240.6 438.2L238.1 440.5L237.4 442.1L237.2 444.6L239.1 447.1Z" fill="#f2b064" fill-rule="evenodd"/><path d="M27.5 587.8L334.8 587.8L334.8 567.1L328.6 565.8L327.1 564.4L327.2 563.1L331.2 557L332.9 553.3L334 548.3L334 543.4L332.8 538.4L329.4 532.3L324.8 527.6L319.9 524.3L313.7 521.6L306.3 519.7L290.2 518.2L285.2 518.2L281.5 519.1L279 520.3L275.7 523.6L274.6 526.1L272.8 535.9L270.7 539.7L269.1 541L264.1 541.9L241.8 540.3L223.3 540.3L207.2 541.5L193.5 543.9L187.3 545.7L183.6 547.5L183 548.3L183.5 553.3L183.1 555.7L180.2 560.7L177.5 561.9L165 562.2L135.3 560.7L96.8 564.4L27.5 567.2L27.5 587.8ZM33.1 553.3L39.9 553.2L45.6 550.8L47 549.6L48.4 547.1L48.4 544.6L47 542.1L42.4 539.2L37.5 538.2L31.3 538.8L27.5 540.4L27.5 551.3L33.1 553.3ZM96.6 552L105.6 552.3L127.9 551.5L135.6 549.6L138.1 548.3L139.2 547.1L137.2 545.9L130.4 544.7L120.5 544L108.1 543.9L90.7 545.3L84.2 547.1L83 548.3L84.2 549.6L87 550.5L96.6 552ZM102 510L104.3 510.9L105.6 510.6L107.7 508.8L109.7 505.1L110.7 500.2L110.5 495.2L109.2 490.3L106.8 487L104.3 486L101.9 487L100.2 489L98.6 492.7L98 496.4L98 500.2L98.9 505.1L99.9 507.6L102 510ZM290.3 503.9L295.1 504.1L303.8 502.2L307.5 500L309.9 496.4L309.7 492.7L305.9 486.6L303.8 479.6L302.5 477.9L300.1 476.7L295.1 476L289.6 476.7L283.3 479.2L281 481.6L280.3 487.8L281.8 495.2L285.2 500.6L287.7 502.7L290.3 503.9ZM45.6 456.9L51.1 457L53.6 456.2L56.3 454.5L57.3 453.2L58.1 450.8L57.4 448.3L56.5 447.1L53.6 445.1L48.6 444L44.9 444.6L41.2 446.6L39.2 449.5L39.3 452L41.2 454.8L45.6 456.9ZM239.8 444.6L240.6 445.2L241.8 445.3L242.8 444.6L242.9 443.3L241.8 442.5L240.6 442.6L239.8 443.3L239.8 444.6Z" fill="#f09856" fill-rule="evenodd"/><path d="M27.5 586.6L44.8 587.8L323.6 587.5L334.8 586.8L334.8 569.1L326.1 567.8L323.7 566.8L322.4 565.6L323 563.1L327 558.2L329.2 554.5L330.5 550.8L331 547.1L330.7 542.1L329.6 538.4L327.6 534.7L324.5 531L318.7 526.7L310 523.3L303.8 522.2L286.4 521.1L282.7 521.8L279 524.3L277.5 527.3L276.7 533.5L274.9 538.4L272.8 541.5L269.1 543.4L264.1 543.6L241.8 541.7L227 541.5L210.9 542.6L197.3 544.9L189.8 547.1L186.1 549.4L184.7 558.2L184.9 559.4L186.7 561.9L185.8 563.1L182.4 563.7L137.8 561.9L101 565.6L27.5 569.1L27.5 586.6ZM30.9 550.8L36.2 551.8L41.2 551L44.9 548.3L45.6 547.1L45.6 544.6L43.7 542.1L39.9 540.3L35 539.9L31.3 540.7L27.5 543.3L27.5 548.4L30.9 550.8ZM97.2 550.8L106.8 551.4L124.2 550.9L130.4 550L134.3 548.3L133.9 547.1L128.6 545.9L113 544.9L97.2 545.9L91.6 547.1L90.1 548.3L91.6 549.6L97.2 550.8ZM102.7 506.3L104.3 507L105.6 506.6L106.8 505.4L108.5 500.2L107.9 494L106.5 491.5L104.3 490.3L103.1 490.6L101.9 491.8L100.2 496.4L100.6 502.6L102.7 506.3ZM297.9 498.9L301.3 499.7L305 498.7L307 496.4L307.2 494L306.6 492.7L305 491.1L301.3 489.7L298.8 489.6L296.4 490.3L294.4 492.7L294.5 495.2L296.1 497.7L297.9 498.9ZM44.6 454.5L48.6 455.4L52.3 454.6L55 452L55.1 449.5L53.6 447.6L51.1 446.4L47.4 446.1L44.9 446.8L42.9 448.3L41.9 450.8L42.9 453.2L44.6 454.5Z" fill="#eb7e46" fill-rule="evenodd"/><path d="M49.7 586.6L74.4 587.8L288.1 587.8L307.5 586.9L334.8 585L334.8 570.8L322.4 568.9L318.7 566.8L318.1 565.6L319.4 563.1L325.8 555.7L327.5 552L328.4 548.3L328.4 543.4L327.4 539.7L325.6 536L322.5 532.3L317.4 528.5L310 525.5L303.8 524.4L286.4 523.4L282.7 524.5L281 526.1L280 528.6L279 534.7L277 539.7L274.1 543.2L270.9 544.6L265.4 545L239.4 542.7L223.3 542.8L205.5 544.6L198.5 546.1L192 548.3L188.5 550.8L187.5 555.7L188 558.2L193.5 563.1L192.2 564.4L191.1 564.6L179.9 565.2L153.9 563.1L139 562.7L100.8 566.8L54.8 569L27.5 570.9L27.5 585L49.7 586.6ZM31.8 549.6L36.2 550.5L40.6 549.6L43.4 547.1L43.4 544.6L41.2 542.4L38.7 541.5L35 541.3L31.8 542.1L30 543.4L28.8 545.9L30 548.3L31.8 549.6ZM98 549.6L105.6 550.5L115.5 550.6L126.6 549.6L129.8 548.3L127.9 547.1L122.9 546.3L109.3 545.8L99.4 546.8L95.8 548.3L98 549.6ZM104.2 502.6L105.6 501.8L106.3 498.9L105.6 495.7L104.3 494.8L103.1 495.6L102.4 498.9L103.1 501.9L104.2 502.6ZM299.4 496.4L301.3 497.3L303.8 496.7L304.7 495.2L304.4 494L302.5 492.7L300.1 492.9L298.8 494.4L299.4 496.4ZM46.7 453.2L48.6 453.6L51.1 452.9L52.3 451.8L52.3 449.5L49.8 448L46.1 448.5L44.9 449.5L44.5 450.8L44.9 452L46.7 453.2Z" fill="#e6643c" fill-rule="evenodd"/><path d="M76.3 586.6L109.7 587.8L252.8 587.8L291.4 586.3L334.8 583L334.8 572.9L321.1 570.7L317.3 569.3L314.2 566.8L314 565.6L314.6 564.4L320 559.4L323.1 555.7L325.7 549.6L326.1 544.6L325.4 540.9L323.7 537.2L321.1 534L315.4 529.8L308.8 527.3L303.8 526.5L288.9 525.6L285.4 526.1L283.7 527.3L282.5 529.8L281.2 536L278.9 540.9L276.5 543.7L272 545.9L265.4 546.2L240.6 543.8L224.5 543.8L207.2 545.6L200.6 547.1L194.8 549.2L191 552L190.3 555.7L191.9 558.2L199.8 563.1L200.1 564.4L197.3 565.7L191.1 566.4L182.4 566.5L153.9 563.8L139 563.5L130.4 564.2L103.1 567.8L54.2 570.5L27.5 572.9L27.5 583L52.3 585.2L76.3 586.6ZM105.6 549.6L119.2 549.6L124.1 548.3L120.6 547.1L113 546.7L105.3 547.1L101.7 548.3L105.6 549.6ZM32.7 548.3L36.2 549.1L39.7 548.3L41.1 547.1L41.5 545.9L41.1 544.6L39.7 543.4L37.5 542.7L35 542.7L32.7 543.4L31.3 544.6L30.9 545.9L31.3 547.1L32.7 548.3Z" fill="#dc4832" fill-rule="evenodd"/><path d="M110.8 586.6L152.7 587.5L194.8 587.6L240.6 586.9L276.5 585.6L301.4 584.1L325 581.7L334.8 579.4L334.8 576.5L317.4 572.1L311.6 569.3L309.3 566.8L309.4 565.6L310.3 564.4L319.2 557L322.7 550.8L323.6 547.1L323.5 543.4L322.4 539.7L319.9 536L314.9 532L308.7 529.5L302.5 528.6L291.4 528.3L288.6 528.6L286.5 529.8L283.6 537.2L280.8 542.1L277.8 545L272.8 547.1L266.6 547.5L245.6 545.2L227 544.8L210.9 546.4L198.9 549.6L195.1 552L194.2 553.3L194.2 555.7L196.5 558.2L206.3 563.1L207.6 564.4L207.3 565.6L204 566.8L196 567.7L184.9 567.7L153.9 564.5L139 564.3L129.1 565.2L103.1 569.1L47.3 573L37.4 574.3L27.5 576.5L27.5 579.4L37.4 581.7L47.3 582.9L80.9 585.4L110.8 586.6ZM34.5 547.1L37.5 547.3L38.9 545.9L37.5 544.4L35 544.4L33.5 545.9L34.5 547.1Z" fill="#cd2e2c" fill-rule="evenodd"/><path d="M121.2 585.4L181.2 586.2L240.6 585.4L286.4 583.1L309.4 580.4L314 579.2L315.9 578L315.7 576.7L304.9 569.3L302.8 566.8L303.2 565.6L304.7 564.4L312.9 559.4L317.4 554.8L320.4 548.3L320.8 544.6L320.4 542.1L319.4 539.7L317.4 536.9L314.8 534.7L311.2 532.9L303.8 531.2L295.1 531.4L291.5 532.3L289.7 533.5L283.9 542.1L281.6 544.6L277.8 546.9L274.1 548.2L267.9 548.7L244.3 546.4L225.7 546.3L216.4 547.1L209.6 548.3L205.3 549.6L200.5 552L199.1 554.5L200.5 557L204.9 559.4L214.8 563.1L218.8 565.6L218.4 566.8L214.8 568.1L203.4 569.2L187.3 569.2L178.7 568.6L153.9 565.2L137.8 565L126.6 566.4L101.9 570.8L62 574.3L54.1 575.5L49.5 576.7L48 578L49.5 579.2L54.1 580.4L69.7 582.4L92.2 584.1L121.2 585.4Z" fill="#b91e28" fill-rule="evenodd"/><path d="M126.6 582.9L160.1 583.7L193.5 583.8L235.4 582.9L261.6 581.7L276.8 580.4L285.1 579.2L293.5 576.7L295.5 575.5L296.4 574.3L296.1 573L295.1 572.3L291.4 571.2L269.1 569.6L231.9 571.9L204.7 572.1L189.8 571.6L178.7 570.2L157.6 566.4L142.7 565.5L132.8 566.3L122.9 568.1L104.3 573.4L87.4 576.7L85.5 578L87.6 579.2L94.1 580.4L126.6 582.9ZM248.6 564.4L260.4 564.1L276.5 562.3L293.9 564L301.3 562.5L307.9 559.4L312.1 555.7L316.4 548.3L317.3 544.6L317 542.1L314.9 538.4L311.2 535.9L306.3 534.4L300.1 534.3L296.4 535.1L292.6 537.1L287.1 543.4L283.8 545.9L279 548.1L274.1 549.6L267.9 550.1L244.3 548L226.7 548.3L217.4 549.6L212.7 550.8L209.9 552L208.4 553.3L207.9 554.5L208.3 555.7L209.6 556.9L212.2 558.2L220.4 560.7L234.4 563.5L248.6 564.4Z" fill="#a50f23" fill-rule="evenodd"/>
<path d="M30 444.6L32.5 444.6L34.4 444L35.3 445.8L36.8 447.7L37.8 448.9L38.1 451.7L39.3 452.2L41.2 451.4L42 452.6L42.7 455.7L43.2 459.4L42.8 461.6L43.9 463.1L45.3 464.3L45.4 466.8L46.5 468.3L48 469.4L49.2 470.1L50.2 470L49.1 466.8L48.5 464.8L47.1 464.1L45.3 461.3L43.9 460L43.9 458.4L44.9 456.3L45 455.1L46 455.2L46 456.2L47.7 456.7L49.2 458.7L50.6 458.9L50.8 461L51.2 461.1L52.7 460L53.6 458.8L55.8 457.8L56.3 456.3L56.4 454.8L55.8 452.7L54.2 451.4L52.9 449.8L51.9 448.4L52.9 446.8L54.2 445.4L55.4 445.1L56.7 445.2L57.2 446.6L57.9 446.7L58 445.6L59.5 445.1L61 444.3L61.7 443.8L62.6 444.2L64.1 443.6L65.7 443.1L66.9 441.9L67.9 441.4L69.2 440.3L69.4 438.9L70.3 438L71.1 436.8L72 435.7L72.4 434.7L72.1 432.2M227.2 434.1L228 436.2L230 437.4L231.1 438.9L232.8 440.1L233.2 441.5L235.2 443L236.3 444.3L236.6 445.2L236.3 446.3L237.3 447.2L238.9 448.2L240.6 449.3L241.8 450L244.3 451.1L246.2 452.1L248 452L250.5 452.2L253.4 453.7L255 454.6L256.7 455.2L258.3 455.6L259.7 456.4L260.8 458.2L262.2 459.4L263.5 460L264.1 461.5L264.8 461.9L266.6 461.5L267.6 461.9L268.9 462.7L270.1 462.5L271 461.3L270.7 462.4L271 463.6L271.1 465.6L270.7 467.4L269.6 468.8L269.1 469.8L267.7 470.6L267.4 471.6L266.7 473L266.9 474.5L267.5 475L267.2 476.7L266.4 477.8L266.7 479.2L268.2 480.6L269.5 482.4L270.6 484.3L271.6 486.6L272.6 488.7L274.7 490.6L276.5 491.9L278.8 493.4L279.9 495.2L280 497.7L279.8 500.2L279.6 502.6L279.3 505.1L278.6 507.6L278.4 509.4L278.3 511.9L278 513.6L277.4 515.1L277 516.5L275.9 517.8L276 519.3L275.5 521.1L275.7 522.6L275.7 524.1L275.8 525.8L274.3 527.2L273.7 528.3L274.3 529.7L274.8 531L274.8 532.9L274.8 535.1L275.9 536.5L276.9 537.1L278 537.9L279 538.3L279.6 537.6L280.5 536.6L282.2 536.3L281.1 535.7L282.1 535L281.7 534L282.7 533L283.3 531.9L285.5 531L284.6 530.2L283.2 529.3L283.6 527.4L285.9 527.2L286.9 525.5L288.1 524.6L286.2 524.1L286.8 523.1L286.4 522.4L289.8 522.1L289.9 520.9L290.2 519.8L292 519.8L294.5 519.2L295.9 517.8L296.8 516.6L296.1 515.5L294.9 514.1L296.2 514.7L297.1 514.2L299.1 514.7L300.7 514.5L301.9 513.2L303.8 511L305.3 508.8L306.5 506.9L306.8 505.8L308.5 503.5L310 502.1L311.2 500.9L313.2 500.2L314.9 499.7L316.2 498.3L317.7 496.4L318.2 495L318.7 493.4L318.9 490.3L319.3 487.8L320.6 487.1L321.7 485L323 483.5L323.9 481.6L323.6 479.8L323 478.3L321.1 477.6L319.3 476.4L317.4 475.2L314.9 475.3L313.9 475L311.2 474L309.4 473L307.5 473L306 472.4L305 471.8L305 469.9L304.2 469.3L303.4 466.8L302.5 465.8L300.7 465L299.5 464.6L296.7 464.6L295.1 463.2L292.6 461.4L291.4 460.6L290.4 459.6L289.5 458.9L286.7 458.5L285.2 458.7L283.1 458.5L281.9 457.7L280.5 457.4L279.1 458.2L278.4 458.8L278.9 460.3L278.1 459.4L278.4 458.2L278.1 457.2L277.4 456.4L276 457.5L274.7 458.2L273.7 458.2L273.2 458.7L272.9 460L271.8 461.1L271 461.3L270.6 460.6L269.2 460L268.1 460.3L267.4 460.6L265.8 459.5L263.5 458.2L263.7 456.3L263.4 454.5L263.9 453.2L262.2 452.1L260.8 452.2L257.7 452.2L257.2 452.1L257.7 451.5L257.7 449.6L258.4 448.8L258.7 447.1L259.4 445.2L258.6 445.2L256.6 445.4L255 445.9L254.9 447.4L253.4 448.8L251.1 448.9L248.7 448.8L247.7 447.7L246.3 445.9L245.9 444.2L246.1 441.7L246.6 439.9L246.3 438.8L246.1 437.2L247.3 436.1L249.3 435.2L251.1 434.9L253.4 434.1M261.9 434.1L262.9 434.8L264.5 435.9L264.4 437.3L265 438.7L265.6 439.8L267 440.6L267.6 440.5L267.9 438.7L266.9 437.4L266.1 435.9L266 434.1M222.8 434.1L223.6 435.3L224.5 436.4L225.6 437.4L226.5 438.8L227.7 439.6L228.1 441.1L229.5 442.6L230.6 443.5L230.9 443.3L230.7 442.2L229 441.5L228.5 439.6L227.6 438.4L226.2 436.1L225.2 434.7L224.9 434.1M30 553.9L32.5 553.9L38.7 553.5L44.9 553.3L51.1 553L57.3 553.5L63.5 554.2L69.7 554L75.9 553.5L82 553.4L88.2 553.3L94.4 554.1L100.6 554.7L106.8 556L113 556.7L119.2 557.7L125.4 558.9L131.6 560.1L132.2 561.3L129.1 562.5L125.4 564.4L121.7 566.8L120.5 569.3L121.7 573L126.6 575.5L137.8 576.7L150.2 577L162.6 577.1L175 576.7L183.6 575.5L181.2 571.8L186.1 568.1L193.5 565.6L203.4 565L212.1 563.8L224.5 563.8L236.9 563.1L245.6 562.5L255.5 561.9L265.4 562.3L271.6 561.9L276.5 559.4L280.2 557.6L284 554.5L286.4 553L290.2 551.4L295.1 550.2L298.8 549.8L296.4 551.4L292.6 553.3L288.9 556.3L289.5 559.4L291.4 563.9L286.4 565.6L283.6 566.8L292.6 567.5L307.5 568.1L317.4 567.8L329.8 566.4L332.3 565.6M55.5 448L56.3 449.1L57.4 449L58.4 447.5L58 446.9L56.8 447.1L55.7 447.5ZM69.8 443.3L70.5 444.6L71.4 443.6L72 441.4L71.6 440.5L70.9 440.9L69.9 442.4ZM70.4 448.9L72.4 448.9L72.4 450.8L71.6 452.2L71.8 454.2L72.8 454.5L73.6 455L74.7 456.2L73.8 455.7L72.9 455.4L71.8 454.6L70.4 454.6L70.4 453.5L69.4 452.1L70 451.7L70.2 450.1ZM72.1 463.1L73.4 462.4L74.2 461.9L75.2 461.1L76.4 459.6L77.7 462.5L77.3 464L76.4 464.8L74.9 464.1L74.5 462.7L73.1 462.6L72.4 463.2ZM75 456.3L76.7 457.8L75.9 459.4L75.2 458.4L75.4 457.4ZM72 457.1L73.5 457.9L73 458.9L72.1 458.8ZM73.3 458.3L74.1 458.9L73.5 460.5L72.6 459.5ZM74.5 457.9L74.6 459.2L73.9 459.9L74 458.8ZM70 455.1L71.5 455.3L71.1 456.7L70.2 456.1ZM66.2 461.4L69.2 457.7L68.7 459L66.6 461.6ZM56 469.9L56.8 472L57.5 473.8L57.4 475.3L59.4 475.5L61 475.7L62.8 476.1L64.7 476.6L65.3 474.5L66.6 472.6L66.9 470.5L68.3 470.4L67.1 469L66.8 467.1L67.9 466.3L68.7 465.3L66.8 464.2L65.9 463.1L65.1 463.6L64 465.3L62.5 466.2L61 467.8L58.9 468.8L58.3 469.9L56.8 469.4ZM39.1 464.8L41.8 465.3L43.3 467.2L45.4 469L46.6 469.5L48.7 471.3L49.6 473L50.5 474L52.1 475.5L52.3 477.3L52.1 478.9L50.6 479L47.7 476.7L46.1 474.8L45.1 472.7L44 471.5L43 469.5L41.4 467.8L39.9 466.2L39.1 465.2ZM51.3 480.1L52.3 479L53.9 479L55.4 479.7L57.9 480.3L60.5 480.3L62.8 481.3L62.7 482.5L60.4 482.1L57.9 481.9L55.4 481.4L52.9 480.9L51.6 480.3ZM62.8 481.8L64.3 482.1L63.7 482.6ZM64.7 482.1L65.6 481.9L65.3 482.7ZM65.9 482.2L68.4 481.9L68.2 482.6L65.9 482.9ZM69.4 482.1L73.3 481.8L73.1 482.6L70.3 482.6ZM74 484.5L76.1 482.4L78.7 482.1L75.9 483.6ZM68.4 483.6L70.7 484.1L69.9 484.5ZM68.2 475.2L68.9 473.6L69.4 471.6L69.8 470.8L70.9 470.1L72.8 470.5L74.6 470.6L76.1 469.9L75.4 471.1L73.6 471.3L71 471.3L69.8 471.9L70.3 473.6L71.5 473L73.8 472.9L72.5 474L71.3 474.1L72.8 475.7L72.5 477.7L71.5 477.4L70.8 475L70 475.3L70.2 478.5L69 478.5L69.2 477.1L69 476.1L68.2 475.2ZM79 469.3L79.6 470.5L80.4 470.1L79.6 471.3L80.7 472.1L79.8 472.7L79.1 471.1L78.8 469.9ZM79.6 475.7L83 476.4L82.3 475.8L80.2 475.3ZM77.1 475.6L78.6 475.8L78.2 476.4L77.2 476.2ZM83.3 473L84.8 472.2L87.1 472.9L87.6 475L88.9 475.9L91.3 473.6L93 473.8L95.7 475L97.8 475.8L100.1 476.7L101.6 477.9L101.9 479.2L103.7 479.5L104.2 480.4L105.2 482.7L106.6 483.6L107.8 484.5L106.5 484.5L104.3 484.2L103.2 483.5L101.9 481.8L100.3 481.1L98.5 481.9L98.6 482.9L97.7 483.2L95.7 483L93.4 481.8L92 482.1L91.6 481.1L92.8 480.3L91.8 478.4L89.2 477.3L87.1 476.6L85.9 476.8L84.5 475.2L85.9 474.7L84.4 473.7ZM104.7 478.7L106.9 478.4L108.7 477.1L109.7 477.1L108.9 478.5L106.9 479.4L105 479.3ZM107.8 475.1L109.3 475.8L110.5 477.6L109.9 477.4L108.8 476.1ZM112.5 478.4L114.1 479.9L113.5 480.3L112.8 479.2ZM114.9 480.4L118 481.6L119 482.4L117.4 482.1L115.2 481ZM119.8 482.2L121.1 483.9L120.6 484L120 482.9ZM118.8 483.2L120.2 483.5L119.6 483.9ZM121.1 484.3L122.1 484.8L121.2 484.8ZM127.3 490.3L128.1 490.6L127.9 491.1L127.4 490.9ZM128.1 491.5L129.5 492.3L129.1 492.7ZM129.4 493.4L129.9 493.5L129.6 493.9ZM124.2 496.6L126 497.9L127.9 499.3L127.1 499.3L124.4 497.2ZM140.6 493.4L142.1 493.7L141.6 494.4L140.5 494.1ZM142.3 492.3L144 491.8L143.4 492.5ZM61.6 498.9L62 502L61.5 502.6L62.5 504.2L63.5 508.2L64.3 510.8L64.2 513.1L63.5 514.1L65.5 515L67.2 515.1L69 514.2L70.9 513.5L74.1 513.6L75.9 512.1L78.5 511.6L80.8 510.9L83.5 510.7L85.8 511.4L87.4 512.1L88.5 514.5L89.4 514.7L89.5 513.5L91.3 512L91.8 513.2L91.7 515L92.6 514.6L92.1 515.7L93.9 516.1L94.2 517.8L95.2 518.7L96.4 519.1L97.8 519.3L99.4 518.8L100.5 518.6L101.4 519.4L102.4 520L103.9 518.7L105.6 518.3L106.8 518.1L107.1 516.2L108.1 514.1L108.9 512.5L109.9 511.3L110.7 509.2L111.3 506.6L110.7 503.9L110.5 502.7L108.7 501.4L107.8 499.7L106.2 499.2L105.3 496.9L103.1 495.6L102.1 494.5L101.7 492.6L101 490.3L100 489.3L98.8 487.6L97.9 485.3L97.5 485L96.9 486.4L96.4 487.8L96.3 490.3L95.4 493.2L94.2 493.2L93.2 492.5L91.7 491.8L90.5 491.3L89.2 490.3L88.9 489.9L89.5 488.7L90.5 486.9L89.5 486.4L87.6 486.6L85.8 486L85.3 485.8L84.3 485.7L83 487.1L82 487.8L81.4 490.2L80.2 490L78.8 489L77.2 489.2L75.9 490.5L74.1 492.1L72.8 493.4L72.4 494.4L70.9 496L68.4 496.6L66.1 497.3L65.6 497.2L63.7 498.1L62.4 499.2ZM100.1 522L102.5 522.5L104.7 522.3L104.6 523.6L104.1 525.1L102.9 525.6L101.7 525.5L100.9 524.1L100.3 522.8ZM134.9 514.2L136.1 515L136.9 516L137.5 517.2L138.4 516.8L138.9 517.9L140.3 518.6L142.1 518.3L141.9 519.4L141.4 520.2L140.3 520.5L140 521.4L138.9 522.6L138 523.1L137.4 522.8L137.9 522L137.3 521L136.3 520.3L137.2 519.5L137.3 517.8L136.9 516.8L135.8 515.7L134.9 514.4ZM134.9 521.8L136.6 522.4L136.9 523.2L135.9 524.7L135.1 525.6L133.2 526.5L132.6 528.3L131.4 529.2L129.6 529.3L127.5 528.8L127.3 527.9L128.6 526.8L129.7 526.1L132.2 524.9L133.3 523.6L134.1 522.4ZM173.7 445.4L175 445.6L174.2 445.1ZM173.8 447.4L175 446.9L175.2 447.7L174.1 448.4ZM173 445.8L173.7 445.9L173.2 446.3ZM169.1 444.5L169.6 444.3L169.4 444.7ZM282.2 536.8L284.6 537.8L285.2 539.2L284 539.6L281.7 539.8L280 539.8L279 539.3L280.2 538.4L281.1 537.2ZM292.4 535.1L294.6 535.2L294.1 536L292.5 536.2ZM275.2 523.4L275.7 523.5L275.8 525.2L275.2 525.1ZM261.8 444.7L262.2 444.2L264.1 443.2L266 443.1L267.9 443.5L269.7 444.3L271.6 445.8L275 446.9L274.7 447.2L272.8 447.2L270.3 446.3L269.7 445.9L268.5 445.1L265.4 444.8L263.8 444.8ZM274.8 447.2L277.2 447.2L279.6 447.8L282.1 448.9L282.4 449.3L279.6 449.3L277.8 449.5L275.9 449.1L274.9 449L275.7 448.5L276.8 448.2ZM270.3 449L272.4 449L272.3 449.6L270.6 449.4ZM283.7 448.9L285.7 449L285.6 449.5L283.8 449.5ZM290.4 458.5L291.5 458.4L291.4 459.4L290.4 459.3ZM270.3 438.7L271.1 438.9L270.6 439.1ZM270.7 440.6L271.3 441.4L271 441.7ZM272.6 441.7L273.3 442.4L272.8 442.6Z" fill="none" stroke="#000" stroke-width="1.1" stroke-linejoin="round"/>
<path d="M305 559.4L312.5 559.5L318.7 558.1L323.6 555.7L327.6 552L329.6 548.3L330.2 545.9L330.2 543.4L329.6 540.9L328.5 538.4L324.8 534.4L321.1 532L316.2 530.1L311.2 529.2L306.3 529.1L301.3 529.9L296.4 531.7L292.6 534L290.2 536.4L288.1 539.7L287.2 543.4L287.5 547.1L289.1 550.8L291.4 553.6L295.1 556.4L300.1 558.5L305 559.4M144.5 534.7L167.5 535.4L198.5 535.3L218.3 534.6L233.2 533.1L245.6 530.4L251 528.6L256.5 526.1L260.3 523.6L262.8 521.1L264 518.7L264 516.2L262.8 513.7L261.7 512.5L256.5 508.8L249.3 505.7L238.1 502.4L225.7 500L213.4 498.4L198.5 497.2L183.6 496.8L167.5 497L152.7 498L139 499.6L126.6 501.8L116.7 504.4L108.3 507.6L102 511.3L98.8 515L98.4 516.2L98.4 518.7L99.6 521.1L103.1 524.4L108.4 527.3L116.7 530.3L125.4 532.5L134.1 533.8L144.5 534.7M174.5 477.9L189.8 478.2L204.7 477.6L214.6 476.5L219 475.5L220.6 474.2L219 473L212.1 471.6L199.7 470.5L187.3 470.3L175 470.5L162.6 471.6L155.7 473L154.1 474.2L155.7 475.5L161.1 476.7L174.5 477.9M120.7 452L136.6 452.5L152.7 452.1L165.2 450.8L167.9 449.5L165.2 448.3L156.4 447.2L137.8 446.5L119.2 447.2L110.3 448.3L107.7 449.5L110.3 450.8L120.7 452M304.8 554.5L308.7 554.9L313.7 554.3L317.4 552.8L320.3 550.8L322.2 548.3L323.2 544.6L322.2 540.9L320.3 538.4L317.4 536.4L314.9 535.3L308.7 534.3L302.5 535.2L300.1 536.3L297.1 538.4L295.2 540.9L294.4 543.4L294.4 545.9L295.3 548.3L297.2 550.8L298.8 552.1L301.3 553.4L304.8 554.5M171.5 532.3L187.3 532.4L201 531.8L213.4 530.5L223.3 528.8L231.9 526.4L238.3 523.6L240.6 522.1L242.7 519.9L243.5 517.4L243.3 516.2L241.7 513.7L236.9 510.5L230.7 508L223.3 506L214.6 504.3L204.7 503.1L193.5 502.2L181.2 501.9L168.8 502.2L157.6 503.1L147.7 504.3L139 506L131.6 508L125.4 510.5L120.6 513.7L119 516.2L118.8 517.4L119.6 519.9L122.1 522.4L126.4 524.9L132.8 527.2L140.3 529.1L150.2 530.7L160.1 531.7L171.5 532.3M303.8 549.6L306.3 550.4L308.7 550.7L311.2 550.4L313.7 549.5L315.5 548.3L317.1 545.9L317.1 543.4L316.5 542.1L313.7 539.7L311.2 538.8L307.5 538.6L303.7 539.7L300.9 542.1L300.2 544.6L301 547.1L303.8 549.6M164.8 528.6L176.2 529.2L187.3 529.1L198.5 528.5L208.4 527.2L217.1 525.3L223.3 523.1L226.6 521.1L227.9 519.9L229 517.4L227.9 515L224.7 512.5L220.8 510.8L215.8 509.3L208.4 507.7L201 506.6L183.6 505.5L166.3 506.1L157.6 507.1L150.2 508.4L143.7 510L139 511.8L135.7 513.7L133.6 516.2L133.3 517.4L133.6 518.7L134.4 519.9L136.6 521.7L140.3 523.6L150.2 526.5L164.8 528.6M163.8 524.9L172.5 525.7L181.2 526L189.8 525.7L198.5 524.9L205.1 523.6L210.9 521.8L214.2 519.9L215.3 518.7L215.6 517.4L215.3 516.2L214.2 515L212.3 513.7L205.9 511.5L196 509.7L183.6 508.9L170 509.3L158.9 510.9L152.9 512.5L150.2 513.7L148.1 515L147 516.2L146.7 517.4L147 518.7L148.1 519.9L150 521.1L156.4 523.4L163.8 524.9M169.6 521.1L179.9 522.1L189.8 521.6L197.1 519.9L199.3 518.7L200 517.4L199.3 516.2L197.1 515L194.8 514.3L189.8 513.3L183.6 512.8L176.2 513L170 513.7L165.2 515L163 516.2L162.3 517.4L163 518.7L165.2 519.9L169.6 521.1" fill="none" stroke="#000" stroke-width="0.85"/><path d="M203.3 563.1L202.3 562.9L200.9 562.7L199.5 562.5L198.1 562.2M194.6 561.7L193.6 561.5L192.2 561.3L190.8 561.1L189.4 560.9M185.9 560.3L184.9 560.2L183.5 560L182.1 559.7L180.7 559.5M177.6 559L176.5 558.9L175.1 558.6L173.7 558.4L172.3 558.2M168.9 557.7L167.8 557.5L166.4 557.3L165 557.1L164 556.9L163.6 556.8M160 555.8L159.3 555.6L157.9 555L156.8 554.5L155.6 553.5L155.3 553.3M155 552.4L155 551.6L155.8 550.6L157 549.8L158 549.3L159.3 548.8L160.3 548.5M163.5 547.7L164.6 547.5L166.1 547.3L167.5 547L168.6 547L169 546.9M172.2 546.8L173.3 546.7L174.7 546.6L176.1 546.5L177.6 546.4M180.8 546.3L181.5 546.2L182.9 546.3L184.3 546.3L185.8 546.3L186.1 546.4M189.3 546.4L190.4 546.5L191.8 546.5L193.2 546.5L194.6 546.6M198.1 546.6L198.8 546.7L200.3 546.8L201.7 546.9L203.1 547M206.6 547.3L207.7 547.4L209.1 547.5L210.5 547.6L211.6 547.8L211.9 547.9M215 548.5L216.1 548.7L217.4 549L218.8 549.2L220.2 549.5L220.5 549.6M223.9 550.9L224.8 551.3L226.2 551.9L227.1 552.5L228.2 553.3M228.8 554.4L229.5 555.4L229.6 556.6L229.3 557.8L228.5 558.8L227.7 559.6L226.4 560.5L225.4 561L224.1 561.6L223.7 561.7M220.3 562.6L219.2 562.8L217.8 563.1L216.4 563.3L215.3 563.5M211.8 563.5L210.7 563.5L209.3 563.4L207.9 563.4L206.5 563.3M209.6 565.7L208.6 565.6L207.2 565.4L206.5 565.3M203.3 565L202.2 564.9L201.2 564.7L199.8 564.4L198.4 564.2L198 564.1M194.5 563.5L193.5 563.3L192.1 563L190.7 562.7L189.3 562.5M186.1 561.9L185.4 561.8L184 561.6L182.6 561.4L181.2 561.2L180.9 561.1M177.4 560.6L176.4 560.5L175 560.3L173.6 560.1L172.2 559.8M168.8 559.3L167.7 559.2L166.3 559L164.9 558.8L163.6 558.6M160.1 558.1L159.4 557.9L158 557.4L156.6 557L155.2 556.6L154.8 556.5M151.8 555.4L150.8 554.8L149.9 554.2L149 553.3L148.7 552L149.1 550.8L150.2 549.8L151.2 549.2L151.5 549M155 547.8L156.1 547.5L157.5 547.2L158.9 546.8L160.3 546.4M163.5 546L164.5 545.9L165.9 545.7L167.3 545.6L168.8 545.5M172.3 545.1L173.4 545L174.4 545L175.8 545L177.3 545M180.8 545L181.9 545L183.3 545L184.7 545L186.1 545M189.3 545L190.4 545L191.4 545L192.8 545.1L194.2 545.2L194.6 545.2M198.1 545.4L199.2 545.4L200.6 545.5L202 545.6L203.1 545.6M206.6 545.8L207.7 545.9L208.8 546L210.2 546.2L211.6 546.4L211.9 546.5M215.1 547L216.2 547.1L217.6 547.3L219 547.6L220.4 547.8M223.6 548.7L224.7 549L225.7 549.3L227.1 549.9L228.5 550.5L229.2 550.8M232.4 553.3L232.7 553.6L232.9 553.9L233.2 554.2L233.4 554.5M233.7 556.8L233.5 557.8L233 558.7L232.3 559.6M229.2 562L228.2 562.6L227.2 563L225.9 563.5L224.5 564L223.8 564.2M220.3 565L219.6 565.2L218.1 565.3L216.7 565.3L215.3 565.4M211.8 565.6L210.7 565.6L209.6 565.7M203.2 567.6L202.1 567.4L200.8 567.1L199.4 566.8L198 566.5M194.6 565.8L193.5 565.6L192.2 565.3L190.8 565L189.4 564.7M186 564L184.9 563.8L183.6 563.5L182.2 563.2L181.1 563L180.8 563M177.3 562.5L176.3 562.4L174.9 562.2L173.5 562L172.1 561.8M169 561.4L167.9 561.2L166.5 561L165.2 560.8L163.8 560.6L163.4 560.6M160.3 560.1L159.2 559.9L157.8 559.6L156.4 559.3L155 559M151.8 558.2L150.7 557.9L149.3 557.5L148.3 557.1L147 556.5L146.3 556.2M143.1 553.9L142.9 553.6L142.6 553.3L142.6 553.3M142.7 550.8L143 550.5M146.4 548.1L147.4 547.7L148.8 547.1L150.2 546.6L151.2 546.4L151.6 546.3M155 545.5L156 545.2L157.1 545.1L158.5 544.9L159.9 544.8L160.3 544.7M163.5 544.4L164.5 544.3L165.9 544.2L167.3 544L168.8 543.9M172.3 543.6L173.3 543.6L174.7 543.6L176.1 543.6L177.6 543.6M180.7 543.6L181.8 543.6L183.2 543.6L184.6 543.5L186 543.5M189.5 543.5L190.2 543.5L191.6 543.6L193 543.7L194.4 543.8L194.8 543.8M198 544L199 544L200.4 544.1L201.9 544.2L203.3 544.2M206.5 544.4L207.5 544.4L208.9 544.5L210 544.6L211.4 544.8L211.7 544.9M215.2 545.4L216.3 545.5L217.7 545.8L219.1 546L220.5 546.2M223.6 546.7L224.7 547L226.1 547.4L227.4 547.8L228.8 548.2L229.2 548.3M232.5 549.8L233.2 550.1L234.4 551L235.6 551.8L236.4 552.6L237.4 553.9L237.6 554.2M237.8 554.5L237.9 554.8L238 555.2L238 555.6L238.1 555.9M237.4 559.1L236.9 560.1L236.1 560.9L235 561.9L234.1 562.6L232.9 563.4L232.2 563.7M229.1 565.4L228.1 565.8L226.7 566.2L225.3 566.7L224 567.2L223.6 567.3M220.4 567.9L219.4 568.1L218.3 568.3L216.9 568.4L215.4 568.5L215 568.5M211.8 568.6L210.7 568.6L209.2 568.4L207.7 568.3L206.7 568.2M194.7 575.1L193.6 574.9L192.2 574.6L190.8 574.3M190.2 572.3L190.3 571.3L190.1 570.2L189.3 569.3M186.2 567.8L185.2 567.3L184.3 566.8L182.9 566.5L181.5 566.2L180.8 566.1M177.4 565.3L176.4 565.1L175 564.8L173.6 564.5L172.6 564.3L172.3 564.2M168.8 563.7L167.7 563.5L166.3 563.3L164.9 563.1L163.5 562.8M160.4 562.3L159.3 562.2L157.9 562L156.5 561.7L155.1 561.5M151.6 560.8L150.6 560.5L149.3 560.2L147.9 559.8L146.5 559.4M143.1 558.4L142.4 558.2L141.1 557.6L139.7 556.9L138.7 556.3L137.8 555.7M135.6 553.6L135.3 552.8L135.2 551.6L135.4 550.8M137.7 548.6L138.3 548.2L139.6 547.5L140.9 546.9L141.9 546.5L142.9 546.2M146.3 545.1L147.4 544.8L148.4 544.6L149.8 544.3L151.2 544.1L151.6 544M155.1 543.4L155.8 543.3L157.3 543.2L158.7 543.1L160.1 543M163.6 542.7L164.7 542.6L166.1 542.5L167.5 542.4L168.9 542.3M172.1 542L172.8 542L174.2 542L175.6 542L177 542L177.4 542M180.9 542.1L182 542.1L183.4 542.1L184.8 542.1L186.2 542.1M189.3 542.1L190.4 542.1L191.8 542.1L193.2 542.2L194.6 542.2M198.1 542.3L199.2 542.4L200.6 542.5L202 542.6L203.1 542.6M206.6 542.9L207.7 542.9L209.1 543L210.5 543.1L211.9 543.2M215.1 543.4L215.8 543.5L217.3 543.7L218.7 544L220.1 544.2L220.4 544.3M223.6 544.8L224.7 545L226.1 545.3L227.5 545.5L228.6 545.8L228.9 545.9M232.5 547L233.2 547.2L234.5 547.8L235.8 548.5L237.1 549.1L237.8 549.4M241 551.8L241.5 552.3L242.3 553.6L242.9 554.5L243.2 555.9L243.3 556.3M242.5 559.3L242.2 560.3L241.6 561.2L240.8 562.1M237.6 565.6L236.8 566.3L235.7 567.3L234.7 568.3L233.7 569.3L233.5 569.6M231.8 572.4L231.6 572.7L231.4 573M229.1 574.3L228 574.6L226.6 574.9L225.1 575.2L223.7 575.5L223.7 575.5M220.5 575.7L219.4 575.8L218 575.9L216.5 576L215.5 576.1L215.1 576.1M211.9 576.1L210.9 576.1L209.5 576.1L208 576.1L206.6 576.1M203.4 576L202.3 575.9L200.9 575.8L199.4 575.7L198 575.6M108.6 580.3L107.5 580.3L106.1 580.2L104.7 580.2L103.3 580.1M100.1 580L99 579.9L97.6 579.9L96.2 579.8L94.8 579.7M91.3 579.6L90.2 579.6L88.8 579.5L87.4 579.4L86.3 579.4M82.8 579.2L81.7 579.2L80.6 579.1L79.2 579L77.8 578.9L77.4 578.9M74.2 578.6L73.2 578.6L71.7 578.4L70.3 578.3L68.9 578.2M65.7 578L65 577.9L63.6 577.7L62.2 577.5L60.8 577.3L60.4 577.3M56.9 576.8L56.2 576.6L54.8 576L53.7 575.5L55.1 574.9L56.5 574.3L57.2 574.2M60.3 573.8L61.3 573.7L62.7 573.5L64.1 573.4L65.5 573.2M69 572.8L70 572.7L71.4 572.5L72.5 572.4L73.9 572.4L74.2 572.3M77.7 572.2L78.8 572.1L80.2 572.1L81.6 572L83 571.9M86.1 571.8L87.2 571.7L88.6 571.7L90 571.6L91.4 571.5M94.9 571.4L95.9 571.3L97.3 571.2L98.7 571.2L100.1 571.1M103.3 571L104.3 570.9L105.7 570.8L107.1 570.8L108.5 570.7M112 570.5L113.1 570.5L114.5 570.4L115.9 570.4L117.3 570.3M120.4 570.1L121.5 570.1L122.9 570L124.3 569.9L125.7 569.9M129.2 569.7L130.2 569.7L131.6 569.6L133 569.5L134.1 569.5L134.4 569.4M137.6 569.2L138.7 569.1L140.1 568.9L141.5 568.8L143 568.7M146.5 568.3L147.6 568.2L149 568.1L150 567.8L151.3 567.3L151.7 567.2M151.6 565.9L151 565.5L149.7 565L148.4 564.6L147 564.1L146.4 563.9M143 562.7L142.1 562.3L140.7 561.9L139.4 561.4L138.1 560.9L137.7 560.8M134.4 559.6L133.7 559.4L132.4 558.7L131 558L130 557.5L129.1 556.8M125.9 553.8L125.7 553.5L125.5 553.3M125.4 552.8L125.2 552L125.7 550.6L126.1 549.6M129.2 547.3L129.8 546.9L131.2 546.4L132.5 545.8L133.5 545.4L134.3 545.2M137.8 544.1L138.5 543.9L139.9 543.6L141.3 543.3L142.7 543L143.1 542.9M146.3 542.3L147.3 542.2L148.7 542.1L150.1 541.9L151.5 541.8M155 541.4L156.1 541.2L157.5 541.1L158.9 540.9L160.3 540.8M163.4 540.6L164.5 540.6L165.9 540.5L167.3 540.5L168.7 540.5M172.2 540.4L173.3 540.3L174.7 540.3L176.1 540.2L177.5 540.2M180.6 540.2L181.7 540.2L183.1 540.2L184.5 540.2L185.9 540.2M189.5 540.3L190.5 540.3L191.9 540.4L193.4 540.4L194.8 540.4M198 540.5L199 540.5L200.1 540.5L201.5 540.6L202.9 540.7L203.3 540.7M206.5 540.8L207.5 540.9L208.9 541L210.3 541L211.8 541.1M215.3 541.3L216.3 541.5L217.7 541.6L219.1 541.8L220.5 541.9M223.7 542.3L224.7 542.4L225.7 542.5L227.2 542.8L228.6 543.1L228.9 543.2M232.5 543.9L233.2 544.1L234.6 544.5L236 545L237.4 545.4L237.8 545.5M241.1 547L242.1 547.4L243.1 547.9L244.4 548.7L245.7 549.6L246.2 550M248.3 552L248.8 553L249.5 554.2L249.8 555.2L250 555.9M249.8 559.4L249.5 560.1L249.1 561.6L248.6 563L248.1 564.4L248.1 564.4M249.6 567.5L250.5 568.1L251.5 568.4L252.9 568.9L254.3 569.3L254.6 569.4M258.3 569.9L259.3 570.1L260.4 570.3L261.8 570.4L263.2 570.5L263.6 570.5M266.7 570.8L267.8 570.9L269.2 571L270.6 571.1L272 571.2M275.5 571.5L276.5 571.5L277.9 571.6L279.3 571.8L280.7 571.9M283.9 572.1L284.9 572.2L286.3 572.3L287.7 572.4L289.1 572.5M292.6 572.8L293.7 572.9L295.1 573L296.1 573.1L297.5 573.3L297.9 573.3M301.1 573.8L302.1 573.9L303.5 574.1L304.6 574.3L306 574.8L306.4 574.9M306.4 576.2L305.3 576.7L304.2 576.9L302.8 577.1L301.4 577.3L301 577.3M297.8 577.8L296.8 578L295.7 578L294.3 578.2L292.9 578.3L292.5 578.3M289.3 578.6L288.2 578.6L286.8 578.8L285.7 578.8L284.3 578.9L284 578.9M280.8 579.1L279.7 579.1L278.3 579.2L276.9 579.3L275.5 579.4M271.9 579.6L270.9 579.6L269.5 579.7L268 579.8L266.6 579.8M263.4 580L262.4 580.1L261.3 580.1L259.9 580.2L258.5 580.2L258.2 580.2M254.7 580.3L253.6 580.4L252.2 580.4L250.8 580.5L249.4 580.5M246.3 580.6L245.2 580.7L243.8 580.7L242.4 580.8L241 580.8M237.5 580.9L236.5 581L235.1 581L233.7 581L232.3 581.1M229.1 581.2L228.1 581.2L226.6 581.2L225.2 581.2L223.8 581.2M220.3 581.2L219.3 581.2L217.9 581.2L216.4 581.2L215 581.2M211.9 581.3L210.8 581.3L209.4 581.3L208 581.3L206.6 581.3M203.1 581.3L202 581.3L200.6 581.3L199.2 581.3L198.1 581.3M194.6 581.3L193.6 581.3L192.2 581.3L190.8 581.3L189.4 581.3M186.2 581.4L185.1 581.4L183.7 581.4L182.3 581.4L180.9 581.4M177.4 581.4L176.3 581.4L174.9 581.4L173.5 581.4L172.1 581.4M168.9 581.4L167.9 581.4L166.5 581.4L165.1 581.3L163.7 581.3M160.2 581.3L159.1 581.2L157.7 581.2L156.3 581.2L154.9 581.2M151.8 581.1L150.7 581.1L149.3 581.1L147.9 581.1L146.5 581M143 581L141.9 581L140.5 580.9L139.1 580.9L137.7 580.9M134.6 580.8L133.5 580.8L132.1 580.8L130.7 580.8L129.3 580.7M125.8 580.7L124.8 580.7L123.4 580.7L122 580.6L120.5 580.6M117.4 580.6L116.3 580.5L114.9 580.5L113.5 580.5L112.1 580.5" fill="none" stroke="#000" stroke-width="0.85"/><path d="M144.6 587.8L85.8 587.2L27.5 585.7M334.8 585.7L279 587.1L222.3 587.8M27.5 565L53.7 563.1L59.3 561.9L55.9 560.7L46.1 558.7L37.5 556.4L31.3 554L27.5 551.5M93.7 560.7L96.9 560.9L99.6 560.7L93.7 560.7M27.5 545.2L30.1 543.4L32.6 542.1L41.2 539.5L51.1 537.9L62.2 537.1L70.9 537.2L80.8 537.8L89.5 538.9L105.6 541.7L111.8 542.2L119.2 541.9L144 539.2L162.6 538.3L197.3 538.2L224.5 539L234.4 540L243.1 541.5L250 543.4L255.5 545.7L259.4 548.3L261.8 550.8L263.4 553.3L265.2 559.4L266.1 560.7L268 561.9L270.3 562.6L276.5 563.6L305 566.2L314.9 566.3L334.8 565.6" fill="none" stroke="#000" stroke-width="1.3"/><g transform="translate(150.18,530.73) rotate(9.3)"><rect x="-5.98" y="-4.88" width="11.96" height="9.77" fill="#fff"/><text x="0" y="3.10" font-size="8.6" text-anchor="middle" fill="#111">40</text></g><g transform="translate(233.18,533.07) rotate(-6.0)"><rect x="-5.98" y="-4.88" width="11.96" height="9.77" fill="#fff"/><text x="0" y="3.10" font-size="8.6" text-anchor="middle" fill="#111">20</text></g><g transform="translate(119.21,541.87) rotate(-0.4)"><rect x="-3.59" y="-4.88" width="7.18" height="9.77" fill="#fff"/><text x="0" y="3.10" font-size="8.6" text-anchor="middle" fill="#111">0</text></g><g transform="translate(179.91,540.14) rotate(-1.0)"><rect x="-8.37" y="-4.88" width="16.74" height="9.77" fill="#fff"/><text x="0" y="3.10" font-size="8.6" text-anchor="middle" fill="#111">-20</text></g><g transform="translate(136.24,554.50) rotate(31.0)"><rect x="-8.37" y="-4.88" width="16.74" height="9.77" fill="#fff"/><text x="0" y="3.10" font-size="8.6" text-anchor="middle" fill="#111">-40</text></g><g transform="translate(161.33,560.31) rotate(11.6)"><rect x="-8.37" y="-4.88" width="16.74" height="9.77" fill="#fff"/><text x="0" y="3.10" font-size="8.6" text-anchor="middle" fill="#111">-60</text></g><g transform="translate(248.74,566.85) rotate(45.5)"><rect x="-8.37" y="-4.88" width="16.74" height="9.77" fill="#fff"/><text x="0" y="3.10" font-size="8.6" text-anchor="middle" fill="#111">-20</text></g>
</g>
<clipPath id="ice"><rect x="39.90" y="483.10" width="56.70" height="93.80"/></clipPath>
<g clip-path="url(#ice)">
<rect x="39.90" y="483.10" width="56.70" height="93.80" fill="#f2b064"/>
<path d="M73.3 496.1L76.9 495.7L81.4 496L86.7 497.1L90.4 498.9L92.3 500.6L93.3 502.8L93.3 505.8L92.3 508.1L91.2 509.7L88.9 511.6L85.9 513.1L82.9 513.8L76.9 513.8L73.9 513L70.9 511.5L68.6 509.6L67.1 507.3L66.4 505.1L66.4 502.8L67.2 500.6L69 498.3L70.9 497L73.3 496.1Z" fill="#f4c876" fill-rule="evenodd"/><path d="M76.6 497.6L79.9 497.4L82.9 497.8L85.9 498.8L88.2 500.3L89.4 502.1L89.9 504.3L89.3 506.6L88.2 508.1L85.2 510.3L80.7 511.3L76.2 510.8L72.4 508.8L71 507.3L70.2 505.8L69.9 504.3L70.3 502.1L71.2 500.6L72.8 499.1L76.6 497.6Z" fill="#f1de88" fill-rule="evenodd"/><path d="M76.2 499.1L78.4 498.6L81.4 498.7L83.7 499.2L85.9 500.5L87.4 502.1L87.9 503.6L87.8 505.1L87.1 506.6L85.2 508.5L81.4 509.8L77.7 509.7L74.7 508.5L72.7 506.6L72 505.1L71.9 503.6L73.2 501L76.2 499.1Z" fill="#f0ecb4" fill-rule="evenodd"/><path d="M77.4 499.8L81.4 499.7L83.7 500.4L85.1 501.3L86.4 503.6L86.3 505.1L85.4 506.6L83.3 508.1L80.7 508.8L77.7 508.5L75.2 507.3L73.5 505.1L73.6 502.8L75.4 500.8L77.4 499.8Z" fill="#eaf2e4" fill-rule="evenodd"/><path d="M78.5 500.6L81.4 500.6L84.2 502.1L85 504.3L84.4 505.8L83.7 506.6L81.4 507.7L79.2 507.8L76.9 507.1L75.4 505.9L74.8 504.3L75.1 502.8L76.5 501.3L78.5 500.6Z" fill="#d6f0f0" fill-rule="evenodd"/><path d="M77.4 502.1L79.9 501.4L82.2 502L83.6 503.6L83.4 505.1L82.2 506.3L80.7 506.8L77.7 506.3L76.4 505.1L76.1 504.3L76.6 502.8L77.4 502.1Z" fill="#bee2eb" fill-rule="evenodd"/><path d="M78.8 502.8L79.9 502.6L81.4 503.1L82 504.3L81.5 505.1L79.9 505.6L78.3 505.1L77.8 504.3L77.9 503.6L78.8 502.8Z" fill="#a7d2e2" fill-rule="evenodd"/><path d="M80.7 484.8L83.7 484.3L86.7 484.4L91.9 485.7L94 487.1L95.3 488.6L95.9 490.1L95.7 491.6L94.6 493.1L93.4 493.8L89.7 494.6L82.9 494L77.8 492.3L75.8 490.8L75.4 490.1L75.4 488.6L77.3 486.3L80.7 484.8ZM66.9 525.3L72.4 525.8L78.4 528.1L82.9 531.5L86.9 536.6L88.3 539.6L89.5 543.3L90.1 547.1L90.1 550.8L88.7 557.6L85.3 564.3L85 565.8L85.5 566.6L87.4 567.4L97.9 568.7L97.9 578.6L37.9 578.6L37.9 568.7L48.4 567.5L50.6 566.6L51.1 565.8L50.8 564.3L48 558.3L47 552.3L47.2 548.6L48 545.6L50.9 538.8L55.1 532.5L58.9 528.4L62.6 526.2L66.9 525.3Z" fill="#f09856" fill-rule="evenodd"/><path d="M64.9 533.6L67.9 533.3L70.9 533.6L73.9 534.6L76.2 536L78.4 538L80.2 540.3L81.6 543.3L82.4 546.3L82.6 549.3L82.3 552.3L81.4 555.3L79.9 558.3L77.7 561L75.4 562.7L73.2 563.9L70.2 564.9L67.2 565.1L64.9 564.7L62.6 563.9L59.6 562.2L57.4 560.1L55.6 557.6L53.7 552.3L53.4 549.3L53.7 546.3L54.5 543.3L56 540.3L59.6 536.1L61.9 534.7L64.9 533.6ZM60.4 569.6L65.7 569L70.2 569L97.9 571.8L97.9 578.6L37.9 578.6L37.9 571.8L60.4 569.6Z" fill="#eb7e46" fill-rule="evenodd"/><path d="M63.8 538.1L67.9 537.4L71.7 538.3L75.4 541.1L77.6 544.8L78.3 549.3L77.3 553.8L74.7 557.5L70.9 559.7L68.7 560.2L66.4 560.1L62.6 558.8L59.6 556.1L57.5 552.3L56.9 547.8L57.8 544.1L60.3 540.3L63.8 538.1ZM55.9 571.8L64.2 571.3L71.7 571.3L94.1 573.3L97.9 574.1L97.9 578.1L95.5 578.6L40.3 578.6L37.9 578.1L37.9 574.1L44.6 573L55.9 571.8Z" fill="#e6643c" fill-rule="evenodd"/><path d="M65.5 540.3L68.6 540.4L71.6 541.8L73.6 544.1L74.8 547.1L74.7 550.1L73.5 553.1L71.7 555L68.7 556.3L65.7 556.2L62.6 554.7L60.6 552.3L59.5 549.3L59.5 546.3L60.8 543.3L62.6 541.5L65.5 540.3ZM55 573.3L66.4 572.7L77.7 573.1L89.7 574.7L91.9 575.6L92.2 576.3L90.9 577.1L88.1 577.8L82.2 578.6L53.6 578.6L47.6 577.8L44.9 577.1L43.6 576.3L43.9 575.6L45.6 574.8L55 573.3Z" fill="#dc4832" fill-rule="evenodd"/><path d="M65.3 542.6L67.2 542.4L69.4 543.2L70.9 544.6L71.8 546.3L72 548.6L71.7 550.2L70.2 552.2L68.6 553.1L66.4 553.4L64.2 552.6L62.6 551.3L61.6 549.3L61.4 547.1L62.2 544.8L63.4 543.5L65.3 542.6ZM65.7 574.1L71.6 574.2L78.5 574.8L81.3 575.6L81.5 576.3L76.9 577.4L67.9 577.9L58.9 577.4L54.3 576.3L54.5 575.6L57.3 574.8L65.7 574.1Z" fill="#cd2e2c" fill-rule="evenodd"/><path d="M65.6 544.8L67.9 545.1L68.7 545.7L69.4 547.1L68.9 549.3L67.2 550.6L64.9 550.1L63.8 548.6L63.9 546.3L65.6 544.8Z" fill="#b91e28" fill-rule="evenodd"/>
<path d="M68.1 482.1L68.1 483.9L67.3 490.2L66.5 498.1L64.9 506L64.1 512.3L61.8 518.6L58.6 523.3L57.8 528L57.1 534.3L56.3 539L53.9 543.7L52.3 548.5L52.3 553.2L53.1 557.9L56.3 561.8L60.2 563.4L68.1 565L75.9 566.6L82.2 566.6L77.5 565L71.2 562.6L70.4 560.3L73.6 556.3L75.2 551.6L76.7 546.9L75.9 543L78.3 540.6L82.2 539L83.8 535.1L82.2 532.7L87 531.9L90.9 529.6L95.6 528L97.9 528M95.6 528L89.9 528.7L83.8 528L74.4 527.2L70.4 528M64.9 522.5L67.3 523.3L69.6 528L71.4 529.6L70.4 531.2L65.7 533.5L63.3 531.2L64.1 526.4ZM60.2 563.4L63.9 562.1L67.9 561.6L70.4 562.6L65.9 563.9Z" fill="none" stroke="#222" stroke-width="0.45"/>
</g>
<rect x="39.90" y="483.10" width="56.70" height="93.80" fill="none" stroke="#1a1a1a" stroke-width="1"/>
<clipPath id="clipf"><rect x="378.30" y="434.70" width="297.30" height="148.20"/></clipPath>
<g clip-path="url(#clipf)">
<rect x="378.30" y="434.70" width="297.30" height="148.20" fill="#e47e56"/>
<path d="M463.4 553.3L493.5 554.2L525.7 553.7L549.1 552L556.2 550.8L558.3 549.6L555.4 548L546.8 546.4L531.9 545.1L517 544.9L477.4 546.6L462.5 549.1L447.7 550.8L450.4 552L463.4 553.3ZM526.2 543.4L551.7 544.5L577.7 543.9L603.8 541.4L609.9 540.1L613.6 538.4L614.9 537.1L615.8 534.7L617 522.4L619.1 515L625.7 502.6L636.7 487.8L641.8 469.3L647.1 458.6L650.8 453.7L654.5 449.9L659.5 446.1L663.2 444.2L668.2 442.5L673.1 441.9L680.6 443L680.6 429.8L493.7 429.8L497 459.4L497.2 473L495.1 486.6L489.2 503.9L488.9 507.6L490.6 510L498.5 516.7L501.2 521.1L501.8 526.1L500.9 529.8L498.5 536L499.2 538.4L501.3 539.7L506.4 540.9L526.2 543.4Z" fill="#e68d5a" fill-rule="evenodd"/><path d="M470.7 553.3L497.2 553.8L526.4 553.3L543.1 552L550.1 550.8L551.3 549.6L545.5 548L533.1 546.7L503.4 546.1L476.2 547.1L453.7 550.8L456.1 552L470.7 553.3ZM540.9 536L555.4 537.1L569.1 536.2L580 533.5L582.7 532.2L585.6 529.8L586.7 527.3L586.5 524.9L582.8 517.4L582.6 513.7L585.4 510L598.8 498.9L602 494L602.8 490.3L601.9 485.3L597.6 476.4L593.8 471.4L588.5 466.8L581.7 463.1L574 460.7L566.6 459.7L557.9 460.1L549.9 461.9L543.1 464.8L536.9 469L532.2 474.2L530.1 477.9L528.5 482.9L528.2 487.8L528.7 491.5L529.9 495.2L531.9 498.8L540.4 508.8L542 512.5L541.7 513.7L540 516.2L529.2 524.9L527.6 528.6L528.6 531L530.7 532.7L535.5 534.7L540.9 536Z" fill="#e99c60" fill-rule="evenodd"/><path d="M479.9 553.3L504.7 553.5L525.7 552.7L541.8 551.2L544.4 550.8L545.4 549.6L540.3 548.3L527 547.1L498.5 546.6L478.6 547.2L458.3 550.8L461.5 552L479.9 553.3ZM564.5 498.9L574 499.5L582.7 497.9L586.4 496.2L588.9 494.1L589.7 492.7L589.9 490.3L588.3 487.8L586.4 486.3L579 483.7L569.1 483.1L560.4 484.8L555 487.8L553.3 490.3L553.5 492.7L555.4 495.2L557.2 496.4L564.5 498.9Z" fill="#ebab69" fill-rule="evenodd"/><path d="M467.5 552L489.8 553L512.1 552.8L528.7 552L538.1 550.8L539.2 549.6L533 548.3L522 547.5L492.3 547.1L473.7 548.2L462.6 550.8L467.5 552ZM566.2 494L570.3 495L575.3 494.9L579 493.8L580.4 492.7L580.9 491.5L580.5 490.3L577.7 488.6L574 487.8L570.3 487.9L566.6 488.8L564.3 490.3L563.9 491.5L564.4 492.7L566.2 494Z" fill="#ecba73" fill-rule="evenodd"/><path d="M475.3 552L493.5 552.5L516 552L529.5 550.8L531.4 549.6L519.5 548.1L492.3 547.6L477.2 548.3L470 549.6L467.5 550.8L475.3 552Z" fill="#eec97e" fill-rule="evenodd"/><path d="M474.4 550.8L486.1 551.7L497.2 551.8L513.5 550.8L518 549.6L505.9 548.3L488.1 548.3L475.5 549.6L474.4 550.8Z" fill="#f0d88e" fill-rule="evenodd"/><path d="M373.3 587.8L680.6 587.8L680.6 540.3L678.8 537.2L680.3 531L680.2 528.6L678.7 524.9L674.4 520.6L662.8 513.7L652.1 505.9L649.6 504.9L645.9 504.5L640.9 505.5L636 508.3L631.3 513.7L628.2 519.9L626.9 526.1L627.6 532.3L629.8 536.7L635.6 543.4L636.5 544.6L636.6 545.9L635 547.1L629.8 548.2L618.6 548.9L575.3 549.5L555.9 552L529.4 553.9L505.9 554.5L482.4 554.4L456.2 553.3L443.3 552L436.4 550.8L439 550.3L460.1 549.1L476.2 546.4L503 544.6L502.2 543.4L499.7 542.9L486.1 541.8L457.6 541.6L444 542.6L437.8 543.8L432.3 545.9L429.8 548.3L427.9 549L400.6 548.9L395.6 548.3L390.7 545L385.7 543.1L382 542.6L377.1 542.9L373.3 543.8L373.3 587.8ZM654.6 494L657 494.4L659.5 493.2L661 491.5L662.1 489L662.4 486.6L662 484L660.6 481.6L658.3 480.1L655.8 480.1L654.5 480.7L652.5 482.9L651.6 485.3L651.9 490.3L653.2 492.7L654.6 494ZM424.3 450.8L426.6 450.8L427.3 449.5L425.3 448.3L423.7 449.5L424.3 450.8Z" fill="#e17055" fill-rule="evenodd"/><path d="M373.3 587.8L680.6 587.8L680.6 544.4L670.6 537.2L670.4 536L672.1 531L672.1 528.6L671 526.1L668.9 523.6L664.5 520.4L653.3 513.8L649.6 512.1L645.9 511.5L640.9 512.5L637.2 515.2L633.8 519.9L632.2 526.1L632.9 531L636 535.8L639.7 538.6L648.3 542.1L649.5 543.4L649.2 545.9L647.1 549.2L644.6 550.7L642.2 551.1L624.8 551.7L576.5 551.6L520.8 554.6L478.6 554.6L429.1 552.1L395.6 551.8L392.2 550.8L390.4 547.1L387 544.8L383.3 543.8L378.3 543.8L373.3 545.4L373.3 587.8ZM437.3 548.3L444 549.4L455.1 549.3L474.9 546.3L496.8 544.6L495.8 543.4L486.1 542.4L452.6 542.5L444 543.5L439 544.8L436.7 545.9L435.7 547.1L437.3 548.3Z" fill="#dc6155" fill-rule="evenodd"/><path d="M373.3 587.8L680.6 587.8L680.6 546.8L676.8 543.5L673.1 541.5L668.2 540L662 539.3L658.3 540.2L655.8 542.2L653.3 545L649.6 550.8L648.3 551.8L643.4 553.1L576.5 552.7L523.2 554.9L489.8 555.2L434 553.6L391.9 553.4L389.4 552.8L388.7 552L389.3 548.3L387 545.9L383.3 544.6L379.5 544.5L375.8 545.2L373.3 546.7L373.3 587.8ZM440.6 548.3L447.7 549.2L456.3 549L474.9 546L492.5 544.6L491.2 543.4L483.6 542.7L453.9 542.8L445.2 543.9L440.2 545.3L439.1 545.9L438.3 547.1L440.6 548.3ZM646.9 537.2L654.5 537.9L659.5 536.9L663.8 533.5L665.6 529.8L664.3 526.1L659.5 521.9L652.1 517.8L645.9 516.5L642.2 517.5L639.1 519.9L637 523.6L636.5 527.3L637.5 531L639.4 533.5L643.1 536L646.9 537.2Z" fill="#d45256" fill-rule="evenodd"/><path d="M373.3 585.4L373.3 586.1L680.6 586.1L680.6 549.3L677.8 545.9L674.4 543.5L669.4 541.7L665.7 541.3L662 541.7L658.3 543.2L655 545.9L650.8 552.3L648.3 553.7L643.4 554.5L580.2 553.5L508.4 555.6L393.2 554.8L386.1 554.5L382.9 553.3L384.5 552.8L387 550.9L387.9 549.6L388 548.3L387.3 547.1L385.3 545.9L379.5 545L375.8 546L374.3 547.1L373.6 548.3L373.7 549.6L374.6 550.9L377.1 552.8L378.7 553.3L375.8 554.4L373.3 554.6L373.3 585.4ZM443.1 548.3L448.9 548.9L456.3 548.8L473.7 545.8L488.7 544.6L487 543.4L481.1 543L455.1 543.1L446.4 544.1L441 545.9L440.2 547.1L443.1 548.3ZM647.4 533.5L652.1 533.8L656.8 532.3L658.8 529.8L658.6 527.3L656.6 524.9L652.1 522.1L648.3 521.1L644.6 521.7L643.4 522.4L641.5 524.9L641.4 528.6L643.4 531.5L647.4 533.5Z" fill="#c8435a" fill-rule="evenodd"/><path d="M373.3 584.1L680.6 584.3L680.6 552.1L678.6 548.3L675.6 545.4L670.6 543.1L665.7 542.5L660.7 543.4L657 545.7L654.8 548.3L652.2 553.3L650.8 554.2L644.6 555.5L580.2 554.1L508.4 556.2L373.3 555.9L373.3 584.1ZM376.2 550.8L379.5 551.9L383.3 551.7L385.7 550.5L386.6 549.6L386.8 548.3L386 547.1L383.4 545.9L378.3 545.8L375.5 547.1L374.8 548.3L374.9 549.6L376.2 550.8ZM445.5 548.3L456.3 548.6L472.4 545.7L485.1 544.6L482.5 543.4L477.4 543.1L462.5 543.1L452.6 543.6L446.4 544.5L442.5 545.9L441.8 547.1L445.5 548.3Z" fill="#ba3860" fill-rule="evenodd"/><path d="M373.3 581.7L373.3 582.6L680.6 582.6L680.6 554.4L677.3 548.3L674.8 545.9L670.6 543.9L665.7 543.4L662 544L658.3 546L656.1 548.3L653.9 553.3L652.1 555.1L649.6 556L645.9 556.5L580.2 554.7L517 556.8L373.3 556.9L373.3 581.7ZM378.1 550.8L380.8 551.3L383.3 550.9L385.4 549.6L385.7 548.3L384.8 547.1L383.3 546.4L380.8 546.1L378.3 546.4L376.8 547.1L375.8 548.3L376.2 549.6L378.1 550.8ZM448.2 548.3L458.8 548.1L471.2 545.5L481.2 544.6L475.8 543.4L455.1 543.7L446.4 545L443.9 545.9L443.3 547.1L448.2 548.3Z" fill="#a82e64" fill-rule="evenodd"/><path d="M373.3 580.4L373.3 580.8L440.2 581L680.6 580.8L680.6 556.1L678.9 554.5L677 549.6L675 547.1L671.9 545.2L666.9 544.1L662 544.9L658.4 547.1L656.6 549.6L654.8 554.5L653.3 555.9L650.8 556.9L645.9 557.5L580.2 555.1L517 557.8L373.3 558L373.3 580.4ZM377.5 549.6L379.5 550.4L382 550.4L384.1 549.6L384.6 548.3L383.3 547.1L379.5 546.7L378.2 547.1L377 548.3L377.5 549.6ZM444.6 547.1L450.1 548.2L456.3 548.1L463.7 547.1L470 545.3L476.8 544.6L468.7 543.7L455.1 543.9L446.4 545.4L445.2 545.9L444.6 547.1Z" fill="#982869" fill-rule="evenodd"/><path d="M431.5 579.2L680.6 579L680.6 557.7L678.1 555.7L675.9 549.6L674.4 547.6L670.6 545.5L666.9 544.8L663.2 545.3L659.5 547.3L657.7 549.6L656.3 554.5L654.5 556.7L652.1 557.9L647.1 558.8L634.7 558.6L595.1 556L580.2 555.5L517 559L373.3 559.4L373.3 579L431.5 579.2ZM379.3 549.6L382 549.6L383.3 548.3L382 547.6L379.5 547.6L378.3 548.3L379.3 549.6ZM445.9 547.1L451.4 548L457.6 547.8L472.5 544.6L463.8 543.9L453.9 544.3L446.4 545.8L445.9 547.1Z" fill="#88236e" fill-rule="evenodd"/><path d="M373.3 576.7L497.2 577.3L680.6 577L680.6 560.3L676.8 556.7L675.5 550.8L674 548.3L670.6 546.2L665.7 545.5L662 546.5L659.6 548.3L658.2 550.8L657.3 555.7L655.8 557.9L652.1 560.4L647.1 561.8L637.2 561.5L623.8 559.4L601.4 557L579 555.9L561 557L519.5 561.7L373.3 564.2L373.3 576.7ZM447.2 547.1L452.6 547.8L458.8 547.5L468.7 544.6L461.3 544.2L453.9 544.5L447.6 545.9L447.2 547.1Z" fill="#781e6a" fill-rule="evenodd"/><path d="M438.9 574.3L580.2 574.4L680.6 573.7L680.6 569.6L525.7 568.8L373.3 569.7L373.3 573.6L438.9 574.3ZM577.6 564.4L593.8 563.8L605 562.2L611.2 560.7L610.7 559.4L605.3 558.2L592.6 556.8L580.2 556.3L567.8 556.9L557.4 558.2L552.5 559.4L551.6 560.7L556.7 562.2L565.4 563.6L577.6 564.4ZM661.7 561.9L665.7 562.6L669.4 562.4L674.6 560.7L675.3 559.4L674.8 552L673.9 549.6L672.9 548.3L670.6 546.9L666.9 546.2L663.2 546.8L660.7 548.3L659.2 550.8L658.3 559.4L658.9 560.7L661.7 561.9ZM448.7 547.1L453.9 547.6L460 547.1L464 545.9L465 544.6L453.9 544.8L448.9 545.9L448.7 547.1Z" fill="#681a64" fill-rule="evenodd"/><path d="M576.5 563.1L593.8 562.4L602.3 560.7L603.3 559.4L599.5 558.2L593.8 557.4L580.2 556.7L567.8 557.4L562.5 558.2L558.8 559.4L559.5 560.7L564.1 561.9L576.5 563.1ZM662.4 559.4L666.9 560.4L669.4 560.1L671.9 559L673.1 556.7L673.8 552L673.1 550L671.9 548.5L669.4 547.2L665.7 546.9L663.2 547.6L660.8 549.6L660 552L660.2 554.5L661.2 558.2L662.4 559.4ZM450.4 547.1L457.6 547.2L462.6 545.9L460.1 544.8L455.1 545L450.2 545.9L450.4 547.1Z" fill="#56155a" fill-rule="evenodd"/><path d="M571.1 561.9L579 562.4L587.6 562.1L596.6 560.7L598.2 559.4L592.6 557.9L580.2 557.1L567.8 558L563.4 559.4L564.7 560.7L571.1 561.9ZM665.2 558.2L666.9 558.4L669.4 557.9L671.9 555.4L672.6 553.3L672.5 550.8L670.2 548.3L666.9 547.5L664.5 547.9L662 549.5L661.3 550.8L661.2 553.3L662 555.5L663.2 557.2L665.2 558.2ZM453.4 547.1L460.9 545.9L457.6 545.3L451.8 545.9L453.4 547.1Z" fill="#44104e" fill-rule="evenodd"/><path d="M569.4 560.7L576.5 561.6L583.9 561.6L591.7 560.7L593.9 559.4L588.9 558L576.5 557.7L571.1 558.2L567.5 559.4L569.4 560.7ZM664.3 555.7L665.7 556.4L668.2 556.3L670.6 554.6L671.6 552L670.5 549.6L666.9 548.3L663.2 549.6L662.2 552L663.1 554.5L664.3 555.7ZM454.2 545.9L458.5 545.9L454.2 545.9Z" fill="#340e42" fill-rule="evenodd"/><path d="M575 560.7L585.2 560.8L589.6 559.4L584 558.2L580.2 558.1L576.5 558.3L571.6 559.4L575 560.7ZM665.6 554.5L668.2 554.5L669.4 553.7L670.2 552L669.4 550.2L666.9 549.2L665.2 549.6L663.8 550.8L663.6 552L664.1 553.3L665.6 554.5Z" fill="#280a37" fill-rule="evenodd"/>
<path d="M375.8 444.6L378.3 444.6L380.2 444L381.1 445.8L382.6 447.7L383.6 448.9L383.9 451.7L385.1 452.2L387 451.4L387.8 452.6L388.5 455.7L389 459.4L388.6 461.6L389.7 463.1L391.1 464.3L391.2 466.8L392.3 468.3L393.8 469.4L395 470.1L396 470L394.9 466.8L394.3 464.8L392.9 464.1L391.1 461.3L389.7 460L389.7 458.4L390.7 456.3L390.8 455.1L391.8 455.2L391.8 456.2L393.5 456.7L395 458.7L396.4 458.9L396.6 461L397 461.1L398.5 460L399.4 458.8L401.6 457.8L402.1 456.3L402.2 454.8L401.6 452.7L400 451.4L398.7 449.8L397.7 448.4L398.7 446.8L400 445.4L401.2 445.1L402.5 445.2L403 446.6L403.7 446.7L403.8 445.6L405.3 445.1L406.8 444.3L407.5 443.8L408.4 444.2L409.9 443.6L411.5 443.1L412.7 441.9L413.7 441.4L415 440.3L415.2 438.9L416.1 438L416.9 436.8L417.8 435.7L418.2 434.7L417.9 432.2M573 434.1L573.8 436.2L575.8 437.4L576.9 438.9L578.6 440.1L579 441.5L581 443L582.1 444.3L582.4 445.2L582.1 446.3L583.1 447.2L584.7 448.2L586.4 449.3L587.6 450L590.1 451.1L592 452.1L593.8 452L596.3 452.2L599.2 453.7L600.8 454.6L602.5 455.2L604.1 455.6L605.5 456.4L606.6 458.2L608 459.4L609.3 460L609.9 461.5L610.6 461.9L612.4 461.5L613.4 461.9L614.7 462.7L615.9 462.5L616.8 461.3L616.5 462.4L616.8 463.6L616.9 465.6L616.5 467.4L615.4 468.8L614.9 469.8L613.5 470.6L613.2 471.6L612.5 473L612.7 474.5L613.3 475L613 476.7L612.2 477.8L612.5 479.2L614 480.6L615.3 482.4L616.4 484.3L617.4 486.6L618.4 488.7L620.5 490.6L622.3 491.9L624.6 493.4L625.7 495.2L625.8 497.7L625.6 500.2L625.4 502.6L625.1 505.1L624.4 507.6L624.2 509.4L624.1 511.9L623.8 513.6L623.2 515.1L622.8 516.5L621.7 517.8L621.8 519.3L621.3 521.1L621.5 522.6L621.5 524.1L621.6 525.8L620.1 527.2L619.5 528.3L620.1 529.7L620.6 531L620.6 532.9L620.6 535.1L621.7 536.5L622.7 537.1L623.8 537.9L624.8 538.3L625.4 537.6L626.3 536.6L628 536.3L626.9 535.7L627.9 535L627.5 534L628.5 533L629.1 531.9L631.3 531L630.4 530.2L629 529.3L629.4 527.4L631.7 527.2L632.7 525.5L633.9 524.6L632 524.1L632.6 523.1L632.2 522.4L635.6 522.1L635.7 520.9L636 519.8L637.8 519.8L640.3 519.2L641.7 517.8L642.6 516.6L641.9 515.5L640.7 514.1L642 514.7L642.9 514.2L644.9 514.7L646.5 514.5L647.7 513.2L649.6 511L651.1 508.8L652.3 506.9L652.6 505.8L654.3 503.5L655.8 502.1L657 500.9L659 500.2L660.7 499.7L662 498.3L663.5 496.4L664 495L664.5 493.4L664.7 490.3L665.1 487.8L666.4 487.1L667.5 485L668.8 483.5L669.7 481.6L669.4 479.8L668.8 478.3L666.9 477.6L665.1 476.4L663.2 475.2L660.7 475.3L659.7 475L657 474L655.2 473L653.3 473L651.8 472.4L650.8 471.8L650.8 469.9L650 469.3L649.2 466.8L648.3 465.8L646.5 465L645.3 464.6L642.5 464.6L640.9 463.2L638.4 461.4L637.2 460.6L636.2 459.6L635.3 458.9L632.5 458.5L631 458.7L628.9 458.5L627.7 457.7L626.3 457.4L624.9 458.2L624.2 458.8L624.7 460.3L623.9 459.4L624.2 458.2L623.9 457.2L623.2 456.4L621.8 457.5L620.5 458.2L619.5 458.2L619 458.7L618.7 460L617.6 461.1L616.8 461.3L616.4 460.6L615 460L613.9 460.3L613.2 460.6L611.6 459.5L609.3 458.2L609.5 456.3L609.2 454.5L609.7 453.2L608 452.1L606.6 452.2L603.5 452.2L603 452.1L603.5 451.5L603.5 449.6L604.2 448.8L604.5 447.1L605.2 445.2L604.4 445.2L602.4 445.4L600.8 445.9L600.7 447.4L599.2 448.8L596.9 448.9L594.5 448.8L593.5 447.7L592.1 445.9L591.7 444.2L591.9 441.7L592.4 439.9L592.1 438.8L591.9 437.2L593.1 436.1L595.1 435.2L596.9 434.9L599.2 434.1M607.7 434.1L608.7 434.8L610.3 435.9L610.2 437.3L610.8 438.7L611.4 439.8L612.8 440.6L613.4 440.5L613.7 438.7L612.7 437.4L611.9 435.9L611.8 434.1M568.6 434.1L569.4 435.3L570.3 436.4L571.4 437.4L572.3 438.8L573.5 439.6L573.9 441.1L575.3 442.6L576.4 443.5L576.7 443.3L576.5 442.2L574.8 441.5L574.3 439.6L573.4 438.4L572 436.1L571 434.7L570.7 434.1M375.8 553.9L378.3 553.9L384.5 553.5L390.7 553.3L396.9 553L403.1 553.5L409.3 554.2L415.5 554L421.7 553.5L427.9 553.4L434 553.3L440.2 554.1L446.4 554.7L452.6 556L458.8 556.7L465 557.7L471.2 558.9L477.4 560.1L478 561.3L474.9 562.5L471.2 564.4L467.5 566.8L466.3 569.3L467.5 573L472.4 575.5L483.6 576.7L496 577L508.4 577.1L520.8 576.7L529.4 575.5L527 571.8L531.9 568.1L539.3 565.6L549.2 565L557.9 563.8L570.3 563.8L582.7 563.1L591.4 562.5L601.3 561.9L611.2 562.3L617.4 561.9L622.3 559.4L626.1 557.6L629.8 554.5L632.2 553L636 551.4L640.9 550.2L644.6 549.8L642.2 551.4L638.4 553.3L634.7 556.3L635.3 559.4L637.2 563.9L632.2 565.6L629.4 566.8L638.4 567.5L653.3 568.1L663.2 567.8L675.6 566.4L678.1 565.6M401.3 448L402.1 449.1L403.2 449L404.2 447.5L403.8 446.9L402.6 447.1L401.5 447.5ZM415.6 443.3L416.3 444.6L417.2 443.6L417.8 441.4L417.4 440.5L416.7 440.9L415.7 442.4ZM416.2 448.9L418.2 448.9L418.2 450.8L417.4 452.2L417.6 454.2L418.6 454.5L419.4 455L420.5 456.2L419.6 455.7L418.7 455.4L417.6 454.6L416.2 454.6L416.2 453.5L415.2 452.1L415.8 451.7L416 450.1ZM417.9 463.1L419.2 462.4L420 461.9L421 461.1L422.2 459.6L423.5 462.5L423.1 464L422.2 464.8L420.7 464.1L420.3 462.7L418.9 462.6L418.2 463.2ZM420.8 456.3L422.5 457.8L421.7 459.4L421 458.4L421.2 457.4ZM417.8 457.1L419.3 457.9L418.8 458.9L417.9 458.8ZM419.1 458.3L419.9 458.9L419.3 460.5L418.4 459.5ZM420.3 457.9L420.4 459.2L419.7 459.9L419.8 458.8ZM415.8 455.1L417.3 455.3L416.9 456.7L416 456.1ZM412 461.4L415 457.7L414.5 459L412.4 461.6ZM401.8 469.9L402.6 472L403.3 473.8L403.2 475.3L405.2 475.5L406.8 475.7L408.6 476.1L410.5 476.6L411.1 474.5L412.4 472.6L412.7 470.5L414.1 470.4L412.9 469L412.6 467.1L413.7 466.3L414.5 465.3L412.6 464.2L411.7 463.1L410.9 463.6L409.8 465.3L408.3 466.2L406.8 467.8L404.7 468.8L404.1 469.9L402.6 469.4ZM384.9 464.8L387.6 465.3L389.1 467.2L391.2 469L392.4 469.5L394.5 471.3L395.4 473L396.3 474L397.9 475.5L398.1 477.3L397.9 478.9L396.4 479L393.5 476.7L391.9 474.8L390.9 472.7L389.8 471.5L388.8 469.5L387.2 467.8L385.7 466.2L384.9 465.2ZM397.1 480.1L398.1 479L399.7 479L401.2 479.7L403.7 480.3L406.3 480.3L408.6 481.3L408.5 482.5L406.2 482.1L403.7 481.9L401.2 481.4L398.7 480.9L397.4 480.3ZM408.6 481.8L410.1 482.1L409.5 482.6ZM410.5 482.1L411.4 481.9L411.1 482.7ZM411.7 482.2L414.2 481.9L414 482.6L411.7 482.9ZM415.2 482.1L419.1 481.8L418.9 482.6L416.1 482.6ZM419.8 484.5L421.9 482.4L424.5 482.1L421.7 483.6ZM414.2 483.6L416.5 484.1L415.7 484.5ZM414 475.2L414.7 473.6L415.2 471.6L415.6 470.8L416.7 470.1L418.6 470.5L420.4 470.6L421.9 469.9L421.2 471.1L419.4 471.3L416.8 471.3L415.6 471.9L416.1 473.6L417.3 473L419.6 472.9L418.3 474L417.1 474.1L418.6 475.7L418.3 477.7L417.3 477.4L416.6 475L415.8 475.3L416 478.5L414.8 478.5L415 477.1L414.8 476.1L414 475.2ZM424.8 469.3L425.4 470.5L426.2 470.1L425.4 471.3L426.5 472.1L425.6 472.7L424.9 471.1L424.6 469.9ZM425.4 475.7L428.8 476.4L428.1 475.8L426 475.3ZM422.9 475.6L424.4 475.8L424 476.4L423 476.2ZM429.1 473L430.6 472.2L432.9 472.9L433.4 475L434.7 475.9L437.1 473.6L438.8 473.8L441.5 475L443.6 475.8L445.9 476.7L447.4 477.9L447.7 479.2L449.5 479.5L450 480.4L451 482.7L452.4 483.6L453.6 484.5L452.3 484.5L450.1 484.2L449 483.5L447.7 481.8L446.1 481.1L444.3 481.9L444.4 482.9L443.5 483.2L441.5 483L439.2 481.8L437.8 482.1L437.4 481.1L438.6 480.3L437.6 478.4L435 477.3L432.9 476.6L431.7 476.8L430.3 475.2L431.7 474.7L430.2 473.7ZM450.5 478.7L452.7 478.4L454.5 477.1L455.5 477.1L454.7 478.5L452.7 479.4L450.8 479.3ZM453.6 475.1L455.1 475.8L456.3 477.6L455.7 477.4L454.6 476.1ZM458.3 478.4L459.9 479.9L459.3 480.3L458.6 479.2ZM460.7 480.4L463.8 481.6L464.8 482.4L463.2 482.1L461 481ZM465.6 482.2L466.9 483.9L466.4 484L465.8 482.9ZM464.6 483.2L466 483.5L465.4 483.9ZM466.9 484.3L467.9 484.8L467 484.8ZM473.1 490.3L473.9 490.6L473.7 491.1L473.2 490.9ZM473.9 491.5L475.3 492.3L474.9 492.7ZM475.2 493.4L475.7 493.5L475.4 493.9ZM470 496.6L471.8 497.9L473.7 499.3L472.9 499.3L470.2 497.2ZM486.4 493.4L487.9 493.7L487.4 494.4L486.3 494.1ZM488.1 492.3L489.8 491.8L489.2 492.5ZM407.4 498.9L407.8 502L407.3 502.6L408.3 504.2L409.3 508.2L410.1 510.8L410 513.1L409.3 514.1L411.3 515L413 515.1L414.8 514.2L416.7 513.5L419.9 513.6L421.7 512.1L424.3 511.6L426.6 510.9L429.3 510.7L431.6 511.4L433.2 512.1L434.3 514.5L435.2 514.7L435.3 513.5L437.1 512L437.6 513.2L437.5 515L438.4 514.6L437.9 515.7L439.7 516.1L440 517.8L441 518.7L442.2 519.1L443.6 519.3L445.2 518.8L446.3 518.6L447.2 519.4L448.2 520L449.7 518.7L451.4 518.3L452.6 518.1L452.9 516.2L453.9 514.1L454.7 512.5L455.7 511.3L456.5 509.2L457.1 506.6L456.5 503.9L456.3 502.7L454.5 501.4L453.6 499.7L452 499.2L451.1 496.9L448.9 495.6L447.9 494.5L447.5 492.6L446.8 490.3L445.8 489.3L444.6 487.6L443.7 485.3L443.3 485L442.7 486.4L442.2 487.8L442.1 490.3L441.2 493.2L440 493.2L439 492.5L437.5 491.8L436.3 491.3L435 490.3L434.7 489.9L435.3 488.7L436.3 486.9L435.3 486.4L433.4 486.6L431.6 486L431.1 485.8L430.1 485.7L428.8 487.1L427.9 487.8L427.2 490.2L426 490L424.6 489L423 489.2L421.7 490.5L419.9 492.1L418.6 493.4L418.2 494.4L416.7 496L414.2 496.6L411.9 497.3L411.4 497.2L409.5 498.1L408.2 499.2ZM445.9 522L448.3 522.5L450.5 522.3L450.4 523.6L449.9 525.1L448.7 525.6L447.5 525.5L446.7 524.1L446.1 522.8ZM480.7 514.2L481.9 515L482.7 516L483.3 517.2L484.2 516.8L484.7 517.9L486.1 518.6L487.9 518.3L487.7 519.4L487.2 520.2L486.1 520.5L485.8 521.4L484.7 522.6L483.8 523.1L483.2 522.8L483.7 522L483.1 521L482.1 520.3L483 519.5L483.1 517.8L482.7 516.8L481.6 515.7L480.7 514.4ZM480.7 521.8L482.4 522.4L482.7 523.2L481.7 524.7L480.9 525.6L479 526.5L478.4 528.3L477.2 529.2L475.4 529.3L473.3 528.8L473.1 527.9L474.4 526.8L475.5 526.1L478 524.9L479.1 523.6L479.9 522.4ZM519.5 445.4L520.8 445.6L520 445.1ZM519.6 447.4L520.8 446.9L521 447.7L519.9 448.4ZM518.8 445.8L519.5 445.9L519 446.3ZM514.9 444.5L515.4 444.3L515.2 444.7ZM628 536.8L630.4 537.8L631 539.2L629.8 539.6L627.5 539.8L625.8 539.8L624.8 539.3L626.1 538.4L626.9 537.2ZM638.2 535.1L640.4 535.2L639.9 536L638.3 536.2ZM621 523.4L621.5 523.5L621.6 525.2L621 525.1ZM607.6 444.7L608 444.2L609.9 443.2L611.8 443.1L613.7 443.5L615.5 444.3L617.4 445.8L620.8 446.9L620.5 447.2L618.6 447.2L616.1 446.3L615.5 445.9L614.3 445.1L611.2 444.8L609.6 444.8ZM620.6 447.2L623 447.2L625.4 447.8L627.9 448.9L628.2 449.3L625.4 449.3L623.6 449.5L621.7 449.1L620.7 449L621.5 448.5L622.6 448.2ZM616.1 449L618.2 449L618.1 449.6L616.4 449.4ZM629.5 448.9L631.5 449L631.4 449.5L629.6 449.5ZM636.2 458.5L637.3 458.4L637.2 459.4L636.2 459.3ZM616.1 438.7L616.9 438.9L616.4 439.1ZM616.5 440.6L617.1 441.4L616.8 441.7ZM618.4 441.7L619.1 442.4L618.6 442.6Z" fill="none" stroke="#000" stroke-width="1.1" stroke-linejoin="round"/>
</g>
<clipPath id="icf"><rect x="387.30" y="482.30" width="56.40" height="94.20"/></clipPath>
<g clip-path="url(#icf)">
<rect x="387.30" y="482.30" width="56.40" height="94.20" fill="#e47e56"/>
<path d="M392.5 488.6L394.3 487.9L395.8 487.8L398.1 488.5L399.6 489.6L402.1 493.1L403.4 497.6L403.5 502.8L401.8 508.1L400.3 510.3L398.8 511.6L395.8 512.8L392.8 512.2L390.3 510.3L388.3 507.1L387.1 502.8L387.1 498.3L387.9 494.6L389.8 490.9L392.5 488.6ZM436 559L440.8 559.5L443.1 560.5L445.3 562.3L445.3 572.3L443.1 574.1L440.1 575.3L435.6 575.5L431.8 574.3L428.9 571.8L427.5 568.8L427.7 565L429.5 562L432.6 560L436 559Z" fill="#e68d5a" fill-rule="evenodd"/><path d="M395 534.3L397.3 534.8L399.1 536.5L400.4 539.5L400.8 542.5L400.3 545.7L398.9 548.5L397.3 550L395.1 550.5L392.8 549.6L391.3 547.9L390.3 545.5L389.8 542.5L390.2 539.5L391.3 536.8L392.8 535.1L395 534.3Z" fill="#e17055" fill-rule="evenodd"/>
<path d="M415.5 481.3L415.5 483.1L414.7 489.4L413.9 497.3L412.3 505.2L411.5 511.5L409.2 517.8L406 522.5L405.2 527.2L404.5 533.5L403.7 538.2L401.3 542.9L399.7 547.7L399.7 552.4L400.5 557.1L403.7 561L407.6 562.6L415.5 564.2L423.3 565.8L429.6 565.8L424.9 564.2L418.6 561.8L417.8 559.5L421 555.5L422.6 550.8L424.1 546.1L423.3 542.2L425.7 539.8L429.6 538.2L431.2 534.3L429.6 531.9L434.4 531.1L438.3 528.8L443 527.2L445.3 527.2M443 527.2L437.3 527.9L431.2 527.2L421.8 526.4L417.8 527.2M412.3 521.7L414.7 522.5L417 527.2L418.8 528.8L417.8 530.4L413.1 532.7L410.7 530.4L411.5 525.6ZM407.6 562.6L411.3 561.3L415.3 560.8L417.8 561.8L413.3 563.1Z" fill="none" stroke="#222" stroke-width="0.45"/>
</g>
<rect x="387.30" y="482.30" width="56.40" height="94.20" fill="none" stroke="#1a1a1a" stroke-width="1"/>
<g stroke="#1a1a1a" stroke-width="1" fill="none"><line x1="21.70" y1="15.50" x2="32.50" y2="15.50"/><line x1="26.90" y1="27.85" x2="32.50" y2="27.85"/><line x1="26.90" y1="40.20" x2="32.50" y2="40.20"/><line x1="21.70" y1="52.55" x2="32.50" y2="52.55"/><line x1="26.90" y1="64.90" x2="32.50" y2="64.90"/><line x1="26.90" y1="77.25" x2="32.50" y2="77.25"/><line x1="21.70" y1="89.60" x2="32.50" y2="89.60"/><line x1="26.90" y1="101.95" x2="32.50" y2="101.95"/><line x1="26.90" y1="114.30" x2="32.50" y2="114.30"/><line x1="21.70" y1="126.65" x2="32.50" y2="126.65"/><line x1="26.90" y1="139.00" x2="32.50" y2="139.00"/><line x1="26.90" y1="151.35" x2="32.50" y2="151.35"/><line x1="21.70" y1="163.70" x2="32.50" y2="163.70"/><line x1="32.50" y1="163.70" x2="32.50" y2="175.00"/><line x1="44.89" y1="163.70" x2="44.89" y2="169.60"/><line x1="57.27" y1="163.70" x2="57.27" y2="169.60"/><line x1="69.66" y1="163.70" x2="69.66" y2="169.60"/><line x1="82.05" y1="163.70" x2="82.05" y2="169.60"/><line x1="94.44" y1="163.70" x2="94.44" y2="169.60"/><line x1="106.83" y1="163.70" x2="106.83" y2="175.00"/><line x1="119.21" y1="163.70" x2="119.21" y2="169.60"/><line x1="131.60" y1="163.70" x2="131.60" y2="169.60"/><line x1="143.99" y1="163.70" x2="143.99" y2="169.60"/><line x1="156.38" y1="163.70" x2="156.38" y2="169.60"/><line x1="168.76" y1="163.70" x2="168.76" y2="169.60"/><line x1="181.15" y1="163.70" x2="181.15" y2="175.00"/><line x1="193.54" y1="163.70" x2="193.54" y2="169.60"/><line x1="205.93" y1="163.70" x2="205.93" y2="169.60"/><line x1="218.31" y1="163.70" x2="218.31" y2="169.60"/><line x1="230.70" y1="163.70" x2="230.70" y2="169.60"/><line x1="243.09" y1="163.70" x2="243.09" y2="169.60"/><line x1="255.48" y1="163.70" x2="255.48" y2="175.00"/><line x1="267.86" y1="163.70" x2="267.86" y2="169.60"/><line x1="280.25" y1="163.70" x2="280.25" y2="169.60"/><line x1="292.64" y1="163.70" x2="292.64" y2="169.60"/><line x1="305.02" y1="163.70" x2="305.02" y2="169.60"/><line x1="317.41" y1="163.70" x2="317.41" y2="169.60"/><line x1="329.80" y1="163.70" x2="329.80" y2="175.00"/><rect x="32.50" y="15.50" width="297.30" height="148.20" fill="none"/></g>
<g font-size="7.9" fill="#111"><text x="16.20" y="18.70" text-anchor="end">30<tspan font-size="5.6" dy="-2.2">o</tspan><tspan dy="2.2">N</tspan></text><text x="16.20" y="55.75" text-anchor="end">0<tspan font-size="5.6" dy="-2.2">o</tspan><tspan dy="2.2"></tspan></text><text x="16.20" y="92.80" text-anchor="end">30<tspan font-size="5.6" dy="-2.2">o</tspan><tspan dy="2.2">S</tspan></text><text x="16.20" y="129.85" text-anchor="end">60<tspan font-size="5.6" dy="-2.2">o</tspan><tspan dy="2.2">S</tspan></text><text x="16.20" y="166.90" text-anchor="end">90<tspan font-size="5.6" dy="-2.2">o</tspan><tspan dy="2.2">S</tspan></text><text x="32.50" y="187.00" text-anchor="middle">90<tspan font-size="5.6" dy="-2.2">o</tspan><tspan dy="2.2">E</tspan></text><text x="106.83" y="187.00" text-anchor="middle">150<tspan font-size="5.6" dy="-2.2">o</tspan><tspan dy="2.2">E</tspan></text><text x="181.15" y="187.00" text-anchor="middle">150<tspan font-size="5.6" dy="-2.2">o</tspan><tspan dy="2.2">W</tspan></text><text x="255.48" y="187.00" text-anchor="middle">90<tspan font-size="5.6" dy="-2.2">o</tspan><tspan dy="2.2">W</tspan></text><text x="329.80" y="187.00" text-anchor="middle">30<tspan font-size="5.6" dy="-2.2">o</tspan><tspan dy="2.2">W</tspan></text></g>
<text x="32.80" y="12.00" font-size="15.5" fill="#111">(a)</text>
<g stroke="#1a1a1a" stroke-width="1" fill="none"><line x1="367.50" y1="15.50" x2="378.30" y2="15.50"/><line x1="372.70" y1="27.85" x2="378.30" y2="27.85"/><line x1="372.70" y1="40.20" x2="378.30" y2="40.20"/><line x1="367.50" y1="52.55" x2="378.30" y2="52.55"/><line x1="372.70" y1="64.90" x2="378.30" y2="64.90"/><line x1="372.70" y1="77.25" x2="378.30" y2="77.25"/><line x1="367.50" y1="89.60" x2="378.30" y2="89.60"/><line x1="372.70" y1="101.95" x2="378.30" y2="101.95"/><line x1="372.70" y1="114.30" x2="378.30" y2="114.30"/><line x1="367.50" y1="126.65" x2="378.30" y2="126.65"/><line x1="372.70" y1="139.00" x2="378.30" y2="139.00"/><line x1="372.70" y1="151.35" x2="378.30" y2="151.35"/><line x1="367.50" y1="163.70" x2="378.30" y2="163.70"/><line x1="378.30" y1="163.70" x2="378.30" y2="175.00"/><line x1="390.69" y1="163.70" x2="390.69" y2="169.60"/><line x1="403.07" y1="163.70" x2="403.07" y2="169.60"/><line x1="415.46" y1="163.70" x2="415.46" y2="169.60"/><line x1="427.85" y1="163.70" x2="427.85" y2="169.60"/><line x1="440.24" y1="163.70" x2="440.24" y2="169.60"/><line x1="452.62" y1="163.70" x2="452.62" y2="175.00"/><line x1="465.01" y1="163.70" x2="465.01" y2="169.60"/><line x1="477.40" y1="163.70" x2="477.40" y2="169.60"/><line x1="489.79" y1="163.70" x2="489.79" y2="169.60"/><line x1="502.18" y1="163.70" x2="502.18" y2="169.60"/><line x1="514.56" y1="163.70" x2="514.56" y2="169.60"/><line x1="526.95" y1="163.70" x2="526.95" y2="175.00"/><line x1="539.34" y1="163.70" x2="539.34" y2="169.60"/><line x1="551.73" y1="163.70" x2="551.73" y2="169.60"/><line x1="564.11" y1="163.70" x2="564.11" y2="169.60"/><line x1="576.50" y1="163.70" x2="576.50" y2="169.60"/><line x1="588.89" y1="163.70" x2="588.89" y2="169.60"/><line x1="601.28" y1="163.70" x2="601.28" y2="175.00"/><line x1="613.66" y1="163.70" x2="613.66" y2="169.60"/><line x1="626.05" y1="163.70" x2="626.05" y2="169.60"/><line x1="638.44" y1="163.70" x2="638.44" y2="169.60"/><line x1="650.83" y1="163.70" x2="650.83" y2="169.60"/><line x1="663.21" y1="163.70" x2="663.21" y2="169.60"/><line x1="675.60" y1="163.70" x2="675.60" y2="175.00"/><rect x="378.30" y="15.50" width="297.30" height="148.20" fill="none"/></g>
<g font-size="7.9" fill="#111"><text x="362.00" y="18.70" text-anchor="end">30<tspan font-size="5.6" dy="-2.2">o</tspan><tspan dy="2.2">N</tspan></text><text x="362.00" y="55.75" text-anchor="end">0<tspan font-size="5.6" dy="-2.2">o</tspan><tspan dy="2.2"></tspan></text><text x="362.00" y="92.80" text-anchor="end">30<tspan font-size="5.6" dy="-2.2">o</tspan><tspan dy="2.2">S</tspan></text><text x="362.00" y="129.85" text-anchor="end">60<tspan font-size="5.6" dy="-2.2">o</tspan><tspan dy="2.2">S</tspan></text><text x="362.00" y="166.90" text-anchor="end">90<tspan font-size="5.6" dy="-2.2">o</tspan><tspan dy="2.2">S</tspan></text><text x="378.30" y="187.00" text-anchor="middle">90<tspan font-size="5.6" dy="-2.2">o</tspan><tspan dy="2.2">E</tspan></text><text x="452.62" y="187.00" text-anchor="middle">150<tspan font-size="5.6" dy="-2.2">o</tspan><tspan dy="2.2">E</tspan></text><text x="526.95" y="187.00" text-anchor="middle">150<tspan font-size="5.6" dy="-2.2">o</tspan><tspan dy="2.2">W</tspan></text><text x="601.28" y="187.00" text-anchor="middle">90<tspan font-size="5.6" dy="-2.2">o</tspan><tspan dy="2.2">W</tspan></text><text x="675.60" y="187.00" text-anchor="middle">30<tspan font-size="5.6" dy="-2.2">o</tspan><tspan dy="2.2">W</tspan></text></g>
<text x="675.80" y="12.00" font-size="15.5" fill="#111" text-anchor="end">(b)</text>
<g stroke="#1a1a1a" stroke-width="1" fill="none"><line x1="21.70" y1="225.80" x2="32.50" y2="225.80"/><line x1="26.90" y1="238.15" x2="32.50" y2="238.15"/><line x1="26.90" y1="250.50" x2="32.50" y2="250.50"/><line x1="21.70" y1="262.85" x2="32.50" y2="262.85"/><line x1="26.90" y1="275.20" x2="32.50" y2="275.20"/><line x1="26.90" y1="287.55" x2="32.50" y2="287.55"/><line x1="21.70" y1="299.90" x2="32.50" y2="299.90"/><line x1="26.90" y1="312.25" x2="32.50" y2="312.25"/><line x1="26.90" y1="324.60" x2="32.50" y2="324.60"/><line x1="21.70" y1="336.95" x2="32.50" y2="336.95"/><line x1="26.90" y1="349.30" x2="32.50" y2="349.30"/><line x1="26.90" y1="361.65" x2="32.50" y2="361.65"/><line x1="21.70" y1="374.00" x2="32.50" y2="374.00"/><line x1="32.50" y1="374.00" x2="32.50" y2="385.30"/><line x1="44.89" y1="374.00" x2="44.89" y2="379.90"/><line x1="57.27" y1="374.00" x2="57.27" y2="379.90"/><line x1="69.66" y1="374.00" x2="69.66" y2="379.90"/><line x1="82.05" y1="374.00" x2="82.05" y2="379.90"/><line x1="94.44" y1="374.00" x2="94.44" y2="379.90"/><line x1="106.83" y1="374.00" x2="106.83" y2="385.30"/><line x1="119.21" y1="374.00" x2="119.21" y2="379.90"/><line x1="131.60" y1="374.00" x2="131.60" y2="379.90"/><line x1="143.99" y1="374.00" x2="143.99" y2="379.90"/><line x1="156.38" y1="374.00" x2="156.38" y2="379.90"/><line x1="168.76" y1="374.00" x2="168.76" y2="379.90"/><line x1="181.15" y1="374.00" x2="181.15" y2="385.30"/><line x1="193.54" y1="374.00" x2="193.54" y2="379.90"/><line x1="205.93" y1="374.00" x2="205.93" y2="379.90"/><line x1="218.31" y1="374.00" x2="218.31" y2="379.90"/><line x1="230.70" y1="374.00" x2="230.70" y2="379.90"/><line x1="243.09" y1="374.00" x2="243.09" y2="379.90"/><line x1="255.48" y1="374.00" x2="255.48" y2="385.30"/><line x1="267.86" y1="374.00" x2="267.86" y2="379.90"/><line x1="280.25" y1="374.00" x2="280.25" y2="379.90"/><line x1="292.64" y1="374.00" x2="292.64" y2="379.90"/><line x1="305.02" y1="374.00" x2="305.02" y2="379.90"/><line x1="317.41" y1="374.00" x2="317.41" y2="379.90"/><line x1="329.80" y1="374.00" x2="329.80" y2="385.30"/><rect x="32.50" y="225.80" width="297.30" height="148.20" fill="none"/></g>
<g font-size="7.9" fill="#111"><text x="16.20" y="229.00" text-anchor="end">30<tspan font-size="5.6" dy="-2.2">o</tspan><tspan dy="2.2">N</tspan></text><text x="16.20" y="266.05" text-anchor="end">0<tspan font-size="5.6" dy="-2.2">o</tspan><tspan dy="2.2"></tspan></text><text x="16.20" y="303.10" text-anchor="end">30<tspan font-size="5.6" dy="-2.2">o</tspan><tspan dy="2.2">S</tspan></text><text x="16.20" y="340.15" text-anchor="end">60<tspan font-size="5.6" dy="-2.2">o</tspan><tspan dy="2.2">S</tspan></text><text x="16.20" y="377.20" text-anchor="end">90<tspan font-size="5.6" dy="-2.2">o</tspan><tspan dy="2.2">S</tspan></text><text x="32.50" y="397.30" text-anchor="middle">90<tspan font-size="5.6" dy="-2.2">o</tspan><tspan dy="2.2">E</tspan></text><text x="106.83" y="397.30" text-anchor="middle">150<tspan font-size="5.6" dy="-2.2">o</tspan><tspan dy="2.2">E</tspan></text><text x="181.15" y="397.30" text-anchor="middle">150<tspan font-size="5.6" dy="-2.2">o</tspan><tspan dy="2.2">W</tspan></text><text x="255.48" y="397.30" text-anchor="middle">90<tspan font-size="5.6" dy="-2.2">o</tspan><tspan dy="2.2">W</tspan></text><text x="329.80" y="397.30" text-anchor="middle">30<tspan font-size="5.6" dy="-2.2">o</tspan><tspan dy="2.2">W</tspan></text></g>
<text x="32.80" y="222.30" font-size="15.5" fill="#111">(c)</text>
<g stroke="#1a1a1a" stroke-width="1" fill="none"><line x1="367.50" y1="225.80" x2="378.30" y2="225.80"/><line x1="372.70" y1="238.15" x2="378.30" y2="238.15"/><line x1="372.70" y1="250.50" x2="378.30" y2="250.50"/><line x1="367.50" y1="262.85" x2="378.30" y2="262.85"/><line x1="372.70" y1="275.20" x2="378.30" y2="275.20"/><line x1="372.70" y1="287.55" x2="378.30" y2="287.55"/><line x1="367.50" y1="299.90" x2="378.30" y2="299.90"/><line x1="372.70" y1="312.25" x2="378.30" y2="312.25"/><line x1="372.70" y1="324.60" x2="378.30" y2="324.60"/><line x1="367.50" y1="336.95" x2="378.30" y2="336.95"/><line x1="372.70" y1="349.30" x2="378.30" y2="349.30"/><line x1="372.70" y1="361.65" x2="378.30" y2="361.65"/><line x1="367.50" y1="374.00" x2="378.30" y2="374.00"/><line x1="378.30" y1="374.00" x2="378.30" y2="385.30"/><line x1="390.69" y1="374.00" x2="390.69" y2="379.90"/><line x1="403.07" y1="374.00" x2="403.07" y2="379.90"/><line x1="415.46" y1="374.00" x2="415.46" y2="379.90"/><line x1="427.85" y1="374.00" x2="427.85" y2="379.90"/><line x1="440.24" y1="374.00" x2="440.24" y2="379.90"/><line x1="452.62" y1="374.00" x2="452.62" y2="385.30"/><line x1="465.01" y1="374.00" x2="465.01" y2="379.90"/><line x1="477.40" y1="374.00" x2="477.40" y2="379.90"/><line x1="489.79" y1="374.00" x2="489.79" y2="379.90"/><line x1="502.18" y1="374.00" x2="502.18" y2="379.90"/><line x1="514.56" y1="374.00" x2="514.56" y2="379.90"/><line x1="526.95" y1="374.00" x2="526.95" y2="385.30"/><line x1="539.34" y1="374.00" x2="539.34" y2="379.90"/><line x1="551.73" y1="374.00" x2="551.73" y2="379.90"/><line x1="564.11" y1="374.00" x2="564.11" y2="379.90"/><line x1="576.50" y1="374.00" x2="576.50" y2="379.90"/><line x1="588.89" y1="374.00" x2="588.89" y2="379.90"/><line x1="601.28" y1="374.00" x2="601.28" y2="385.30"/><line x1="613.66" y1="374.00" x2="613.66" y2="379.90"/><line x1="626.05" y1="374.00" x2="626.05" y2="379.90"/><line x1="638.44" y1="374.00" x2="638.44" y2="379.90"/><line x1="650.83" y1="374.00" x2="650.83" y2="379.90"/><line x1="663.21" y1="374.00" x2="663.21" y2="379.90"/><line x1="675.60" y1="374.00" x2="675.60" y2="385.30"/><rect x="378.30" y="225.80" width="297.30" height="148.20" fill="none"/></g>
<g font-size="7.9" fill="#111"><text x="362.00" y="229.00" text-anchor="end">30<tspan font-size="5.6" dy="-2.2">o</tspan><tspan dy="2.2">N</tspan></text><text x="362.00" y="266.05" text-anchor="end">0<tspan font-size="5.6" dy="-2.2">o</tspan><tspan dy="2.2"></tspan></text><text x="362.00" y="303.10" text-anchor="end">30<tspan font-size="5.6" dy="-2.2">o</tspan><tspan dy="2.2">S</tspan></text><text x="362.00" y="340.15" text-anchor="end">60<tspan font-size="5.6" dy="-2.2">o</tspan><tspan dy="2.2">S</tspan></text><text x="362.00" y="377.20" text-anchor="end">90<tspan font-size="5.6" dy="-2.2">o</tspan><tspan dy="2.2">S</tspan></text><text x="378.30" y="397.30" text-anchor="middle">90<tspan font-size="5.6" dy="-2.2">o</tspan><tspan dy="2.2">E</tspan></text><text x="452.62" y="397.30" text-anchor="middle">150<tspan font-size="5.6" dy="-2.2">o</tspan><tspan dy="2.2">E</tspan></text><text x="526.95" y="397.30" text-anchor="middle">150<tspan font-size="5.6" dy="-2.2">o</tspan><tspan dy="2.2">W</tspan></text><text x="601.28" y="397.30" text-anchor="middle">90<tspan font-size="5.6" dy="-2.2">o</tspan><tspan dy="2.2">W</tspan></text><text x="675.60" y="397.30" text-anchor="middle">30<tspan font-size="5.6" dy="-2.2">o</tspan><tspan dy="2.2">W</tspan></text></g>
<text x="675.80" y="222.30" font-size="15.5" fill="#111" text-anchor="end">(d)</text>
<g stroke="#1a1a1a" stroke-width="1" fill="none"><line x1="21.70" y1="434.70" x2="32.50" y2="434.70"/><line x1="26.90" y1="447.05" x2="32.50" y2="447.05"/><line x1="26.90" y1="459.40" x2="32.50" y2="459.40"/><line x1="21.70" y1="471.75" x2="32.50" y2="471.75"/><line x1="26.90" y1="484.10" x2="32.50" y2="484.10"/><line x1="26.90" y1="496.45" x2="32.50" y2="496.45"/><line x1="21.70" y1="508.80" x2="32.50" y2="508.80"/><line x1="26.90" y1="521.15" x2="32.50" y2="521.15"/><line x1="26.90" y1="533.50" x2="32.50" y2="533.50"/><line x1="21.70" y1="545.85" x2="32.50" y2="545.85"/><line x1="26.90" y1="558.20" x2="32.50" y2="558.20"/><line x1="26.90" y1="570.55" x2="32.50" y2="570.55"/><line x1="21.70" y1="582.90" x2="32.50" y2="582.90"/><line x1="32.50" y1="582.90" x2="32.50" y2="594.20"/><line x1="44.89" y1="582.90" x2="44.89" y2="588.80"/><line x1="57.27" y1="582.90" x2="57.27" y2="588.80"/><line x1="69.66" y1="582.90" x2="69.66" y2="588.80"/><line x1="82.05" y1="582.90" x2="82.05" y2="588.80"/><line x1="94.44" y1="582.90" x2="94.44" y2="588.80"/><line x1="106.83" y1="582.90" x2="106.83" y2="594.20"/><line x1="119.21" y1="582.90" x2="119.21" y2="588.80"/><line x1="131.60" y1="582.90" x2="131.60" y2="588.80"/><line x1="143.99" y1="582.90" x2="143.99" y2="588.80"/><line x1="156.38" y1="582.90" x2="156.38" y2="588.80"/><line x1="168.76" y1="582.90" x2="168.76" y2="588.80"/><line x1="181.15" y1="582.90" x2="181.15" y2="594.20"/><line x1="193.54" y1="582.90" x2="193.54" y2="588.80"/><line x1="205.93" y1="582.90" x2="205.93" y2="588.80"/><line x1="218.31" y1="582.90" x2="218.31" y2="588.80"/><line x1="230.70" y1="582.90" x2="230.70" y2="588.80"/><line x1="243.09" y1="582.90" x2="243.09" y2="588.80"/><line x1="255.48" y1="582.90" x2="255.48" y2="594.20"/><line x1="267.86" y1="582.90" x2="267.86" y2="588.80"/><line x1="280.25" y1="582.90" x2="280.25" y2="588.80"/><line x1="292.64" y1="582.90" x2="292.64" y2="588.80"/><line x1="305.02" y1="582.90" x2="305.02" y2="588.80"/><line x1="317.41" y1="582.90" x2="317.41" y2="588.80"/><line x1="329.80" y1="582.90" x2="329.80" y2="594.20"/><rect x="32.50" y="434.70" width="297.30" height="148.20" fill="none"/></g>
<g font-size="7.9" fill="#111"><text x="16.20" y="437.90" text-anchor="end">30<tspan font-size="5.6" dy="-2.2">o</tspan><tspan dy="2.2">N</tspan></text><text x="16.20" y="474.95" text-anchor="end">0<tspan font-size="5.6" dy="-2.2">o</tspan><tspan dy="2.2"></tspan></text><text x="16.20" y="512.00" text-anchor="end">30<tspan font-size="5.6" dy="-2.2">o</tspan><tspan dy="2.2">S</tspan></text><text x="16.20" y="549.05" text-anchor="end">60<tspan font-size="5.6" dy="-2.2">o</tspan><tspan dy="2.2">S</tspan></text><text x="16.20" y="586.10" text-anchor="end">90<tspan font-size="5.6" dy="-2.2">o</tspan><tspan dy="2.2">S</tspan></text><text x="32.50" y="606.20" text-anchor="middle">90<tspan font-size="5.6" dy="-2.2">o</tspan><tspan dy="2.2">E</tspan></text><text x="106.83" y="606.20" text-anchor="middle">150<tspan font-size="5.6" dy="-2.2">o</tspan><tspan dy="2.2">E</tspan></text><text x="181.15" y="606.20" text-anchor="middle">150<tspan font-size="5.6" dy="-2.2">o</tspan><tspan dy="2.2">W</tspan></text><text x="255.48" y="606.20" text-anchor="middle">90<tspan font-size="5.6" dy="-2.2">o</tspan><tspan dy="2.2">W</tspan></text><text x="329.80" y="606.20" text-anchor="middle">30<tspan font-size="5.6" dy="-2.2">o</tspan><tspan dy="2.2">W</tspan></text></g>
<text x="32.80" y="431.20" font-size="15.5" fill="#111">(e)</text>
<g stroke="#1a1a1a" stroke-width="1" fill="none"><line x1="367.50" y1="434.70" x2="378.30" y2="434.70"/><line x1="372.70" y1="447.05" x2="378.30" y2="447.05"/><line x1="372.70" y1="459.40" x2="378.30" y2="459.40"/><line x1="367.50" y1="471.75" x2="378.30" y2="471.75"/><line x1="372.70" y1="484.10" x2="378.30" y2="484.10"/><line x1="372.70" y1="496.45" x2="378.30" y2="496.45"/><line x1="367.50" y1="508.80" x2="378.30" y2="508.80"/><line x1="372.70" y1="521.15" x2="378.30" y2="521.15"/><line x1="372.70" y1="533.50" x2="378.30" y2="533.50"/><line x1="367.50" y1="545.85" x2="378.30" y2="545.85"/><line x1="372.70" y1="558.20" x2="378.30" y2="558.20"/><line x1="372.70" y1="570.55" x2="378.30" y2="570.55"/><line x1="367.50" y1="582.90" x2="378.30" y2="582.90"/><line x1="378.30" y1="582.90" x2="378.30" y2="594.20"/><line x1="390.69" y1="582.90" x2="390.69" y2="588.80"/><line x1="403.07" y1="582.90" x2="403.07" y2="588.80"/><line x1="415.46" y1="582.90" x2="415.46" y2="588.80"/><line x1="427.85" y1="582.90" x2="427.85" y2="588.80"/><line x1="440.24" y1="582.90" x2="440.24" y2="588.80"/><line x1="452.62" y1="582.90" x2="452.62" y2="594.20"/><line x1="465.01" y1="582.90" x2="465.01" y2="588.80"/><line x1="477.40" y1="582.90" x2="477.40" y2="588.80"/><line x1="489.79" y1="582.90" x2="489.79" y2="588.80"/><line x1="502.18" y1="582.90" x2="502.18" y2="588.80"/><line x1="514.56" y1="582.90" x2="514.56" y2="588.80"/><line x1="526.95" y1="582.90" x2="526.95" y2="594.20"/><line x1="539.34" y1="582.90" x2="539.34" y2="588.80"/><line x1="551.73" y1="582.90" x2="551.73" y2="588.80"/><line x1="564.11" y1="582.90" x2="564.11" y2="588.80"/><line x1="576.50" y1="582.90" x2="576.50" y2="588.80"/><line x1="588.89" y1="582.90" x2="588.89" y2="588.80"/><line x1="601.28" y1="582.90" x2="601.28" y2="594.20"/><line x1="613.66" y1="582.90" x2="613.66" y2="588.80"/><line x1="626.05" y1="582.90" x2="626.05" y2="588.80"/><line x1="638.44" y1="582.90" x2="638.44" y2="588.80"/><line x1="650.83" y1="582.90" x2="650.83" y2="588.80"/><line x1="663.21" y1="582.90" x2="663.21" y2="588.80"/><line x1="675.60" y1="582.90" x2="675.60" y2="594.20"/><rect x="378.30" y="434.70" width="297.30" height="148.20" fill="none"/></g>
<g font-size="7.9" fill="#111"><text x="362.00" y="437.90" text-anchor="end">30<tspan font-size="5.6" dy="-2.2">o</tspan><tspan dy="2.2">N</tspan></text><text x="362.00" y="474.95" text-anchor="end">0<tspan font-size="5.6" dy="-2.2">o</tspan><tspan dy="2.2"></tspan></text><text x="362.00" y="512.00" text-anchor="end">30<tspan font-size="5.6" dy="-2.2">o</tspan><tspan dy="2.2">S</tspan></text><text x="362.00" y="549.05" text-anchor="end">60<tspan font-size="5.6" dy="-2.2">o</tspan><tspan dy="2.2">S</tspan></text><text x="362.00" y="586.10" text-anchor="end">90<tspan font-size="5.6" dy="-2.2">o</tspan><tspan dy="2.2">S</tspan></text><text x="378.30" y="606.20" text-anchor="middle">90<tspan font-size="5.6" dy="-2.2">o</tspan><tspan dy="2.2">E</tspan></text><text x="452.62" y="606.20" text-anchor="middle">150<tspan font-size="5.6" dy="-2.2">o</tspan><tspan dy="2.2">E</tspan></text><text x="526.95" y="606.20" text-anchor="middle">150<tspan font-size="5.6" dy="-2.2">o</tspan><tspan dy="2.2">W</tspan></text><text x="601.28" y="606.20" text-anchor="middle">90<tspan font-size="5.6" dy="-2.2">o</tspan><tspan dy="2.2">W</tspan></text><text x="675.60" y="606.20" text-anchor="middle">30<tspan font-size="5.6" dy="-2.2">o</tspan><tspan dy="2.2">W</tspan></text></g>
<text x="675.80" y="431.20" font-size="15.5" fill="#111" text-anchor="end">(f)</text>
<polygon points="233.20,204.65 244.20,201.80 244.20,207.50" fill="#0a0aff"/><rect x="244.20" y="201.80" width="12.08" height="5.70" fill="#0f0fff"/><rect x="255.98" y="201.80" width="12.08" height="5.70" fill="#2823f5"/><rect x="267.76" y="201.80" width="12.08" height="5.70" fill="#4641f2"/><rect x="279.54" y="201.80" width="12.08" height="5.70" fill="#6464f5"/><rect x="291.32" y="201.80" width="12.08" height="5.70" fill="#7a7af6"/><rect x="303.10" y="201.80" width="12.08" height="5.70" fill="#9191fa"/><rect x="314.88" y="201.80" width="12.08" height="5.70" fill="#a5a5fa"/><rect x="326.66" y="201.80" width="12.08" height="5.70" fill="#bbbbfc"/><rect x="338.44" y="201.80" width="12.08" height="5.70" fill="#d2d2ff"/><rect x="350.22" y="201.80" width="12.08" height="5.70" fill="#e8e8ff"/><rect x="362.00" y="201.80" width="12.08" height="5.70" fill="#fce8e8"/><rect x="373.78" y="201.80" width="12.08" height="5.70" fill="#f8d4d8"/><rect x="385.56" y="201.80" width="12.08" height="5.70" fill="#f4c0c8"/><rect x="397.34" y="201.80" width="12.08" height="5.70" fill="#f2acb6"/><rect x="409.12" y="201.80" width="12.08" height="5.70" fill="#f198a2"/><rect x="420.90" y="201.80" width="12.08" height="5.70" fill="#f1828c"/><rect x="432.68" y="201.80" width="12.08" height="5.70" fill="#f26870"/><rect x="444.46" y="201.80" width="12.08" height="5.70" fill="#f65054"/><rect x="456.24" y="201.80" width="12.08" height="5.70" fill="#fa3437"/><rect x="468.02" y="201.80" width="12.08" height="5.70" fill="#ff1e1e"/><polygon points="479.80,201.80 490.80,204.65 479.80,207.50" fill="#ff1612"/><g stroke="#000" stroke-opacity="0.25" stroke-width="0.5"><line x1="244.20" y1="201.80" x2="244.20" y2="207.50"/><line x1="255.98" y1="201.80" x2="255.98" y2="207.50"/><line x1="267.76" y1="201.80" x2="267.76" y2="207.50"/><line x1="279.54" y1="201.80" x2="279.54" y2="207.50"/><line x1="291.32" y1="201.80" x2="291.32" y2="207.50"/><line x1="303.10" y1="201.80" x2="303.10" y2="207.50"/><line x1="314.88" y1="201.80" x2="314.88" y2="207.50"/><line x1="326.66" y1="201.80" x2="326.66" y2="207.50"/><line x1="338.44" y1="201.80" x2="338.44" y2="207.50"/><line x1="350.22" y1="201.80" x2="350.22" y2="207.50"/><line x1="362.00" y1="201.80" x2="362.00" y2="207.50"/><line x1="373.78" y1="201.80" x2="373.78" y2="207.50"/><line x1="385.56" y1="201.80" x2="385.56" y2="207.50"/><line x1="397.34" y1="201.80" x2="397.34" y2="207.50"/><line x1="409.12" y1="201.80" x2="409.12" y2="207.50"/><line x1="420.90" y1="201.80" x2="420.90" y2="207.50"/><line x1="432.68" y1="201.80" x2="432.68" y2="207.50"/><line x1="444.46" y1="201.80" x2="444.46" y2="207.50"/><line x1="456.24" y1="201.80" x2="456.24" y2="207.50"/><line x1="468.02" y1="201.80" x2="468.02" y2="207.50"/><line x1="479.80" y1="201.80" x2="479.80" y2="207.50"/></g>
<g font-size="8.9" fill="#111"><text x="244.20" y="216.20" text-anchor="middle">-0.25</text><text x="267.76" y="216.20" text-anchor="middle">-0.2</text><text x="291.32" y="216.20" text-anchor="middle">-0.15</text><text x="314.88" y="216.20" text-anchor="middle">-0.1</text><text x="338.44" y="216.20" text-anchor="middle">-0.05</text><text x="362.00" y="216.20" text-anchor="middle">0</text><text x="385.56" y="216.20" text-anchor="middle">0.05</text><text x="409.12" y="216.20" text-anchor="middle">0.1</text><text x="432.68" y="216.20" text-anchor="middle">0.15</text><text x="456.24" y="216.20" text-anchor="middle">0.2</text><text x="479.80" y="216.20" text-anchor="middle">0.25</text></g>
<text x="363.00" y="198.80" font-size="11.6" fill="#111" text-anchor="middle">Suface temperature anomalies (°C)</text>
<polygon points="234.30,415.60 245.30,412.90 245.30,418.30" fill="#7e5f1a"/><rect x="245.30" y="412.90" width="12.00" height="5.40" fill="#a06220"/><rect x="257.00" y="412.90" width="12.00" height="5.40" fill="#b0702a"/><rect x="268.70" y="412.90" width="12.00" height="5.40" fill="#be8038"/><rect x="280.40" y="412.90" width="12.00" height="5.40" fill="#c88e42"/><rect x="292.10" y="412.90" width="12.00" height="5.40" fill="#d2aa5f"/><rect x="303.80" y="412.90" width="12.00" height="5.40" fill="#ddba7a"/><rect x="315.50" y="412.90" width="12.00" height="5.40" fill="#e6ce98"/><rect x="327.20" y="412.90" width="12.00" height="5.40" fill="#ece5ba"/><rect x="338.90" y="412.90" width="12.00" height="5.40" fill="#f0f0d6"/><rect x="350.60" y="412.90" width="12.00" height="5.40" fill="#f3f3ee"/><rect x="362.30" y="412.90" width="12.00" height="5.40" fill="#e6eeee"/><rect x="374.00" y="412.90" width="12.00" height="5.40" fill="#d6ebe6"/><rect x="385.70" y="412.90" width="12.00" height="5.40" fill="#b9ead6"/><rect x="397.40" y="412.90" width="12.00" height="5.40" fill="#9ce0c8"/><rect x="409.10" y="412.90" width="12.00" height="5.40" fill="#82d2b9"/><rect x="420.80" y="412.90" width="12.00" height="5.40" fill="#6abea6"/><rect x="432.50" y="412.90" width="12.00" height="5.40" fill="#5aab96"/><rect x="444.20" y="412.90" width="12.00" height="5.40" fill="#4a9b84"/><rect x="455.90" y="412.90" width="12.00" height="5.40" fill="#3e8e76"/><rect x="467.60" y="412.90" width="12.00" height="5.40" fill="#348168"/><polygon points="479.30,412.90 490.30,415.60 479.30,418.30" fill="#267254"/><g stroke="#000" stroke-opacity="0.25" stroke-width="0.5"><line x1="245.30" y1="412.90" x2="245.30" y2="418.30"/><line x1="257.00" y1="412.90" x2="257.00" y2="418.30"/><line x1="268.70" y1="412.90" x2="268.70" y2="418.30"/><line x1="280.40" y1="412.90" x2="280.40" y2="418.30"/><line x1="292.10" y1="412.90" x2="292.10" y2="418.30"/><line x1="303.80" y1="412.90" x2="303.80" y2="418.30"/><line x1="315.50" y1="412.90" x2="315.50" y2="418.30"/><line x1="327.20" y1="412.90" x2="327.20" y2="418.30"/><line x1="338.90" y1="412.90" x2="338.90" y2="418.30"/><line x1="350.60" y1="412.90" x2="350.60" y2="418.30"/><line x1="362.30" y1="412.90" x2="362.30" y2="418.30"/><line x1="374.00" y1="412.90" x2="374.00" y2="418.30"/><line x1="385.70" y1="412.90" x2="385.70" y2="418.30"/><line x1="397.40" y1="412.90" x2="397.40" y2="418.30"/><line x1="409.10" y1="412.90" x2="409.10" y2="418.30"/><line x1="420.80" y1="412.90" x2="420.80" y2="418.30"/><line x1="432.50" y1="412.90" x2="432.50" y2="418.30"/><line x1="444.20" y1="412.90" x2="444.20" y2="418.30"/><line x1="455.90" y1="412.90" x2="455.90" y2="418.30"/><line x1="467.60" y1="412.90" x2="467.60" y2="418.30"/><line x1="479.30" y1="412.90" x2="479.30" y2="418.30"/></g>
<g font-size="8.9" fill="#111"><text x="245.30" y="426.80" text-anchor="middle">-0.5</text><text x="268.70" y="426.80" text-anchor="middle">-0.4</text><text x="292.10" y="426.80" text-anchor="middle">-0.3</text><text x="315.50" y="426.80" text-anchor="middle">-0.2</text><text x="338.90" y="426.80" text-anchor="middle">-0.1</text><text x="362.30" y="426.80" text-anchor="middle">0</text><text x="385.70" y="426.80" text-anchor="middle">0.1</text><text x="409.10" y="426.80" text-anchor="middle">0.2</text><text x="432.50" y="426.80" text-anchor="middle">0.3</text><text x="455.90" y="426.80" text-anchor="middle">0.4</text><text x="479.30" y="426.80" text-anchor="middle">0.5</text></g>
<text x="363.00" y="408.30" font-size="11.6" fill="#111" text-anchor="middle">Precipitation anomalies (mm·day<tspan font-size="7" dy="-4">-1</tspan><tspan dy="4">)</tspan></text>
<polygon points="53.10,624.50 64.10,621.80 64.10,627.20" fill="#2d37a5"/><rect x="64.10" y="621.80" width="12.02" height="5.40" fill="#3c55af"/><rect x="75.82" y="621.80" width="12.02" height="5.40" fill="#4b70b9"/><rect x="87.54" y="621.80" width="12.02" height="5.40" fill="#5a87c3"/><rect x="99.26" y="621.80" width="12.02" height="5.40" fill="#6e9bcd"/><rect x="110.98" y="621.80" width="12.02" height="5.40" fill="#7dacd4"/><rect x="122.70" y="621.80" width="12.02" height="5.40" fill="#92bfdc"/><rect x="134.42" y="621.80" width="12.02" height="5.40" fill="#a7d2e2"/><rect x="146.14" y="621.80" width="12.02" height="5.40" fill="#bee2eb"/><rect x="157.86" y="621.80" width="12.02" height="5.40" fill="#d6f0f0"/><rect x="169.58" y="621.80" width="12.02" height="5.40" fill="#eaf2e4"/><rect x="181.30" y="621.80" width="12.02" height="5.40" fill="#f0ecb4"/><rect x="193.02" y="621.80" width="12.02" height="5.40" fill="#f1de88"/><rect x="204.74" y="621.80" width="12.02" height="5.40" fill="#f4c876"/><rect x="216.46" y="621.80" width="12.02" height="5.40" fill="#f2b064"/><rect x="228.18" y="621.80" width="12.02" height="5.40" fill="#f09856"/><rect x="239.90" y="621.80" width="12.02" height="5.40" fill="#eb7e46"/><rect x="251.62" y="621.80" width="12.02" height="5.40" fill="#e6643c"/><rect x="263.34" y="621.80" width="12.02" height="5.40" fill="#dc4832"/><rect x="275.06" y="621.80" width="12.02" height="5.40" fill="#cd2e2c"/><rect x="286.78" y="621.80" width="12.02" height="5.40" fill="#b91e28"/><polygon points="298.50,621.80 309.50,624.50 298.50,627.20" fill="#a50f23"/><g stroke="#000" stroke-opacity="0.25" stroke-width="0.5"><line x1="64.10" y1="621.80" x2="64.10" y2="627.20"/><line x1="75.82" y1="621.80" x2="75.82" y2="627.20"/><line x1="87.54" y1="621.80" x2="87.54" y2="627.20"/><line x1="99.26" y1="621.80" x2="99.26" y2="627.20"/><line x1="110.98" y1="621.80" x2="110.98" y2="627.20"/><line x1="122.70" y1="621.80" x2="122.70" y2="627.20"/><line x1="134.42" y1="621.80" x2="134.42" y2="627.20"/><line x1="146.14" y1="621.80" x2="146.14" y2="627.20"/><line x1="157.86" y1="621.80" x2="157.86" y2="627.20"/><line x1="169.58" y1="621.80" x2="169.58" y2="627.20"/><line x1="181.30" y1="621.80" x2="181.30" y2="627.20"/><line x1="193.02" y1="621.80" x2="193.02" y2="627.20"/><line x1="204.74" y1="621.80" x2="204.74" y2="627.20"/><line x1="216.46" y1="621.80" x2="216.46" y2="627.20"/><line x1="228.18" y1="621.80" x2="228.18" y2="627.20"/><line x1="239.90" y1="621.80" x2="239.90" y2="627.20"/><line x1="251.62" y1="621.80" x2="251.62" y2="627.20"/><line x1="263.34" y1="621.80" x2="263.34" y2="627.20"/><line x1="275.06" y1="621.80" x2="275.06" y2="627.20"/><line x1="286.78" y1="621.80" x2="286.78" y2="627.20"/><line x1="298.50" y1="621.80" x2="298.50" y2="627.20"/></g>
<g font-size="8.9" fill="#111"><text x="64.10" y="635.80" text-anchor="middle">-0.25</text><text x="87.54" y="635.80" text-anchor="middle">-0.2</text><text x="110.98" y="635.80" text-anchor="middle">-0.15</text><text x="134.42" y="635.80" text-anchor="middle">-0.1</text><text x="157.86" y="635.80" text-anchor="middle">-0.05</text><text x="181.30" y="635.80" text-anchor="middle">0</text><text x="204.74" y="635.80" text-anchor="middle">0.05</text><text x="228.18" y="635.80" text-anchor="middle">0.1</text><text x="251.62" y="635.80" text-anchor="middle">0.15</text><text x="275.06" y="635.80" text-anchor="middle">0.2</text><text x="298.50" y="635.80" text-anchor="middle">0.25</text></g>
<text x="182.00" y="617.80" font-size="11.6" fill="#111" text-anchor="middle">Regressed temperature (°C)</text>
<polygon points="398.40,624.50 409.40,621.80 409.40,627.20" fill="#f5e6a0"/><rect x="409.40" y="621.80" width="12.02" height="5.40" fill="#f0d88e"/><rect x="421.12" y="621.80" width="12.02" height="5.40" fill="#eec97e"/><rect x="432.84" y="621.80" width="12.02" height="5.40" fill="#ecba73"/><rect x="444.56" y="621.80" width="12.02" height="5.40" fill="#ebab69"/><rect x="456.28" y="621.80" width="12.02" height="5.40" fill="#e99c60"/><rect x="468.00" y="621.80" width="12.02" height="5.40" fill="#e68d5a"/><rect x="479.72" y="621.80" width="12.02" height="5.40" fill="#e47e56"/><rect x="491.44" y="621.80" width="12.02" height="5.40" fill="#e17055"/><rect x="503.16" y="621.80" width="12.02" height="5.40" fill="#dc6155"/><rect x="514.88" y="621.80" width="12.02" height="5.40" fill="#d45256"/><rect x="526.60" y="621.80" width="12.02" height="5.40" fill="#c8435a"/><rect x="538.32" y="621.80" width="12.02" height="5.40" fill="#ba3860"/><rect x="550.04" y="621.80" width="12.02" height="5.40" fill="#a82e64"/><rect x="561.76" y="621.80" width="12.02" height="5.40" fill="#982869"/><rect x="573.48" y="621.80" width="12.02" height="5.40" fill="#88236e"/><rect x="585.20" y="621.80" width="12.02" height="5.40" fill="#781e6a"/><rect x="596.92" y="621.80" width="12.02" height="5.40" fill="#681a64"/><rect x="608.64" y="621.80" width="12.02" height="5.40" fill="#56155a"/><rect x="620.36" y="621.80" width="12.02" height="5.40" fill="#44104e"/><rect x="632.08" y="621.80" width="12.02" height="5.40" fill="#340e42"/><polygon points="643.80,621.80 654.80,624.50 643.80,627.20" fill="#280a37"/><g stroke="#000" stroke-opacity="0.25" stroke-width="0.5"><line x1="409.40" y1="621.80" x2="409.40" y2="627.20"/><line x1="421.12" y1="621.80" x2="421.12" y2="627.20"/><line x1="432.84" y1="621.80" x2="432.84" y2="627.20"/><line x1="444.56" y1="621.80" x2="444.56" y2="627.20"/><line x1="456.28" y1="621.80" x2="456.28" y2="627.20"/><line x1="468.00" y1="621.80" x2="468.00" y2="627.20"/><line x1="479.72" y1="621.80" x2="479.72" y2="627.20"/><line x1="491.44" y1="621.80" x2="491.44" y2="627.20"/><line x1="503.16" y1="621.80" x2="503.16" y2="627.20"/><line x1="514.88" y1="621.80" x2="514.88" y2="627.20"/><line x1="526.60" y1="621.80" x2="526.60" y2="627.20"/><line x1="538.32" y1="621.80" x2="538.32" y2="627.20"/><line x1="550.04" y1="621.80" x2="550.04" y2="627.20"/><line x1="561.76" y1="621.80" x2="561.76" y2="627.20"/><line x1="573.48" y1="621.80" x2="573.48" y2="627.20"/><line x1="585.20" y1="621.80" x2="585.20" y2="627.20"/><line x1="596.92" y1="621.80" x2="596.92" y2="627.20"/><line x1="608.64" y1="621.80" x2="608.64" y2="627.20"/><line x1="620.36" y1="621.80" x2="620.36" y2="627.20"/><line x1="632.08" y1="621.80" x2="632.08" y2="627.20"/><line x1="643.80" y1="621.80" x2="643.80" y2="627.20"/></g>
<g font-size="8.9" fill="#111"><text x="409.40" y="635.80" text-anchor="middle">0</text><text x="432.84" y="635.80" text-anchor="middle">0.03</text><text x="456.28" y="635.80" text-anchor="middle">0.06</text><text x="479.72" y="635.80" text-anchor="middle">0.09</text><text x="503.16" y="635.80" text-anchor="middle">0.12</text><text x="526.60" y="635.80" text-anchor="middle">0.15</text><text x="550.04" y="635.80" text-anchor="middle">0.18</text><text x="573.48" y="635.80" text-anchor="middle">0.21</text><text x="596.92" y="635.80" text-anchor="middle">0.24</text><text x="620.36" y="635.80" text-anchor="middle">0.27</text><text x="643.80" y="635.80" text-anchor="middle">0.3</text></g>
<text x="527.00" y="617.80" font-size="11.6" fill="#111" text-anchor="middle">Temperature trend (°C·decade<tspan font-size="7" dy="-4">-1</tspan><tspan dy="4">)</tspan></text>
</svg>
</body></html>
